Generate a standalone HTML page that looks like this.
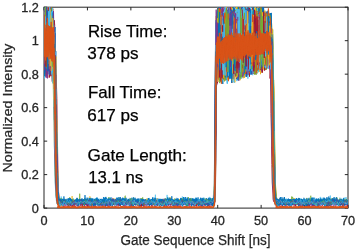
<!DOCTYPE html>
<html><head><meta charset="utf-8"><style>
html,body{margin:0;padding:0;background:#fff;}
svg{display:block;font-family:"Liberation Sans",sans-serif;will-change:transform;}
</style></head><body>
<svg width="357" height="250" viewBox="0 0 357 250">
<defs><clipPath id="c"><rect x="44.0" y="7.2" width="304.0" height="201.4"/></clipPath></defs>
<rect x="44.0" y="7.2" width="304.0" height="200.9" fill="none" stroke="#262626" stroke-width="1"/>
<path d="M44.00,208.1v-3.2M44.00,7.2v3.2M87.43,208.1v-3.2M87.43,7.2v3.2M130.86,208.1v-3.2M130.86,7.2v3.2M174.29,208.1v-3.2M174.29,7.2v3.2M217.71,208.1v-3.2M217.71,7.2v3.2M261.14,208.1v-3.2M261.14,7.2v3.2M304.57,208.1v-3.2M304.57,7.2v3.2M348.00,208.1v-3.2M348.00,7.2v3.2M44.0,208.10h3.2M348.0,208.10h-3.2M44.0,174.62h3.2M348.0,174.62h-3.2M44.0,141.13h3.2M348.0,141.13h-3.2M44.0,107.65h3.2M348.0,107.65h-3.2M44.0,74.17h3.2M348.0,74.17h-3.2M44.0,40.68h3.2M348.0,40.68h-3.2M44.0,7.20h3.2M348.0,7.20h-3.2" stroke="#262626" stroke-width="1" fill="none"/>
<g clip-path="url(#c)"><g fill="none" stroke-linejoin="round">
<path d="M57.2 194.3L57.7 196.4L58.1 201.6L58.6 197.9L59.4 198.3L59.9 201.3L60.3 201.2L60.7 202.6L61.2 196.5L61.6 201.0L62.0 198.1L62.5 201.8L63.3 203.5L63.8 201.4L64.2 199.1L64.6 202.8L65.1 198.9L65.9 202.5L66.4 201.6L66.8 201.5L67.2 200.8L67.7 201.6L68.5 201.2L69.0 202.5L69.4 202.9L69.8 200.8L70.3 199.3L70.7 203.3L71.1 200.7L71.6 201.8L72.0 202.4L72.4 199.3L73.3 198.2L73.8 202.0L74.2 200.1L74.6 201.1L75.1 202.0L75.5 199.7L76.4 199.7L76.8 200.8L77.2 202.6L77.7 200.9L78.5 199.1L79.0 202.3L79.4 200.8L79.8 203.6L80.3 199.6L80.7 202.5L81.1 203.8L81.6 200.8L82.0 198.9L82.4 203.3L83.3 202.0L83.7 202.6L84.2 200.1L84.6 202.1L85.5 199.8L85.9 202.0L86.3 200.0L86.8 202.4L87.2 202.8L87.6 203.8L88.1 197.6L88.5 201.3L89.4 200.8L89.8 200.5L90.3 200.7L90.7 197.5L91.1 202.5L91.6 198.6L92.4 203.0L92.9 199.5L93.3 199.4L93.7 202.3L94.2 203.1L94.6 201.3L95.0 198.4L95.5 205.5L96.3 202.5L96.8 197.3L97.2 202.5L97.6 201.2L98.1 203.3L98.9 198.4L99.4 199.4L99.8 199.9L100.2 202.2L100.7 199.3L101.1 201.4L101.5 200.8L102.4 200.9L102.8 202.6L103.3 200.8L103.7 200.8L104.2 198.6L104.6 197.6L105.5 202.0L105.9 200.8L106.3 201.8L106.8 202.0L107.2 200.8L107.6 202.5L108.1 199.7L108.5 200.9L109.4 197.4L109.8 202.0L110.2 202.3L110.7 201.1L111.1 201.7L111.5 200.3L112.4 203.0L112.8 200.6L113.3 203.0L113.7 201.8L114.1 201.2L114.6 204.2L115.4 200.5L115.9 201.0L116.3 201.4L116.7 197.7L117.2 202.4L117.6 201.2L118.5 200.6L118.9 202.7L119.4 200.3L119.8 200.5L120.2 201.0L120.7 201.5L121.1 199.8L121.5 203.5L122.4 200.3L122.8 200.3L123.3 200.1L123.7 201.8L124.1 201.2L124.6 199.7L125.4 200.4L125.9 203.3L126.3 199.8L126.7 198.8L127.2 199.0L127.6 200.3L128.0 203.3L128.5 199.2L129.3 205.0L129.8 197.9L130.2 203.2L130.6 202.9L131.1 201.8L131.5 198.6L132.4 200.3L132.8 197.8L133.2 198.1L133.7 200.9L134.6 198.7L135.0 201.9L135.4 200.0L135.9 200.1L136.3 200.5L136.7 199.1L137.2 202.0L137.6 200.8L138.5 199.8L138.9 198.9L139.3 200.1L139.8 201.3L140.2 200.1L140.6 202.4L141.1 203.5L141.5 199.8L142.4 200.2L142.8 203.6L143.2 201.3L143.7 201.7L144.5 204.5L145.0 201.3L145.4 199.2L145.8 200.1L146.3 201.7L146.7 200.8L147.1 199.5L147.6 205.4L148.0 200.9L148.9 199.6L149.3 197.9L149.8 198.8L150.2 200.2L150.6 200.2L151.1 199.4L151.5 201.6L152.4 199.2L152.8 197.5L153.2 201.0L153.7 200.8L154.5 198.5L155.0 200.8L155.4 194.7L155.8 202.4L156.3 201.0L156.7 201.1L157.1 199.4L157.6 199.0L158.0 203.3L158.9 200.2L159.3 201.8L159.7 203.3L160.2 199.0L160.6 199.9L161.5 201.5L161.9 199.0L162.3 201.1L162.8 198.9L163.2 202.3L163.6 202.2L164.5 201.9L165.0 199.6L165.4 200.3L165.8 199.2L166.3 200.6L166.7 201.3L167.1 194.9L167.6 201.8L168.4 198.7L168.9 197.0L169.3 197.4L169.7 200.6L170.2 200.4L170.6 198.2L171.5 202.4L171.9 200.5L172.3 200.0L172.8 202.1L173.2 203.5L173.6 203.1L174.1 199.6L174.5 202.0L175.4 200.4L175.8 199.7L176.2 201.3L176.7 199.9L177.5 201.3L178.0 202.4L178.4 198.8L178.8 200.8L179.3 202.0L179.7 201.3L180.2 201.1L180.6 199.6L181.0 203.4L181.9 201.4L182.3 196.5L182.8 199.1L183.2 200.9L183.6 199.5L184.1 197.3L184.9 201.3L185.4 198.7L185.8 199.9L186.2 199.6L186.7 201.6L187.1 197.5L188.0 199.8L188.4 199.6L188.8 204.1L189.3 199.7L189.7 201.1L190.1 200.0L190.6 199.6L191.4 203.6L191.9 198.2L192.3 202.0L192.7 201.3L193.2 201.7L193.6 201.3L194.0 204.6L194.5 198.7L195.4 198.9L195.8 197.4L196.2 200.7L196.7 203.8L197.5 202.8L198.0 201.6L198.4 200.6L198.8 204.1L199.3 200.2L199.7 203.3L200.1 200.2L201.0 201.3L201.4 200.9L201.9 201.6L202.3 201.8L202.7 203.6L203.2 200.8L203.6 197.6L204.0 197.4L204.9 199.6L205.3 201.9L205.8 198.3L206.2 200.8L206.6 200.8L207.5 200.6L207.9 201.5L208.4 200.9L208.8 198.7L209.2 201.4L209.7 196.9L210.6 201.1L211.0 199.8L211.4 199.5L211.9 202.6L212.3 201.1L212.7 199.2L213.2 200.3L213.6 200.4L214.0 197.4L214.5 198.1L214.9 186.8M275.2 195.3L275.6 201.0L276.1 199.7L276.9 200.8L277.4 204.2L277.8 199.2L278.2 201.4L278.7 201.5L279.1 201.2L280.0 200.1L280.4 202.9L280.8 202.3L281.3 200.2L281.7 200.5L282.1 201.4L282.6 201.7L283.0 202.1L283.9 198.8L284.3 200.0L284.7 198.2L285.2 199.3L285.6 201.5L286.0 199.4L286.9 203.6L287.4 202.9L287.8 201.4L288.2 201.3L288.7 201.6L289.5 204.3L290.0 199.9L290.4 203.1L290.8 201.8L291.3 201.4L291.7 202.7L292.1 203.0L293.0 200.8L293.4 199.7L293.9 199.8L294.3 202.4L294.7 202.1L295.2 202.3L295.6 200.0L296.0 204.1L296.5 198.7L297.3 202.0L297.8 200.2L298.2 199.0L298.6 200.2L299.5 200.5L299.9 198.7L300.4 198.6L300.8 200.9L301.2 198.3L301.7 200.5L302.1 200.6L302.6 202.3L303.4 199.4L303.9 202.9L304.3 199.6L304.7 200.2L305.2 200.3L305.6 204.4L306.5 199.6L306.9 202.0L307.3 200.6L307.8 204.7L308.2 199.6L308.6 201.8L309.1 199.3L309.5 203.8L310.4 201.1L310.8 199.4L311.2 202.3L311.7 201.8L312.1 197.0L312.5 202.1L313.4 201.2L313.8 202.4L314.3 198.7L314.7 197.8L315.1 201.9L315.6 203.6L316.0 198.8L316.9 199.4L317.3 198.8L317.8 202.2L318.2 201.0L318.6 203.1L319.1 203.1L319.5 199.1L320.4 196.9L320.8 200.6L321.2 201.8L321.7 199.4L322.1 197.7L323.0 202.8L323.4 200.1L323.8 198.4L324.3 201.6L324.7 202.0L325.1 199.0L325.6 200.5L326.0 202.6L326.4 201.4L327.3 200.2L327.7 200.6L328.2 198.8L328.6 199.5L329.0 203.4L329.9 199.2L330.3 195.5L330.8 199.0L331.2 201.7L331.6 202.3L332.5 198.1L333.0 204.3L333.4 199.0L333.8 201.9L334.3 201.2L334.7 203.1L335.1 203.0L336.0 201.3L336.4 200.1L336.9 204.6L337.3 199.5L337.7 202.7L338.2 202.5L338.6 199.6L339.5 203.3L339.9 197.6L340.3 202.2L340.8 200.3L341.2 200.4L341.6 198.4L342.5 199.0L342.9 202.0L343.4 198.9L343.8 202.0L344.2 201.3L344.7 197.6L345.5 200.5L346.0 197.0L346.4 200.1L346.8 202.1L347.3 199.5L347.7 202.7" stroke="#4DBEEE" stroke-width="0.7"/>
<path d="M57.1 178.6L57.6 193.4L58.0 197.6L58.9 199.2L59.3 201.7L59.8 199.8L60.2 201.7L60.6 203.7L61.1 198.0L61.9 202.0L62.4 200.6L62.8 203.4L63.2 203.1L63.7 201.8L64.1 201.9L65.0 199.4L65.4 201.8L65.8 200.3L66.3 200.2L66.7 202.7L67.1 200.7L67.6 202.5L68.0 199.5L68.9 201.0L69.3 203.1L69.7 197.2L70.2 202.2L70.6 200.0L71.5 202.3L71.9 199.7L72.3 200.0L72.8 202.0L73.2 199.3L73.7 201.5L74.5 200.9L75.0 202.2L75.4 201.7L75.8 201.3L76.3 198.8L76.7 198.8L77.1 201.5L77.6 198.6L78.4 200.5L78.9 199.7L79.3 200.6L79.7 193.7L80.2 200.7L80.6 202.9L81.0 199.1L81.5 201.7L82.3 205.6L82.8 199.6L83.2 199.8L83.6 199.9L84.5 198.5L84.9 201.1L85.4 199.7L85.8 202.2L86.2 201.6L86.7 199.5L87.1 200.5L87.5 203.1L88.4 201.3L88.9 202.3L89.3 200.4L89.7 201.7L90.2 203.4L90.6 202.7L91.0 198.4L91.5 203.4L92.3 200.1L92.8 200.1L93.2 202.9L93.6 201.6L94.5 199.9L94.9 202.0L95.4 202.8L95.8 199.6L96.2 199.4L96.7 200.5L97.1 202.0L97.5 200.5L98.4 199.8L98.8 203.0L99.3 200.9L99.7 201.3L100.1 202.7L100.6 200.7L101.4 201.7L101.9 200.5L102.3 203.2L102.7 201.1L103.2 200.4L103.6 200.6L104.1 199.4L104.9 203.3L105.4 200.7L105.8 198.7L106.2 197.9L106.7 200.1L107.1 202.4L107.5 199.9L108.4 203.3L108.8 197.1L109.3 200.6L109.7 200.0L110.6 198.3L111.0 200.6L111.4 199.2L111.9 202.6L112.3 203.2L112.7 198.9L113.2 198.8L113.6 200.3L114.0 200.7L114.9 202.1L115.3 198.8L115.8 200.1L116.2 200.3L116.6 200.5L117.1 199.5L117.5 200.3L118.4 202.8L118.8 200.3L119.3 197.8L119.7 201.8L120.1 201.3L121.0 199.6L121.4 200.1L121.9 203.5L122.3 200.3L122.7 202.9L123.2 202.3L123.6 200.2L124.0 201.5L124.9 196.3L125.3 195.7L125.8 200.0L126.2 202.4L126.6 202.0L127.5 201.9L127.9 202.7L128.4 202.1L128.8 201.4L129.2 202.6L129.7 203.2L130.1 203.1L130.5 198.3L131.4 199.5L131.8 199.5L132.3 201.6L132.7 200.1L133.1 203.2L133.6 197.6L134.0 199.3L134.9 202.8L135.3 200.5L135.8 203.9L136.2 202.2L136.6 199.9L137.5 201.8L137.9 199.6L138.4 202.6L138.8 200.6L139.2 201.8L139.7 202.3L140.5 202.6L141.0 198.2L141.4 201.9L141.8 198.1L142.3 202.7L142.7 197.3L143.1 202.9L143.6 203.1L144.4 200.0L144.9 203.0L145.3 199.3L145.7 202.3L146.2 200.9L146.6 200.5L147.5 203.8L147.9 198.6L148.3 200.2L148.8 201.7L149.2 202.6L149.7 203.6L150.1 203.1L150.5 200.2L151.4 202.8L151.8 201.9L152.3 198.7L152.7 201.6L153.1 201.9L153.6 199.0L154.4 201.0L154.9 202.0L155.3 203.4L155.7 202.8L156.2 201.8L156.6 201.4L157.5 200.2L157.9 200.7L158.3 200.7L158.8 202.6L159.2 204.3L159.6 201.9L160.1 202.5L160.9 201.5L161.4 202.9L161.8 202.7L162.2 201.2L162.7 200.9L163.1 202.1L163.5 200.3L164.4 202.6L164.9 201.0L165.3 198.2L165.7 202.1L166.2 199.3L166.6 199.0L167.5 202.3L167.9 198.0L168.3 200.9L168.8 201.5L169.2 201.4L169.6 200.2L170.5 201.3L170.9 199.1L171.4 202.2L171.8 202.6L172.2 199.9L172.7 200.0L173.1 199.4L173.5 202.7L174.4 200.3L174.8 198.4L175.3 202.9L175.7 200.7L176.1 201.5L176.6 203.5L177.0 202.1L177.4 199.4L178.3 202.2L178.7 199.8L179.2 199.6L179.6 199.6L180.1 202.3L180.9 199.5L181.4 202.1L181.8 199.7L182.2 199.8L182.7 198.7L183.1 202.8L183.5 205.0L184.4 202.6L184.8 201.3L185.3 200.1L185.7 201.3L186.1 202.1L187.0 200.5L187.4 201.1L187.9 202.0L188.3 197.0L188.7 199.8L189.2 202.3L189.6 202.6L190.0 201.7L190.5 203.5L191.3 202.2L191.8 199.7L192.2 201.7L192.6 199.9L193.1 203.1L193.9 201.2L194.4 201.4L194.8 199.4L195.3 202.0L195.7 199.5L196.1 200.7L197.0 204.1L197.4 203.0L197.9 200.0L198.3 199.0L198.7 200.8L199.2 199.9L199.6 201.7L200.5 202.1L200.9 199.6L201.3 200.6L201.8 199.7L202.2 201.6L202.6 200.2L203.5 202.3L203.9 198.5L204.4 200.7L204.8 201.1L205.2 198.8L205.7 199.5L206.5 200.3L207.0 202.7L207.4 202.0L207.8 202.6L208.3 199.2L208.7 203.9L209.1 200.0L209.6 202.3L210.0 202.5L210.9 200.7L211.3 200.1L211.8 198.4L212.2 200.5L212.6 199.7L213.1 202.0L213.5 200.0L214.4 201.1L214.8 193.2M275.2 194.7L275.6 198.0L276.0 201.9L276.5 197.5L277.3 199.6L277.8 202.8L278.2 201.6L278.6 201.9L279.5 202.8L279.9 200.4L280.4 200.7L280.8 200.5L281.2 201.8L281.7 199.1L282.1 200.8L282.5 205.2L283.4 201.2L283.8 199.6L284.3 201.5L284.7 201.4L285.2 202.1L285.6 200.1L286.0 201.7L286.9 202.2L287.3 200.2L287.8 201.9L288.2 203.6L288.6 200.1L289.1 202.1L289.9 200.5L290.4 199.3L290.8 199.5L291.2 201.9L291.7 196.5L292.1 203.0L292.5 196.9L293.4 199.0L293.8 201.5L294.3 204.2L294.7 198.8L295.1 200.9L295.6 200.9L296.0 201.0L296.4 200.1L297.3 203.5L297.7 199.4L298.2 201.9L298.6 198.6L299.0 198.5L299.9 201.6L300.4 203.9L300.8 200.8L301.2 200.3L301.7 201.2L302.5 202.3L303.0 203.0L303.4 200.7L303.8 199.8L304.3 199.5L304.7 202.2L305.6 200.2L306.0 201.8L306.4 201.3L306.9 197.9L307.3 200.8L307.7 199.7L308.2 201.7L308.6 201.0L309.0 203.7L309.9 199.3L310.3 197.9L310.8 195.7L311.2 200.0L311.6 201.0L312.1 202.0L312.5 198.0L313.4 202.3L313.8 199.7L314.2 202.6L314.7 203.7L315.1 202.6L315.6 203.6L316.4 199.4L316.9 201.4L317.3 200.7L317.7 199.3L318.2 199.2L318.6 201.8L319.0 199.1L319.9 201.1L320.3 200.4L320.8 203.2L321.2 202.3L321.6 201.2L322.1 200.1L322.5 201.6L323.4 199.6L323.8 198.9L324.2 199.9L324.7 199.2L325.1 201.7L326.0 200.6L326.4 201.5L326.8 201.8L327.3 198.6L327.7 201.4L328.1 202.5L328.6 200.3L329.0 198.3L329.4 200.9L330.3 201.7L330.8 201.8L331.2 202.1L331.6 201.3L332.1 198.3L332.5 202.8L333.4 202.6L333.8 201.4L334.2 199.8L334.7 200.1L335.5 201.4L336.0 200.5L336.4 202.6L336.8 197.2L337.3 201.4L337.7 200.8L338.1 202.8L338.6 201.8L339.0 203.0L339.4 199.6L340.3 200.2L340.7 202.1L341.2 201.8L341.6 199.1L342.5 203.8L342.9 200.5L343.3 202.8L343.8 201.7L344.2 199.7L344.6 202.3L345.5 202.1L346.0 198.8L346.4 199.1L346.8 201.8L347.3 201.4L347.7 202.3" stroke="#77AC30" stroke-width="0.7"/>
<path d="M57.4 191.5L57.8 199.3L58.2 196.8L58.7 198.9L59.5 200.1L60.0 202.6L60.4 203.2L60.8 201.6L61.3 202.1L61.7 202.9L62.1 202.0L62.6 202.8L63.4 201.5L63.9 200.5L64.3 202.1L64.8 203.3L65.2 203.2L65.6 201.8L66.1 199.4L66.9 202.3L67.4 200.2L67.8 203.0L68.2 200.1L68.7 202.0L69.1 200.4L70.0 201.8L70.4 201.0L70.8 202.9L71.3 201.6L71.7 200.0L72.1 196.0L72.6 200.5L73.4 202.8L73.9 200.0L74.3 203.7L74.7 202.5L75.2 201.0L75.6 203.1L76.0 199.4L76.9 202.2L77.3 202.2L77.8 203.2L78.2 203.3L78.6 200.9L79.1 200.6L80.0 201.1L80.4 202.2L80.8 201.0L81.3 203.4L81.7 201.5L82.1 199.5L83.0 202.1L83.4 201.9L83.9 199.6L84.3 199.1L84.7 203.5L85.2 202.0L85.6 201.2L86.0 199.8L86.5 202.6L87.3 201.9L87.8 198.3L88.2 200.9L88.6 201.6L89.1 201.9L89.9 196.3L90.4 202.9L90.8 201.2L91.2 203.3L91.7 202.5L92.5 203.2L93.0 202.4L93.4 202.8L93.8 200.8L94.3 200.4L94.7 201.8L95.2 203.0L95.6 200.4L96.0 204.2L96.9 200.5L97.3 200.6L97.8 200.2L98.2 201.8L98.6 203.2L99.5 200.7L99.9 202.5L100.4 202.4L100.8 203.3L101.2 203.0L101.7 200.3L102.1 200.9L102.5 203.0L103.4 202.2L103.8 200.7L104.3 203.0L104.7 201.7L105.1 204.3L105.6 203.2L106.4 200.3L106.9 203.0L107.3 202.5L107.7 200.4L108.2 202.0L108.6 202.2L109.5 201.2L109.9 200.0L110.4 200.4L110.8 202.2L111.2 201.6L111.7 201.5L112.1 203.3L113.0 200.2L113.4 203.6L113.8 198.2L114.3 201.1L114.7 201.6L115.6 200.8L116.0 199.8L116.4 202.0L116.9 201.8L117.3 201.8L117.7 198.9L118.2 200.2L118.6 202.7L119.5 202.4L119.9 201.4L120.3 201.2L120.8 198.4L121.2 203.9L121.6 200.1L122.1 200.9L122.5 202.4L123.4 202.1L123.8 201.4L124.2 200.1L124.7 203.5L125.6 202.0L126.0 199.4L126.4 200.9L126.9 199.8L127.3 200.7L127.7 200.0L128.2 201.4L128.6 202.6L129.0 200.5L129.9 198.6L130.3 204.1L130.8 201.7L131.2 200.0L131.6 203.1L132.1 201.8L132.5 198.6L133.4 202.6L133.8 199.5L134.2 199.9L134.7 200.4L135.1 200.9L136.0 202.6L136.4 202.1L136.8 200.5L137.3 201.3L137.7 199.0L138.1 201.9L138.6 204.7L139.0 201.9L139.9 200.9L140.3 201.4L140.8 202.5L141.2 199.4L141.6 202.3L142.1 200.5L142.9 203.0L143.4 199.5L143.8 204.8L144.2 202.6L144.7 200.9L145.1 201.9L145.5 200.4L146.4 202.0L146.8 198.5L147.3 201.7L147.7 201.6L148.1 202.9L148.6 202.4L149.0 200.6L149.9 201.4L150.3 202.4L150.7 200.5L151.2 203.7L151.6 201.9L152.5 202.6L152.9 201.2L153.3 202.3L153.8 202.5L154.2 199.0L154.6 200.4L155.1 199.8L155.5 201.4L156.4 200.4L156.8 199.8L157.3 198.2L157.7 201.7L158.1 201.1L159.0 206.1L159.4 203.3L159.9 201.4L160.3 200.6L160.7 202.2L161.2 199.9L161.6 199.7L162.0 202.0L162.9 199.1L163.3 200.8L163.8 202.7L164.2 199.4L164.6 201.6L165.5 199.3L165.9 202.1L166.4 200.0L166.8 200.4L167.2 199.8L167.7 200.6L168.1 202.5L169.0 200.2L169.4 201.9L169.8 197.5L170.3 201.7L170.7 197.5L171.2 199.9L171.6 200.4L172.5 201.7L172.9 200.8L173.3 200.3L173.8 200.4L174.2 201.8L174.6 200.8L175.1 200.3L175.9 205.5L176.4 202.6L176.8 202.4L177.2 201.7L177.7 201.2L178.1 200.2L179.0 201.6L179.4 201.4L179.8 199.0L180.3 200.2L180.7 201.0L181.1 199.3L181.6 200.9L182.0 204.1L182.4 200.9L183.3 201.6L183.7 200.0L184.2 200.8L184.6 201.8L185.0 200.2L185.9 201.3L186.4 201.0L186.8 201.1L187.2 201.9L187.7 202.0L188.1 201.4L189.0 203.1L189.4 199.7L189.8 201.7L190.3 201.4L190.7 201.6L191.6 201.4L192.0 201.3L192.4 202.5L192.9 200.2L193.3 202.3L193.7 200.0L194.2 204.0L194.6 202.8L195.0 200.1L195.9 202.3L196.3 200.9L196.8 202.8L197.2 201.3L197.6 204.4L198.5 202.3L198.9 200.7L199.4 200.2L199.8 202.5L200.2 199.2L200.7 202.2L201.6 204.6L202.0 199.3L202.4 201.5L202.9 202.3L203.3 202.4L203.7 202.9L204.2 199.6L204.6 201.5L205.0 199.0L205.9 204.6L206.3 200.3L206.8 201.9L207.2 201.7L207.6 199.3L208.1 201.8L208.5 199.8L209.4 202.4L209.8 200.7L210.2 202.2L210.7 199.8L211.1 200.1L211.5 201.3L212.4 200.6L212.8 201.8L213.3 200.1L213.7 201.4L214.1 197.9L214.6 195.8L215.0 158.1M275.2 199.0L275.6 200.4L276.5 201.3L276.9 199.3L277.3 200.7L277.8 199.8L278.2 205.5L278.7 200.9L279.5 198.7L280.0 201.3L280.4 203.7L280.8 200.6L281.3 202.2L281.7 203.8L282.1 202.2L283.0 199.7L283.4 200.4L283.9 202.8L284.3 198.0L284.7 202.9L285.2 201.5L285.6 203.3L286.0 199.6L286.5 200.8L287.3 201.2L287.8 201.4L288.2 201.1L288.6 203.9L289.1 200.0L289.9 201.9L290.4 201.4L290.8 200.9L291.2 199.2L291.7 200.8L292.1 201.3L293.0 203.4L293.4 202.1L293.9 201.3L294.3 198.1L294.7 201.2L295.2 200.3L295.6 200.8L296.5 200.5L296.9 201.1L297.3 201.4L297.8 200.7L298.2 203.7L298.6 199.7L299.1 203.1L299.5 200.2L300.4 199.9L300.8 201.3L301.2 202.6L301.7 199.9L302.1 201.1L303.0 201.2L303.4 200.0L303.8 200.2L304.3 201.0L304.7 203.4L305.1 201.9L305.6 201.2L306.0 198.9L306.9 201.5L307.3 199.7L307.7 201.5L308.2 201.4L308.6 201.1L309.1 203.3L309.5 200.0L310.4 201.7L310.8 202.9L311.2 201.0L311.7 199.5L312.5 202.8L313.0 200.8L313.4 203.5L313.8 204.3L314.3 201.9L314.7 202.3L315.6 202.1L316.0 200.9L316.4 201.6L316.9 202.1L317.3 201.9L317.7 200.5L318.2 200.0L318.6 200.1L319.0 200.4L319.5 205.7L320.3 201.7L320.8 201.0L321.2 203.5L321.6 199.4L322.1 200.9L322.5 202.2L323.4 201.8L323.8 202.3L324.3 200.6L324.7 201.9L325.1 203.2L326.0 201.5L326.4 202.8L326.9 199.6L327.3 202.8L327.7 199.0L328.2 200.1L328.6 202.6L329.5 199.7L329.9 201.6L330.3 202.9L330.8 201.2L331.2 198.7L331.6 203.3L332.1 200.6L332.9 201.5L333.4 198.7L333.8 201.7L334.2 199.9L334.7 200.5L335.1 198.8L336.0 203.0L336.4 200.4L336.8 201.1L337.3 199.7L337.7 200.8L338.1 199.9L338.6 201.3L339.5 200.8L339.9 198.4L340.3 202.2L340.8 199.7L341.2 200.7L341.6 201.1L342.5 200.7L342.9 203.3L343.4 203.1L343.8 200.4L344.2 203.4L344.7 199.4L345.1 201.7L345.5 201.0L346.4 200.7L346.8 201.7L347.3 201.8L347.7 201.5" stroke="#EDB120" stroke-width="0.7"/>
<path d="M57.4 199.7L57.8 203.1L58.3 203.0L58.7 203.9L59.1 203.5L59.6 205.2L60.0 204.7L60.4 204.3L61.3 205.5L61.7 202.6L62.2 205.1L62.6 203.7L63.5 203.2L63.9 207.2L64.3 202.2L64.8 204.9L65.2 206.1L65.7 204.5L66.1 202.0L67.0 206.1L67.4 205.2L67.8 203.1L68.3 206.3L68.7 204.8L69.1 205.0L69.6 202.1L70.4 203.1L70.9 205.4L71.3 205.6L71.7 203.5L72.2 203.9L72.6 206.6L73.5 203.9L73.9 205.3L74.3 204.4L74.8 204.3L75.2 205.2L75.6 205.3L76.5 204.9L76.9 206.2L77.4 204.7L77.8 206.4L78.2 204.5L78.7 204.7L79.1 205.8L80.0 202.4L80.4 203.1L80.9 206.2L81.3 203.1L81.7 204.4L82.2 204.7L82.6 205.3L83.0 204.6L83.5 203.0L84.3 205.1L84.8 205.4L85.2 205.1L85.6 203.9L86.1 202.5L86.5 205.9L87.4 205.1L87.8 205.5L88.2 204.2L88.7 204.0L89.1 206.3L90.0 203.2L90.4 204.3L90.8 204.0L91.3 205.2L91.7 205.1L92.1 204.1L92.6 205.2L93.0 205.9L93.9 203.6L94.3 205.8L94.7 203.4L95.2 203.8L95.6 205.6L96.5 204.7L96.9 203.9L97.4 203.9L97.8 206.1L98.2 206.2L98.7 203.4L99.1 204.5L99.5 204.1L100.4 202.8L100.8 206.0L101.3 203.4L101.7 205.6L102.6 203.1L103.0 206.2L103.4 204.2L103.9 204.9L104.3 205.0L104.7 204.6L105.2 205.8L105.6 205.7L106.5 203.6L106.9 205.3L107.3 206.3L107.8 201.9L108.2 203.4L108.6 204.2L109.1 205.8L109.9 204.3L110.4 205.7L110.8 202.8L111.3 204.5L111.7 204.2L112.1 205.8L113.0 205.5L113.4 204.3L113.9 204.9L114.3 205.0L114.7 204.3L115.2 204.4L115.6 202.9L116.5 205.8L116.9 204.6L117.3 202.9L117.8 205.3L118.2 204.6L118.6 205.0L119.1 204.2L119.9 205.6L120.4 204.9L120.8 203.5L121.2 203.4L121.7 203.6L122.1 203.6L123.0 205.0L123.4 203.6L123.8 206.0L124.3 204.7L124.7 206.8L125.1 205.1L125.6 205.4L126.0 206.0L126.5 204.0L127.3 205.0L127.8 204.9L128.2 205.5L128.6 203.0L129.5 204.4L129.9 206.1L130.4 205.2L130.8 205.0L131.2 205.0L131.7 205.3L132.5 202.8L133.0 204.8L133.4 204.8L133.8 205.1L134.3 201.7L134.7 202.8L135.1 204.0L135.6 203.8L136.0 205.4L136.9 204.4L137.3 204.5L137.7 205.6L138.2 205.5L138.6 204.0L139.0 204.3L139.5 207.0L140.3 203.2L140.8 205.4L141.2 204.3L141.7 206.3L142.1 203.7L143.0 206.1L143.4 205.0L143.8 201.9L144.3 205.3L144.7 206.1L145.6 204.4L146.0 202.7L146.4 206.1L146.9 206.5L147.3 205.0L147.7 204.2L148.2 204.2L148.6 203.4L149.0 206.3L149.9 204.8L150.3 203.7L150.8 204.1L151.2 205.1L151.6 205.8L152.1 203.6L152.9 201.5L153.4 204.8L153.8 202.8L154.2 206.0L154.7 205.2L155.5 205.2L156.0 205.6L156.4 205.2L156.9 204.7L157.3 205.1L157.7 203.9L158.2 204.7L158.6 204.6L159.0 202.9L159.9 204.4L160.3 204.6L160.8 204.5L161.2 204.0L161.6 205.5L162.1 203.3L162.5 202.8L163.4 205.2L163.8 206.4L164.2 205.1L164.7 204.4L165.1 203.7L166.0 205.0L166.4 202.9L166.8 205.4L167.3 203.4L167.7 203.6L168.1 206.1L168.6 204.3L169.0 205.3L169.9 206.7L170.3 206.4L170.7 204.1L171.2 205.1L171.6 204.3L172.1 205.8L172.9 204.9L173.4 206.4L173.8 206.5L174.2 204.1L174.7 204.4L175.1 205.7L176.0 203.9L176.4 202.5L176.8 205.6L177.3 203.9L177.7 202.2L178.6 202.9L179.0 207.6L179.4 203.0L179.9 204.6L180.3 206.8L180.7 203.7L181.2 203.4L181.6 203.2L182.0 203.2L182.9 205.5L183.3 205.1L183.8 204.7L184.2 204.2L184.6 205.2L185.1 204.6L185.5 203.6L186.4 202.0L186.8 202.1L187.3 205.9L187.7 205.3L188.1 206.1L189.0 204.0L189.4 205.8L189.9 205.8L190.3 204.9L190.7 203.7L191.2 205.0L191.6 205.0L192.0 203.6L192.9 204.1L193.3 203.5L193.8 205.8L194.2 204.4L194.6 205.3L195.1 203.4L195.9 205.8L196.4 203.1L196.8 206.0L197.2 203.3L197.7 204.4L198.5 205.9L199.0 205.0L199.4 204.6L199.8 205.4L200.3 204.0L200.7 206.2L201.1 204.6L201.6 204.6L202.0 206.8L202.5 204.3L203.3 207.5L203.8 205.3L204.2 204.9L204.6 203.6L205.1 205.2L205.5 202.9L206.4 203.4L206.8 203.1L207.2 204.2L207.7 205.3L208.5 203.5L209.0 204.3L209.4 204.9L209.8 206.4L210.3 203.8L210.7 204.2L211.1 206.1L211.6 204.5L212.4 204.7L212.9 203.7L213.3 203.6L213.7 205.2L214.2 197.8L214.6 159.9L215.0 84.4M275.3 201.8L275.8 201.3L276.2 204.7L276.6 203.6L277.1 207.4L277.9 203.8L278.4 205.2L278.8 204.5L279.2 206.6L279.7 202.9L280.1 204.0L280.6 204.7L281.4 204.3L281.9 203.1L282.3 204.5L282.7 206.4L283.2 205.0L283.6 203.2L284.5 205.2L284.9 204.0L285.3 204.6L285.8 204.0L286.2 206.5L286.6 205.7L287.1 203.9L287.5 205.0L288.4 202.5L288.8 205.1L289.2 204.4L289.7 205.3L290.5 204.8L291.0 206.4L291.4 207.1L291.8 203.1L292.3 204.8L292.7 203.4L293.1 204.6L293.6 204.5L294.4 203.9L294.9 206.1L295.3 203.3L295.8 205.8L296.2 204.5L296.6 201.8L297.5 202.8L297.9 205.1L298.4 204.0L298.8 204.6L299.2 204.2L299.7 205.7L300.5 204.3L301.0 206.5L301.4 205.7L301.8 204.0L302.3 205.4L302.7 205.7L303.1 206.0L303.6 204.5L304.0 205.1L304.4 204.5L305.3 202.6L305.7 205.2L306.2 206.9L306.6 204.6L307.5 204.5L307.9 206.5L308.3 203.4L308.8 204.7L309.2 204.7L309.6 206.5L310.5 204.8L311.0 203.2L311.4 205.2L311.8 206.1L312.3 204.6L312.7 205.7L313.1 204.2L313.6 205.9L314.4 205.0L314.9 204.7L315.3 205.3L315.7 205.6L316.2 204.8L316.6 205.4L317.0 204.5L317.9 207.3L318.3 204.8L318.8 203.1L319.2 204.4L319.6 204.0L320.1 204.2L320.9 206.2L321.4 203.8L321.8 203.5L322.2 204.1L322.7 204.2L323.1 204.3L323.5 204.7L324.4 204.7L324.8 204.3L325.3 205.8L325.7 205.4L326.2 204.1L326.6 205.1L327.0 207.4L327.5 204.6L328.3 202.5L328.8 203.9L329.2 203.9L329.6 205.4L330.1 206.0L330.9 204.7L331.4 205.6L331.8 204.5L332.2 203.9L332.7 204.0L333.5 207.1L334.0 204.7L334.4 205.4L334.8 204.2L335.3 202.8L335.7 202.8L336.1 204.4L336.6 203.4L337.0 202.8L337.4 204.6L338.3 203.7L338.7 204.7L339.2 205.2L339.6 205.5L340.5 205.4L340.9 203.8L341.4 205.1L341.8 203.0L342.2 203.3L342.7 206.1L343.5 205.1L344.0 203.1L344.4 204.1L344.8 204.7L345.3 203.9L345.7 205.3L346.6 204.2L347.0 204.8L347.4 204.2L347.9 205.8" stroke="#7E2F8E" stroke-width="0.7"/>
<path d="M57.4 194.0L57.9 202.3L58.3 201.3L58.7 204.9L59.2 205.9L59.6 204.0L60.0 201.5L60.9 204.3L61.3 204.8L61.8 204.2L62.2 203.2L62.7 206.1L63.1 206.6L63.5 202.3L64.4 202.6L64.8 204.1L65.3 202.7L65.7 205.1L66.1 203.8L66.6 202.6L67.4 204.9L67.9 203.4L68.3 205.2L68.7 206.1L69.2 203.8L69.6 202.8L70.5 205.9L70.9 203.4L71.3 203.6L71.8 204.9L72.2 207.3L72.6 203.2L73.1 203.4L73.9 206.4L74.4 206.1L74.8 203.2L75.2 203.5L75.7 203.8L76.5 204.0L77.0 205.0L77.4 204.8L77.9 205.4L78.3 204.1L78.7 204.9L79.2 203.3L79.6 203.6L80.5 202.3L80.9 205.7L81.3 203.9L81.8 203.2L82.2 202.9L82.6 207.0L83.1 203.2L83.9 202.7L84.4 207.0L84.8 205.2L85.2 204.5L85.7 204.9L86.1 202.8L86.5 205.2L87.4 203.8L87.8 206.1L88.3 205.6L88.7 205.0L89.1 204.3L89.6 203.3L90.4 203.4L90.9 206.3L91.3 208.0L91.7 204.8L92.2 203.9L92.6 204.8L93.1 205.6L93.9 202.2L94.4 204.5L94.8 205.3L95.2 205.4L95.7 202.1L96.1 204.5L97.0 203.0L97.4 203.2L97.8 205.5L98.3 203.3L98.7 203.4L99.6 203.2L100.0 205.1L100.4 204.5L100.9 205.0L101.3 203.5L101.7 205.2L102.2 204.0L102.6 205.7L103.5 204.8L103.9 204.6L104.3 204.3L104.8 204.6L105.2 204.7L105.6 206.8L106.1 203.1L106.5 205.1L107.4 205.4L107.8 203.2L108.3 205.5L108.7 203.8L109.1 203.0L109.6 202.5L110.4 203.7L110.9 205.8L111.3 202.9L111.7 203.0L112.2 203.4L112.6 203.5L113.5 205.0L113.9 203.1L114.3 202.9L114.8 205.6L115.2 203.3L115.6 204.1L116.5 204.1L116.9 203.1L117.4 203.2L117.8 203.4L118.2 206.0L118.7 203.4L119.5 205.7L120.0 203.6L120.4 206.0L120.8 203.4L121.3 202.4L121.7 205.0L122.1 203.3L122.6 203.9L123.0 203.6L123.5 206.0L124.3 204.2L124.8 203.5L125.2 204.4L125.6 203.1L126.1 204.1L126.9 202.8L127.4 204.2L127.8 203.2L128.2 204.1L128.7 203.8L129.1 205.0L130.0 203.0L130.4 204.5L130.8 203.5L131.3 203.9L131.7 205.7L132.1 204.0L132.6 202.9L133.4 206.4L133.9 204.1L134.3 205.1L134.7 202.2L135.2 204.4L135.6 204.4L136.0 205.1L136.5 204.1L137.3 205.4L137.8 204.4L138.2 205.3L138.7 202.9L139.1 205.7L139.5 204.5L140.4 206.0L140.8 202.5L141.3 206.8L141.7 202.7L142.1 206.0L143.0 201.8L143.4 206.8L143.9 206.0L144.3 202.9L144.7 204.2L145.2 205.0L145.6 204.4L146.0 205.5L146.9 202.7L147.3 204.8L147.8 204.2L148.2 203.0L148.6 202.1L149.1 205.1L149.5 204.0L150.4 205.1L150.8 204.8L151.2 205.1L151.7 206.4L152.1 206.7L153.0 204.2L153.4 203.0L153.9 205.0L154.3 204.6L154.7 203.6L155.2 203.5L155.6 204.5L156.5 202.2L156.9 204.8L157.3 204.9L157.8 206.2L158.2 203.9L158.6 204.7L159.1 202.2L159.5 204.8L160.4 203.3L160.8 202.5L161.2 205.9L161.7 202.6L162.1 204.4L163.0 204.7L163.4 204.8L163.8 204.8L164.3 207.1L164.7 203.8L165.1 204.3L165.6 205.5L166.0 204.4L166.4 201.7L167.3 204.8L167.7 202.4L168.2 205.3L168.6 204.6L169.1 205.0L169.9 203.5L170.4 203.7L170.8 205.2L171.2 204.5L171.7 204.3L172.5 204.4L173.0 205.2L173.4 205.2L173.8 204.3L174.3 205.6L174.7 203.9L175.1 204.6L175.6 205.4L176.4 204.9L176.9 204.6L177.3 204.2L177.7 204.6L178.2 205.4L178.6 202.7L179.5 204.3L179.9 203.3L180.3 204.0L180.8 204.7L181.2 204.3L181.6 201.3L182.5 203.2L182.9 204.8L183.4 203.7L183.8 201.8L184.3 203.9L184.7 203.2L185.6 203.6L186.0 202.6L186.4 204.1L186.9 203.8L187.3 205.1L187.7 201.4L188.2 204.0L188.6 204.3L189.0 202.8L189.5 204.9L190.3 205.3L190.8 204.4L191.2 204.8L191.6 203.8L192.1 204.5L192.5 205.1L193.4 204.5L193.8 205.0L194.2 203.3L194.7 203.6L195.5 205.7L196.0 203.8L196.4 205.8L196.8 204.2L197.3 204.3L197.7 205.1L198.1 205.3L198.6 205.2L199.0 202.1L199.5 204.7L200.3 203.3L200.8 203.9L201.2 203.2L201.6 205.8L202.1 205.6L202.5 200.6L203.4 204.7L203.8 204.2L204.2 203.3L204.7 205.7L205.5 204.4L206.0 203.6L206.4 204.2L206.8 205.0L207.3 205.4L207.7 207.1L208.1 203.3L208.6 206.0L209.4 202.5L209.9 204.9L210.3 203.7L210.7 204.6L211.2 203.6L211.6 204.4L212.0 205.0L212.5 202.9L213.3 205.8L213.8 203.8L214.2 199.2L214.7 186.3L215.1 130.4M275.1 197.0L275.6 201.1L276.0 201.8L276.4 201.8L276.9 202.7L277.3 204.1L277.7 204.2L278.2 204.2L278.6 204.1L279.5 203.5L279.9 205.2L280.3 205.3L280.8 204.0L281.2 205.1L281.6 204.7L282.1 206.7L282.5 203.5L283.4 204.6L283.8 203.9L284.2 204.2L284.7 205.2L285.1 202.2L285.6 204.9L286.4 202.4L286.9 205.1L287.3 204.3L287.7 205.3L288.2 203.2L288.6 204.8L289.0 205.6L289.5 202.9L290.3 205.4L290.8 203.1L291.2 204.2L291.6 201.4L292.1 202.5L292.5 205.0L293.4 205.4L293.8 204.3L294.2 204.4L294.7 203.6L295.1 204.3L295.5 206.1L296.4 202.8L296.8 203.1L297.3 204.6L297.7 204.6L298.1 204.6L298.6 204.4L299.0 206.3L299.4 203.4L300.3 204.3L300.8 207.2L301.2 204.2L301.6 202.9L302.1 206.9L302.5 202.7L303.4 205.2L303.8 206.2L304.2 203.1L304.7 204.1L305.1 203.8L306.0 205.3L306.4 203.4L306.8 205.5L307.3 203.4L307.7 206.3L308.1 205.5L308.6 206.0L309.0 203.0L309.4 206.4L310.3 203.7L310.7 204.2L311.2 202.0L311.6 202.4L312.5 203.6L312.9 206.5L313.3 205.4L313.8 204.8L314.2 204.6L314.6 206.0L315.1 205.5L316.0 203.2L316.4 203.9L316.8 204.8L317.3 204.7L317.7 204.1L318.6 204.7L319.0 206.3L319.4 203.7L319.9 203.3L320.3 204.0L320.7 203.9L321.2 204.0L321.6 202.1L322.0 204.2L322.5 205.9L323.3 203.6L323.8 203.2L324.2 203.6L324.6 203.5L325.1 204.2L325.5 206.1L326.4 206.4L326.8 204.9L327.2 205.9L327.7 204.3L328.5 206.6L329.0 203.6L329.4 203.6L329.8 206.0L330.3 204.3L330.7 203.6L331.2 204.7L331.6 203.5L332.5 203.2L332.9 204.2L333.3 204.6L333.8 203.8L334.2 203.5L334.6 204.1L335.5 205.3L335.9 204.8L336.4 205.1L336.8 204.2L337.2 204.2L337.7 204.5L338.1 204.4L339.0 202.7L339.4 203.1L339.8 205.1L340.3 204.0L340.7 204.8L341.1 204.5L341.6 204.7L342.0 205.1L342.9 207.2L343.3 204.2L343.7 203.1L344.2 205.5L344.6 203.9L345.5 204.1L345.9 205.3L346.4 204.7L346.8 204.6L347.2 207.1L347.7 204.2" stroke="#A2142F" stroke-width="0.7"/>
<style>.b{stroke:#0072BD}.o{stroke:#D95319}.y{stroke:#EDB120}.p{stroke:#7E2F8E}.g{stroke:#77AC30}.c{stroke:#4DBEEE}.r{stroke:#A2142F}</style>
<g stroke-width="0.85">
<path class="c" d="M233.9 14.7L234.3 29.3L234.7 52.6L235.2 66.9L235.6 72.3L236.0 26.1M262.4 51.9L262.9 56.5L263.3 64.0L263.7 44.2L264.2 62.5L264.6 33.0"/>
<path class="b" d="M211.7 203.8L212.5 204.6"/>
<path class="r" d="M272.7 190.0L273.1 199.3L273.5 201.0L274.0 202.2L275.3 202.7"/>
<path class="c" d="M60.3 203.8L61.2 202.1"/>
<path class="p" d="M227.3 42.3L227.7 47.9L228.2 27.7L228.6 52.7L229.0 16.2L229.5 56.2"/>
<path class="b" d="M266.1 62.6L266.5 57.9L267.0 65.0L267.4 38.6L267.8 26.3L268.3 14.2"/>
<path class="p" d="M245.1 35.6L245.5 41.3L245.9 42.6L246.4 32.0L246.8 71.2"/>
<path class="b" d="M52.8 12.4L53.2 66.4L53.7 27.3L54.1 43.2L54.5 83.1L55.0 33.4"/>
<path class="g" d="M240.9 40.5L241.4 70.5L241.8 48.3L242.2 34.8L242.7 39.1L243.1 56.0"/>
<path class="c" d="M229.9 37.4L230.3 68.6L230.7 53.1L231.2 11.3L231.6 76.9L232.0 47.1"/>
<path class="b" d="M274.2 197.8L274.6 200.5L275.9 203.9L276.4 205.4M248.9 15.7L249.3 21.5L249.7 42.3L250.2 58.1L250.6 69.5L251.0 59.3"/>
<path class="r" d="M271.1 36.7L271.5 39.7L272.0 85.6L272.4 92.1L272.8 107.3"/>
<path class="b" d="M58.6 204.1L59.9 201.8L60.3 206.0L61.6 202.5"/>
<path class="g" d="M250.3 13.5L250.7 68.6L251.1 36.6L251.6 20.0L252.0 10.1"/>
<path class="b" d="M258.4 43.0L258.8 39.1L259.2 64.4L259.7 64.9L260.1 51.8L260.6 14.8"/>
<path class="o" d="M50.1 43.9L50.5 69.1L51.0 30.1L51.4 47.2L51.8 36.7"/>
<path class="g" d="M270.0 14.8L270.4 43.6L270.9 64.3L271.3 61.0L271.7 40.3"/>
<path class="c" d="M58.0 200.8L58.4 202.2L59.7 203.7"/>
<path class="y" d="M245.9 41.9L246.3 19.7L246.8 69.5L247.2 52.4L247.6 34.8L248.1 68.9"/>
<path class="c" d="M223.0 42.8L223.5 49.8L223.9 20.7L224.3 22.9L224.8 73.9L225.2 66.9"/>
<path class="o" d="M271.9 94.1L272.3 111.8L272.7 139.9L273.2 169.5L273.6 186.3"/>
<path class="g" d="M270.0 51.1L270.4 58.5L270.9 47.5L271.3 81.4L271.7 95.2L272.2 113.3"/>
<path class="o" d="M54.8 109.1L55.3 117.3L55.7 146.5L56.1 172.9L56.6 185.0L57.0 195.0M221.0 11.8L221.5 30.2L221.9 63.7L222.3 70.8L222.8 13.8L223.2 76.4"/>
<path class="c" d="M272.8 131.8L273.3 158.6L273.7 175.7L274.1 188.9L274.6 195.7M250.7 21.0L251.1 41.2L251.6 44.8L252.0 55.3L252.4 23.2L252.9 16.9"/>
<path class="b" d="M245.6 69.8L246.1 68.1L246.5 7.6L246.9 53.5L247.4 49.3L247.8 13.3"/>
<path class="g" d="M214.5 199.0L214.9 179.9L215.4 128.6L215.8 45.0L216.2 56.4L216.7 38.9"/>
<path class="y" d="M253.7 54.4L254.2 56.7L254.6 21.3L255.0 17.2L255.5 23.6"/>
<path class="r" d="M265.1 70.0L265.5 30.8L266.0 40.5L266.4 34.1L266.8 25.4M277.4 201.5L277.9 203.9L278.3 205.3L279.2 203.5"/>
<path class="o" d="M60.3 201.7L61.2 204.3"/>
<path class="c" d="M248.9 58.5L249.3 62.4L249.8 19.9L250.2 19.0L250.6 73.1"/>
<path class="y" d="M223.8 15.4L224.2 5.5L224.6 13.5L225.1 18.4L225.5 60.4"/>
<path class="o" d="M226.7 25.4L227.2 46.4L227.6 47.0L228.0 25.2L228.5 81.2L228.9 55.1"/>
<path class="b" d="M255.6 41.8L256.0 28.5L256.5 23.8L256.9 34.6L257.3 25.4L257.8 34.1"/>
<path class="c" d="M45.4 26.0L45.8 44.6L46.2 33.7L46.7 62.5L47.1 39.2"/>
<path class="r" d="M221.8 52.9L222.3 51.8L222.7 16.7L223.1 14.3L223.6 43.1L224.0 55.0"/>
<path class="g" d="M278.7 204.8L279.5 202.3"/>
<path class="p" d="M48.6 6.6L49.0 58.9L49.5 57.4L49.9 52.6L50.3 27.7L50.8 29.9M227.2 62.3L227.6 70.7L228.0 56.9L228.5 64.3L228.9 38.8"/>
<path class="r" d="M228.5 20.2L228.9 7.4L229.4 16.7L229.8 61.0L230.2 31.2L230.7 19.7"/>
<path class="g" d="M261.7 32.5L262.2 27.2L262.6 11.6L263.0 46.6L263.5 44.4L263.9 26.5"/>
<path class="b" d="M44.0 21.3L44.5 56.5L44.9 35.1L45.3 34.6"/>
<path class="o" d="M211.9 202.7L213.2 204.2L213.7 202.6"/>
<path class="y" d="M267.0 67.3L267.5 42.6L267.9 34.7L268.3 31.4L268.8 55.8L269.2 35.7"/>
<path class="c" d="M241.6 46.9L242.0 36.8L242.5 46.6L242.9 52.1L243.3 60.6L243.8 51.2"/>
<path class="b" d="M260.8 44.6L261.2 9.3L261.6 36.4L262.1 9.2L262.5 54.1L262.9 14.8"/>
<path class="p" d="M278.8 201.2L279.3 203.3"/>
<path class="b" d="M231.0 59.3L231.4 70.9L231.9 17.6L232.3 38.8L232.7 49.4L233.2 32.4"/>
<path class="o" d="M236.7 25.6L237.2 55.6L237.6 67.9L238.0 12.1L238.5 46.4L238.9 32.4"/>
<path class="y" d="M265.4 32.2L265.9 63.3L266.3 26.4L266.7 60.4L267.2 60.5L267.6 37.0M227.1 49.3L227.5 40.7L227.9 68.0L228.4 76.6L228.8 21.8L229.2 65.2"/>
<path class="c" d="M220.7 18.9L221.1 49.7L221.5 67.6L222.0 14.9L222.4 36.8L222.8 23.8M247.7 62.4L248.1 26.2L248.5 13.2L249.0 44.8L249.4 38.3L249.9 29.3M252.6 26.5L253.0 13.6L253.4 21.5L253.9 24.1L254.3 67.4L254.7 40.6"/>
<path class="y" d="M215.8 66.7L216.2 16.0L216.7 80.7L217.1 37.2L217.5 6.2L218.0 43.6M277.4 202.2L277.9 203.9L278.8 202.8L279.2 205.0M265.9 50.7L266.4 41.0L266.8 26.8L267.2 64.7L267.7 64.7"/>
<path class="o" d="M246.2 27.5L246.6 76.4L247.0 52.2L247.5 38.0L247.9 32.8"/>
<path class="g" d="M238.3 24.1L238.7 73.2L239.2 32.6L239.6 33.4L240.0 36.7"/>
<path class="c" d="M258.5 72.2L259.0 63.2L259.4 13.2L259.8 29.1L260.3 60.9"/>
<path class="g" d="M236.5 31.1L237.0 73.3L237.4 63.7L237.8 63.4L238.3 24.9L238.7 23.3"/>
<path class="c" d="M238.8 37.3L239.2 55.7L239.7 43.4L240.1 16.0L240.5 37.3L241.0 32.9"/>
<path class="b" d="M219.1 36.8L219.5 11.3L220.0 71.3L220.4 47.0L220.8 68.9"/>
<path class="c" d="M230.1 50.1L230.6 11.5L231.0 68.9L231.4 57.2L231.9 35.4L232.3 69.6"/>
<path class="b" d="M246.7 29.0L247.1 73.0L247.5 74.3L248.0 14.1L248.4 57.3M223.9 18.4L224.3 74.5L224.8 71.3L225.2 49.8L225.6 15.7"/>
<path class="y" d="M220.1 12.4L220.6 46.1L221.0 73.7L221.4 20.4L221.9 52.1"/>
<path class="p" d="M258.4 20.6L258.8 48.9L259.3 10.0L259.7 61.1L260.2 70.3"/>
<path class="r" d="M262.9 23.7L263.4 37.2L263.8 25.5L264.2 34.2L264.7 50.5L265.1 70.0"/>
<path class="y" d="M277.6 202.1L278.5 204.0L279.8 201.5"/>
<path class="o" d="M221.1 80.5L221.5 21.0L221.9 8.2L222.4 83.2L222.8 45.0L223.2 40.4M216.8 21.9L217.2 35.0L217.6 38.0L218.1 43.7L218.5 27.3"/>
<path class="c" d="M218.7 40.2L219.1 38.0L219.5 21.2L220.0 53.1L220.4 51.7"/>
<path class="b" d="M237.8 79.5L238.2 54.7L238.7 64.4L239.1 36.5L239.5 52.0L240.0 42.0"/>
<path class="y" d="M56.6 146.9L57.0 166.2L57.4 181.0L57.9 191.9L58.3 197.3"/>
<path class="c" d="M277.7 204.0L278.2 200.8L279.5 202.6M275.0 199.4L275.4 204.1L277.6 204.0"/>
<path class="b" d="M55.1 115.3L55.5 140.1L56.0 170.2L56.4 183.3L56.8 195.3L57.3 198.5"/>
<path class="y" d="M234.0 44.6L234.4 19.0L234.9 40.3L235.3 33.5L235.7 29.5M250.1 46.3L250.6 36.4L251.0 45.2L251.5 13.7L251.9 46.8"/>
<path class="r" d="M270.0 49.9L270.5 30.0L270.9 53.1L271.3 65.9L271.8 91.1"/>
<path class="b" d="M274.9 186.0L275.3 196.0L275.7 197.9L276.2 199.6L277.1 205.1"/>
<path class="r" d="M49.7 32.4L50.1 57.9L50.6 58.9L51.0 31.2L51.4 31.0"/>
<path class="g" d="M55.0 95.4L55.4 110.3L55.8 146.8L56.3 164.7L56.7 188.6L57.1 195.7"/>
<path class="c" d="M240.7 50.0L241.1 12.8L241.6 24.6L242.0 45.0L242.4 67.6L242.9 61.5"/>
<path class="p" d="M235.8 63.3L236.3 45.5L236.7 50.9L237.1 13.4L237.6 72.8L238.0 24.0"/>
<path class="b" d="M60.3 202.5L61.6 204.4"/>
<path class="c" d="M228.7 49.8L229.1 63.2L229.5 59.2L230.0 55.6L230.4 32.5"/>
<path class="b" d="M232.1 10.4L232.5 48.8L233.0 36.8L233.4 30.7L233.8 57.2L234.3 41.7"/>
<path class="g" d="M244.8 39.5L245.2 43.6L245.6 23.2L246.1 62.3L246.5 64.2"/>
<path class="y" d="M241.0 30.1L241.4 68.9L241.8 47.9L242.3 37.8L242.7 37.1L243.1 78.3"/>
<path class="o" d="M277.5 204.9L278.4 205.9L278.8 201.6"/>
<path class="b" d="M47.3 33.8L47.7 18.3L48.1 21.2L48.6 66.5L49.0 39.3L49.4 46.5"/>
<path class="p" d="M246.3 21.1L246.7 53.7L247.1 72.7L247.6 60.6L248.0 54.9L248.4 35.0"/>
<path class="c" d="M260.0 46.7L260.4 61.9L260.8 31.5L261.3 59.0L261.7 36.7"/>
<path class="b" d="M44.1 65.8L44.5 29.4"/>
<path class="o" d="M277.3 204.0L278.2 202.3L278.6 204.6"/>
<path class="g" d="M274.7 185.3L275.2 192.2L275.6 197.7L276.0 200.6L277.8 204.4M56.7 193.0L57.1 196.9L57.6 200.6L58.0 201.4L58.9 202.3"/>
<path class="r" d="M258.9 46.3L259.3 22.9L259.8 60.3L260.2 29.1L260.6 54.0"/>
<path class="b" d="M221.0 30.0L221.5 69.3L221.9 33.5L222.3 34.0L222.8 38.0L223.2 18.7"/>
<path class="y" d="M257.6 28.6L258.1 16.9L258.5 53.6L258.9 37.9L259.4 15.7L259.8 31.7"/>
<path class="p" d="M222.8 6.9L223.3 70.7L223.7 48.1L224.1 23.5L224.6 18.5L225.0 76.5"/>
<path class="y" d="M44.1 23.2L44.5 53.4L45.0 15.1L45.4 19.2L45.8 10.0L46.3 26.5"/>
<path class="o" d="M266.9 16.6L267.3 43.4L267.8 15.2L268.2 52.8L268.6 30.6M231.8 60.2L232.3 29.5L232.7 44.7L233.1 17.4L233.6 22.1L234.0 27.3"/>
<path class="c" d="M272.0 86.5L272.4 106.3L272.9 147.0L273.3 170.6L273.7 184.3L274.2 195.0"/>
<path class="b" d="M270.8 64.4L271.2 64.7L271.6 107.3L272.1 123.9L272.5 159.5L272.9 171.6"/>
<path class="p" d="M53.1 72.1L53.5 68.7L54.0 63.0L54.4 120.0L54.8 109.1L55.3 149.7"/>
<path class="r" d="M58.6 192.3L59.1 196.1L59.5 198.9L59.9 203.2L60.8 204.0"/>
<path class="c" d="M49.2 11.2L49.6 56.8L50.0 63.5L50.5 54.0L50.9 58.6M249.9 19.5L250.4 48.4L250.8 74.5L251.2 43.4L251.7 58.0L252.1 68.0"/>
<path class="g" d="M228.7 45.4L229.1 42.6L229.6 42.1L230.0 64.1L230.4 35.3L230.9 59.4"/>
<path class="b" d="M243.8 9.5L244.2 62.5L244.7 34.8L245.1 61.7L245.5 24.8L246.0 50.8M271.7 32.2L272.1 39.6L272.6 44.6L273.0 76.6L273.4 104.8L273.9 133.2"/>
<path class="g" d="M277.4 204.5L277.8 202.0L278.2 202.9M230.3 51.9L230.7 51.6L231.2 29.2L231.6 53.0L232.0 21.9"/>
<path class="b" d="M51.2 22.1L51.6 58.5L52.1 47.0L52.5 40.2L52.9 51.4L53.4 34.0"/>
<path class="y" d="M264.0 11.4L264.4 34.7L264.8 44.5L265.3 45.1L265.7 59.6"/>
<path class="c" d="M262.7 33.8L263.1 38.4L263.6 46.8L264.0 55.0L264.4 25.4L264.9 54.1"/>
<path class="b" d="M260.0 52.5L260.4 32.5L260.8 57.8L261.3 35.3L261.7 24.4M234.1 24.3L234.5 27.5L234.9 39.9L235.4 55.7L235.8 27.2L236.2 34.7"/>
<path class="c" d="M232.8 13.1L233.3 34.5L233.7 13.0L234.1 33.6L234.6 67.4L235.0 51.2"/>
<path class="o" d="M52.9 36.5L53.3 33.6L53.7 55.6L54.2 81.2L54.6 72.3M56.2 168.8L56.7 183.2L57.1 195.1L57.5 199.6L58.0 199.7L58.8 202.5"/>
<path class="g" d="M270.2 22.6L270.7 41.7L271.1 19.3L271.5 24.6L272.0 69.7M236.1 61.0L236.6 53.8L237.0 65.3L237.4 31.4L237.9 61.0L238.3 24.1"/>
<path class="b" d="M274.9 183.2L275.4 191.3L275.8 198.3L276.2 199.9L277.5 205.3M244.1 20.7L244.5 50.3L244.9 59.8L245.4 68.1L245.8 45.3L246.2 14.5M267.8 10.8L268.2 50.5L268.6 10.6L269.1 64.7L269.5 35.1L269.9 36.6"/>
<path class="r" d="M260.6 54.0L261.1 50.9L261.5 47.9L261.9 66.5L262.4 47.8L262.8 57.4"/>
<path class="b" d="M270.3 62.1L270.7 60.9L271.2 48.2L271.6 79.0L272.0 106.8L272.5 135.5M232.3 54.4L232.8 18.4L233.2 18.5L233.6 45.2L234.1 24.3M222.5 27.2L223.0 37.7L223.4 52.6L223.8 23.7L224.3 37.0M250.8 64.5L251.2 35.7L251.7 19.0L252.1 61.2L252.5 33.8L253.0 36.4"/>
<path class="p" d="M54.8 33.4L55.3 57.1L55.7 99.8L56.1 96.0L56.6 141.1L57.0 154.2"/>
<path class="b" d="M48.8 58.2L49.2 71.0L49.7 36.6L50.1 5.2L50.5 43.3L51.0 17.0"/>
<path class="p" d="M247.9 75.0L248.3 27.4L248.8 16.4L249.2 23.9L249.6 21.6M231.8 15.6L232.2 15.4L232.7 11.9L233.1 17.2L233.6 56.0L234.0 38.6"/>
<path class="r" d="M211.9 203.8L212.3 203.4L212.7 202.7"/>
<path class="g" d="M252.6 52.6L253.0 21.0L253.5 52.9L253.9 64.2L254.3 42.6L254.8 13.1"/>
<path class="o" d="M217.1 23.4L217.5 75.0L218.0 44.9L218.4 23.5L218.8 41.2L219.3 36.7M48.8 12.8L49.2 53.3L49.6 76.7L50.1 52.7L50.5 46.0L50.9 45.2"/>
<path class="c" d="M240.3 23.7L240.7 25.0L241.2 18.5L241.6 26.1L242.0 42.3L242.5 44.8"/>
<path class="y" d="M58.5 201.6L59.3 204.9L61.1 204.6"/>
<path class="p" d="M230.2 46.1L230.6 30.0L231.1 21.4L231.5 35.9L231.9 46.0L232.4 23.0M260.2 53.4L260.6 55.6L261.0 45.4L261.5 25.9L261.9 19.5"/>
<path class="g" d="M44.4 43.6L44.9 12.9L45.3 76.5"/>
<path class="r" d="M236.6 69.0L237.0 48.3L237.5 29.9L237.9 50.3L238.3 25.8L238.8 32.0"/>
<path class="y" d="M260.1 17.2L260.6 52.1L261.0 16.4L261.4 34.3L261.9 43.4"/>
<path class="b" d="M259.0 30.7L259.5 38.8L259.9 43.5L260.3 26.2L260.8 44.6"/>
<path class="c" d="M219.9 26.6L220.3 67.0L220.7 51.4L221.2 55.2L221.6 64.1L222.0 46.2"/>
<path class="p" d="M255.5 49.1L255.9 43.1L256.4 65.8L256.8 25.5L257.3 49.0"/>
<path class="y" d="M240.2 7.5L240.6 8.1L241.0 56.6L241.5 37.4L241.9 19.8"/>
<path class="o" d="M277.9 203.3L279.2 201.7"/>
<path class="c" d="M217.0 63.9L217.4 13.8L217.8 30.2L218.3 55.6L218.7 60.4L219.1 27.2"/>
<path class="g" d="M272.0 69.7L272.4 67.4L272.9 93.4L273.3 93.0L273.7 127.0L274.2 164.7"/>
<path class="b" d="M269.0 26.1L269.5 37.5L269.9 63.6L270.3 41.4L270.8 64.4"/>
<path class="c" d="M248.4 18.2L248.8 31.9L249.2 59.6L249.7 26.8L250.1 65.4"/>
<path class="b" d="M49.4 39.2L49.9 24.4L50.3 67.4L50.7 67.6L51.2 49.3L51.6 59.8"/>
<path class="r" d="M212.0 204.1L213.8 201.9"/>
<path class="b" d="M263.9 62.0L264.3 56.9L264.7 34.8L265.2 14.9L265.6 65.7L266.0 38.9"/>
<path class="o" d="M231.0 65.3L231.5 14.3L231.9 24.2L232.3 44.5L232.8 76.0L233.2 52.9"/>
<path class="b" d="M226.3 29.7L226.7 32.0L227.1 61.1L227.6 45.9L228.0 11.3L228.4 68.9"/>
<path class="c" d="M50.4 34.9L50.9 53.4L51.3 66.6L51.7 25.3L52.2 63.7L52.6 13.5"/>
<path class="o" d="M58.8 202.5L59.7 201.2L60.1 203.6L61.4 202.5"/>
<path class="b" d="M227.1 55.0L227.5 20.7L228.0 74.9L228.4 60.5L228.8 9.2L229.3 19.2"/>
<path class="p" d="M211.8 203.4L212.3 204.9L212.7 202.2L214.0 201.7"/>
<path class="b" d="M235.6 33.4L236.1 67.7L236.5 65.7L236.9 23.9L237.4 27.4L237.8 79.5"/>
<path class="r" d="M233.0 51.1L233.4 69.7L233.8 64.3L234.3 30.6L234.7 58.7L235.1 40.3"/>
<path class="y" d="M214.0 202.4L214.5 196.1L214.9 166.0L215.3 127.5L215.8 69.1"/>
<path class="g" d="M230.0 14.7L230.5 48.0L230.9 9.6L231.3 78.8L231.8 20.0L232.2 37.1"/>
<path class="o" d="M250.1 16.6L250.5 64.4L250.9 55.7L251.4 20.5L251.8 70.2"/>
<path class="c" d="M220.1 56.3L220.6 62.3L221.0 33.5L221.4 28.8L221.9 10.9L222.3 28.5"/>
<path class="b" d="M211.9 203.7L212.8 203.6L213.6 202.3"/>
<path class="r" d="M49.4 34.7L49.8 43.9L50.2 50.4L50.7 12.9L51.1 42.8L51.5 14.2"/>
<path class="c" d="M211.8 203.8L212.6 201.9L213.5 204.6"/>
<path class="b" d="M276.0 202.4L276.4 202.3L277.7 204.1"/>
<path class="c" d="M232.7 22.2L233.2 69.0L233.6 54.4L234.0 36.0L234.5 21.7L234.9 48.6"/>
<path class="p" d="M60.9 203.1L61.3 201.9"/>
<path class="g" d="M230.0 58.1L230.5 55.3L230.9 42.7L231.3 15.8L231.8 41.8"/>
<path class="b" d="M57.1 178.5L57.5 188.5L57.9 196.0L58.4 200.3L58.8 201.5M51.0 17.0L51.4 55.7L51.8 19.1L52.3 72.5L52.7 61.8"/>
<path class="p" d="M244.5 64.2L245.0 9.6L245.4 11.3L245.8 44.9L246.3 21.1"/>
<path class="b" d="M253.8 24.4L254.2 21.5L254.7 41.5L255.1 14.2L255.5 22.5L256.0 61.8"/>
<path class="o" d="M214.8 191.4L215.2 173.6L215.7 118.6L216.1 64.0L216.5 57.5L217.0 70.6"/>
<path class="r" d="M214.1 204.9L214.9 201.9L215.4 192.3"/>
<path class="p" d="M256.8 27.7L257.2 61.3L257.7 40.7L258.1 12.8L258.5 15.3L259.0 45.0M54.8 114.8L55.2 127.0L55.6 166.6L56.1 178.0L56.5 188.9M265.5 16.6L265.9 42.4L266.4 55.8L266.8 39.8L267.2 58.8"/>
<path class="c" d="M44.8 14.7L45.3 43.1L45.7 56.0L46.1 58.9L46.6 63.0L47.0 27.2"/>
<path class="p" d="M50.4 67.7L50.9 30.9L51.3 19.4L51.7 40.1L52.2 56.1L52.6 27.4"/>
<path class="r" d="M250.1 54.9L250.5 39.3L250.9 27.3L251.4 64.8L251.8 28.6"/>
<path class="b" d="M212.8 201.9L213.7 203.9L214.1 201.6L214.6 196.8L215.0 184.5"/>
<path class="c" d="M215.2 168.3L215.6 90.1L216.1 51.7L216.5 42.8L216.9 75.9L217.4 71.3M212.8 202.3L213.6 203.7L214.1 203.8"/>
<path class="b" d="M271.7 51.7L272.1 56.1L272.5 33.9L273.0 47.2L273.4 69.3L273.8 101.0"/>
<path class="y" d="M45.2 40.7L45.6 12.8L46.1 22.6L46.5 70.9L46.9 37.5"/>
<path class="c" d="M266.8 11.6L267.2 44.3L267.6 12.1L268.1 21.2L268.5 12.5L268.9 49.8"/>
<path class="b" d="M262.3 18.1L262.7 17.6L263.2 59.6L263.6 11.8L264.0 46.4L264.5 33.0"/>
<path class="r" d="M238.9 46.6L239.4 60.6L239.8 65.3L240.2 9.1L240.7 48.6"/>
<path class="b" d="M46.7 58.6L47.2 8.9L47.6 38.1L48.0 73.7L48.5 19.5L48.9 12.0"/>
<path class="c" d="M57.1 190.7L57.5 196.0L57.9 197.8L58.8 201.1L59.7 205.2"/>
<path class="y" d="M56.3 177.9L56.7 189.0L57.1 196.6L57.6 200.5L59.3 204.3"/>
<path class="c" d="M223.8 78.1L224.2 40.6L224.7 19.5L225.1 69.6L225.5 5.2"/>
<path class="b" d="M275.6 191.9L276.0 194.4L276.9 199.2L277.3 202.9L278.6 205.2"/>
<path class="g" d="M227.9 12.5L228.3 30.3L228.7 12.7L229.2 77.7L229.6 56.8L230.0 58.1"/>
<path class="c" d="M264.2 21.5L264.6 31.4L265.0 57.4L265.5 58.3L265.9 33.9"/>
<path class="g" d="M240.6 19.9L241.0 73.7L241.4 56.2L241.9 65.4L242.3 49.3L242.7 65.4"/>
<path class="y" d="M274.1 90.4L274.6 131.9L275.0 159.9L275.4 184.0L275.9 188.9L276.3 197.8"/>
<path class="b" d="M54.9 65.7L55.3 59.7L55.7 88.8L56.2 135.9L56.6 151.8L57.0 173.3"/>
<path class="o" d="M233.2 35.4L233.6 41.8L234.0 20.8L234.5 25.1L234.9 22.6L235.3 41.2"/>
<path class="y" d="M239.6 39.7L240.1 80.2L240.5 44.7L240.9 61.0L241.4 41.2L241.8 75.5"/>
<path class="b" d="M240.0 59.7L240.4 56.5L240.8 69.3L241.3 54.1L241.7 44.8M273.9 186.9L274.3 193.0L274.7 199.7L275.2 199.4L275.6 201.8L276.0 201.0"/>
<path class="c" d="M226.4 72.3L226.8 19.6L227.3 76.6L227.7 64.7L228.1 24.1L228.6 39.3"/>
<path class="b" d="M264.9 55.4L265.4 39.7L265.8 63.6L266.2 39.2L266.7 50.6"/>
<path class="g" d="M218.9 25.3L219.3 72.4L219.7 22.7L220.2 71.9L220.6 56.2M252.2 61.1L252.6 62.3L253.1 44.8L253.5 24.3L253.9 12.6L254.4 53.7M46.7 55.1L47.1 40.8L47.6 49.5L48.0 64.9L48.4 35.7"/>
<path class="r" d="M54.7 25.1L55.1 61.9L55.6 59.4L56.0 72.5L56.4 83.3"/>
<path class="o" d="M240.9 15.3L241.3 32.8L241.7 62.6L242.2 10.4L242.6 27.8L243.0 67.9"/>
<path class="r" d="M260.0 59.5L260.5 38.8L260.9 24.2L261.3 17.8L261.8 47.0"/>
<path class="p" d="M252.3 57.2L252.8 21.6L253.2 8.9L253.6 66.5L254.1 34.6L254.5 31.5"/>
<path class="b" d="M221.7 53.8L222.2 10.1L222.6 62.7L223.0 69.5L223.5 47.5L223.9 66.9"/>
<path class="g" d="M274.9 165.3L275.3 184.0L275.7 190.7L276.2 197.3L276.6 201.9"/>
<path class="y" d="M246.2 52.4L246.7 68.8L247.1 9.7L247.5 16.9L248.0 64.4"/>
<path class="g" d="M215.7 166.3L216.1 96.0L216.6 46.6L217.0 70.1L217.4 17.4L217.9 27.2"/>
<path class="y" d="M54.1 69.7L54.5 68.5L55.0 74.4L55.4 97.5L55.8 116.0L56.3 139.8"/>
<path class="g" d="M240.9 19.0L241.3 52.6L241.7 71.9L242.2 10.0L242.6 9.4"/>
<path class="o" d="M263.1 15.9L263.6 46.0L264.0 64.8L264.4 21.4L264.9 63.2L265.3 37.7"/>
<path class="p" d="M265.7 32.8L266.1 61.7L266.6 50.5L267.0 64.0L267.5 38.8L267.9 17.8"/>
<path class="g" d="M55.2 114.2L55.7 131.1L56.1 158.7L56.5 183.5L57.0 193.9"/>
<path class="y" d="M279.2 203.4L279.6 202.3"/>
<path class="c" d="M254.4 57.5L254.9 27.6L255.3 52.3L255.7 54.9L256.2 22.4"/>
<path class="g" d="M243.9 32.6L244.4 22.0L244.8 8.2L245.2 52.4L245.7 55.7L246.1 16.3"/>
<path class="r" d="M266.6 51.2L267.0 28.6L267.4 36.7L267.9 16.6L268.3 53.4L268.7 51.8M224.4 77.6L224.9 77.3L225.3 56.9L225.8 28.2L226.2 60.6L226.6 38.3"/>
<path class="y" d="M239.8 41.2L240.3 5.5L240.7 7.7L241.1 20.1L241.6 31.9"/>
<path class="g" d="M53.4 52.3L53.8 70.8L54.2 36.6L54.7 78.7L55.1 96.1L55.5 99.2"/>
<path class="o" d="M219.3 36.7L219.7 71.0L220.1 42.1L220.6 50.8L221.0 11.8"/>
<path class="b" d="M231.7 70.6L232.2 75.4L232.6 69.7L233.0 72.4L233.5 43.9L233.9 46.9"/>
<path class="g" d="M278.5 204.1L279.4 201.4"/>
<path class="o" d="M231.5 30.3L231.9 46.4L232.3 57.4L232.8 53.5L233.2 33.7L233.7 36.0"/>
<path class="b" d="M246.4 21.7L246.8 27.3L247.3 60.4L247.7 34.4L248.1 34.4"/>
<path class="y" d="M274.0 182.2L274.4 190.0L274.9 198.0L275.3 202.5L275.7 200.9"/>
<path class="o" d="M52.7 29.6L53.1 69.3L53.5 39.9L54.0 67.5L54.4 82.8L54.8 109.1M243.0 67.9L243.5 59.9L243.9 44.0L244.3 7.9L244.8 19.0M52.5 30.2L52.9 8.7L53.3 62.4L53.8 69.8L54.2 37.6L54.6 53.3"/>
<path class="b" d="M230.5 60.2L230.9 29.8L231.4 19.8L231.8 23.3L232.2 41.9M233.9 62.2L234.3 26.4L234.8 14.5L235.2 15.9L235.6 30.8"/>
<path class="p" d="M268.0 27.2L268.4 55.3L268.8 50.2L269.3 46.2L269.7 60.4L270.1 54.1"/>
<path class="b" d="M247.8 13.3L248.2 21.9L248.7 60.5L249.1 62.4L249.5 17.1L250.0 54.7"/>
<path class="g" d="M234.5 59.6L234.9 32.7L235.3 71.4L235.8 10.1L236.2 20.3L236.6 58.0"/>
<path class="y" d="M218.1 63.8L218.5 72.6L219.0 24.3L219.4 37.8L219.8 11.1L220.3 45.3"/>
<path class="g" d="M45.3 76.5L45.7 42.9L46.2 47.6L46.6 56.6L47.0 63.3L47.5 17.5"/>
<path class="o" d="M54.6 72.3L55.0 81.5L55.5 80.6L55.9 103.5L56.3 149.8L56.8 168.4"/>
<path class="b" d="M55.0 144.1L55.4 174.8L55.9 184.3L56.3 190.9L56.7 199.0"/>
<path class="o" d="M267.1 39.8L267.5 35.5L267.9 46.3L268.4 18.5L268.8 12.9L269.2 31.8"/>
<path class="c" d="M238.9 67.4L239.3 19.3L239.8 13.7L240.2 34.5L240.6 53.9"/>
<path class="g" d="M225.3 48.6L225.7 18.4L226.2 21.4L226.6 58.3L227.0 44.1"/>
<path class="y" d="M248.0 64.4L248.4 13.2L248.8 25.0L249.3 18.9L249.7 33.7L250.1 46.3M272.3 146.6L272.7 166.5L273.2 184.4L273.6 193.8L274.0 198.8M239.2 20.9L239.7 75.3L240.1 43.7L240.5 5.2L241.0 30.1"/>
<path class="p" d="M264.1 17.5L264.5 46.0L264.9 63.9L265.4 18.4L265.8 26.8L266.2 45.9"/>
<path class="b" d="M59.4 204.8L60.7 202.7L61.6 204.8"/>
<path class="c" d="M229.9 66.4L230.3 25.3L230.7 66.0L231.2 63.5L231.6 39.0"/>
<path class="b" d="M278.7 202.0L279.1 204.0"/>
<path class="p" d="M237.9 43.2L238.4 44.7L238.8 80.8L239.2 35.6L239.7 25.2M237.3 56.3L237.7 38.2L238.1 23.3L238.6 17.0L239.0 9.2L239.4 57.6"/>
<path class="y" d="M264.0 19.3L264.4 62.4L264.9 59.9L265.3 54.0L265.7 28.6"/>
<path class="c" d="M264.6 33.0L265.0 50.1L265.5 24.0L265.9 14.0L266.3 16.7"/>
<path class="o" d="M239.3 46.7L239.7 44.4L240.1 41.9L240.6 46.2L241.0 58.0L241.4 13.7"/>
<path class="g" d="M268.7 25.2L269.1 58.5L269.5 55.4L270.0 30.4L270.4 26.8L270.8 25.2M226.5 72.5L227.0 46.8L227.4 47.8L227.8 51.4L228.3 53.7L228.7 45.4"/>
<path class="b" d="M267.1 24.8L267.5 28.7L267.9 54.8L268.4 50.7L268.8 22.3L269.2 40.5"/>
<path class="o" d="M263.2 48.7L263.6 37.3L264.0 56.3L264.5 50.8L264.9 48.9L265.3 65.8M245.3 39.7L245.8 69.6L246.2 25.5L246.6 20.3L247.1 32.5"/>
<path class="c" d="M220.7 53.6L221.2 18.5L221.6 40.7L222.0 41.1L222.5 34.5L222.9 65.1"/>
<path class="b" d="M260.3 61.2L260.7 25.5L261.2 25.5L261.6 20.6L262.0 9.5L262.5 57.3M58.4 201.0L59.7 204.4L60.6 203.2"/>
<path class="y" d="M220.2 51.1L220.6 26.3L221.1 37.4L221.5 68.2L221.9 66.6"/>
<path class="g" d="M52.1 30.3L52.6 51.5L53.0 42.8L53.4 25.7L53.9 43.8L54.3 27.4M238.8 65.7L239.3 33.3L239.7 22.7L240.1 26.7L240.6 19.9"/>
<path class="o" d="M227.1 32.7L227.5 34.0L228.0 65.7L228.4 77.7L228.8 53.1L229.3 15.0"/>
<path class="b" d="M242.3 55.3L242.7 33.3L243.2 6.4L243.6 71.8L244.0 31.0L244.5 41.1M234.9 28.5L235.4 15.4L235.8 40.8L236.2 71.6L236.7 7.7L237.1 72.3M270.5 44.6L271.0 63.3L271.4 65.9L271.8 77.5L272.3 103.1L272.7 132.3"/>
<path class="p" d="M225.8 31.6L226.3 32.5L226.7 36.2L227.1 32.1L227.6 35.4L228.0 36.3"/>
<path class="y" d="M215.8 69.1L216.2 48.1L216.6 64.9L217.1 61.3L217.5 35.6L217.9 67.8"/>
<path class="b" d="M247.1 52.2L247.5 24.0L248.0 17.3L248.4 27.0L248.8 62.2"/>
<path class="c" d="M227.7 28.3L228.1 60.8L228.6 29.5L229.0 62.4L229.4 74.5L229.9 66.4M54.8 73.2L55.3 92.5L55.7 110.6L56.1 132.5L56.6 156.3L57.0 172.8M216.2 83.6L216.7 60.9L217.1 23.0L217.5 30.2L218.0 68.7L218.4 78.0"/>
<path class="y" d="M60.2 202.1L61.5 205.1"/>
<path class="c" d="M265.1 51.5L265.6 56.9L266.0 54.3L266.5 69.2L266.9 33.7L267.3 33.3M249.9 29.3L250.3 53.3L250.7 5.2L251.2 26.8L251.6 74.4"/>
<path class="y" d="M46.1 56.7L46.5 26.3L47.0 61.6L47.4 34.8L47.8 29.0L48.3 19.5"/>
<path class="r" d="M245.3 19.8L245.7 41.2L246.2 52.7L246.6 12.0L247.0 33.1"/>
<path class="g" d="M258.1 39.2L258.5 27.0L259.0 43.7L259.4 44.3L259.8 17.5L260.3 51.3"/>
<path class="o" d="M226.2 75.8L226.6 62.7L227.1 21.0L227.5 23.9L227.9 16.1M267.5 21.4L268.0 47.9L268.4 31.6L268.8 18.3L269.3 38.7L269.7 43.0"/>
<path class="b" d="M275.3 191.8L275.7 195.9L276.2 199.3L277.5 203.8M225.7 27.5L226.1 20.9L226.5 77.1L227.0 39.7L227.4 37.4L227.8 56.9"/>
<path class="o" d="M234.0 27.3L234.4 57.0L234.9 44.4L235.3 50.5L235.7 53.2L236.2 76.9"/>
<path class="b" d="M252.7 68.3L253.2 35.1L253.6 67.4L254.0 34.1L254.5 29.9"/>
<path class="p" d="M60.9 202.5L61.3 203.8"/>
<path class="y" d="M265.7 59.6L266.1 59.0L266.6 68.6L267.0 35.3L267.4 49.7L267.9 38.1"/>
<path class="p" d="M254.5 31.5L254.9 22.4L255.4 26.4L255.8 49.3L256.2 72.4"/>
<path class="r" d="M263.1 36.5L263.5 56.4L264.0 65.0L264.4 51.0L264.8 28.3L265.3 34.4"/>
<path class="g" d="M271.3 41.4L271.8 53.6L272.2 43.4L272.6 34.1L273.1 54.5"/>
<path class="c" d="M54.8 57.3L55.2 81.2L55.6 87.5L56.1 128.6L56.5 154.2L56.9 178.6M244.6 18.7L245.1 53.5L245.5 65.5L245.9 11.2L246.4 25.8"/>
<path class="o" d="M215.4 139.2L215.8 69.1L216.3 83.5L216.7 58.0L217.1 55.7"/>
<path class="r" d="M221.0 58.6L221.4 44.6L221.9 36.6L222.3 28.9L222.7 42.2L223.2 46.6"/>
<path class="c" d="M216.5 21.3L216.9 51.5L217.4 31.6L217.8 62.7L218.2 44.3L218.7 40.2"/>
<path class="b" d="M215.7 101.0L216.1 78.1L216.5 31.6L217.0 60.9L217.4 55.1L217.8 58.6"/>
<path class="g" d="M57.0 193.9L57.4 197.4L57.8 199.5L58.3 203.9L58.7 200.4L60.9 203.4"/>
<path class="c" d="M234.5 39.1L234.9 49.2L235.3 36.7L235.8 41.0L236.2 43.9"/>
<path class="y" d="M237.7 12.8L238.1 59.3L238.6 50.1L239.0 41.7L239.4 60.8L239.9 17.7"/>
<path class="p" d="M248.9 13.2L249.3 22.4L249.8 54.8L250.2 64.7L250.6 21.9L251.1 23.3"/>
<path class="c" d="M262.9 18.3L263.3 18.6L263.7 55.5L264.2 36.7L264.6 49.5"/>
<path class="y" d="M219.9 49.4L220.3 47.3L220.8 25.3L221.2 17.5L221.6 36.3"/>
<path class="c" d="M245.2 52.3L245.6 76.7L246.1 26.1L246.5 18.1L246.9 71.5"/>
<path class="b" d="M247.7 32.4L248.1 74.6L248.6 35.0L249.0 73.3L249.4 12.0L249.9 27.1"/>
<path class="o" d="M217.1 55.7L217.6 35.7L218.0 55.6L218.4 19.3L218.9 45.4L219.3 77.3"/>
<path class="b" d="M227.8 77.8L228.3 35.9L228.7 23.7L229.1 62.6L229.6 56.1L230.0 16.8M60.6 205.0L61.1 203.3"/>
<path class="p" d="M220.2 60.6L220.6 68.7L221.1 27.4L221.5 51.1L221.9 27.6L222.4 42.3"/>
<path class="g" d="M250.5 29.0L251.0 49.1L251.4 47.5L251.8 15.3L252.3 17.0L252.7 63.0"/>
<path class="p" d="M257.9 20.1L258.3 29.8L258.8 15.0L259.2 65.5L259.6 15.3"/>
<path class="o" d="M273.6 186.3L274.0 195.2L274.5 199.5L274.9 200.7L275.3 202.6L276.6 203.3"/>
<path class="r" d="M229.3 41.8L229.7 35.2L230.1 73.4L230.6 62.2L231.0 26.6L231.4 18.0"/>
<path class="b" d="M48.9 12.0L49.3 36.1L49.8 61.9L50.2 52.9L50.7 68.2"/>
<path class="o" d="M229.7 30.5L230.2 66.7L230.6 37.0L231.0 40.8L231.5 30.3"/>
<path class="p" d="M60.9 201.8L61.8 205.1"/>
<path class="g" d="M232.2 37.1L232.6 33.3L233.1 7.3L233.5 57.4L233.9 72.3"/>
<path class="o" d="M236.2 76.9L236.6 59.4L237.0 35.9L237.5 40.6L237.9 53.2"/>
<path class="b" d="M47.3 26.5L47.7 22.4L48.2 58.5L48.6 61.4L49.0 72.0L49.5 24.4"/>
<path class="c" d="M240.4 49.3L240.8 53.0L241.2 15.1L241.7 55.7L242.1 18.5L242.6 76.4"/>
<path class="y" d="M247.0 49.3L247.5 21.4L247.9 54.9L248.4 56.0L248.8 63.2L249.2 20.9"/>
<path class="r" d="M213.0 202.7L214.3 203.7L214.7 199.8L215.1 190.2"/>
<path class="b" d="M53.1 16.2L53.6 43.5L54.0 33.5L54.4 50.6L54.9 65.7M227.1 67.6L227.5 27.8L228.0 73.8L228.4 75.0L228.8 60.5"/>
<path class="c" d="M239.0 63.4L239.4 14.6L239.8 29.7L240.3 8.9L240.7 50.0"/>
<path class="o" d="M230.6 17.0L231.1 11.5L231.5 33.4L232.0 82.9L232.4 53.7L232.8 51.0"/>
<path class="b" d="M47.0 22.6L47.5 25.5L47.9 23.5L48.3 52.3L48.8 32.6M241.7 40.2L242.2 45.6L242.6 21.7L243.0 77.5L243.5 25.9L243.9 74.5"/>
<path class="r" d="M250.6 17.7L251.1 26.3L251.5 49.2L252.0 29.4L252.4 38.5L252.8 24.4"/>
<path class="b" d="M59.2 202.3L59.6 202.8L60.5 204.0L60.9 202.6"/>
<path class="y" d="M267.7 64.7L268.1 16.9L268.5 41.7L269.0 36.1L269.4 19.0L269.8 58.1"/>
<path class="c" d="M262.3 38.9L262.7 58.5L263.1 23.5L263.6 49.2L264.0 38.7L264.4 18.8"/>
<path class="b" d="M238.2 8.7L238.6 62.1L239.0 5.2L239.5 48.0L239.9 25.6L240.3 22.6"/>
<path class="c" d="M216.8 22.5L217.2 59.5L217.6 61.0L218.1 51.7L218.5 41.7L218.9 57.8"/>
<path class="o" d="M257.5 12.0L258.0 49.7L258.4 56.6L258.8 11.7L259.3 47.1L259.7 47.7"/>
<path class="p" d="M44.7 53.1L45.1 42.1L45.6 23.0L46.0 76.4L46.4 56.1L46.9 28.2"/>
<path class="c" d="M44.6 76.2L45.1 20.7L45.5 32.8L45.9 15.4L46.4 26.1L46.8 48.6M248.7 59.4L249.1 63.9L249.5 5.2L250.0 59.0L250.4 19.7M44.3 61.2L44.7 40.7L45.1 47.8L45.6 50.6L46.0 5.2L46.4 53.7"/>
<path class="r" d="M241.1 42.4L241.6 28.9L242.0 68.1L242.4 10.9L242.9 67.3"/>
<path class="c" d="M225.5 5.2L226.0 30.0L226.4 68.6L226.8 49.0L227.3 83.3L227.7 28.3"/>
<path class="r" d="M220.7 59.7L221.1 79.9L221.6 57.2L222.0 51.4L222.4 74.0L222.9 50.5"/>
<path class="b" d="M241.7 44.8L242.2 67.0L242.6 59.8L243.0 32.8L243.5 24.1L243.9 16.9M55.0 33.4L55.4 88.4L55.8 51.1L56.3 94.8L56.7 132.3M224.4 33.9L224.8 51.5L225.3 51.8L225.7 51.7L226.1 13.9"/>
<path class="c" d="M243.9 23.7L244.3 42.8L244.7 69.0L245.2 48.6L245.6 55.0L246.0 55.0"/>
<path class="b" d="M258.8 7.8L259.2 33.4L259.7 39.8L260.1 56.8L260.5 27.3L261.0 17.8"/>
<path class="o" d="M211.9 205.2L212.8 203.2L213.2 202.5"/>
<path class="b" d="M212.5 204.8L213.4 203.2L214.3 202.8"/>
<path class="c" d="M247.8 18.5L248.2 49.3L248.7 45.6L249.1 54.6L249.5 27.5L250.0 55.3"/>
<path class="g" d="M258.8 38.7L259.2 42.8L259.7 41.9L260.1 30.9L260.5 69.5M246.5 64.2L246.9 15.4L247.4 8.0L247.8 65.1L248.3 67.0L248.7 71.2"/>
<path class="o" d="M46.2 31.1L46.7 65.1L47.1 39.3L47.6 26.1L48.0 50.0L48.4 40.0"/>
<path class="c" d="M274.8 195.3L275.3 198.4L275.7 199.1L276.1 202.9L277.9 204.8"/>
<path class="y" d="M225.7 19.6L226.2 70.3L226.6 30.6L227.0 73.5L227.5 35.3L227.9 36.8"/>
<path class="g" d="M246.6 70.9L247.1 36.0L247.5 8.9L247.9 39.9L248.4 69.4L248.8 59.2"/>
<path class="r" d="M46.5 29.2L46.9 52.5L47.3 63.3L47.8 70.4L48.2 8.2L48.6 39.1M270.6 46.2L271.1 31.7L271.5 55.8L271.9 77.4L272.4 123.9L272.8 146.4"/>
<path class="p" d="M55.8 74.9L56.2 122.4L56.6 148.5L57.1 169.5L57.5 188.0"/>
<path class="c" d="M251.3 73.3L251.7 66.2L252.1 41.3L252.6 35.6L253.0 45.3L253.4 24.4"/>
<path class="b" d="M237.1 72.3L237.5 62.5L238.0 35.1L238.4 24.5L238.8 10.3L239.3 38.9"/>
<path class="c" d="M276.4 203.1L278.2 203.1L279.1 205.5"/>
<path class="b" d="M220.6 72.1L221.0 48.6L221.5 66.6L221.9 57.9L222.3 22.4"/>
<path class="y" d="M237.9 67.4L238.4 68.3L238.8 71.3L239.3 38.5L239.7 10.5L240.1 66.1M247.9 37.2L248.3 53.6L248.8 29.9L249.2 53.5L249.6 42.8"/>
<path class="c" d="M268.5 31.4L269.0 32.6L269.4 29.6L269.8 51.6L270.3 41.2L270.7 59.6"/>
<path class="y" d="M228.1 36.5L228.5 51.6L229.0 74.9L229.4 18.0L229.8 38.9L230.3 25.4"/>
<path class="o" d="M275.3 200.9L275.7 202.9L276.2 200.7L277.9 203.3"/>
<path class="c" d="M222.9 65.1L223.3 62.0L223.8 74.9L224.2 36.4L224.6 44.9"/>
<path class="b" d="M214.3 202.6L214.8 198.6L215.2 166.0L215.7 101.0"/>
<path class="r" d="M231.0 58.6L231.4 57.8L231.8 68.0L232.3 16.0L232.7 52.1L233.1 14.1"/>
<path class="o" d="M214.0 202.6L214.5 199.4L214.9 181.1L215.3 118.0L215.8 74.9L216.2 71.7"/>
<path class="r" d="M230.7 19.7L231.1 34.7L231.5 25.0L232.0 25.9L232.4 62.3L232.8 20.6"/>
<path class="c" d="M242.7 17.3L243.1 62.9L243.6 20.7L244.0 54.3L244.4 7.8L244.9 31.5"/>
<path class="o" d="M44.2 58.3L44.7 37.8"/>
<path class="c" d="M47.1 39.2L47.5 44.1L48.0 26.3L48.4 53.7L48.8 37.6L49.3 60.6M260.4 62.4L260.8 49.6L261.2 20.4L261.7 30.6L262.1 50.3L262.5 45.4"/>
<path class="r" d="M237.5 16.4L238.0 38.6L238.4 50.9L238.8 65.5L239.3 56.7"/>
<path class="y" d="M58.0 196.3L58.4 200.8L59.7 205.5L60.2 203.7"/>
<path class="b" d="M228.3 10.2L228.8 13.9L229.2 72.5L229.6 56.6L230.1 46.7L230.5 60.2M266.6 35.7L267.1 26.2L267.5 43.6L267.9 45.7L268.4 16.1"/>
<path class="y" d="M247.9 50.4L248.4 37.9L248.8 41.8L249.2 16.6L249.7 63.9L250.1 37.1M259.9 30.7L260.3 26.2L260.7 52.8L261.2 62.1L261.6 39.3"/>
<path class="c" d="M236.8 29.2L237.2 12.3L237.7 13.1L238.1 56.6L238.5 36.9L239.0 63.4"/>
<path class="o" d="M216.2 71.7L216.6 32.8L217.1 44.9L217.5 29.7L217.9 78.5"/>
<path class="y" d="M219.7 30.9L220.1 45.7L220.5 50.5L221.0 70.1L221.4 36.2L221.8 30.0"/>
<path class="g" d="M258.7 57.3L259.1 14.6L259.5 9.6L260.0 64.7L260.4 34.6L260.8 42.3"/>
<path class="b" d="M270.1 16.9L270.5 48.9L271.0 47.5L271.4 57.3L271.9 62.0L272.3 61.6"/>
<path class="c" d="M253.8 50.3L254.2 61.1L254.6 13.9L255.1 33.2L255.5 49.4"/>
<path class="y" d="M250.1 37.1L250.5 17.5L251.0 47.3L251.4 28.1L251.8 62.4"/>
<path class="p" d="M51.3 44.0L51.8 36.0L52.2 64.2L52.6 41.9L53.1 72.1"/>
<path class="b" d="M249.5 33.4L250.0 62.7L250.4 34.2L250.8 12.8L251.3 44.8L251.7 17.5"/>
<path class="g" d="M214.8 180.9L215.2 133.6L215.7 40.9L216.1 71.3L216.5 21.9"/>
<path class="b" d="M217.8 29.4L218.3 71.1L218.7 18.9L219.1 24.5L219.6 34.7L220.0 81.4M234.3 41.7L234.7 73.9L235.1 57.2L235.6 13.4L236.0 22.3"/>
<path class="c" d="M224.3 65.0L224.8 6.3L225.2 31.8L225.6 49.5L226.1 34.8L226.5 22.1"/>
<path class="y" d="M224.1 74.7L224.5 20.2L224.9 26.6L225.4 36.5L225.8 20.6"/>
<path class="r" d="M270.5 72.0L270.9 113.3L271.4 131.2L271.8 164.6L272.2 182.3L272.7 190.0"/>
<path class="p" d="M218.9 36.6L219.4 8.0L219.8 25.4L220.2 17.8L220.7 71.3L221.1 15.9M255.0 14.6L255.5 28.4L255.9 17.4L256.3 26.3L256.8 27.7"/>
<path class="o" d="M266.1 41.4L266.6 12.9L267.0 61.3L267.4 58.8L267.9 21.5"/>
<path class="r" d="M251.2 23.1L251.6 20.3L252.1 16.5L252.5 8.0L252.9 67.6"/>
<path class="b" d="M214.9 192.2L215.4 157.4L215.8 95.8L216.2 60.3L216.7 23.4L217.1 17.7M259.2 54.2L259.7 49.2L260.1 16.3L260.5 10.2L261.0 68.3"/>
<path class="c" d="M263.4 51.9L263.8 69.3L264.3 58.9L264.7 31.8L265.1 51.5"/>
<path class="r" d="M49.7 66.7L50.1 50.1L50.5 17.5L51.0 63.4L51.4 6.2L51.8 74.3M46.8 11.9L47.3 30.4L47.7 57.0L48.1 71.7L48.6 38.8"/>
<path class="c" d="M267.7 41.2L268.1 28.6L268.5 50.7L269.0 63.6L269.4 63.6L269.8 16.3"/>
<path class="b" d="M254.2 33.9L254.7 31.4L255.1 46.9L255.5 24.5L256.0 52.6L256.4 29.0"/>
<path class="p" d="M273.3 173.0L273.8 186.9L274.2 193.4L274.6 198.7L275.1 199.6L275.5 201.9"/>
<path class="g" d="M260.0 30.0L260.4 62.3L260.9 47.9L261.3 56.6L261.7 50.9L262.2 25.5"/>
<path class="r" d="M55.8 178.5L56.2 186.3L56.6 196.1L57.1 197.9L57.5 202.0M255.0 43.5L255.5 28.4L255.9 66.4L256.3 10.7L256.8 29.5"/>
<path class="c" d="M44.2 52.6L44.6 76.2"/>
<path class="p" d="M278.0 205.2L278.4 204.3L279.7 201.4"/>
<path class="o" d="M262.2 17.8L262.7 46.8L263.1 37.9L263.5 43.6L264.0 14.9"/>
<path class="c" d="M55.6 120.9L56.0 145.1L56.5 173.8L56.9 187.2L57.4 193.3L57.8 197.5"/>
<path class="y" d="M257.9 70.4L258.4 58.5L258.8 44.0L259.2 48.3L259.7 35.1L260.1 41.3"/>
<path class="r" d="M261.4 48.6L261.8 55.1L262.2 63.8L262.7 60.2L263.1 36.5"/>
<path class="b" d="M252.1 32.9L252.5 57.6L252.9 22.1L253.4 67.0L253.8 24.4M46.7 32.7L47.1 31.6L47.6 33.1L48.0 26.5L48.4 49.0M214.3 202.8L214.7 200.8L215.1 184.7L215.6 130.4L216.0 47.7M222.3 21.4L222.8 84.0L223.2 15.5L223.6 24.6L224.1 66.6"/>
<path class="o" d="M256.7 46.9L257.1 60.6L257.6 48.9L258.0 58.2L258.4 23.7L258.9 23.2"/>
<path class="b" d="M54.9 54.7L55.3 90.0L55.8 86.0L56.2 140.7L56.6 143.6L57.1 178.5"/>
<path class="g" d="M57.3 193.0L57.7 198.8L58.6 201.5L59.9 204.1"/>
<path class="o" d="M60.9 204.4L61.8 200.2"/>
<path class="b" d="M224.3 9.9L224.7 32.8L225.1 25.8L225.6 40.7L226.0 14.9"/>
<path class="c" d="M271.7 48.5L272.1 80.0L272.5 107.1L273.0 130.5L273.4 159.4L273.9 182.3"/>
<path class="r" d="M222.9 20.2L223.3 49.8L223.8 21.8L224.2 50.7L224.6 66.3L225.1 21.5"/>
<path class="y" d="M274.0 198.8L275.3 200.8L275.8 202.6L276.6 202.3"/>
<path class="b" d="M256.2 43.5L256.7 68.1L257.1 44.3L257.5 48.7L258.0 34.6L258.4 46.7M256.7 59.5L257.1 21.2L257.6 13.7L258.0 62.7L258.4 52.4L258.9 37.3"/>
<path class="g" d="M214.2 202.9L214.7 199.6L215.1 183.0L215.5 149.3L216.0 58.9M265.3 39.4L265.7 26.6L266.1 24.7L266.6 66.6L267.0 35.2"/>
<path class="b" d="M257.8 70.7L258.2 24.0L258.7 35.2L259.1 38.5L259.5 27.6L260.0 52.5"/>
<path class="g" d="M233.9 21.0L234.4 52.8L234.8 44.8L235.2 52.7L235.7 74.5"/>
<path class="y" d="M51.3 61.0L51.7 46.4L52.1 20.7L52.6 38.4L53.0 63.8"/>
<path class="o" d="M44.0 64.5L44.5 33.6L44.9 12.1L45.3 51.4L45.8 25.7"/>
<path class="b" d="M44.2 34.3L44.7 23.7L45.1 51.5L45.5 29.9"/>
<path class="c" d="M54.0 61.9L54.5 79.0L54.9 86.0L55.4 114.3L55.8 138.5"/>
<path class="p" d="M225.0 76.5L225.4 78.5L225.9 14.3L226.3 26.8L226.7 20.0L227.2 62.3M228.0 36.3L228.5 25.2L228.9 70.3L229.3 42.0L229.8 10.4L230.2 41.9"/>
<path class="o" d="M261.4 50.9L261.8 48.6L262.3 63.5L262.7 62.5L263.1 15.9"/>
<path class="r" d="M237.9 65.7L238.3 33.5L238.8 32.8L239.2 30.2L239.6 64.2L240.1 25.3"/>
<path class="p" d="M50.9 31.6L51.4 23.7L51.8 10.7L52.2 61.0L52.7 43.3L53.1 55.5"/>
<path class="b" d="M59.9 203.5L60.3 203.9L60.8 202.1M246.2 14.5L246.7 17.0L247.1 36.4L247.5 43.3L248.0 16.5L248.4 56.8"/>
<path class="r" d="M254.4 20.1L254.8 20.5L255.3 21.4L255.7 60.6L256.2 21.0L256.6 61.8"/>
<path class="p" d="M216.8 34.8L217.3 66.6L217.7 71.4L218.1 71.3L218.6 27.8L219.0 66.4M56.9 189.9L57.3 193.9L57.7 199.2L58.6 202.3"/>
<path class="o" d="M274.7 194.0L275.2 196.1L275.6 201.2L276.5 200.2L277.3 204.0M264.0 14.9L264.4 68.7L264.8 52.8L265.3 22.7L265.7 42.5L266.1 41.4"/>
<path class="p" d="M255.7 53.0L256.2 35.0L256.6 49.8L257.0 50.8L257.5 24.0L257.9 20.1"/>
<path class="c" d="M55.4 181.5L55.8 190.9L56.3 196.9L56.7 199.5L57.6 202.9"/>
<path class="o" d="M57.9 199.7L58.8 201.3L59.7 205.7L60.1 202.1"/>
<path class="b" d="M44.0 35.1L44.4 50.0L44.9 56.4M249.9 27.1L250.3 26.5L250.7 37.1L251.2 17.3L251.6 15.4L252.1 32.9"/>
<path class="c" d="M278.5 203.7L278.9 204.6"/>
<path class="p" d="M53.6 70.6L54.0 74.4L54.5 49.3L54.9 48.9L55.3 64.1"/>
<path class="g" d="M224.0 37.0L224.4 59.8L224.8 59.1L225.3 75.9L225.7 32.7L226.1 19.3"/>
<path class="b" d="M226.7 32.3L227.2 77.6L227.6 14.5L228.0 53.4L228.5 28.0L228.9 48.0"/>
<path class="g" d="M238.1 72.0L238.5 39.2L239.0 66.5L239.4 45.9L239.8 39.5L240.3 43.0"/>
<path class="c" d="M230.7 53.5L231.1 76.7L231.5 17.1L232.0 20.9L232.4 62.3L232.8 13.1"/>
<path class="b" d="M216.0 47.7L216.4 43.9L216.9 27.6L217.3 53.2L217.7 53.8"/>
<path class="p" d="M215.9 75.2L216.3 40.2L216.7 12.7L217.2 19.0L217.6 58.3L218.0 39.7"/>
<path class="g" d="M49.5 51.8L49.9 39.7L50.3 36.4L50.8 53.1L51.2 16.8M228.3 50.8L228.7 30.6L229.2 59.2L229.6 23.9L230.0 14.7"/>
<path class="c" d="M263.7 31.2L264.2 35.9L264.6 41.7L265.1 48.7L265.5 11.5L265.9 39.6"/>
<path class="b" d="M51.6 59.8L52.0 62.7L52.5 19.6L52.9 51.0L53.3 51.4L53.8 60.7"/>
<path class="p" d="M221.1 15.9L221.5 26.4L222.0 39.1L222.4 15.0L222.8 6.9"/>
<path class="c" d="M49.5 58.2L50.0 20.9L50.4 55.0L50.8 57.0L51.3 26.4L51.7 31.5"/>
<path class="y" d="M251.0 17.9L251.4 67.0L251.8 71.0L252.3 25.9L252.7 59.3L253.1 57.6"/>
<path class="c" d="M226.5 75.3L226.9 41.0L227.4 24.7L227.8 7.8L228.2 35.3L228.7 49.8"/>
<path class="p" d="M59.1 202.1L60.0 204.5L60.9 203.1"/>
<path class="c" d="M236.5 15.6L236.9 63.9L237.3 46.8L237.8 30.6L238.2 14.1L238.6 14.4"/>
<path class="y" d="M270.1 38.7L270.6 36.2L271.0 72.1L271.4 89.6L271.9 123.0L272.3 146.6"/>
<path class="g" d="M237.0 46.9L237.5 74.8L237.9 72.1L238.3 42.2L238.8 61.4L239.2 72.3"/>
<path class="o" d="M238.9 32.4L239.3 72.8L239.8 24.5L240.2 22.6L240.6 50.1"/>
<path class="y" d="M249.9 13.0L250.3 64.4L250.7 65.3L251.2 51.9L251.6 46.0"/>
<path class="o" d="M279.3 203.5L279.7 201.8"/>
<path class="r" d="M230.1 53.3L230.5 38.4L230.9 69.3L231.4 39.1L231.8 27.2"/>
<path class="b" d="M222.1 37.1L222.5 71.3L223.0 65.8L223.4 50.6L223.8 74.8"/>
<path class="y" d="M230.1 25.8L230.6 58.9L231.0 66.2L231.4 53.4L231.9 14.0"/>
<path class="b" d="M234.9 27.3L235.4 41.2L235.8 28.6L236.2 28.5L236.7 39.1L237.1 50.8"/>
<path class="r" d="M48.6 39.1L49.1 59.0L49.5 60.4L49.9 19.4L50.4 45.1"/>
<path class="c" d="M214.7 144.6L215.1 90.9L215.5 74.6L216.0 77.6L216.4 73.6"/>
<path class="g" d="M56.1 137.0L56.6 166.0L57.0 183.8L57.5 193.3L57.9 194.8"/>
<path class="p" d="M44.4 30.9L44.8 16.6"/>
<path class="g" d="M211.8 201.5L213.1 202.0"/>
<path class="c" d="M273.7 111.1L274.2 144.6L274.6 167.5L275.0 185.4L275.5 193.0L275.9 200.1"/>
<path class="o" d="M240.1 34.6L240.5 13.3L241.0 25.2L241.4 52.7L241.8 40.2"/>
<path class="b" d="M262.9 14.8L263.4 5.2L263.8 11.5L264.2 16.6L264.7 50.0"/>
<path class="g" d="M252.0 10.1L252.4 38.3L252.9 42.2L253.3 30.1L253.7 51.3L254.2 41.0"/>
<path class="o" d="M223.7 50.8L224.1 33.1L224.5 41.2L225.0 58.9L225.4 40.7L225.8 73.2"/>
<path class="c" d="M255.0 33.3L255.4 19.3L255.8 24.5L256.3 52.9L256.7 32.4"/>
<path class="r" d="M234.0 54.1L234.4 20.2L234.9 34.9L235.3 60.4L235.7 68.2"/>
<path class="c" d="M228.9 54.8L229.4 32.5L229.8 25.1L230.2 63.7L230.7 53.5"/>
<path class="b" d="M46.6 54.9L47.1 29.3L47.5 27.9L47.9 67.2L48.4 53.0L48.8 58.2"/>
<path class="o" d="M234.8 29.0L235.2 70.4L235.6 14.0L236.1 52.4L236.5 60.0L236.9 41.6"/>
<path class="g" d="M248.8 24.3L249.3 14.7L249.7 33.5L250.1 58.2L250.6 28.6M214.4 201.1L214.8 193.6L215.3 167.7L215.7 111.3L216.1 79.4"/>
<path class="b" d="M224.9 47.7L225.4 15.2L225.8 18.5L226.2 64.4L226.7 74.3L227.1 55.0"/>
<path class="r" d="M251.8 28.6L252.2 60.1L252.7 30.5L253.1 57.8L253.5 31.6L254.0 33.8"/>
<path class="c" d="M225.2 23.1L225.6 16.8L226.1 9.9L226.5 74.5L226.9 12.7L227.4 14.5M254.6 21.8L255.1 7.3L255.5 30.8L255.9 16.0L256.4 20.5"/>
<path class="r" d="M242.7 58.2L243.1 16.7L243.6 46.5L244.0 69.6L244.4 52.2"/>
<path class="g" d="M277.0 201.2L277.5 203.8L278.3 203.5L279.2 203.0"/>
<path class="y" d="M255.9 18.7L256.3 20.4L256.8 19.9L257.2 61.4L257.6 19.7L258.1 14.8"/>
<path class="p" d="M261.2 38.3L261.6 64.5L262.0 23.0L262.5 28.6L262.9 23.9L263.3 41.6"/>
<path class="o" d="M217.0 70.6L217.4 41.5L217.8 13.6L218.3 74.6L218.7 40.9"/>
<path class="r" d="M223.2 46.6L223.6 25.5L224.0 65.1L224.5 63.6L224.9 29.9L225.3 60.0"/>
<path class="y" d="M224.9 52.5L225.3 31.5L225.8 26.3L226.2 24.2L226.6 39.0L227.1 49.3"/>
<path class="c" d="M255.2 56.4L255.6 46.7L256.0 15.1L256.5 69.8L256.9 54.1L257.3 45.5"/>
<path class="g" d="M238.7 23.3L239.1 37.3L239.6 45.6L240.0 55.0L240.4 34.3L240.9 19.0"/>
<path class="y" d="M240.1 66.1L240.6 67.3L241.0 35.4L241.4 49.7L241.9 73.0"/>
<path class="c" d="M270.8 49.7L271.2 28.5L271.6 56.7L272.1 39.4L272.5 43.5"/>
<path class="g" d="M212.7 202.7L213.2 204.1L214.1 202.3L214.5 197.7"/>
<path class="p" d="M232.4 23.0L232.8 28.3L233.2 43.1L233.7 14.0L234.1 41.0L234.5 56.0"/>
<path class="g" d="M240.0 46.0L240.5 30.6L240.9 44.9L241.3 53.2L241.8 33.8"/>
<path class="y" d="M225.5 60.4L225.9 12.3L226.4 5.2L226.8 43.8L227.2 15.5L227.7 15.4"/>
<path class="g" d="M47.9 14.4L48.3 23.8L48.8 18.4L49.2 32.0L49.6 30.7L50.1 58.1"/>
<path class="r" d="M251.4 24.5L251.8 38.4L252.3 53.4L252.7 17.4L253.1 27.1"/>
<path class="b" d="M243.0 5.2L243.4 29.6L243.8 5.2L244.3 55.9L244.7 36.4"/>
<path class="g" d="M222.6 34.4L223.1 74.4L223.5 49.6L223.9 19.2L224.4 71.9L224.8 63.8"/>
<path class="c" d="M273.8 171.6L274.3 184.8L274.7 191.8L275.1 200.4L275.6 199.0L276.0 203.2"/>
<path class="g" d="M248.7 71.2L249.1 11.1L249.6 41.4L250.0 66.9L250.4 69.2L250.9 48.7"/>
<path class="b" d="M230.8 31.2L231.2 28.6L231.7 29.6L232.1 69.0L232.5 22.3L233.0 47.8"/>
<path class="c" d="M60.4 205.1L61.3 202.7"/>
<path class="b" d="M247.8 22.7L248.2 65.0L248.7 15.5L249.1 55.6L249.5 33.4"/>
<path class="g" d="M47.0 34.5L47.4 58.7L47.8 59.5L48.3 38.3L48.7 27.6L49.1 29.4"/>
<path class="y" d="M56.3 139.8L56.7 174.4L57.1 183.5L57.6 194.0L58.0 196.3"/>
<path class="b" d="M268.8 51.4L269.2 44.1L269.7 49.6L270.1 38.0L270.5 42.4L271.0 28.8M55.2 156.9L55.6 180.0L56.0 191.5L56.5 196.4L56.9 200.0"/>
<path class="c" d="M230.7 20.1L231.1 40.4L231.6 21.6L232.0 52.8L232.5 44.5L232.9 19.6"/>
<path class="o" d="M271.0 34.1L271.4 69.6L271.9 58.6L272.3 115.9L272.7 132.7L273.2 163.9M230.1 30.2L230.5 61.5L231.0 19.5L231.4 63.9L231.8 60.2"/>
<path class="c" d="M272.4 44.8L272.9 80.9L273.3 107.5L273.7 137.4L274.2 163.5L274.6 182.7"/>
<path class="g" d="M47.5 17.5L47.9 38.5L48.3 46.1L48.8 62.7L49.2 62.2L49.6 12.8"/>
<path class="y" d="M250.2 56.8L250.7 48.1L251.1 57.9L251.6 70.3L252.0 65.7"/>
<path class="c" d="M214.1 203.8L214.5 203.8L214.9 193.6L215.4 166.2L215.8 121.5L216.2 83.6"/>
<path class="b" d="M278.5 202.2L279.4 204.9"/>
<path class="c" d="M232.5 18.1L232.9 38.9L233.3 73.5L233.8 27.7L234.2 63.6L234.6 29.3M275.9 203.1L277.2 203.4L277.6 204.8L278.5 203.7"/>
<path class="y" d="M263.8 31.7L264.2 22.2L264.6 20.9L265.1 26.0L265.5 59.1L265.9 50.7"/>
<path class="b" d="M240.8 30.6L241.2 55.9L241.7 24.2L242.1 46.4L242.5 39.3L243.0 5.2"/>
<path class="p" d="M250.2 23.7L250.6 46.5L251.0 66.2L251.5 10.3L251.9 47.5"/>
<path class="g" d="M251.7 65.8L252.2 17.6L252.6 31.8L253.0 24.2L253.5 51.7L253.9 19.7"/>
<path class="r" d="M216.8 40.5L217.3 20.4L217.7 56.7L218.1 64.9L218.6 43.2L219.0 8.8"/>
<path class="g" d="M256.1 45.7L256.5 68.0L257.0 39.0L257.4 62.8L257.8 7.5L258.3 59.0M242.7 65.4L243.2 42.1L243.6 60.1L244.0 68.8L244.5 75.1"/>
<path class="c" d="M278.1 201.7L278.5 204.6"/>
<path class="b" d="M222.3 22.4L222.8 45.9L223.2 74.6L223.6 37.3L224.1 66.8L224.5 64.0"/>
<path class="g" d="M211.8 203.2L213.5 202.5L214.0 205.2"/>
<path class="b" d="M269.9 56.8L270.4 53.0L270.8 33.7L271.3 43.2L271.7 63.8M230.0 16.8L230.4 67.2L230.9 66.8L231.3 25.2L231.7 24.4M242.1 58.4L242.5 71.9L242.9 37.0L243.4 16.7L243.8 9.5"/>
<path class="o" d="M230.9 53.5L231.3 66.2L231.7 60.8L232.2 16.0L232.6 64.0L233.0 65.5"/>
<path class="b" d="M216.7 27.9L217.2 15.9L217.6 22.9L218.0 15.8L218.5 13.4L218.9 61.1M254.9 54.4L255.3 16.2L255.8 7.9L256.2 5.2L256.6 38.8L257.1 21.2"/>
<path class="r" d="M56.4 83.3L56.9 98.4L57.3 133.3L57.7 156.1L58.2 181.0L58.6 192.3M47.5 68.2L47.9 35.8L48.4 15.8L48.8 33.5L49.2 77.7L49.7 66.7"/>
<path class="b" d="M226.0 80.2L226.4 67.8L226.9 57.1L227.3 62.2L227.7 47.8"/>
<path class="r" d="M45.8 36.0L46.3 47.8L46.7 50.5L47.1 68.9L47.6 48.3"/>
<path class="c" d="M269.1 20.4L269.5 26.8L269.9 26.5L270.4 30.0L270.8 57.0L271.2 59.3M44.3 32.6L44.8 47.3L45.2 48.7L45.6 29.7L46.1 13.1M257.3 45.5L257.8 23.2L258.2 10.5L258.6 13.8L259.1 10.7L259.5 20.3"/>
<path class="g" d="M268.1 61.0L268.5 51.7L268.9 19.0L269.4 25.9L269.8 47.3L270.2 22.6"/>
<path class="y" d="M218.0 67.2L218.4 65.8L218.9 29.6L219.3 53.9L219.7 40.1L220.2 51.1"/>
<path class="g" d="M256.6 40.0L257.0 26.2L257.5 58.2L257.9 45.4L258.3 48.7L258.8 41.4"/>
<path class="b" d="M54.7 81.9L55.1 102.2L55.5 146.7L56.0 166.3L56.4 187.7"/>
<path class="p" d="M268.4 40.8L268.8 53.2L269.3 50.5L269.7 25.3L270.1 37.9M275.0 191.9L275.4 197.3L275.8 198.9L276.3 202.6L278.0 205.2"/>
<path class="o" d="M213.2 204.2L213.6 202.9L214.1 203.8L214.5 198.8L214.9 178.6L215.4 134.9"/>
<path class="c" d="M241.3 70.4L241.7 14.1L242.2 62.4L242.6 64.8L243.0 25.5M265.9 39.6L266.4 15.7L266.8 24.1L267.2 22.8L267.7 41.2"/>
<path class="p" d="M235.1 49.4L235.5 38.3L236.0 23.5L236.4 38.6L236.8 32.7L237.3 56.3"/>
<path class="c" d="M56.5 190.1L56.9 196.9L57.4 201.0L57.8 202.8L59.1 200.7M258.9 17.6L259.4 15.0L259.8 65.0L260.2 56.8L260.7 44.7"/>
<path class="y" d="M55.2 69.4L55.6 59.1L56.0 56.5L56.5 116.5L56.9 119.6M243.7 71.5L244.2 8.2L244.6 59.0L245.0 56.8L245.5 18.6"/>
<path class="c" d="M251.6 74.4L252.0 25.7L252.5 31.9L252.9 46.2L253.3 20.1L253.8 50.3"/>
<path class="r" d="M261.1 39.4L261.5 70.5L262.0 72.8L262.4 51.7L262.9 49.7"/>
<path class="c" d="M247.3 53.1L247.8 32.9L248.2 61.1L248.6 39.3L249.1 50.5L249.5 20.2M262.0 30.4L262.4 31.8L262.9 44.7L263.3 30.3L263.7 36.6L264.2 21.5"/>
<path class="g" d="M50.6 42.7L51.0 11.5L51.5 51.7L51.9 70.4L52.4 33.1"/>
<path class="c" d="M272.8 130.6L273.2 163.1L273.7 179.1L274.1 188.9L274.5 198.4L275.0 199.4"/>
<path class="p" d="M250.2 25.7L250.6 54.6L251.0 55.2L251.5 69.8L251.9 39.8L252.3 57.2"/>
<path class="r" d="M234.6 20.4L235.0 46.2L235.4 59.2L235.9 76.3L236.3 59.7L236.8 67.0"/>
<path class="c" d="M59.5 204.2L60.4 205.1L60.8 202.8"/>
<path class="y" d="M239.9 17.7L240.3 17.3L240.7 16.9L241.2 39.4L241.6 26.0"/>
<path class="r" d="M242.9 67.3L243.3 57.5L243.7 55.8L244.2 46.1L244.6 77.2L245.0 28.3"/>
<path class="c" d="M259.9 30.8L260.4 35.5L260.8 11.3L261.2 21.3L261.7 62.9L262.1 51.4"/>
<path class="r" d="M260.5 53.1L260.9 33.3L261.4 19.7L261.8 52.5L262.2 15.5L262.7 37.6"/>
<path class="g" d="M262.2 25.5L262.6 13.0L263.0 49.9L263.5 56.1L263.9 57.5L264.3 48.5"/>
<path class="b" d="M228.4 26.7L228.8 41.6L229.3 23.9L229.7 28.9L230.2 45.7L230.6 61.4M241.7 24.4L242.1 28.2L242.6 7.8L243.0 58.7L243.4 34.8L243.9 32.4"/>
<path class="g" d="M269.2 35.1L269.6 54.0L270.0 28.7L270.5 62.6L270.9 24.7L271.3 41.4"/>
<path class="b" d="M232.8 59.3L233.2 59.7L233.7 10.1L234.1 43.9L234.5 70.0L235.0 29.7"/>
<path class="g" d="M254.4 53.7L254.8 74.7L255.2 59.9L255.7 57.3L256.1 45.7"/>
<path class="c" d="M242.6 76.4L243.0 65.4L243.4 51.7L243.9 33.8L244.3 62.6L244.7 12.3"/>
<path class="g" d="M264.9 63.1L265.3 33.9L265.7 12.0L266.2 58.7L266.6 44.7"/>
<path class="c" d="M269.8 19.1L270.2 53.3L270.7 53.7L271.1 56.5L271.5 76.3L272.0 86.5"/>
<path class="o" d="M249.3 36.6L249.7 15.9L250.1 35.4L250.6 25.8L251.0 47.4"/>
<path class="b" d="M235.6 30.8L236.1 49.9L236.5 53.8L236.9 66.9L237.4 33.5L237.8 71.6M273.1 69.8L273.6 121.2L274.0 132.9L274.4 160.5L274.9 175.9L275.3 191.8"/>
<path class="r" d="M241.4 71.2L241.9 40.1L242.3 42.0L242.7 38.5L243.2 55.0L243.6 62.5M221.5 21.0L221.9 65.2L222.3 64.4L222.8 21.4L223.2 11.5L223.6 58.0"/>
<path class="g" d="M218.3 27.8L218.7 62.0L219.2 71.8L219.6 59.7L220.0 59.8"/>
<path class="r" d="M60.8 204.0L61.2 201.2"/>
<path class="c" d="M236.4 54.0L236.8 81.1L237.3 79.4L237.7 76.1L238.1 68.0L238.6 55.0"/>
<path class="r" d="M271.4 84.9L271.8 110.2L272.3 132.8L272.7 166.0L273.1 181.8L273.6 192.8"/>
<path class="b" d="M213.6 202.3L214.1 202.3L214.5 201.5L214.9 192.2"/>
<path class="r" d="M248.8 72.9L249.2 10.7L249.6 50.4L250.1 16.7L250.5 56.2"/>
<path class="b" d="M278.8 202.2L279.2 204.5"/>
<path class="y" d="M253.1 57.6L253.6 53.3L254.0 62.8L254.4 58.4L254.9 15.9"/>
<path class="p" d="M271.9 50.7L272.3 74.7L272.7 83.4L273.2 89.3L273.6 118.1L274.1 148.6M52.6 60.1L53.0 48.6L53.5 32.9L53.9 50.9L54.3 107.0"/>
<path class="b" d="M276.4 205.4L276.8 203.8L278.1 203.0M248.4 56.8L248.8 55.0L249.3 9.6L249.7 23.5L250.1 9.5M245.6 62.9L246.1 44.1L246.5 52.4L246.9 58.3L247.4 60.0L247.8 15.9"/>
<path class="r" d="M269.2 64.4L269.6 52.8L270.1 27.5L270.5 60.8L270.9 60.6L271.4 58.4"/>
<path class="b" d="M218.4 27.9L218.9 15.4L219.3 18.7L219.7 68.0L220.2 60.3"/>
<path class="y" d="M223.8 78.1L224.2 23.1L224.7 47.1L225.1 56.9L225.5 80.6"/>
<path class="p" d="M272.3 71.7L272.7 102.9L273.2 133.5L273.6 156.2L274.0 176.2L274.5 189.3M46.9 28.2L47.3 10.2L47.7 22.1L48.2 15.9L48.6 6.6"/>
<path class="c" d="M46.5 36.0L47.0 67.1L47.4 67.3L47.8 68.4L48.3 41.7"/>
<path class="b" d="M273.9 133.2L274.3 158.2L274.7 173.4L275.2 190.6L275.6 195.1L276.0 199.1"/>
<path class="y" d="M244.0 65.9L244.4 59.1L244.9 15.4L245.3 5.2L245.7 23.5"/>
<path class="b" d="M263.9 60.0L264.3 64.7L264.7 27.1L265.2 16.9L265.6 41.7"/>
<path class="c" d="M236.2 43.9L236.6 79.7L237.1 19.3L237.5 69.0L237.9 23.7L238.4 52.7"/>
<path class="r" d="M277.5 202.0L277.9 203.9L278.3 203.8L279.6 202.6"/>
<path class="c" d="M234.6 19.4L235.1 70.0L235.5 72.3L235.9 44.7L236.4 44.7L236.8 29.2"/>
<path class="g" d="M262.6 63.6L263.0 58.6L263.5 26.5L263.9 66.0L264.3 35.8L264.8 52.7"/>
<path class="r" d="M264.8 24.6L265.3 42.6L265.7 41.6L266.1 41.6L266.6 51.2"/>
<path class="g" d="M60.1 202.7L61.8 204.8"/>
<path class="y" d="M60.2 203.7L60.6 201.9"/>
<path class="c" d="M57.8 194.1L58.2 198.8L58.7 201.3L59.5 203.5L60.8 203.8M218.9 57.8L219.4 35.3L219.8 46.2L220.2 40.9L220.7 18.9"/>
<path class="o" d="M54.0 22.4L54.5 80.2L54.9 81.3L55.3 103.8L55.8 116.5M215.4 134.9L215.8 78.9L216.2 80.9L216.7 50.8L217.1 23.4"/>
<path class="r" d="M267.9 21.7L268.3 40.5L268.7 38.7L269.2 56.7L269.6 55.1L270.0 49.9"/>
<path class="b" d="M242.5 44.2L242.9 76.5L243.4 34.7L243.8 51.7L244.2 73.9"/>
<path class="c" d="M215.5 133.0L216.0 67.0L216.4 26.3L216.8 35.1L217.3 57.2L217.7 34.3"/>
<path class="r" d="M269.0 49.1L269.4 27.9L269.9 40.8L270.3 69.2L270.7 52.4L271.2 58.3"/>
<path class="o" d="M279.2 201.7L279.6 205.1"/>
<path class="g" d="M232.7 56.8L233.2 35.8L233.6 20.9L234.0 55.6L234.5 59.6"/>
<path class="b" d="M56.7 199.0L57.2 204.1L57.6 200.9L58.0 204.4L58.9 201.4"/>
<path class="g" d="M266.1 40.1L266.5 33.6L267.0 35.3L267.4 31.8L267.8 15.7L268.3 27.8M48.4 35.7L48.9 59.3L49.3 25.9L49.7 72.2L50.2 69.3L50.6 42.7"/>
<path class="b" d="M232.1 23.8L232.5 63.2L232.9 59.3L233.4 40.5L233.8 70.9"/>
<path class="g" d="M268.8 55.8L269.2 29.8L269.6 59.3L270.1 48.1L270.5 27.7"/>
<path class="c" d="M253.9 48.5L254.3 33.6L254.7 55.8L255.2 29.7L255.6 22.4"/>
<path class="r" d="M236.8 67.0L237.2 77.8L237.6 24.8L238.1 41.5L238.5 34.7L238.9 46.6"/>
<path class="y" d="M46.3 32.4L46.7 19.0L47.1 46.9L47.6 22.9L48.0 33.1"/>
<path class="b" d="M216.3 28.8L216.7 70.0L217.1 45.2L217.6 53.9L218.0 19.6L218.4 27.9"/>
<path class="c" d="M277.8 205.5L278.6 204.7L279.1 203.1M270.7 59.6L271.1 26.3L271.6 48.5L272.0 71.5L272.4 44.8"/>
<path class="y" d="M50.2 49.4L50.7 18.8L51.1 60.4L51.5 17.9L52.0 21.2M48.0 33.1L48.4 53.9L48.9 60.2L49.3 6.1L49.7 26.5L50.2 32.1M255.7 32.4L256.1 52.4L256.6 55.3L257.0 15.5L257.4 27.4L257.9 43.1"/>
<path class="r" d="M47.6 23.4L48.1 34.5L48.5 24.6L48.9 45.6L49.4 34.7"/>
<path class="c" d="M228.7 17.1L229.1 46.0L229.5 74.3L230.0 55.4L230.4 40.5"/>
<path class="b" d="M222.1 28.4L222.5 14.1L223.0 75.5L223.4 23.0L223.8 58.8L224.3 9.9"/>
<path class="o" d="M271.4 37.2L271.8 42.4L272.3 59.3L272.7 103.1L273.1 140.1"/>
<path class="b" d="M48.4 49.0L48.9 19.2L49.3 59.4L49.7 34.1L50.2 75.2L50.6 42.5"/>
<path class="y" d="M278.4 205.4L279.7 201.0"/>
<path class="c" d="M54.6 52.0L55.1 33.3L55.5 84.7L55.9 98.2L56.4 89.7L56.8 134.9"/>
<path class="y" d="M231.6 43.4L232.1 14.9L232.5 57.3L232.9 36.4L233.4 28.8L233.8 13.1"/>
<path class="b" d="M246.9 66.5L247.3 23.2L247.7 53.0L248.2 65.9L248.6 49.5L249.0 51.7"/>
<path class="p" d="M267.2 58.8L267.7 31.6L268.1 34.0L268.5 54.1L269.0 58.9L269.4 26.3"/>
<path class="y" d="M267.6 37.0L268.1 51.8L268.5 13.7L268.9 21.3L269.4 34.2L269.8 14.2"/>
<path class="c" d="M236.6 28.7L237.1 64.8L237.5 74.5L237.9 8.7L238.4 62.9L238.8 37.3"/>
<path class="b" d="M44.9 56.4L45.3 43.6L45.7 57.5L46.2 25.9L46.6 14.8L47.0 22.6"/>
<path class="y" d="M50.5 10.1L50.9 61.3L51.3 14.3L51.8 27.9L52.2 40.8"/>
<path class="p" d="M264.5 37.2L264.9 46.5L265.4 59.1L265.8 64.7L266.2 44.5"/>
<path class="r" d="M244.0 29.5L244.4 36.1L244.8 5.2L245.3 23.9L245.7 45.8"/>
<path class="p" d="M249.6 21.6L250.1 23.2L250.5 20.5L250.9 23.6L251.4 12.5L251.8 18.0"/>
<path class="y" d="M267.9 38.1L268.3 11.5L268.7 51.1L269.2 44.8L269.6 49.3"/>
<path class="r" d="M235.1 32.0L235.5 18.1L235.9 32.2L236.4 42.5L236.8 28.7"/>
<path class="p" d="M247.3 37.6L247.7 39.0L248.1 21.0L248.6 8.0L249.0 53.5L249.4 43.8"/>
<path class="y" d="M44.1 74.9L44.5 35.7L45.0 48.2L45.4 48.0L45.8 35.4L46.3 32.4"/>
<path class="b" d="M51.4 41.8L51.8 63.6L52.3 34.2L52.7 20.7L53.1 83.4L53.6 67.3"/>
<path class="g" d="M245.7 20.3L246.1 61.6L246.5 57.6L247.0 59.7L247.4 71.3L247.8 46.2"/>
<path class="b" d="M243.2 51.3L243.6 18.9L244.0 36.5L244.5 53.0L244.9 40.9"/>
<path class="r" d="M225.1 21.5L225.5 75.7L225.9 19.3L226.4 21.2L226.8 66.1"/>
<path class="c" d="M56.8 134.9L57.2 164.7L57.7 179.4L58.1 188.7L58.5 195.6L59.0 198.2"/>
<path class="y" d="M52.4 67.0L52.8 31.2L53.2 40.3L53.7 22.7L54.1 69.7"/>
<path class="c" d="M220.0 22.9L220.4 25.7L220.8 39.6L221.3 58.2L221.7 37.3"/>
<path class="o" d="M217.6 72.3L218.0 57.1L218.5 53.4L218.9 22.7L219.3 26.1L219.8 67.6"/>
<path class="g" d="M250.0 42.7L250.4 44.6L250.9 60.6L251.3 29.8L251.7 65.8M228.8 33.4L229.3 24.3L229.7 15.2L230.1 71.2L230.6 9.0"/>
<path class="b" d="M273.8 131.0L274.2 161.0L274.6 174.2L275.1 188.8L275.5 197.1L275.9 199.5"/>
<path class="o" d="M48.4 40.0L48.9 71.3L49.3 25.6L49.7 57.9L50.2 19.3L50.6 70.3"/>
<path class="b" d="M231.7 82.9L232.2 53.7L232.6 63.8L233.0 40.8L233.5 26.8L233.9 21.1"/>
<path class="c" d="M54.3 146.0L54.7 153.5L55.1 181.9L55.6 190.7L56.0 196.2L56.4 201.0M233.8 53.0L234.2 56.2L234.7 7.4L235.1 51.3L235.5 39.3M59.0 201.2L59.9 204.0L60.3 203.8"/>
<path class="r" d="M277.7 202.5L278.1 204.7L279.0 202.7"/>
<path class="b" d="M256.9 53.0L257.3 32.5L257.7 33.8L258.2 65.5L258.6 48.6L259.0 30.7"/>
<path class="r" d="M231.2 14.0L231.6 66.5L232.1 39.6L232.5 24.3L233.0 51.1"/>
<path class="o" d="M46.8 29.7L47.2 20.0L47.7 59.8L48.1 25.3L48.5 21.2"/>
<path class="y" d="M214.9 147.3L215.3 87.1L215.8 50.5L216.2 32.0L216.6 46.9L217.1 65.4"/>
<path class="r" d="M228.8 24.5L229.2 34.0L229.7 67.6L230.1 64.7L230.5 11.7"/>
<path class="b" d="M264.7 50.0L265.1 49.3L265.6 44.9L266.0 44.2L266.4 57.1L266.9 30.7"/>
<path class="y" d="M48.3 19.5L48.7 10.7L49.1 22.0L49.6 59.7L50.0 28.0"/>
<path class="p" d="M261.1 62.7L261.6 37.2L262.0 46.5L262.4 57.4L262.9 20.5"/>
<path class="o" d="M227.9 16.1L228.4 70.0L228.8 17.9L229.2 36.4L229.7 51.7L230.1 30.2"/>
<path class="c" d="M231.7 74.7L232.1 25.9L232.6 37.7L233.0 30.2L233.4 56.2L233.9 14.7M269.9 30.0L270.3 62.1L270.8 16.0L271.2 47.1L271.6 61.3L272.1 86.8"/>
<path class="p" d="M54.7 71.8L55.1 89.0L55.6 145.0L56.0 153.6L56.4 174.4L56.9 189.9M262.3 51.8L262.8 50.9L263.2 30.5L263.6 54.1L264.1 25.9L264.5 37.2"/>
<path class="r" d="M46.9 31.3L47.4 45.1L47.8 31.5L48.2 36.5L48.7 53.6"/>
<path class="c" d="M224.9 18.6L225.3 26.8L225.8 27.4L226.2 35.0L226.6 61.8"/>
<path class="o" d="M211.8 202.1L212.6 205.2L213.1 201.8"/>
<path class="b" d="M229.9 22.2L230.3 36.0L230.8 25.4L231.2 26.0L231.6 29.8L232.1 23.8M228.8 60.5L229.3 67.9L229.7 41.2L230.1 38.8L230.6 18.3L231.0 24.5"/>
<path class="r" d="M231.1 21.8L231.6 7.6L232.0 70.7L232.5 37.4L232.9 37.1"/>
<path class="o" d="M263.6 45.8L264.1 31.8L264.5 65.1L264.9 28.2L265.4 70.1L265.8 47.4"/>
<path class="g" d="M228.1 24.2L228.6 25.1L229.0 53.2L229.4 24.4L229.9 28.3L230.3 51.9"/>
<path class="c" d="M219.1 26.9L219.5 48.8L220.0 39.7L220.4 22.1L220.9 67.8L221.3 33.5"/>
<path class="b" d="M58.9 201.4L60.6 205.0"/>
<path class="o" d="M235.3 41.2L235.8 18.0L236.2 49.3L236.7 39.6L237.1 38.2"/>
<path class="c" d="M221.0 78.0L221.4 22.4L221.9 71.9L222.3 62.0L222.7 70.0"/>
<path class="b" d="M250.5 15.9L250.9 26.3L251.3 49.0L251.8 71.0L252.2 67.5"/>
<path class="g" d="M236.6 58.0L237.1 42.2L237.5 26.1L237.9 19.6L238.4 5.2L238.8 44.5"/>
<path class="c" d="M232.6 32.9L233.0 63.6L233.4 36.0L233.9 10.7L234.3 16.5L234.7 61.8"/>
<path class="p" d="M212.0 201.9L212.4 204.5L213.7 203.6"/>
<path class="o" d="M213.2 202.5L214.1 204.9L214.5 200.4L215.0 186.2L215.4 139.2"/>
<path class="g" d="M222.8 35.0L223.2 14.1L223.6 13.0L224.1 27.5L224.5 25.5"/>
<path class="o" d="M54.4 43.0L54.8 76.4L55.3 105.7L55.7 129.3L56.1 149.8"/>
<path class="r" d="M222.9 50.5L223.3 36.2L223.7 15.8L224.2 57.8L224.6 67.6"/>
<path class="g" d="M46.0 16.5L46.5 72.2L46.9 68.1L47.3 61.3L47.8 56.4L48.2 21.0"/>
<path class="o" d="M243.2 23.8L243.6 43.5L244.1 17.2L244.5 41.6L244.9 62.7L245.4 15.0"/>
<path class="r" d="M44.7 12.9L45.2 50.9L45.6 43.2L46.1 48.7L46.5 26.5L46.9 31.3"/>
<path class="g" d="M255.7 25.4L256.1 51.7L256.5 39.5L257.0 63.6L257.4 68.0L257.8 62.0"/>
<path class="c" d="M278.8 204.6L279.6 202.4"/>
<path class="r" d="M212.0 203.2L213.3 203.7"/>
<path class="b" d="M241.1 19.4L241.5 55.2L241.9 26.9L242.4 31.0L242.8 65.7"/>
<path class="p" d="M254.0 53.0L254.4 58.9L254.8 12.7L255.3 41.9L255.7 30.8"/>
<path class="r" d="M257.0 34.8L257.5 25.9L257.9 48.9L258.3 57.7L258.8 19.1L259.2 59.1"/>
<path class="c" d="M254.7 40.6L255.2 50.3L255.6 62.1L256.0 35.7L256.5 68.4M49.7 17.0L50.1 17.8L50.6 14.6L51.0 20.9L51.4 28.2L51.9 18.6"/>
<path class="b" d="M258.4 46.7L258.8 56.2L259.3 52.2L259.7 21.9L260.1 58.7"/>
<path class="y" d="M221.9 66.6L222.4 37.3L222.8 36.9L223.2 60.0L223.7 63.0L224.1 31.5"/>
<path class="o" d="M222.8 64.6L223.3 75.9L223.7 38.7L224.1 72.0L224.6 45.4M241.0 24.5L241.5 17.1L241.9 29.9L242.3 46.3L242.8 53.5L243.2 23.8M262.8 18.1L263.2 44.1L263.7 30.1L264.1 39.7L264.5 18.9M237.6 16.9L238.0 33.5L238.4 22.5L238.9 75.2L239.3 44.8L239.7 10.7"/>
<path class="g" d="M264.2 29.9L264.6 46.0L265.0 44.2L265.5 65.7L265.9 21.0L266.3 23.3"/>
<path class="r" d="M242.9 35.7L243.4 33.3L243.8 66.5L244.2 6.0L244.7 49.6L245.1 68.3"/>
<path class="g" d="M252.7 63.0L253.1 20.8L253.6 34.4L254.0 58.9L254.4 57.5L254.9 62.4"/>
<path class="b" d="M249.2 39.9L249.7 70.4L250.1 22.9L250.6 25.3L251.0 33.6"/>
<path class="c" d="M216.4 73.6L216.8 31.5L217.3 56.9L217.7 17.1L218.1 64.9L218.6 9.9"/>
<path class="y" d="M251.5 70.3L252.0 54.9L252.4 62.1L252.9 47.2L253.3 41.9L253.7 54.4"/>
<path class="g" d="M257.8 62.0L258.3 49.8L258.7 26.5L259.1 41.4L259.6 61.8L260.0 42.8"/>
<path class="y" d="M261.5 62.6L262.0 39.0L262.4 18.8L262.8 13.6L263.3 61.5L263.7 18.4"/>
<path class="c" d="M56.7 198.1L57.1 199.4L57.5 200.8L58.0 202.7L58.4 204.3L59.3 202.7M47.0 24.2L47.4 39.2L47.8 28.0L48.3 46.1L48.7 19.0"/>
<path class="y" d="M228.0 32.4L228.4 58.9L228.8 24.7L229.3 22.5L229.7 63.7L230.1 25.8"/>
<path class="p" d="M214.3 201.6L214.7 198.5L215.1 174.0"/>
<path class="c" d="M229.1 66.8L229.6 18.5L230.0 12.9L230.4 22.8L230.9 62.0L231.3 75.2"/>
<path class="r" d="M268.9 19.2L269.3 42.0L269.8 44.7L270.2 65.8L270.6 46.2"/>
<path class="b" d="M47.7 29.9L48.1 48.8L48.6 14.0L49.0 17.0L49.5 51.4"/>
<path class="c" d="M243.9 16.2L244.3 59.3L244.8 10.1L245.2 54.5L245.6 59.6"/>
<path class="p" d="M245.8 25.6L246.3 70.3L246.7 74.6L247.1 62.0L247.6 15.7L248.0 27.5"/>
<path class="r" d="M53.7 75.9L54.2 87.1L54.6 92.9L55.0 104.5L55.5 148.7"/>
<path class="g" d="M256.3 68.2L256.8 25.0L257.2 48.7L257.7 39.8L258.1 39.2"/>
<path class="p" d="M219.7 55.6L220.1 39.4L220.5 38.1L221.0 80.3L221.4 58.6L221.8 36.0"/>
<path class="o" d="M225.4 49.0L225.8 11.8L226.3 39.9L226.7 55.8L227.1 16.7"/>
<path class="p" d="M229.0 13.3L229.4 33.9L229.9 57.0L230.3 67.2L230.7 16.5L231.2 48.7"/>
<path class="y" d="M46.9 37.5L47.4 75.3L47.8 61.6L48.2 5.2L48.7 22.1L49.1 68.4"/>
<path class="c" d="M256.5 68.4L256.9 29.9L257.3 8.2L257.8 31.3L258.2 43.4L258.6 34.7"/>
<path class="p" d="M241.8 56.1L242.2 43.0L242.7 69.3L243.1 59.8L243.5 48.8L244.0 49.0"/>
<path class="o" d="M233.0 65.5L233.5 60.9L233.9 18.5L234.3 28.5L234.8 29.0"/>
<path class="b" d="M256.1 49.7L256.5 52.3L257.0 37.6L257.4 57.1L257.9 19.6L258.3 11.8"/>
<path class="o" d="M60.7 202.4L61.1 204.2"/>
<path class="b" d="M240.6 37.5L241.0 57.9L241.4 58.1L241.9 56.6L242.3 55.3"/>
<path class="y" d="M227.7 15.4L228.1 70.1L228.5 74.1L229.0 64.9L229.4 37.6L229.8 38.5M220.3 45.3L220.7 58.0L221.2 35.9L221.6 9.1L222.0 64.2"/>
<path class="r" d="M246.8 8.6L247.2 25.4L247.7 59.5L248.1 59.6L248.5 20.6L249.0 67.6M275.3 201.8L275.7 201.6L276.6 201.5L277.9 205.0"/>
<path class="g" d="M57.5 200.6L57.9 201.8L59.2 202.6L59.6 205.1"/>
<path class="b" d="M45.1 23.3L45.6 20.9L46.0 33.4L46.4 27.7L46.9 26.4L47.3 26.5"/>
<path class="p" d="M247.9 72.0L248.3 26.9L248.8 43.5L249.2 7.9L249.6 54.0M235.0 42.7L235.4 20.6L235.9 14.8L236.3 32.3L236.7 51.0L237.2 14.0"/>
<path class="c" d="M212.9 204.1L214.2 201.8L214.6 196.8L215.0 175.3"/>
<path class="b" d="M214.3 204.5L214.7 201.7L215.1 195.4L215.6 162.1L216.0 109.0L216.4 71.4"/>
<path class="p" d="M265.7 22.9L266.1 15.5L266.6 50.3L267.0 59.1L267.4 66.2L267.9 41.6"/>
<path class="b" d="M224.9 38.7L225.4 30.0L225.8 53.7L226.2 61.5L226.7 14.8L227.1 67.6"/>
<path class="p" d="M239.4 57.6L239.9 69.7L240.3 70.2L240.7 64.6L241.2 24.2"/>
<path class="r" d="M227.1 24.6L227.5 36.2L227.9 57.0L228.4 35.7L228.8 12.5L229.2 9.7"/>
<path class="p" d="M249.4 43.8L249.9 19.5L250.3 26.6L250.7 28.6L251.2 26.3"/>
<path class="g" d="M47.3 48.7L47.7 70.6L48.2 50.6L48.6 65.8L49.0 34.8L49.5 51.8"/>
<path class="b" d="M262.0 47.2L262.5 29.5L262.9 19.3L263.3 16.5L263.8 35.6M244.4 18.1L244.8 49.7L245.3 9.5L245.7 55.3L246.1 25.5M270.3 35.0L270.7 54.6L271.2 86.8L271.6 93.4L272.0 115.2"/>
<path class="y" d="M48.1 64.0L48.5 38.8L48.9 72.7L49.4 37.6L49.8 52.4L50.2 49.4"/>
<path class="c" d="M45.9 68.2L46.3 18.8L46.8 24.6L47.2 45.9L47.6 50.5"/>
<path class="b" d="M211.7 203.6L212.1 201.9"/>
<path class="c" d="M261.3 40.9L261.7 26.1L262.1 16.0L262.6 49.9L263.0 64.7"/>
<path class="b" d="M244.3 49.2L244.7 57.5L245.1 59.7L245.6 36.0L246.0 20.4M44.3 18.7L44.7 12.9"/>
<path class="r" d="M265.3 34.4L265.7 28.7L266.1 55.8L266.6 35.1L267.0 14.7"/>
<path class="g" d="M247.0 59.5L247.5 43.8L247.9 67.9L248.3 62.5L248.8 46.3L249.2 20.6"/>
<path class="y" d="M255.8 28.1L256.2 47.7L256.6 32.7L257.1 67.6L257.5 73.2L257.9 70.4M215.9 68.3L216.4 29.0L216.8 80.8L217.2 32.7L217.7 37.1L218.1 63.8"/>
<path class="b" d="M55.3 174.5L55.8 183.1L56.2 196.1L56.6 199.2L57.1 200.5L57.5 202.8"/>
<path class="c" d="M47.8 17.5L48.2 33.2L48.7 61.5L49.1 34.3L49.5 64.1L50.0 71.9"/>
<path class="p" d="M227.9 66.8L228.4 25.6L228.8 75.9L229.2 54.4L229.7 46.7"/>
<path class="g" d="M216.7 38.9L217.1 77.1L217.5 11.4L218.0 61.4L218.4 20.6L218.9 25.3"/>
<path class="o" d="M258.9 23.2L259.3 67.6L259.7 14.5L260.2 21.5L260.6 64.4"/>
<path class="g" d="M248.8 59.2L249.2 21.9L249.7 59.0L250.1 26.6L250.5 29.0"/>
<path class="o" d="M229.3 51.0L229.7 66.7L230.2 73.5L230.6 42.9L231.0 65.3"/>
<path class="r" d="M225.7 17.1L226.2 65.0L226.6 69.0L227.0 55.6L227.5 40.6L227.9 16.5"/>
<path class="c" d="M276.4 201.3L277.7 203.2L278.2 202.7L278.6 203.9M60.2 202.0L60.6 205.7"/>
<path class="p" d="M58.6 202.3L59.9 204.7L60.8 205.3"/>
<path class="b" d="M44.1 40.0L44.5 65.5L44.9 49.9M270.4 27.6L270.9 70.2L271.3 35.1L271.7 47.9L272.2 89.7"/>
<path class="g" d="M258.8 41.4L259.2 62.9L259.7 25.7L260.1 58.6L260.5 44.4"/>
<path class="b" d="M239.9 72.8L240.3 53.8L240.8 39.4L241.2 27.5L241.6 58.2L242.1 58.4"/>
<path class="y" d="M219.8 80.9L220.3 44.7L220.7 26.9L221.1 52.1L221.6 76.1"/>
<path class="c" d="M44.3 39.7L44.8 59.3L45.2 53.3L45.6 65.3"/>
<path class="p" d="M215.0 187.1L215.5 140.3L215.9 47.2L216.3 82.5L216.8 85.1L217.2 39.8"/>
<path class="y" d="M234.1 33.9L234.5 18.9L234.9 24.0L235.4 22.6L235.8 37.8L236.3 48.2"/>
<path class="o" d="M245.4 15.0L245.8 46.1L246.2 12.5L246.7 52.0L247.1 52.9M52.3 13.5L52.8 61.1L53.2 53.6L53.6 52.8L54.1 26.5L54.5 60.0"/>
<path class="c" d="M57.8 197.5L58.2 200.7L58.7 203.5L60.4 205.4"/>
<path class="o" d="M250.8 73.1L251.3 19.5L251.7 67.4L252.1 29.9L252.6 55.2L253.0 43.5M213.7 202.6L214.1 198.8L214.5 185.9L215.0 134.3L215.4 56.2L215.8 23.4"/>
<path class="g" d="M44.3 61.7L44.7 32.0L45.2 25.3L45.6 36.2L46.0 16.5"/>
<path class="o" d="M273.0 123.8L273.4 139.5L273.9 164.4L274.3 182.8L274.7 194.0"/>
<path class="c" d="M49.3 33.4L49.7 53.7L50.2 27.9L50.6 59.2L51.0 58.8"/>
<path class="p" d="M211.7 203.8L212.5 203.3L213.0 201.8L214.3 201.6"/>
<path class="b" d="M267.8 31.8L268.2 35.2L268.6 12.6L269.1 38.9L269.5 31.1"/>
<path class="y" d="M249.8 19.1L250.2 60.0L250.7 13.7L251.1 54.7L251.5 70.3"/>
<path class="r" d="M261.4 45.1L261.8 53.9L262.3 37.9L262.7 55.0L263.1 55.5L263.6 47.6"/>
<path class="y" d="M56.7 194.1L57.1 198.8L57.6 202.6L58.9 201.3"/>
<path class="p" d="M255.7 30.8L256.1 18.9L256.6 31.8L257.0 58.6L257.4 13.5L257.9 54.7"/>
<path class="y" d="M230.3 25.4L230.7 74.2L231.1 47.6L231.6 30.4L232.0 53.3"/>
<path class="c" d="M240.6 53.9L241.1 45.2L241.5 39.7L241.9 72.4L242.4 33.8L242.8 69.8"/>
<path class="r" d="M243.6 62.5L244.0 9.3L244.5 8.7L244.9 41.0L245.3 17.0M53.0 76.8L53.4 46.6L53.9 36.6L54.3 42.1L54.7 107.3M266.7 51.0L267.2 65.0L267.6 47.2L268.0 29.1L268.5 16.3L268.9 19.2"/>
<path class="o" d="M279.2 204.4L279.6 202.1"/>
<path class="b" d="M252.1 14.3L252.5 45.2L252.9 45.5L253.4 7.1L253.8 46.1L254.2 19.9"/>
<path class="y" d="M245.5 18.6L245.9 72.2L246.3 43.7L246.8 23.9L247.2 60.0L247.6 34.7"/>
<path class="b" d="M274.2 196.6L274.7 200.7L276.0 204.1"/>
<path class="p" d="M245.0 64.4L245.4 27.3L245.9 34.7L246.3 21.8L246.7 50.3L247.2 15.2"/>
<path class="r" d="M44.0 59.8L44.5 32.5L44.9 45.9L45.3 63.9L45.8 5.2"/>
<path class="c" d="M221.7 37.3L222.1 74.4L222.6 26.4L223.0 39.8L223.4 42.3L223.9 30.1M268.6 25.1L269.1 58.2L269.5 54.6L269.9 20.2L270.4 37.6M266.2 18.4L266.6 32.8L267.0 47.7L267.5 47.9L267.9 12.3L268.3 12.9"/>
<path class="b" d="M260.0 30.4L260.4 64.8L260.8 67.5L261.3 53.5L261.7 20.6"/>
<path class="g" d="M55.5 99.2L56.0 137.7L56.4 173.9L56.8 179.2L57.3 193.0"/>
<path class="c" d="M270.4 37.6L270.8 55.3L271.2 78.4L271.7 95.2L272.1 113.8L272.5 136.9"/>
<path class="b" d="M52.8 61.9L53.3 44.0L53.7 65.3L54.1 103.6L54.6 128.5L55.0 144.1M47.7 62.5L48.1 71.7L48.6 57.9L49.0 17.7L49.4 39.2M265.9 56.9L266.4 14.4L266.8 24.6L267.3 56.7L267.7 45.3"/>
<path class="y" d="M58.3 197.3L59.2 199.8L59.6 203.8L60.9 202.8"/>
<path class="p" d="M48.3 43.2L48.7 65.6L49.1 21.5L49.6 56.3L50.0 40.1L50.4 21.9"/>
<path class="c" d="M233.0 82.1L233.5 67.3L233.9 14.6L234.3 5.2L234.8 50.2L235.2 13.6"/>
<path class="p" d="M49.2 74.3L49.6 40.5L50.0 65.9L50.5 47.1L50.9 22.9L51.3 44.0"/>
<path class="b" d="M211.7 204.2L212.6 202.1L213.0 204.6"/>
<path class="y" d="M234.9 82.4L235.3 47.5L235.8 48.9L236.2 5.7L236.6 52.9L237.1 67.4"/>
<path class="b" d="M224.5 64.0L224.9 48.8L225.4 59.6L225.8 52.7L226.2 29.9L226.7 23.0"/>
<path class="p" d="M252.9 74.0L253.3 19.5L253.7 41.3L254.2 55.7L254.6 64.1L255.0 14.6"/>
<path class="r" d="M227.5 53.2L228.0 75.9L228.4 65.7L228.8 56.0L229.3 41.8"/>
<path class="b" d="M214.9 169.4L215.4 105.4L215.8 95.5L216.3 54.6L216.7 50.8L217.1 33.7"/>
<path class="c" d="M235.2 13.6L235.6 21.5L236.1 63.3L236.5 23.7L236.9 49.3M222.6 35.7L223.0 50.8L223.4 22.5L223.9 56.6L224.3 45.1L224.7 60.4"/>
<path class="y" d="M263.1 25.6L263.6 42.0L264.0 15.4L264.4 64.0L264.9 10.5"/>
<path class="o" d="M235.8 50.3L236.3 46.7L236.7 61.4L237.1 53.8L237.6 16.9"/>
<path class="y" d="M222.0 64.2L222.5 12.3L222.9 57.4L223.3 48.5L223.8 43.3L224.2 67.8"/>
<path class="o" d="M269.7 43.0L270.1 32.3L270.6 53.5L271.0 60.7L271.4 48.4L271.9 94.1"/>
<path class="y" d="M215.6 49.5L216.0 62.2L216.4 60.0L216.9 30.5L217.3 54.9L217.7 20.4"/>
<path class="c" d="M47.1 58.4L47.6 62.6L48.0 12.7L48.4 22.8L48.9 67.8L49.3 33.4"/>
<path class="y" d="M212.0 201.8L213.3 204.8L214.2 201.8"/>
<path class="c" d="M212.5 205.4L212.9 202.3L214.2 185.1L214.7 144.6"/>
<path class="b" d="M237.8 24.9L238.2 73.0L238.7 12.5L239.1 72.4L239.5 34.1M248.2 29.6L248.6 26.0L249.0 71.1L249.5 75.4L249.9 36.9L250.3 38.6M256.0 61.8L256.4 32.7L256.8 58.7L257.3 34.4L257.7 42.3"/>
<path class="g" d="M54.3 27.4L54.7 86.6L55.2 76.9L55.6 105.9L56.0 112.9"/>
<path class="r" d="M60.6 204.3L61.0 202.8"/>
<path class="b" d="M213.2 202.3L214.1 203.7L214.5 200.5L214.9 169.4"/>
<path class="r" d="M59.4 201.3L60.2 203.1L60.7 203.5"/>
<path class="c" d="M51.4 35.0L51.9 47.5L52.3 31.7L52.7 69.3L53.2 50.6"/>
<path class="y" d="M216.3 65.6L216.7 45.6L217.1 26.8L217.6 24.2L218.0 67.2"/>
<path class="g" d="M51.4 6.1L51.8 27.6L52.2 21.1L52.7 76.8L53.1 58.1L53.5 71.9"/>
<path class="p" d="M235.1 51.8L235.5 60.1L235.9 40.5L236.4 29.2L236.8 14.8M232.8 50.6L233.3 19.6L233.7 63.8L234.1 44.4L234.6 41.3L235.0 42.7"/>
<path class="b" d="M51.0 32.8L51.4 29.4L51.9 42.4L52.3 22.8L52.7 28.4L53.2 67.3"/>
<path class="c" d="M252.0 19.8L252.4 48.5L252.9 52.4L253.3 21.4L253.7 56.9"/>
<path class="b" d="M44.2 42.9L44.7 19.9L45.1 23.2"/>
<path class="c" d="M226.7 42.3L227.2 11.7L227.6 34.2L228.1 10.7L228.5 35.7L228.9 54.8M216.5 61.7L216.9 78.2L217.4 32.4L217.8 78.9L218.3 61.5L218.7 39.8M227.8 54.8L228.2 9.7L228.7 14.4L229.1 47.4L229.5 37.4L230.0 19.6"/>
<path class="p" d="M218.0 39.7L218.5 57.4L218.9 39.2L219.3 71.3L219.8 66.7L220.2 29.7"/>
<path class="c" d="M260.7 44.7L261.1 48.4L261.5 20.9L262.0 21.7L262.4 65.2L262.9 18.3"/>
<path class="p" d="M51.9 35.1L52.3 12.7L52.7 41.9L53.2 11.2L53.6 41.7"/>
<path class="y" d="M269.8 58.1L270.3 44.2L270.7 22.6L271.1 56.0L271.6 23.4M244.1 11.5L244.5 20.5L244.9 14.3L245.4 43.8L245.8 43.3L246.2 52.4"/>
<path class="c" d="M251.7 71.1L252.1 61.7L252.6 37.3L253.0 18.1L253.4 72.6L253.9 48.5M213.2 201.0L213.6 205.3L214.0 202.4L214.5 201.5L214.9 192.3M253.4 24.4L253.9 16.2L254.3 66.0L254.7 31.6L255.2 56.4M269.9 42.6L270.4 62.1L270.8 33.9L271.2 53.0L271.7 48.5M254.9 23.0L255.3 29.9L255.7 8.0L256.2 26.0L256.6 37.8L257.0 36.4"/>
<path class="p" d="M264.0 30.0L264.4 13.2L264.8 40.2L265.3 29.8L265.7 22.9"/>
<path class="r" d="M277.9 203.9L279.2 202.1L279.6 203.5"/>
<path class="c" d="M59.6 202.2L60.0 201.7L60.9 204.6"/>
<path class="y" d="M236.3 48.2L236.7 17.3L237.1 40.6L237.6 25.4L238.0 30.3"/>
<path class="c" d="M276.6 202.0L277.9 204.3L278.8 204.6M47.8 32.5L48.2 26.3L48.7 60.3L49.1 39.6L49.5 58.2"/>
<path class="o" d="M223.0 20.9L223.5 40.7L223.9 25.4L224.4 46.9L224.8 14.1"/>
<path class="c" d="M45.8 44.1L46.2 39.0L46.7 42.0L47.1 61.6L47.5 18.6L48.0 68.6"/>
<path class="r" d="M264.0 13.1L264.4 20.8L264.8 17.5L265.3 16.9L265.7 60.7"/>
<path class="c" d="M53.1 38.2L53.5 17.6L54.0 58.6L54.4 69.6L54.8 73.2"/>
<path class="b" d="M226.7 23.0L227.1 24.9L227.5 57.1L228.0 58.7L228.4 26.7"/>
<path class="r" d="M272.8 107.3L273.3 147.6L273.7 174.0L274.1 183.7L274.6 195.3L275.0 198.0"/>
<path class="p" d="M215.1 174.0L215.6 110.1L216.0 35.3L216.4 52.6L216.9 50.7L217.3 30.9M57.5 188.0L57.9 195.9L58.4 197.4L58.8 202.7L59.2 202.0L60.5 205.0"/>
<path class="c" d="M215.7 140.1L216.1 54.6L216.5 54.6L217.0 68.6L217.4 61.3L217.8 45.2M227.4 14.5L227.8 16.2L228.2 20.7L228.7 11.3L229.1 7.4M225.9 44.2L226.4 48.2L226.8 75.7L227.3 83.8L227.7 16.0L228.1 58.6"/>
<path class="g" d="M244.2 33.7L244.6 72.8L245.1 24.6L245.5 54.3L245.9 46.1L246.4 60.8"/>
<path class="o" d="M252.8 15.6L253.2 54.1L253.7 49.1L254.1 40.7L254.5 39.2"/>
<path class="b" d="M53.2 67.3L53.6 21.7L54.0 58.0L54.5 45.1L54.9 54.7"/>
<path class="y" d="M211.6 202.0L212.1 204.5L213.8 200.1"/>
<path class="o" d="M46.2 58.1L46.6 31.0L47.0 24.7L47.5 47.6L47.9 59.2L48.3 49.5"/>
<path class="r" d="M51.5 14.2L52.0 31.9L52.4 18.5L52.9 48.6L53.3 49.9L53.7 75.9M240.7 48.6L241.1 77.2L241.5 25.9L242.0 43.8L242.4 25.4L242.8 25.4"/>
<path class="p" d="M244.0 46.8L244.4 35.3L244.9 47.2L245.3 33.2L245.7 72.9"/>
<path class="c" d="M53.2 50.6L53.6 40.7L54.0 28.5L54.5 38.7L54.9 76.8L55.3 111.2"/>
<path class="b" d="M216.9 66.3L217.3 56.2L217.8 63.2L218.2 26.2L218.6 38.9L219.1 36.8"/>
<path class="p" d="M268.9 37.8L269.3 49.8L269.7 41.4L270.2 65.8L270.6 24.2L271.0 27.1"/>
<path class="c" d="M232.3 69.6L232.7 40.4L233.2 72.3L233.6 50.3L234.0 22.8L234.5 39.1"/>
<path class="p" d="M253.3 10.4L253.8 69.6L254.2 45.3L254.6 39.9L255.1 60.8L255.5 49.1"/>
<path class="g" d="M53.5 71.9L54.0 50.5L54.4 119.5L54.9 110.2L55.3 153.7M214.0 205.2L214.4 201.8L214.8 201.7L215.3 190.1L215.7 166.3"/>
<path class="p" d="M234.0 38.6L234.4 45.1L234.9 74.3L235.3 17.2L235.7 46.1M225.7 9.9L226.2 53.3L226.6 31.5L227.0 65.4L227.5 74.3L227.9 9.9"/>
<path class="c" d="M261.7 36.7L262.1 62.9L262.6 62.5L263.0 62.2L263.4 19.9L263.9 65.2"/>
<path class="r" d="M44.3 48.2L44.7 12.9"/>
<path class="y" d="M249.2 20.9L249.7 40.9L250.1 57.9L250.5 60.0L251.0 17.9"/>
<path class="g" d="M241.8 33.8L242.2 10.1L242.6 51.9L243.1 21.6L243.5 74.5L243.9 23.9"/>
<path class="b" d="M44.3 36.0L44.7 29.9L45.2 39.2"/>
<path class="c" d="M235.6 49.3L236.1 39.4L236.5 51.0L236.9 25.2L237.4 33.3L237.8 46.6"/>
<path class="b" d="M228.4 68.9L228.9 78.0L229.3 19.4L229.7 16.5L230.2 43.3"/>
<path class="o" d="M247.5 24.9L248.0 29.3L248.4 60.9L248.9 62.2L249.3 41.7L249.7 59.3"/>
<path class="r" d="M51.8 74.3L52.3 81.7L52.7 64.1L53.1 69.0L53.6 58.1"/>
<path class="c" d="M44.3 48.1L44.8 60.0L45.2 25.4L45.6 20.4L46.1 48.0L46.5 36.0"/>
<path class="g" d="M234.2 62.3L234.6 27.8L235.1 42.5L235.5 12.2L235.9 21.6"/>
<path class="b" d="M58.8 201.5L59.7 205.0L60.1 203.5L61.0 202.1M261.0 46.1L261.5 17.1L261.9 23.1L262.3 54.7L262.8 25.4"/>
<path class="r" d="M229.0 33.0L229.4 33.9L229.8 31.1L230.3 18.9L230.7 64.2L231.1 21.8"/>
<path class="c" d="M228.8 67.1L229.2 30.6L229.7 69.2L230.1 52.0L230.5 67.1L231.0 18.5M234.9 48.6L235.3 73.5L235.8 16.4L236.2 58.7L236.6 28.7M238.1 66.3L238.5 61.2L239.0 52.2L239.4 49.9L239.8 34.4"/>
<path class="r" d="M227.9 16.5L228.3 23.7L228.8 47.1L229.2 72.3L229.6 20.6L230.1 53.3"/>
<path class="b" d="M251.0 59.3L251.5 45.1L251.9 34.6L252.3 69.7L252.8 23.1"/>
<path class="g" d="M277.8 204.4L278.2 200.4L279.5 203.6"/>
<path class="b" d="M51.6 53.1L52.1 62.8L52.5 29.5L52.9 52.5L53.4 48.4"/>
<path class="c" d="M211.7 203.3L212.6 204.2"/>
<path class="r" d="M268.7 51.8L269.2 50.7L269.6 64.4L270.0 78.5L270.5 72.0"/>
<path class="y" d="M221.6 76.1L222.0 65.4L222.5 21.7L222.9 37.5L223.3 63.0L223.8 15.4"/>
<path class="o" d="M261.9 69.3L262.3 49.6L262.7 18.9L263.2 22.5L263.6 45.8"/>
<path class="b" d="M55.5 57.5L56.0 100.9L56.4 105.4L56.8 143.6L57.3 160.5L57.7 176.1"/>
<path class="o" d="M243.2 27.1L243.6 41.0L244.0 18.5L244.5 20.2L244.9 42.6L245.3 39.7"/>
<path class="b" d="M53.4 34.0L53.8 54.3L54.2 46.0L54.7 88.9L55.1 78.6"/>
<path class="r" d="M254.6 64.5L255.0 60.2L255.4 29.5L255.9 10.0L256.3 45.3L256.7 29.0"/>
<path class="c" d="M55.9 98.9L56.3 108.7L56.7 133.7L57.2 164.2L57.6 179.9"/>
<path class="o" d="M50.5 54.4L50.9 16.4L51.4 43.0L51.8 75.3L52.2 64.9"/>
<path class="c" d="M59.0 198.2L59.4 201.2L59.8 203.7L60.3 204.2L61.6 201.3"/>
<path class="r" d="M225.1 68.6L225.6 34.5L226.0 30.0L226.4 8.6L226.9 71.9"/>
<path class="p" d="M276.1 201.6L277.0 203.6L278.3 205.0"/>
<path class="y" d="M225.8 20.6L226.2 47.7L226.7 60.2L227.1 40.0L227.5 33.5L228.0 32.4"/>
<path class="p" d="M57.5 193.0L58.0 196.8L58.4 199.7L59.7 203.3"/>
<path class="g" d="M268.3 27.8L268.7 47.8L269.1 61.2L269.6 50.8L270.0 51.1"/>
<path class="p" d="M220.2 29.7L220.6 42.4L221.1 60.6L221.5 77.0L221.9 70.8"/>
<path class="o" d="M44.2 45.7L44.6 52.0"/>
<path class="r" d="M273.9 189.2L274.4 196.9L274.8 200.1L275.2 201.4L275.7 203.7"/>
<path class="g" d="M221.0 59.5L221.4 67.4L221.8 18.4L222.3 70.0L222.7 69.3L223.1 74.5"/>
<path class="y" d="M271.8 32.7L272.2 56.6L272.6 68.6L273.1 97.5L273.5 122.2L273.9 150.9"/>
<path class="g" d="M223.1 74.5L223.6 11.9L224.0 17.9L224.4 74.3L224.9 63.1L225.3 48.6M58.9 202.3L59.7 203.9L60.2 203.1L61.5 204.1"/>
<path class="r" d="M245.3 17.0L245.8 45.5L246.2 55.5L246.6 51.9L247.1 70.2L247.5 54.8"/>
<path class="p" d="M265.0 28.5L265.5 57.2L265.9 37.5L266.3 25.2L266.8 11.8"/>
<path class="b" d="M57.7 176.1L58.1 190.6L58.6 198.8L59.0 198.0L59.4 200.5"/>
<path class="c" d="M238.6 55.0L239.0 50.4L239.4 38.4L239.9 32.0L240.3 23.7"/>
<path class="y" d="M269.6 49.3L270.0 27.2L270.5 23.8L270.9 35.6L271.3 57.1L271.8 32.7"/>
<path class="b" d="M260.6 14.8L261.0 30.5L261.4 21.2L261.9 57.2L262.3 38.7L262.7 59.2"/>
<path class="r" d="M220.1 61.0L220.5 17.0L221.0 73.7L221.4 66.3L221.8 52.9"/>
<path class="c" d="M236.7 58.8L237.2 54.1L237.6 55.0L238.0 15.7L238.5 43.4L238.9 67.4"/>
<path class="o" d="M258.7 61.4L259.1 17.8L259.5 49.2L260.0 60.3L260.4 12.7L260.8 61.6"/>
<path class="p" d="M59.2 204.1L59.6 202.2L60.9 202.5"/>
<path class="r" d="M217.9 23.4L218.4 22.4L218.8 40.6L219.2 21.8L219.7 37.1L220.1 61.0"/>
<path class="y" d="M56.9 119.6L57.3 160.0L57.8 172.0L58.2 185.5L58.6 194.9L59.1 199.2"/>
<path class="p" d="M231.9 71.9L232.4 10.8L232.8 37.0L233.2 49.8L233.7 63.2L234.1 50.2"/>
<path class="g" d="M51.0 27.2L51.5 34.1L51.9 31.5L52.4 39.1L52.8 15.9L53.2 28.6M47.1 68.7L47.6 47.1L48.0 43.7L48.4 39.2L48.9 37.1"/>
<path class="y" d="M221.9 52.1L222.3 73.7L222.7 43.6L223.2 32.0L223.6 24.6L224.1 74.7M213.8 200.1L214.3 188.1L214.7 139.2L215.1 101.8L215.6 49.5"/>
<path class="c" d="M215.0 175.3L215.5 101.3L215.9 62.1L216.3 23.7L216.8 22.5M228.4 30.5L228.8 50.8L229.3 32.2L229.7 39.4L230.1 50.1"/>
<path class="b" d="M240.3 24.4L240.8 27.3L241.2 12.6L241.6 28.1L242.1 51.0L242.5 44.2M50.8 53.4L51.3 37.1L51.7 15.4L52.1 47.4L52.6 56.7L53.0 51.6"/>
<path class="y" d="M253.8 18.0L254.2 32.5L254.6 65.7L255.1 35.3L255.5 22.7L255.9 46.4"/>
<path class="r" d="M233.6 13.5L234.0 65.8L234.5 65.5L234.9 25.9L235.4 29.1"/>
<path class="o" d="M218.7 40.9L219.1 71.4L219.6 61.1L220.0 29.6L220.4 81.7L220.9 66.5"/>
<path class="c" d="M266.3 16.7L266.8 30.9L267.2 27.4L267.7 65.4L268.1 11.5L268.5 31.4M254.7 19.6L255.1 12.0L255.6 62.2L256.0 27.2L256.4 13.9"/>
<path class="o" d="M237.1 38.2L237.5 69.9L238.0 71.4L238.4 20.4L238.8 47.9L239.3 46.7"/>
<path class="y" d="M233.8 13.1L234.2 29.1L234.7 62.1L235.1 52.6L235.5 14.0"/>
<path class="o" d="M50.3 38.0L50.7 26.3L51.2 48.1L51.6 65.2L52.0 59.0L52.5 30.2"/>
<path class="b" d="M251.7 11.1L252.1 10.0L252.6 61.3L253.0 29.9L253.4 66.4L253.9 41.9"/>
<path class="y" d="M261.8 72.4L262.3 59.0L262.7 44.2L263.1 64.2L263.6 68.2L264.0 19.3"/>
<path class="o" d="M51.8 36.7L52.3 43.4L52.7 67.9L53.2 43.5L53.6 65.9L54.0 22.4"/>
<path class="y" d="M243.1 78.3L243.6 48.1L244.0 41.3L244.4 66.6L244.9 20.2"/>
<path class="r" d="M251.4 61.3L251.9 43.0L252.3 43.3L252.7 22.6L253.2 52.5L253.6 69.8"/>
<path class="c" d="M246.7 6.8L247.2 47.4L247.6 28.6L248.0 51.4L248.5 11.7L248.9 58.5M270.9 39.2L271.4 52.6L271.8 71.9L272.2 65.3L272.7 106.1"/>
<path class="g" d="M226.1 19.3L226.6 73.5L227.0 66.5L227.4 12.6L227.9 47.3L228.3 50.8"/>
<path class="c" d="M268.1 13.2L268.5 59.3L268.9 56.2L269.4 62.8L269.8 19.1"/>
<path class="b" d="M252.3 52.5L252.7 25.0L253.2 22.8L253.6 26.4L254.0 22.9L254.5 57.1"/>
<path class="p" d="M244.1 43.3L244.5 12.7L245.0 32.3L245.4 25.9L245.8 25.6"/>
<path class="o" d="M272.2 58.0L272.7 77.9L273.1 85.5L273.5 129.5L274.0 153.8"/>
<path class="p" d="M228.4 25.9L228.9 64.9L229.3 49.8L229.8 10.0L230.2 46.1"/>
<path class="b" d="M274.4 190.3L274.8 197.1L275.2 200.3L275.7 200.7L276.1 203.6"/>
<path class="r" d="M212.7 202.7L214.0 202.0L214.5 199.4"/>
<path class="o" d="M44.4 39.6L44.9 71.6L45.3 46.1L45.7 26.5L46.2 58.1"/>
<path class="r" d="M214.5 199.4L214.9 187.1L215.3 130.4L215.8 99.5L216.2 22.1L216.6 70.5"/>
<path class="p" d="M261.8 35.8L262.2 67.9L262.7 15.1L263.1 45.2L263.5 5.2L264.0 23.5M255.0 21.4L255.4 21.2L255.8 68.2L256.3 29.1L256.7 45.0L257.1 42.1M226.8 42.2L227.3 71.5L227.7 38.4L228.1 30.8L228.6 9.5L229.0 13.3"/>
<path class="y" d="M61.1 204.6L61.5 202.9"/>
<path class="c" d="M211.7 204.6L212.2 202.7L213.9 203.5"/>
<path class="b" d="M236.4 35.5L236.8 24.6L237.3 57.0L237.7 29.6L238.2 18.6"/>
<path class="o" d="M266.7 39.5L267.1 65.5L267.6 44.5L268.0 26.3L268.4 47.6L268.9 28.9M259.2 19.7L259.7 25.9L260.1 23.5L260.5 7.7L261.0 28.7L261.4 50.9"/>
<path class="b" d="M255.0 18.6L255.4 48.4L255.8 24.5L256.3 39.5L256.7 59.5"/>
<path class="g" d="M230.6 9.0L231.0 52.4L231.4 71.4L231.9 61.9L232.3 25.7L232.7 56.8"/>
<path class="c" d="M235.5 39.3L236.0 61.0L236.4 79.6L236.8 25.2L237.3 79.0L237.7 49.2"/>
<path class="b" d="M211.7 203.8L212.6 204.2L213.5 203.3L214.3 202.6"/>
<path class="p" d="M251.2 26.3L251.6 19.4L252.0 62.3L252.5 37.7L252.9 52.4L253.3 10.4"/>
<path class="c" d="M277.9 204.8L278.8 202.0M211.7 203.7L212.6 201.9L213.1 204.4L214.4 201.6"/>
<path class="y" d="M235.8 56.0L236.2 17.7L236.6 63.6L237.1 46.2L237.5 39.2L237.9 67.4"/>
<path class="c" d="M221.7 82.7L222.2 13.4L222.6 43.7L223.0 79.5L223.5 50.0L223.9 75.7"/>
<path class="b" d="M273.1 99.1L273.6 121.2L274.0 142.6L274.4 166.6L274.9 186.0"/>
<path class="g" d="M242.6 9.4L243.0 60.8L243.5 6.8L243.9 29.1L244.3 55.3L244.8 39.5"/>
<path class="b" d="M234.4 19.3L234.8 30.5L235.3 47.1L235.7 68.9L236.1 68.6"/>
<path class="p" d="M52.9 77.1L53.4 23.8L53.8 71.2L54.2 76.9L54.7 71.8"/>
<path class="c" d="M224.7 62.8L225.1 73.3L225.5 55.5L226.0 11.6L226.4 72.3M276.8 200.9L277.6 203.8L278.1 204.1L279.4 203.3"/>
<path class="g" d="M224.5 46.9L224.9 36.2L225.3 16.6L225.8 10.7L226.2 65.8L226.6 52.2"/>
<path class="b" d="M242.3 55.2L242.8 23.1L243.2 39.2L243.6 29.7L244.1 20.7"/>
<path class="p" d="M264.0 23.5L264.4 52.1L264.8 60.2L265.3 25.8L265.7 32.8"/>
<path class="b" d="M242.1 11.4L242.5 50.6L243.0 45.2L243.4 64.5L243.8 23.5L244.3 49.2"/>
<path class="o" d="M241.4 13.7L241.9 69.9L242.3 14.3L242.7 58.4L243.2 27.1M44.4 34.8L44.9 53.5"/>
<path class="p" d="M236.8 14.8L237.2 19.9L237.7 50.9L238.1 31.8L238.5 68.9L239.0 24.6"/>
<path class="b" d="M218.9 75.9L219.3 59.2L219.7 66.7L220.2 71.9L220.6 75.0L221.0 14.2"/>
<path class="g" d="M243.9 23.9L244.4 33.6L244.8 46.2L245.2 57.2L245.7 20.3"/>
<path class="c" d="M274.7 200.9L275.1 202.0L275.6 202.3L276.0 201.8L276.4 203.1M44.2 18.6L44.6 62.7L45.1 54.5"/>
<path class="o" d="M54.5 60.0L54.9 85.3L55.4 133.4L55.8 147.9L56.2 168.8"/>
<path class="r" d="M230.5 11.7L231.0 57.7L231.4 18.5L231.8 69.5L232.3 59.8L232.7 31.6"/>
<path class="p" d="M224.5 13.8L225.0 38.7L225.4 41.6L225.8 64.9L226.3 35.5"/>
<path class="g" d="M248.1 44.9L248.5 56.7L249.0 37.9L249.4 48.0L249.8 45.0L250.3 13.5"/>
<path class="y" d="M276.3 197.8L276.7 199.7L277.2 202.0L277.6 203.6L278.0 202.3"/>
<path class="g" d="M220.9 75.1L221.3 24.3L221.8 33.3L222.2 60.3L222.6 34.4"/>
<path class="c" d="M265.2 50.1L265.6 14.3L266.0 13.2L266.5 16.4L266.9 39.9M217.4 71.3L217.8 34.6L218.2 31.0L218.7 75.5L219.1 26.9"/>
<path class="g" d="M233.1 42.4L233.6 23.9L234.0 33.3L234.4 78.7L234.9 41.4L235.3 47.5"/>
<path class="c" d="M44.1 19.1L44.5 47.6"/>
<path class="r" d="M255.3 50.2L255.7 19.8L256.2 49.9L256.6 21.5L257.0 34.8"/>
<path class="y" d="M214.2 197.7L214.6 178.9L215.1 96.8L215.5 66.1"/>
<path class="o" d="M234.6 30.6L235.0 59.4L235.4 20.2L235.9 57.9L236.3 73.9L236.7 25.6"/>
<path class="b" d="M53.0 51.6L53.4 36.6L53.9 100.9L54.3 106.3L54.7 135.5L55.2 156.9M50.6 42.5L51.0 69.3L51.5 43.2L51.9 53.9L52.3 58.4M212.4 204.0L212.8 201.9L214.1 202.9"/>
<path class="g" d="M217.1 13.2L217.5 37.8L217.9 64.3L218.4 28.3L218.8 47.1L219.2 38.1M234.8 21.8L235.2 70.1L235.7 56.7L236.1 51.3L236.5 31.1"/>
<path class="p" d="M241.9 59.8L242.3 40.4L242.8 23.8L243.2 38.4L243.7 31.7L244.1 43.3"/>
<path class="r" d="M246.6 24.0L247.0 70.7L247.5 44.5L247.9 59.0L248.3 54.3L248.8 72.9"/>
<path class="c" d="M258.1 25.3L258.5 50.5L259.0 42.4L259.4 17.8L259.8 64.9"/>
<path class="y" d="M244.2 70.6L244.6 48.3L245.0 46.1L245.5 30.8L245.9 41.9"/>
<path class="b" d="M46.4 49.0L46.9 50.4L47.3 44.7L47.7 57.6L48.2 71.5L48.6 36.3M254.9 20.9L255.3 57.8L255.8 22.5L256.2 20.6L256.6 69.6L257.1 21.8"/>
<path class="g" d="M46.2 50.1L46.6 74.6L47.0 61.6L47.5 55.9L47.9 14.4"/>
<path class="c" d="M255.6 22.4L256.0 61.5L256.5 24.7L256.9 52.8L257.3 42.0L257.8 39.9"/>
<path class="y" d="M229.2 65.2L229.7 29.6L230.1 51.8L230.5 18.4L231.0 12.6"/>
<path class="g" d="M212.2 202.5L213.5 204.1L214.4 201.1"/>
<path class="r" d="M275.7 203.3L277.5 202.0"/>
<path class="b" d="M271.0 28.8L271.4 44.2L271.8 55.4L272.3 71.4L272.7 57.4L273.1 99.1"/>
<path class="y" d="M273.7 123.5L274.1 143.3L274.6 175.0L275.0 185.2L275.4 192.7"/>
<path class="r" d="M238.8 32.0L239.2 68.8L239.6 50.7L240.1 19.4L240.5 36.2"/>
<path class="g" d="M230.9 15.6L231.4 67.4L231.8 71.7L232.3 36.5L232.7 16.3L233.1 42.4"/>
<path class="p" d="M225.1 58.0L225.5 34.3L226.0 23.3L226.4 31.4L226.9 59.3L227.3 42.3"/>
<path class="r" d="M215.1 190.2L215.6 159.8L216.0 98.8L216.4 63.9L216.9 37.2"/>
<path class="g" d="M234.5 31.0L234.9 46.6L235.4 11.1L235.8 29.1L236.2 67.2L236.7 71.5M50.4 18.5L50.8 16.0L51.2 70.7L51.7 30.4L52.1 30.3"/>
<path class="c" d="M257.8 39.9L258.2 51.3L258.7 53.5L259.1 60.5L259.5 61.1L260.0 46.7"/>
<path class="b" d="M236.9 49.3L237.3 55.8L237.8 56.5L238.2 44.3L238.6 44.1L239.1 63.3"/>
<path class="o" d="M218.5 27.3L218.9 57.0L219.4 44.1L219.8 67.3L220.2 9.9L220.7 29.8M220.7 29.8L221.1 18.0L221.5 31.7L222.0 19.9L222.4 47.1L222.8 64.6"/>
<path class="b" d="M48.8 32.6L49.2 70.0L49.6 44.6L50.1 24.0L50.5 40.1L51.0 28.5"/>
<path class="g" d="M220.0 55.2L220.5 64.7L220.9 67.8L221.3 73.1L221.8 65.0"/>
<path class="o" d="M257.1 23.1L257.5 53.8L258.0 58.5L258.4 46.2L258.8 49.6L259.3 54.2"/>
<path class="p" d="M213.7 203.6L214.2 202.4L214.6 196.1L215.0 187.1"/>
<path class="c" d="M45.6 65.3L46.1 63.5L46.5 37.5L46.9 61.5L47.4 46.4L47.8 32.5"/>
<path class="g" d="M272.7 29.5L273.1 78.9L273.5 85.4L274.0 111.9L274.4 130.2L274.9 165.3"/>
<path class="c" d="M269.5 17.5L269.9 54.1L270.4 39.8L270.8 24.5L271.2 43.6M249.5 20.2L249.9 37.5L250.4 8.2L250.8 26.8L251.3 73.3"/>
<path class="b" d="M227.7 47.8L228.2 63.5L228.6 34.6L229.0 77.9L229.5 38.2L229.9 22.2"/>
<path class="c" d="M51.7 31.5L52.1 47.5L52.6 58.4L53.0 45.3L53.4 26.8L53.9 37.2"/>
<path class="y" d="M269.8 14.2L270.2 57.2L270.7 38.8L271.1 26.4L271.5 59.2"/>
<path class="b" d="M44.0 63.8L44.5 12.3L44.9 53.4M256.6 69.1L257.1 60.4L257.5 12.3L257.9 48.3L258.4 43.0M221.7 33.6L222.2 23.3L222.6 23.4L223.0 46.5L223.5 77.9L223.9 18.4M53.6 67.3L54.0 87.5L54.5 119.2L54.9 153.7L55.3 174.5"/>
<path class="c" d="M216.8 61.2L217.3 16.3L217.7 28.4L218.1 63.0L218.6 54.2L219.0 24.1M258.6 44.9L259.1 49.3L259.5 20.0L259.9 64.7L260.4 29.4L260.8 62.5"/>
<path class="y" d="M238.1 59.8L238.5 26.7L239.0 53.9L239.4 50.3L239.8 19.1L240.3 34.7"/>
<path class="g" d="M216.5 21.9L217.0 38.0L217.4 43.5L217.9 40.3L218.3 61.2L218.7 62.4"/>
<path class="y" d="M51.9 42.2L52.4 51.5L52.8 47.2L53.2 21.3L53.7 47.2L54.1 84.2"/>
<path class="c" d="M219.1 27.2L219.6 43.6L220.0 22.1L220.4 51.3L220.9 69.3L221.3 30.6"/>
<path class="b" d="M220.0 62.5L220.4 70.8L220.9 37.9L221.3 36.0L221.7 53.8M59.2 202.3L60.1 205.6L61.0 201.9"/>
<path class="c" d="M271.2 59.3L271.7 97.4L272.1 110.6L272.6 154.8L273.0 167.3M242.5 44.8L242.9 63.1L243.3 74.5L243.8 15.2L244.2 71.3L244.6 18.7"/>
<path class="p" d="M59.7 203.3L60.1 203.1L61.4 204.6"/>
<path class="o" d="M264.5 18.9L265.0 54.7L265.4 30.6L265.8 51.6L266.3 15.7L266.7 39.5"/>
<path class="y" d="M276.6 202.3L277.5 204.9L278.4 205.4"/>
<path class="r" d="M57.5 191.7L58.0 197.9L58.4 197.8L58.8 203.0L59.3 201.4L60.6 204.3"/>
<path class="b" d="M276.0 201.0L276.9 205.3L279.1 202.5"/>
<path class="c" d="M249.8 25.1L250.3 11.8L250.7 18.0L251.1 58.4L251.6 29.3L252.0 19.8"/>
<path class="b" d="M44.1 33.9L44.6 50.5L45.0 49.7M241.0 34.3L241.4 71.1L241.9 28.7L242.3 10.6L242.7 68.0L243.2 30.9"/>
<path class="c" d="M222.3 28.5L222.7 60.6L223.2 43.5L223.6 23.2L224.0 14.5L224.5 53.7"/>
<path class="y" d="M266.2 52.5L266.7 46.1L267.1 64.6L267.5 35.4L268.0 48.8"/>
<path class="p" d="M60.5 205.0L61.0 202.8"/>
<path class="r" d="M265.7 60.7L266.1 17.9L266.6 43.4L267.0 35.0L267.4 61.2L267.9 21.7"/>
<path class="o" d="M260.6 64.4L261.0 38.2L261.5 41.1L261.9 44.5L262.4 67.1L262.8 18.1"/>
<path class="p" d="M247.2 15.2L247.6 18.0L248.0 17.7L248.5 38.5L248.9 13.2"/>
<path class="c" d="M268.8 41.1L269.2 37.7L269.6 46.1L270.1 61.9L270.5 28.5L270.9 39.2"/>
<path class="o" d="M50.6 70.3L51.0 24.9L51.5 21.2L51.9 42.7L52.3 13.5"/>
<path class="r" d="M213.2 201.2L213.6 203.0L214.0 203.6L214.5 201.4L214.9 191.7L215.3 154.9"/>
<path class="y" d="M211.9 204.1L212.8 204.3L213.6 202.2L214.1 199.3"/>
<path class="g" d="M278.2 202.9L278.7 204.6"/>
<path class="b" d="M49.4 46.5L49.9 65.8L50.3 61.8L50.7 31.1L51.2 26.3"/>
<path class="y" d="M61.0 204.4L61.5 202.5"/>
<path class="r" d="M58.5 203.9L59.0 201.6L60.7 201.7M47.6 48.3L48.0 54.0L48.4 62.8L48.9 56.7L49.3 40.7L49.7 73.6"/>
<path class="c" d="M238.7 9.0L239.1 16.3L239.5 24.2L240.0 14.3L240.4 57.4"/>
<path class="p" d="M231.2 48.7L231.6 19.0L232.0 43.1L232.5 78.0L232.9 72.9M213.8 201.3L214.2 201.0L214.7 185.6L215.1 128.4"/>
<path class="b" d="M49.5 24.4L49.9 15.7L50.3 45.4L50.8 17.1L51.2 22.1"/>
<path class="g" d="M211.9 202.7L212.7 202.7"/>
<path class="b" d="M253.2 10.4L253.6 30.0L254.0 67.5L254.5 34.3L254.9 20.9"/>
<path class="p" d="M276.8 203.5L277.6 205.1L278.9 202.6"/>
<path class="b" d="M248.3 33.3L248.7 23.4L249.2 38.0L249.6 25.2L250.0 16.5L250.5 15.9"/>
<path class="p" d="M275.5 201.9L276.4 201.4L277.2 204.2"/>
<path class="g" d="M266.3 23.3L266.8 32.9L267.2 28.8L267.6 37.7L268.1 61.0"/>
<path class="b" d="M264.2 21.8L264.6 35.2L265.1 24.5L265.5 17.4L265.9 57.2L266.4 37.8"/>
<path class="r" d="M249.0 23.1L249.5 76.7L249.9 17.5L250.3 32.4L250.8 55.6L251.2 23.1"/>
<path class="y" d="M54.3 142.0L54.8 163.8L55.2 176.8L55.6 189.3L56.1 195.0"/>
<path class="g" d="M249.2 20.6L249.6 25.8L250.1 11.0L250.5 71.8L250.9 55.5"/>
<path class="c" d="M241.7 57.0L242.1 8.4L242.6 33.4L243.0 28.2L243.5 29.1L243.9 16.2"/>
<path class="p" d="M232.9 72.9L233.3 56.5L233.8 41.5L234.2 71.9L234.6 26.3L235.1 51.8"/>
<path class="y" d="M259.8 31.7L260.2 43.5L260.7 27.4L261.1 70.0L261.5 62.6M46.6 14.7L47.0 26.7L47.4 12.1L47.9 41.5L48.3 46.6M273.8 90.1L274.2 121.7L274.6 157.0L275.1 176.4L275.5 190.5L275.9 197.6"/>
<path class="b" d="M50.8 46.4L51.2 65.4L51.6 72.7L52.1 37.7L52.5 15.9"/>
<path class="g" d="M211.8 204.1L212.2 202.5"/>
<path class="c" d="M56.0 104.4L56.5 151.9L56.9 158.4L57.3 182.6L57.8 194.1"/>
<path class="b" d="M253.9 68.4L254.3 30.4L254.7 21.0L255.2 35.7L255.6 41.8"/>
<path class="p" d="M225.8 37.0L226.2 54.0L226.6 68.0L227.1 54.9L227.5 53.1L227.9 66.8"/>
<path class="b" d="M250.6 35.7L251.0 42.7L251.4 53.4L251.9 70.0L252.3 52.2L252.7 68.3"/>
<path class="c" d="M221.3 33.5L221.7 29.5L222.2 43.5L222.6 62.5L223.0 43.9L223.5 40.7"/>
<path class="y" d="M214.1 199.3L214.5 188.4L214.9 148.5L215.4 94.5L215.8 66.7"/>
<path class="o" d="M251.8 70.2L252.2 8.8L252.7 26.0L253.1 47.5L253.6 61.1L254.0 38.1"/>
<path class="c" d="M258.9 32.6L259.3 61.0L259.8 60.6L260.2 56.0L260.6 66.8"/>
<path class="p" d="M224.0 17.9L224.4 58.7L224.9 19.6L225.3 33.3L225.7 9.9"/>
<path class="r" d="M44.2 45.2L44.6 43.2"/>
<path class="p" d="M258.0 49.5L258.4 22.6L258.9 42.9L259.3 60.1L259.7 30.3L260.2 53.4"/>
<path class="b" d="M219.9 31.8L220.3 18.9L220.8 64.4L221.2 40.6L221.7 29.5L222.1 37.1M268.3 14.2L268.7 56.6L269.1 31.4L269.6 54.3L270.0 60.6L270.4 27.6"/>
<path class="c" d="M50.9 25.3L51.3 72.9L51.7 8.2L52.2 10.8L52.6 15.7L53.0 56.6"/>
<path class="b" d="M256.1 53.8L256.5 29.9L256.9 55.8L257.4 62.9L257.8 54.2"/>
<path class="c" d="M246.8 70.2L247.2 65.8L247.7 56.8L248.1 15.2L248.5 16.4L249.0 11.6"/>
<path class="r" d="M234.4 59.0L234.9 62.4L235.3 65.1L235.7 22.9L236.2 73.8L236.6 69.0"/>
<path class="b" d="M218.2 39.3L218.6 42.1L219.1 47.7L219.5 24.9L219.9 49.7"/>
<path class="c" d="M223.9 30.1L224.3 72.3L224.7 77.6L225.2 70.4L225.6 73.0L226.0 28.0"/>
<path class="r" d="M44.2 74.3L44.6 70.9L45.0 22.6L45.5 33.1"/>
<path class="c" d="M258.6 34.7L259.1 37.1L259.5 38.4L259.9 16.5L260.4 62.4M269.8 16.3L270.3 26.4L270.7 45.2L271.1 29.7L271.6 63.8"/>
<path class="o" d="M248.7 58.6L249.1 11.3L249.5 58.3L250.0 62.4L250.4 74.5L250.8 73.1"/>
<path class="b" d="M222.8 62.4L223.2 49.5L223.7 58.6L224.1 64.1L224.6 24.1L225.0 77.3"/>
<path class="g" d="M259.2 65.7L259.6 44.9L260.0 18.9L260.5 23.2L260.9 55.6L261.3 27.7"/>
<path class="o" d="M241.9 69.0L242.3 9.2L242.8 65.8L243.2 52.8L243.6 27.0"/>
<path class="p" d="M49.2 53.7L49.6 44.8L50.1 49.6L50.5 46.0L50.9 31.6"/>
<path class="g" d="M49.1 29.4L49.6 38.4L50.0 22.2L50.4 25.3L50.9 50.9"/>
<path class="y" d="M229.8 38.5L230.3 34.5L230.7 52.9L231.1 5.2L231.6 58.3"/>
<path class="r" d="M219.1 19.9L219.5 65.7L219.9 65.5L220.4 39.4L220.8 57.5L221.2 33.9"/>
<path class="c" d="M253.7 56.9L254.2 20.6L254.6 27.0L255.0 61.6L255.5 58.0L255.9 57.1"/>
<path class="g" d="M222.7 78.9L223.2 44.1L223.6 55.0L224.0 16.1L224.5 46.9"/>
<path class="b" d="M272.3 61.6L272.7 105.7L273.2 112.7L273.6 146.3L274.0 168.7L274.5 185.1M269.9 59.9L270.3 16.0L270.7 37.4L271.2 47.6L271.6 40.4L272.0 34.4"/>
<path class="g" d="M228.8 16.9L229.3 58.9L229.7 53.3L230.1 12.0L230.6 62.1"/>
<path class="r" d="M51.4 31.0L51.9 32.0L52.3 29.0L52.7 49.6L53.2 14.8L53.6 78.6"/>
<path class="y" d="M225.5 80.6L226.0 11.5L226.4 29.8L226.8 23.5L227.3 51.5L227.7 64.1"/>
<path class="o" d="M245.8 10.5L246.2 56.0L246.7 43.7L247.1 11.3L247.5 24.9"/>
<path class="y" d="M234.0 30.4L234.5 31.5L234.9 34.7L235.3 58.0L235.8 56.0"/>
<path class="c" d="M214.2 195.9L214.6 180.9M48.7 19.0L49.1 18.3L49.6 30.0L50.0 47.7L50.4 19.0L50.9 25.3"/>
<path class="b" d="M238.8 54.6L239.3 54.2L239.7 39.3L240.1 30.6L240.6 56.8L241.0 16.8M211.9 202.3L212.3 202.2"/>
<path class="c" d="M229.0 74.1L229.4 24.5L229.8 56.1L230.3 59.1L230.7 20.1"/>
<path class="g" d="M246.1 16.3L246.5 26.7L247.0 57.4L247.4 10.0L247.8 14.4L248.3 58.1"/>
<path class="r" d="M225.4 21.7L225.8 19.0L226.2 33.8L226.7 33.8L227.1 54.2L227.5 53.2"/>
<path class="b" d="M45.0 57.6L45.4 42.2L45.9 13.3L46.3 44.4L46.7 58.8M246.7 40.0L247.1 46.7L247.6 65.8L248.0 29.9L248.4 59.8L248.9 15.7M237.8 71.6L238.2 49.5L238.7 73.3L239.1 54.8L239.5 42.4L240.0 59.7"/>
<path class="c" d="M268.6 34.8L269.0 47.3L269.5 48.7L269.9 59.7L270.3 22.2L270.8 49.7M242.1 42.2L242.6 32.8L243.0 33.4L243.4 10.4L243.9 23.7"/>
<path class="g" d="M216.7 56.0L217.1 27.5L217.5 46.4L218.0 44.5L218.4 47.3L218.8 71.1"/>
<path class="b" d="M223.8 74.8L224.3 50.8L224.7 40.6L225.1 29.0L225.6 74.6L226.0 80.2"/>
<path class="o" d="M47.9 49.4L48.4 56.9L48.8 19.0L49.2 19.3L49.7 10.6L50.1 43.9"/>
<path class="c" d="M250.6 73.1L251.1 14.1L251.5 23.0L251.9 47.1L252.4 13.5L252.8 70.3M46.4 53.7L46.9 21.4L47.3 37.4L47.7 30.9L48.2 53.8M228.1 58.6L228.6 47.6L229.0 50.6L229.4 65.2L229.9 37.4"/>
<path class="b" d="M272.8 65.1L273.2 87.6L273.6 121.1L274.1 132.2L274.5 169.8L274.9 183.2"/>
<path class="o" d="M219.8 67.6L220.2 40.3L220.6 40.9L221.1 27.8L221.5 35.0"/>
<path class="c" d="M243.8 38.9L244.2 65.8L244.6 35.5L245.1 66.2L245.5 48.3L245.9 19.0"/>
<path class="g" d="M220.6 56.2L221.0 59.8L221.5 51.2L221.9 53.5L222.3 18.5L222.8 35.0"/>
<path class="p" d="M243.4 43.9L243.8 63.1L244.2 37.7L244.7 29.2L245.1 69.7L245.5 48.2"/>
<path class="c" d="M47.6 50.5L48.1 45.8L48.5 10.4L48.9 45.1L49.4 53.0L49.8 44.7M230.0 21.7L230.4 23.3L230.9 58.5L231.3 32.3L231.7 76.0"/>
<path class="g" d="M226.7 58.6L227.1 49.1L227.5 54.5L228.0 49.5L228.4 13.9L228.8 16.9"/>
<path class="b" d="M56.6 194.2L57.1 197.7L57.5 200.7L57.9 199.8L59.2 202.6"/>
<path class="r" d="M57.6 200.8L58.9 203.4L59.4 201.3"/>
<path class="b" d="M60.6 203.2L61.5 201.2"/>
<path class="y" d="M268.0 48.8L268.4 57.7L268.8 47.2L269.3 23.6L269.7 59.0L270.1 38.7"/>
<path class="r" d="M256.8 43.9L257.3 65.2L257.7 13.7L258.1 61.1L258.6 45.0L259.0 40.9"/>
<path class="y" d="M60.9 202.8L61.3 204.6M251.8 29.3L252.2 26.8L252.7 10.3L253.1 60.2L253.5 18.7L254.0 28.4"/>
<path class="c" d="M48.9 34.4L49.3 25.9L49.7 55.3L50.2 23.9L50.6 67.5M221.6 24.5L222.1 37.0L222.5 67.1L222.9 52.1L223.4 64.1L223.8 78.1"/>
<path class="r" d="M262.7 37.6L263.1 49.9L263.5 46.4L264.0 54.4L264.4 70.7L264.8 24.6"/>
<path class="c" d="M236.9 49.3L237.4 50.7L237.8 33.5L238.2 53.7L238.7 21.8L239.1 52.1M246.5 16.5L246.9 67.1L247.3 65.0L247.8 59.4L248.2 69.1L248.6 54.1"/>
<path class="y" d="M247.6 34.7L248.1 59.2L248.5 24.1L248.9 48.3L249.4 34.2L249.8 19.1"/>
<path class="p" d="M265.0 13.8L265.4 62.5L265.8 30.6L266.3 65.4L266.7 38.8L267.1 42.8"/>
<path class="b" d="M213.1 203.7L214.0 200.5L214.4 199.1"/>
<path class="o" d="M44.9 53.5L45.3 26.9L45.7 24.6L46.2 47.4L46.6 13.4L47.0 21.9"/>
<path class="b" d="M57.5 202.8L58.8 204.0L59.2 202.3"/>
<path class="c" d="M242.9 61.5L243.3 71.3L243.7 61.7L244.2 22.3L244.6 51.4"/>
<path class="p" d="M271.1 75.0L271.6 67.9L272.0 108.0L272.5 111.6L272.9 144.2L273.3 173.0"/>
<path class="c" d="M246.2 27.5L246.6 12.1L247.1 33.9L247.5 51.8L247.9 48.8L248.4 18.2"/>
<path class="b" d="M250.0 50.1L250.4 52.5L250.8 10.9L251.3 39.9L251.7 29.5"/>
<path class="c" d="M257.7 41.9L258.1 45.4L258.5 56.3L259.0 40.1L259.4 32.2L259.8 61.6M55.1 153.3L55.5 171.3L55.9 191.6L56.4 195.0L56.8 199.8L57.2 202.3"/>
<path class="r" d="M215.4 192.3L215.8 164.1L216.2 90.1L216.7 40.1L217.1 49.2L217.5 37.5"/>
<path class="o" d="M58.8 202.3L59.2 204.2L60.9 204.4"/>
<path class="g" d="M258.3 59.0L258.7 16.8L259.1 8.8L259.6 62.4L260.0 30.0"/>
<path class="p" d="M273.2 102.1L273.6 130.2L274.1 163.2L274.5 179.3L275.0 191.9"/>
<path class="b" d="M56.4 187.7L56.8 194.6L57.3 194.9L57.7 201.9L58.6 204.1M211.8 204.8L212.2 205.2L213.1 201.7L214.4 201.9"/>
<path class="o" d="M44.5 14.7L44.9 29.8L45.4 46.5L45.8 74.4L46.2 31.1"/>
<path class="b" d="M239.1 63.3L239.5 21.8L239.9 51.1L240.4 29.0L240.8 30.6"/>
<path class="c" d="M212.0 205.3L212.5 201.9L214.2 195.9"/>
<path class="p" d="M50.4 21.9L50.9 36.1L51.3 57.8L51.7 59.2L52.2 46.9L52.6 60.1"/>
<path class="c" d="M248.6 54.1L249.1 42.6L249.5 16.2L249.9 42.7L250.4 37.3"/>
<path class="r" d="M60.7 201.7L61.2 204.9"/>
<path class="b" d="M272.2 89.7L272.6 102.4L273.1 144.3L273.5 152.9L273.9 181.1L274.4 190.3"/>
<path class="c" d="M274.2 195.0L274.6 199.0L275.0 199.2L275.9 203.1"/>
<path class="p" d="M213.6 202.5L214.0 204.2L214.5 200.0L214.9 173.3L215.3 133.7L215.8 45.0"/>
<path class="b" d="M236.2 34.7L236.7 52.6L237.1 57.2L237.5 55.4L238.0 80.2L238.4 48.9M264.5 33.0L264.9 61.9L265.3 33.1L265.8 34.8L266.2 39.6"/>
<path class="o" d="M223.2 40.4L223.7 64.1L224.1 60.2L224.5 40.9L225.0 29.6L225.4 49.0"/>
<path class="c" d="M252.5 18.7L252.9 49.2L253.3 65.1L253.8 42.0L254.2 32.1L254.6 21.8"/>
<path class="p" d="M241.8 12.5L242.3 69.1L242.7 61.9L243.1 67.8L243.6 28.9L244.0 46.8"/>
<path class="y" d="M231.9 21.7L232.3 22.6L232.8 13.4L233.2 70.4L233.6 58.8L234.1 33.9"/>
<path class="b" d="M273.8 101.0L274.3 138.1L274.7 161.1L275.1 179.9L275.6 191.9M236.0 22.3L236.4 8.8L236.9 46.7L237.3 36.4L237.7 39.5L238.2 8.7M265.3 35.5L265.8 42.9L266.2 25.3L266.6 62.8L267.1 24.8"/>
<path class="c" d="M270.7 69.4L271.1 68.9L271.5 75.0L272.0 82.5L272.4 109.4L272.8 131.8"/>
<path class="p" d="M271.0 27.1L271.5 28.5L271.9 50.8L272.3 72.4L272.8 94.4L273.2 102.1"/>
<path class="b" d="M214.4 201.8L214.8 194.9L215.2 175.1L215.7 114.1"/>
<path class="c" d="M244.6 51.4L245.0 15.4L245.5 52.5L245.9 47.3L246.3 39.3L246.8 70.2"/>
<path class="b" d="M248.8 62.2L249.3 47.9L249.7 19.1L250.1 29.3L250.6 70.3L251.0 31.4"/>
<path class="c" d="M265.6 52.4L266.0 22.1L266.5 16.1L266.9 16.7L267.3 61.0L267.8 34.7"/>
<path class="b" d="M221.1 69.6L221.5 62.8L221.9 59.7L222.4 72.1L222.8 62.4"/>
<path class="g" d="M50.9 50.9L51.3 31.4L51.7 9.7L52.2 11.6L52.6 65.3L53.0 41.0"/>
<path class="p" d="M58.3 200.9L60.0 203.3L60.4 203.8"/>
<path class="c" d="M218.1 14.3L218.6 31.6L219.0 59.3L219.4 44.5L219.9 26.6"/>
<path class="p" d="M257.3 49.0L257.7 41.1L258.1 20.0L258.6 8.4L259.0 51.5L259.4 24.8M278.9 202.6L279.4 204.6"/>
<path class="c" d="M255.2 55.5L255.6 10.5L256.0 8.9L256.5 50.3L256.9 48.8"/>
<path class="p" d="M259.0 45.0L259.4 16.5L259.8 57.1L260.3 21.7L260.7 30.7L261.1 62.7M278.8 203.4L279.7 202.1"/>
<path class="b" d="M230.0 15.1L230.4 46.0L230.9 66.6L231.3 27.3L231.7 70.6"/>
<path class="y" d="M275.3 198.8L275.7 200.9L277.4 202.2"/>
<path class="g" d="M45.5 20.0L46.0 23.6L46.4 29.8L46.9 22.3L47.3 48.7M224.8 63.8L225.2 79.1L225.7 78.2L226.1 8.3L226.5 72.5"/>
<path class="p" d="M230.2 41.9L230.6 52.7L231.1 36.4L231.5 34.5L231.9 71.9"/>
<path class="o" d="M247.1 32.5L247.5 65.7L247.9 27.6L248.4 36.6L248.8 19.9L249.2 59.2"/>
<path class="y" d="M243.8 64.4L244.2 14.2L244.7 37.9L245.1 55.5L245.5 53.9M270.1 64.2L270.5 48.3L271.0 50.9L271.4 46.2L271.8 71.3M258.0 6.8L258.4 63.6L258.8 48.5L259.3 71.9L259.7 20.4L260.1 17.2"/>
<path class="b" d="M261.7 20.6L262.1 56.1L262.6 44.6L263.0 9.3L263.4 49.5L263.9 62.0"/>
<path class="r" d="M231.8 27.2L232.3 56.4L232.7 66.8L233.1 57.4L233.6 31.9L234.0 54.1"/>
<path class="c" d="M238.6 14.4L239.1 46.1L239.5 45.7L239.9 27.9L240.4 49.3M230.0 19.6L230.4 10.3L230.8 28.9L231.3 48.3L231.7 74.7"/>
<path class="o" d="M54.6 53.3L55.1 97.1L55.5 121.4L55.9 150.0L56.4 163.9M246.9 51.8L247.4 32.4L247.8 31.6L248.2 20.1L248.7 58.6"/>
<path class="b" d="M59.2 202.6L59.7 203.8L60.5 205.7L61.0 203.1"/>
<path class="p" d="M217.2 39.8L217.6 15.5L218.1 44.7L218.5 61.1L218.9 36.6M224.1 44.2L224.5 50.8L225.0 30.2L225.4 16.0L225.8 31.6M216.3 73.9L216.7 31.9L217.2 11.3L217.6 38.7L218.0 7.9L218.5 52.6"/>
<path class="g" d="M263.1 30.1L263.5 36.1L264.0 44.4L264.4 46.8L264.8 60.5L265.3 39.4"/>
<path class="c" d="M46.1 13.1L46.5 38.1L46.9 45.1L47.4 60.8L47.8 17.5"/>
<path class="y" d="M225.9 74.6L226.4 23.9L226.8 24.7L227.2 58.4L227.7 79.7L228.1 36.5"/>
<path class="o" d="M254.8 19.0L255.2 33.6L255.6 9.5L256.1 26.2L256.5 66.0L256.9 33.3"/>
<path class="r" d="M275.7 203.7L277.0 202.8L277.9 203.9"/>
<path class="g" d="M245.3 72.2L245.7 57.9L246.1 56.1L246.6 13.8L247.0 59.5"/>
<path class="p" d="M267.9 17.8L268.3 46.5L268.8 67.8L269.2 19.0L269.6 20.2"/>
<path class="y" d="M221.0 29.3L221.4 17.7L221.9 77.5L222.3 30.1L222.7 40.1L223.2 54.4"/>
<path class="c" d="M250.4 37.3L250.8 59.6L251.2 54.4L251.7 33.5L252.1 47.9L252.5 13.4"/>
<path class="g" d="M242.0 36.4L242.5 72.7L242.9 39.5L243.3 36.3L243.8 57.9L244.2 33.7"/>
<path class="b" d="M251.7 17.5L252.1 21.3L252.6 63.7L253.0 38.7L253.4 42.7L253.9 68.4"/>
<path class="y" d="M257.0 58.3L257.5 17.6L257.9 15.4L258.3 19.7L258.8 15.1L259.2 52.0M271.6 23.4L272.0 29.3L272.4 52.6L272.9 49.0L273.3 78.2L273.8 90.1"/>
<path class="b" d="M224.3 37.0L224.7 77.9L225.1 64.9L225.6 45.0L226.0 16.1L226.4 32.9"/>
<path class="r" d="M275.1 201.3L275.9 202.7L276.4 204.6L277.7 202.5"/>
<path class="o" d="M254.0 38.1L254.4 24.8L254.9 58.3L255.3 54.8L255.7 41.9L256.2 20.5M273.1 140.1L273.6 157.2L274.0 175.0L274.4 189.2L274.9 196.2L275.3 200.9"/>
<path class="r" d="M245.1 68.3L245.5 73.0L246.0 36.7L246.4 76.2L246.8 30.6"/>
<path class="b" d="M251.7 29.5L252.1 72.1L252.6 20.4L253.0 67.1L253.4 22.7L253.9 24.2"/>
<path class="r" d="M242.8 25.4L243.3 19.3L243.7 46.3L244.1 53.9L244.6 65.6"/>
<path class="p" d="M234.1 50.2L234.5 33.5L235.0 44.8L235.4 56.6L235.8 63.3"/>
<path class="b" d="M56.9 200.0L57.8 204.3L58.6 203.3L59.5 203.9"/>
<path class="c" d="M252.8 70.3L253.2 35.9L253.7 62.0L254.1 49.6L254.5 28.0L255.0 33.3M212.0 203.1L212.4 202.7L212.9 204.1"/>
<path class="p" d="M47.5 64.8L48.0 41.4L48.4 27.4L48.8 46.6L49.3 60.6"/>
<path class="g" d="M222.0 41.2L222.5 53.9L222.9 17.3L223.3 61.1L223.8 26.3L224.2 29.6"/>
<path class="c" d="M250.1 65.4L250.5 75.0L251.0 52.9L251.4 18.0L251.8 24.8L252.3 31.6M235.0 51.2L235.4 47.8L235.9 36.5L236.3 41.6L236.7 58.8"/>
<path class="y" d="M54.5 90.0L55.0 116.5L55.4 156.1L55.8 177.9L56.3 185.4L56.7 194.1"/>
<path class="b" d="M232.5 71.8L232.9 67.7L233.4 71.1L233.8 44.0L234.2 68.5"/>
<path class="o" d="M253.6 61.2L254.1 54.4L254.5 45.1L254.9 74.1L255.4 19.0L255.8 30.3"/>
<path class="b" d="M247.8 15.9L248.2 34.8L248.7 27.3L249.1 65.6L249.5 30.5L250.0 50.1"/>
<path class="c" d="M270.1 39.2L270.5 64.1L270.9 60.6L271.4 65.6L271.8 77.6L272.2 61.3"/>
<path class="r" d="M256.8 29.5L257.2 70.6L257.6 42.5L258.1 34.1L258.5 15.5L258.9 25.9"/>
<path class="o" d="M239.7 10.7L240.2 40.8L240.6 46.1L241.0 22.4L241.5 39.7L241.9 69.0"/>
<path class="b" d="M245.6 49.7L246.1 16.0L246.5 65.8L246.9 37.5L247.4 75.2L247.8 22.7"/>
<path class="r" d="M53.6 78.6L54.0 55.4L54.5 71.0L54.9 92.4L55.3 126.1L55.8 148.5"/>
<path class="g" d="M231.8 41.8L232.2 13.4L232.6 37.6L233.1 27.5L233.5 25.1L233.9 21.0"/>
<path class="p" d="M212.5 205.1L213.8 201.3"/>
<path class="y" d="M254.0 24.2L254.5 10.9L254.9 17.3L255.3 8.5L255.8 28.1"/>
<path class="g" d="M242.2 72.3L242.6 18.5L243.1 12.3L243.5 18.7L243.9 32.6"/>
<path class="y" d="M54.4 56.0L54.8 73.0L55.3 47.2L55.7 95.6L56.1 95.4L56.6 146.9"/>
<path class="b" d="M259.5 45.5L259.9 59.1L260.4 65.9L260.8 35.7L261.3 35.5L261.7 45.9"/>
<path class="c" d="M246.5 35.2L246.9 16.9L247.3 26.9L247.8 49.6L248.2 65.9L248.7 59.4M274.6 182.7L275.0 193.4L275.5 197.8L275.9 200.5L276.8 200.9"/>
<path class="b" d="M268.8 20.5L269.3 44.8L269.7 38.6L270.2 57.0L270.6 16.4L271.0 33.7"/>
<path class="c" d="M220.0 29.6L220.4 64.6L220.9 53.7L221.3 16.4L221.7 82.7"/>
<path class="b" d="M238.3 38.7L238.7 28.3L239.2 44.8L239.6 33.5L240.0 54.8L240.5 19.3"/>
<path class="o" d="M257.9 36.0L258.3 24.0L258.8 32.4L259.2 36.5L259.6 41.8L260.1 27.8"/>
<path class="c" d="M226.5 22.1L226.9 20.1L227.4 55.1L227.8 27.6L228.2 71.5L228.7 17.1"/>
<path class="p" d="M278.3 202.9L279.6 205.5M219.5 36.6L219.9 34.7L220.3 79.4L220.8 50.2L221.2 62.3"/>
<path class="g" d="M44.2 30.5L44.7 52.9L45.1 41.4L45.5 20.0M50.1 58.1L50.5 13.5L50.9 58.0L51.4 57.4L51.8 26.1L52.2 43.4"/>
<path class="c" d="M273.4 151.3L273.8 161.8L274.3 184.5L274.7 193.8L275.1 198.0"/>
<path class="o" d="M259.7 47.7L260.1 58.9L260.6 43.4L261.0 52.7L261.4 54.5L261.9 69.3"/>
<path class="b" d="M257.8 34.1L258.2 58.7L258.6 62.2L259.1 15.9L259.5 45.5"/>
<path class="y" d="M231.6 58.3L232.0 61.7L232.4 40.5L232.9 19.6L233.3 62.7L233.7 34.9"/>
<path class="c" d="M276.0 203.2L276.4 201.6L277.7 204.0"/>
<path class="p" d="M44.4 56.5L44.8 30.5L45.2 72.3L45.7 12.0L46.1 39.8L46.5 18.7"/>
<path class="r" d="M266.8 56.6L267.2 22.0L267.6 57.6L268.1 36.7L268.5 42.1L268.9 41.7"/>
<path class="b" d="M266.2 39.6L266.6 43.5L267.1 31.6L267.5 50.9L267.9 48.2L268.4 34.3"/>
<path class="r" d="M226.6 38.3L227.1 69.8L227.5 66.6L227.9 30.2L228.4 8.3L228.8 24.5"/>
<path class="g" d="M237.8 60.5L238.3 46.1L238.7 53.9L239.2 58.7L239.6 28.2L240.0 46.0"/>
<path class="p" d="M274.0 178.9L274.4 192.5L274.8 197.9L275.3 200.8L275.7 201.4"/>
<path class="c" d="M214.3 193.6L214.8 169.4L215.2 116.9L215.6 82.4L216.1 35.6L216.5 61.7M60.4 205.4L60.8 204.1"/>
<path class="g" d="M44.1 13.3L44.5 21.2"/>
<path class="c" d="M260.9 34.2L261.4 31.3L261.8 70.5L262.3 49.3L262.7 33.8"/>
<path class="g" d="M44.5 21.2L45.0 53.9L45.4 13.3L45.8 59.1L46.3 12.1L46.7 55.1"/>
<path class="b" d="M267.7 45.3L268.1 42.7L268.6 37.6L269.0 16.9L269.4 38.4L269.9 59.9"/>
<path class="o" d="M225.4 43.5L225.8 18.0L226.2 34.9L226.7 37.4L227.1 32.7"/>
<path class="r" d="M269.7 35.2L270.1 27.8L270.5 50.9L271.0 68.1L271.4 84.9"/>
<path class="b" d="M258.9 37.3L259.3 60.5L259.7 43.1L260.2 59.8L260.6 40.6L261.0 46.1"/>
<path class="c" d="M51.0 58.8L51.5 64.0L51.9 70.4L52.3 70.4L52.8 26.1L53.2 67.1M250.3 23.0L250.7 15.9L251.1 33.5L251.6 44.7L252.0 44.7L252.5 18.7"/>
<path class="r" d="M50.8 76.2L51.3 59.8L51.7 32.3L52.1 14.3L52.6 78.2L53.0 76.8"/>
<path class="y" d="M217.7 20.4L218.2 71.7L218.6 67.6L219.0 24.3L219.5 64.7L219.9 49.4M251.9 46.8L252.3 35.0L252.8 53.8L253.2 58.4L253.6 40.4L254.1 18.3"/>
<path class="g" d="M254.9 62.4L255.3 13.0L255.7 23.8L256.2 74.7L256.6 40.0"/>
<path class="o" d="M228.7 30.5L229.1 35.1L229.6 50.3L230.0 5.2L230.4 28.2L230.9 53.5"/>
<path class="b" d="M264.4 14.9L264.8 39.6L265.2 28.3L265.7 62.7L266.1 62.6M264.9 12.5L265.3 49.3L265.8 53.9L266.2 36.5L266.6 25.6L267.1 57.7"/>
<path class="p" d="M249.0 35.9L249.4 68.1L249.8 38.4L250.3 57.6L250.7 9.7L251.1 43.3"/>
<path class="c" d="M226.8 64.2L227.2 47.1L227.7 30.3L228.1 66.7L228.5 72.2L229.0 74.1"/>
<path class="r" d="M54.7 107.3L55.2 124.0L55.6 142.1L56.0 166.2L56.5 182.3L56.9 194.5"/>
<path class="c" d="M268.3 12.9L268.8 36.8L269.2 20.5L269.6 60.4L270.1 39.2"/>
<path class="g" d="M220.3 21.4L220.7 27.0L221.2 11.5L221.6 66.9L222.0 41.2"/>
<path class="c" d="M264.7 37.8L265.1 33.0L265.6 55.1L266.0 35.6L266.4 16.7"/>
<path class="o" d="M251.0 47.4L251.5 34.5L251.9 34.5L252.3 63.7L252.8 46.2L253.2 65.0"/>
<path class="p" d="M214.1 201.8L214.6 195.3L215.0 177.1L215.4 124.1L215.9 75.2"/>
<path class="b" d="M258.3 11.8L258.7 68.2L259.2 29.9L259.6 23.1L260.0 19.1L260.5 62.5"/>
<path class="o" d="M44.7 37.8L45.1 11.8L45.5 26.7L46.0 50.7L46.4 64.0"/>
<path class="r" d="M276.7 204.8L277.2 201.3L278.1 205.4L279.8 201.9"/>
<path class="y" d="M241.6 31.9L242.0 74.6L242.4 72.4L242.9 57.3L243.3 53.9L243.7 71.5"/>
<path class="b" d="M48.8 56.1L49.3 28.4L49.7 66.6L50.1 22.0L50.6 39.9L51.0 32.8"/>
<path class="r" d="M49.7 73.6L50.2 42.4L50.6 16.7L51.0 24.6L51.5 25.8L51.9 26.9"/>
<path class="c" d="M47.0 27.2L47.4 7.7L47.9 67.0L48.3 70.8L48.7 45.2L49.2 11.2M57.2 202.3L57.7 202.4L58.5 203.8L59.4 202.2"/>
<path class="o" d="M248.9 20.8L249.3 58.5L249.8 57.0L250.2 69.0L250.6 42.2"/>
<path class="c" d="M273.9 182.3L274.3 191.9L274.7 197.0L275.2 200.6L275.6 202.9L276.0 200.6"/>
<path class="b" d="M278.1 203.9L279.0 202.7"/>
<path class="c" d="M257.8 34.5L258.2 47.0L258.6 31.7L259.1 41.5L259.5 68.4L259.9 30.8"/>
<path class="r" d="M257.5 65.1L257.9 31.8L258.4 13.1L258.8 40.4L259.2 42.5L259.7 53.8"/>
<path class="p" d="M60.4 203.8L60.9 205.5"/>
<path class="c" d="M278.9 205.0L279.8 203.0M264.9 54.1L265.3 58.2L265.7 21.8L266.2 28.1L266.6 18.6L267.0 28.9"/>
<path class="b" d="M253.0 36.4L253.4 8.3L253.8 48.2L254.3 67.8L254.7 71.3"/>
<path class="c" d="M256.4 20.5L256.8 20.8L257.2 35.2L257.7 12.4L258.1 18.4L258.5 72.2M256.0 38.7L256.4 47.7L256.9 47.2L257.3 27.0L257.8 34.5M59.8 200.5L60.2 204.9L60.7 202.9"/>
<path class="o" d="M273.2 163.9L273.6 176.8L274.0 189.7L274.5 194.3L274.9 200.3L275.3 202.1"/>
<path class="y" d="M260.2 13.4L260.7 23.2L261.1 57.3L261.5 42.7L262.0 55.0"/>
<path class="o" d="M247.9 32.8L248.3 24.0L248.8 36.5L249.2 73.2L249.6 70.5L250.1 16.6"/>
<path class="b" d="M253.9 24.2L254.3 36.2L254.7 40.3L255.2 14.1L255.6 46.3M229.3 19.2L229.7 37.9L230.1 66.4L230.6 71.1L231.0 59.3"/>
<path class="g" d="M270.8 25.2L271.3 56.7L271.7 54.7L272.1 63.2L272.6 54.1M216.1 79.4L216.6 20.7L217.0 30.7L217.4 16.4L217.9 22.3L218.3 27.8"/>
<path class="c" d="M245.5 51.0L245.9 33.0L246.4 13.3L246.8 49.1L247.2 37.3L247.7 62.4"/>
<path class="b" d="M238.9 19.5L239.3 45.6L239.8 61.5L240.2 56.9L240.6 16.2L241.1 19.4M278.6 206.0L279.1 203.4M238.4 62.4L238.8 64.0L239.3 67.4L239.7 35.7L240.1 13.3L240.6 37.5"/>
<path class="p" d="M223.6 59.1L224.0 65.2L224.5 42.3L224.9 60.1L225.3 77.1L225.8 37.0"/>
<path class="b" d="M245.0 64.2L245.4 43.1L245.8 16.1L246.3 62.9L246.7 40.0"/>
<path class="p" d="M217.9 67.3L218.4 24.8L218.8 46.4L219.2 16.3L219.7 46.9"/>
<path class="r" d="M268.9 41.7L269.4 36.1L269.8 24.9L270.2 13.6L270.7 28.3L271.1 36.7"/>
<path class="b" d="M277.1 205.2L278.4 202.8"/>
<path class="c" d="M218.4 78.0L218.8 28.9L219.3 37.3L219.7 76.1L220.1 56.3"/>
<path class="b" d="M267.1 57.7L267.5 46.2L267.9 42.8L268.4 22.3L268.8 51.4"/>
<path class="c" d="M267.8 34.7L268.2 42.3L268.6 17.9L269.1 32.9L269.5 55.2L269.9 42.6"/>
<path class="b" d="M211.8 201.6L212.6 202.7L213.5 204.3L214.4 201.8M261.7 45.9L262.1 51.6L262.6 32.2L263.0 13.6L263.4 63.0L263.9 60.0"/>
<path class="y" d="M242.0 62.6L242.4 19.8L242.9 47.6L243.3 24.2L243.7 69.3L244.2 70.6"/>
<path class="c" d="M231.3 36.6L231.7 46.4L232.1 23.4L232.6 36.3L233.0 23.9L233.4 35.1M272.5 136.9L273.0 163.1L273.4 177.5L273.8 192.2L274.3 197.6L274.7 200.9"/>
<path class="r" d="M257.9 19.9L258.3 41.8L258.7 43.9L259.2 13.2L259.6 34.8L260.0 59.5"/>
<path class="c" d="M239.9 16.1L240.4 70.4L240.8 70.7L241.2 78.9L241.7 11.1L242.1 42.2M266.4 16.7L266.9 36.0L267.3 28.3L267.7 23.1L268.2 50.6L268.6 34.8M259.8 64.9L260.3 69.6L260.7 42.1L261.1 40.2L261.6 13.1L262.0 30.4M234.6 29.3L235.1 8.3L235.5 35.7L235.9 22.8L236.4 54.0"/>
<path class="o" d="M253.2 53.7L253.6 68.9L254.0 37.2L254.5 15.7L254.9 52.3L255.3 53.2"/>
<path class="b" d="M266.4 37.8L266.8 41.4L267.2 46.4L267.7 46.3L268.1 65.6"/>
<path class="g" d="M53.2 28.6L53.7 49.7L54.1 77.5L54.5 84.9L55.0 95.4"/>
<path class="r" d="M271.2 58.3L271.6 63.2L272.0 94.0L272.5 141.2L272.9 159.6"/>
<path class="b" d="M242.8 65.7L243.2 18.6L243.7 50.3L244.1 68.4L244.5 41.7L245.0 64.2"/>
<path class="r" d="M229.0 28.7L229.5 11.9L229.9 76.0L230.3 5.2L230.8 70.0L231.2 14.0"/>
<path class="g" d="M48.9 37.1L49.3 43.4L49.7 42.4L50.2 57.0L50.6 74.0L51.0 27.2"/>
<path class="c" d="M214.8 187.4L215.2 141.6L215.6 61.9L216.1 80.4L216.5 21.3M227.8 34.8L228.3 30.8L228.7 65.0L229.1 73.0L229.6 21.8L230.0 21.7"/>
<path class="r" d="M219.2 71.8L219.7 39.4L220.1 58.8L220.5 49.2L221.0 58.6"/>
<path class="g" d="M44.4 48.7L44.8 58.0L45.2 56.2"/>
<path class="y" d="M60.0 201.9L61.3 201.1L61.7 205.7"/>
<path class="r" d="M239.3 56.7L239.7 47.1L240.1 18.9L240.6 65.3L241.0 49.8L241.4 71.2"/>
<path class="b" d="M236.7 38.5L237.1 42.0L237.5 12.0L238.0 24.4L238.4 62.4"/>
<path class="c" d="M218.8 65.9L219.3 19.6L219.7 13.7L220.1 78.7L220.6 67.2L221.0 78.0"/>
<path class="o" d="M231.4 40.0L231.9 71.8L232.3 24.1L232.7 20.6L233.2 35.4"/>
<path class="b" d="M46.7 58.8L47.2 18.4L47.6 34.7L48.0 64.5L48.5 44.5L48.9 13.6"/>
<path class="g" d="M225.9 10.1L226.4 15.5L226.8 37.3L227.3 46.9L227.7 46.4L228.1 24.2"/>
<path class="c" d="M245.6 59.6L246.1 43.0L246.5 12.5L246.9 15.3L247.4 8.5L247.8 18.5"/>
<path class="o" d="M215.8 23.4L216.3 39.7L216.7 72.7L217.1 29.3L217.6 72.3"/>
<path class="b" d="M227.8 77.0L228.2 38.0L228.7 50.6L229.1 51.5L229.5 70.2M54.5 122.7L54.9 137.6L55.4 166.3L55.8 178.1L56.2 190.3L56.7 195.0M272.7 132.3L273.1 155.6L273.6 179.8L274.0 189.8L274.4 196.8"/>
<path class="r" d="M44.3 23.2L44.7 40.0"/>
<path class="o" d="M44.6 52.0L45.1 20.6L45.5 21.1L45.9 14.5L46.4 16.7L46.8 29.7"/>
<path class="r" d="M224.0 55.0L224.4 64.8L224.9 66.4L225.3 60.0L225.7 17.1"/>
<path class="y" d="M247.7 62.3L248.1 63.0L248.6 30.8L249.0 54.1L249.4 53.8L249.9 13.0"/>
<path class="p" d="M267.1 42.8L267.6 30.2L268.0 41.9L268.4 44.9L268.9 37.8"/>
<path class="o" d="M276.1 201.4L277.0 204.3L279.2 204.4"/>
<path class="p" d="M46.5 8.6L47.0 62.5L47.4 54.1L47.8 7.6L48.3 59.3L48.7 29.6"/>
<path class="b" d="M226.0 14.9L226.4 12.7L226.9 49.1L227.3 68.3L227.8 15.2L228.2 63.2"/>
<path class="p" d="M212.4 202.0L213.2 205.7L214.1 203.3"/>
<path class="y" d="M228.0 72.3L228.4 40.5L228.9 61.8L229.3 72.0L229.7 43.2L230.2 25.8"/>
<path class="p" d="M239.7 25.2L240.1 42.8L240.5 31.4L241.0 39.9L241.4 65.5L241.8 12.5"/>
<path class="g" d="M58.2 199.8L58.6 201.2L59.9 203.8L61.2 203.7"/>
<path class="b" d="M278.4 202.8L278.8 204.6"/>
<path class="p" d="M231.8 11.3L232.3 51.4L232.7 16.3L233.1 73.2L233.6 27.1L234.0 32.6"/>
<path class="r" d="M259.7 53.8L260.1 22.8L260.5 16.9L261.0 34.4L261.4 45.1"/>
<path class="b" d="M260.1 58.7L260.6 39.5L261.0 38.1L261.4 66.9L261.9 43.1L262.3 18.1M243.9 74.5L244.3 52.9L244.8 14.5L245.2 54.3L245.6 69.8"/>
<path class="r" d="M223.6 58.0L224.1 36.8L224.5 55.3L224.9 32.6L225.4 21.7"/>
<path class="c" d="M243.4 20.0L243.9 58.9L244.3 15.4L244.7 25.2L245.2 48.8"/>
<path class="p" d="M214.1 203.3L214.6 202.0L215.0 185.9L215.4 125.0L215.9 49.5L216.3 73.9"/>
<path class="g" d="M257.0 69.3L257.4 21.6L257.9 19.2L258.3 10.1L258.7 32.2L259.2 65.7"/>
<path class="c" d="M216.7 43.7L217.1 45.2L217.5 44.4L218.0 67.5L218.4 39.6L218.8 65.9"/>
<path class="b" d="M278.6 205.2L279.1 201.6"/>
<path class="g" d="M45.2 56.2L45.7 16.6L46.1 57.6L46.5 57.9L47.0 34.5"/>
<path class="b" d="M246.0 20.4L246.4 10.0L246.9 26.1L247.3 27.0L247.7 70.0L248.2 29.6"/>
<path class="p" d="M231.1 49.3L231.5 25.4L232.0 41.3L232.4 69.5L232.8 50.6"/>
<path class="c" d="M275.1 198.0L275.6 200.7L276.9 201.3L277.3 204.5"/>
<path class="b" d="M220.2 60.3L220.6 49.8L221.0 75.1L221.5 19.3L221.9 15.5L222.3 21.4"/>
<path class="r" d="M233.1 14.1L233.6 37.0L234.0 68.2L234.4 50.8L234.9 66.3L235.3 35.5"/>
<path class="y" d="M56.1 195.0L56.5 198.4L56.9 202.9L57.8 202.5L58.3 205.6"/>
<path class="p" d="M262.8 59.1L263.2 42.2L263.7 60.0L264.1 43.8L264.5 37.9L265.0 13.8"/>
<path class="g" d="M211.8 203.8L213.1 202.9"/>
<path class="r" d="M275.0 198.0L275.4 200.3L275.9 201.2L276.7 204.8M237.1 31.0L237.5 39.1L237.9 21.0L238.4 52.9L238.8 39.2L239.2 60.3"/>
<path class="c" d="M239.8 34.4L240.3 67.4L240.7 47.3L241.1 37.6L241.6 61.3L242.0 11.5"/>
<path class="b" d="M250.0 54.7L250.4 48.9L250.8 59.2L251.3 50.1L251.7 11.1"/>
<path class="g" d="M235.7 74.5L236.1 19.6L236.5 57.0L237.0 22.3L237.4 57.5L237.8 60.5M270.5 27.7L270.9 58.7L271.4 37.2L271.8 58.5L272.2 58.0L272.7 29.5"/>
<path class="c" d="M222.7 70.0L223.2 51.8L223.6 76.6L224.0 15.3L224.5 37.5L224.9 18.6"/>
<path class="r" d="M219.3 23.7L219.7 64.8L220.2 27.9L220.6 40.8L221.0 60.5L221.5 21.0"/>
<path class="p" d="M269.4 26.3L269.8 31.6L270.3 36.2L270.7 20.7L271.1 75.0"/>
<path class="b" d="M257.1 21.8L257.5 65.1L257.9 32.0L258.4 37.6L258.8 7.8"/>
<path class="c" d="M223.9 75.7L224.3 27.2L224.8 38.4L225.2 31.6L225.6 45.2"/>
<path class="b" d="M253.2 38.0L253.6 35.6L254.0 63.1L254.5 59.2L254.9 54.4"/>
<path class="c" d="M53.2 67.1L53.6 107.3L54.1 89.6L54.5 142.5L54.9 155.4L55.4 181.5"/>
<path class="y" d="M264.1 43.4L264.6 15.9L265.0 48.1L265.4 44.8L265.9 48.7"/>
<path class="p" d="M223.4 58.9L223.8 75.0L224.2 5.2L224.7 45.7L225.1 58.0"/>
<path class="c" d="M52.9 41.5L53.3 50.1L53.7 65.2L54.2 54.2L54.6 52.0"/>
<path class="b" d="M276.0 204.1L276.8 204.2L277.3 202.5L278.1 203.9M243.9 32.4L244.3 8.1L244.7 20.0L245.2 16.4L245.6 49.7"/>
<path class="r" d="M247.9 57.6L248.3 46.2L248.8 33.6L249.2 41.1L249.6 43.5L250.1 54.9"/>
<path class="o" d="M274.5 194.8L274.9 200.2L275.4 201.9L275.8 202.1L276.7 204.0"/>
<path class="c" d="M248.8 16.6L249.2 46.5L249.7 44.1L250.1 56.9L250.5 57.3L251.0 48.2"/>
<path class="y" d="M272.0 33.0L272.4 28.8L272.8 47.7L273.3 82.5L273.7 80.2L274.1 90.4"/>
<path class="b" d="M47.1 69.7L47.5 61.7L48.0 15.1L48.4 26.4L48.8 56.1M246.1 25.5L246.6 76.9L247.0 74.6L247.4 23.4L247.9 34.9L248.3 33.3"/>
<path class="c" d="M212.6 204.2L213.0 202.0L214.3 193.6"/>
<path class="r" d="M235.4 29.1L235.8 17.8L236.2 49.8L236.7 78.7L237.1 20.8L237.5 16.4"/>
<path class="p" d="M47.0 22.6L47.4 38.0L47.9 49.4L48.3 52.8L48.7 48.6L49.2 53.7M51.4 26.7L51.9 38.2L52.3 21.6L52.7 31.1L53.2 31.4L53.6 70.6"/>
<path class="c" d="M59.3 202.7L60.2 203.5L60.6 201.9"/>
<path class="b" d="M254.4 56.0L254.8 12.5L255.2 43.5L255.7 42.4L256.1 49.7"/>
<path class="r" d="M273.6 192.8L274.0 197.6L274.4 200.3L275.7 203.3"/>
<path class="g" d="M51.2 16.8L51.6 71.6L52.1 46.4L52.5 68.8L52.9 54.9L53.4 52.3"/>
<path class="b" d="M239.3 38.9L239.7 60.7L240.1 77.3L240.6 32.5L241.0 34.3"/>
<path class="c" d="M52.1 15.3L52.6 8.0L53.0 25.3L53.4 46.0L53.9 40.6"/>
<path class="y" d="M46.3 26.5L46.7 63.6L47.1 8.7L47.6 39.5L48.0 52.8"/>
<path class="b" d="M252.8 23.1L253.2 38.2L253.6 16.7L254.1 45.0L254.5 44.9L255.0 18.6"/>
<path class="c" d="M262.5 45.4L263.0 22.4L263.4 54.2L263.9 50.2L264.3 51.9L264.7 36.0"/>
<path class="r" d="M265.0 20.9L265.5 26.2L265.9 29.8L266.3 69.3L266.8 56.6"/>
<path class="y" d="M237.1 67.4L237.5 65.3L237.9 67.4L238.4 68.5L238.8 56.4L239.2 20.9"/>
<path class="c" d="M49.0 21.8L49.4 17.1L49.9 59.7L50.3 55.9L50.7 70.1L51.2 16.0"/>
<path class="p" d="M225.1 20.7L225.5 23.8L225.9 39.4L226.4 36.5L226.8 42.2"/>
<path class="r" d="M258.8 32.4L259.2 48.3L259.6 64.4L260.1 23.3L260.5 53.1M59.7 203.3L60.1 204.7L61.4 202.7"/>
<path class="c" d="M48.2 53.8L48.6 48.1L49.0 47.3L49.5 23.8L49.9 64.3L50.3 48.2"/>
<path class="b" d="M53.4 48.4L53.8 54.7L54.2 42.6L54.7 32.6L55.1 27.1L55.5 57.5"/>
<path class="r" d="M229.2 9.7L229.7 64.9L230.1 41.0L230.5 42.0L231.0 58.6"/>
<path class="b" d="M258.1 41.8L258.6 53.5L259.0 19.2L259.4 60.5L259.9 24.3L260.3 61.2"/>
<path class="g" d="M61.2 202.3L61.6 204.4"/>
<path class="y" d="M271.5 59.2L272.0 32.1L272.4 49.3L272.8 66.8L273.3 89.4L273.7 123.5"/>
<path class="p" d="M270.1 54.1L270.6 47.4L271.0 53.5L271.4 35.1L271.9 50.7M251.8 18.0L252.2 66.8L252.7 22.6L253.1 48.1L253.5 15.4L254.0 53.0M49.7 12.6L50.1 43.7L50.6 40.8L51.0 56.2L51.4 74.5L51.9 35.1M251.8 27.3L252.3 38.2L252.7 22.2L253.1 40.9L253.6 40.5L254.0 68.2"/>
<path class="g" d="M216.0 58.9L216.4 53.7L216.8 37.1L217.3 33.1L217.7 70.3L218.1 62.6"/>
<path class="y" d="M254.9 15.9L255.3 5.2L255.7 25.2L256.2 30.6L256.6 43.5L257.0 58.3M251.6 46.0L252.0 36.4L252.5 28.9L252.9 61.6L253.3 61.0L253.8 18.0"/>
<path class="r" d="M243.1 18.6L243.6 36.2L244.0 33.8L244.4 24.6L244.9 68.7L245.3 19.8"/>
<path class="c" d="M260.8 62.5L261.2 67.9L261.7 23.0L262.1 55.3L262.5 38.9"/>
<path class="p" d="M259.6 29.4L260.0 31.5L260.5 47.3L260.9 42.7L261.3 38.2L261.8 55.4"/>
<path class="c" d="M44.5 47.6L45.0 28.1L45.4 24.3L45.8 15.4L46.3 15.8L46.7 60.1"/>
<path class="p" d="M55.3 64.1L55.8 90.0L56.2 129.7L56.6 163.4L57.1 179.7L57.5 193.0"/>
<path class="c" d="M261.6 16.9L262.0 31.5L262.4 22.0L262.9 16.4L263.3 17.6L263.7 31.2"/>
<path class="p" d="M221.8 36.0L222.3 36.6L222.7 55.5L223.1 8.8L223.6 52.7L224.0 17.9"/>
<path class="y" d="M249.6 42.8L250.1 62.8L250.5 14.5L250.9 19.1L251.4 45.9L251.8 29.3"/>
<path class="o" d="M260.1 27.8L260.5 15.2L260.9 59.0L261.4 56.9L261.8 49.4L262.2 17.8"/>
<path class="r" d="M220.5 44.9L221.0 14.0L221.4 26.9L221.8 53.4L222.3 23.4L222.7 48.8"/>
<path class="b" d="M232.2 41.9L232.7 16.4L233.1 79.3L233.5 62.5L234.0 8.3L234.4 19.3"/>
<path class="y" d="M262.0 55.0L262.4 18.4L262.8 62.4L263.3 40.9L263.7 28.5L264.1 43.4"/>
<path class="b" d="M264.5 53.2L264.9 28.3L265.3 22.4L265.8 36.4L266.2 26.6L266.6 35.7"/>
<path class="p" d="M217.9 14.3L218.4 63.2L218.8 42.7L219.2 20.7L219.7 55.6"/>
<path class="r" d="M252.7 20.7L253.1 33.5L253.5 14.5L254.0 65.8L254.4 20.1"/>
<path class="g" d="M254.8 13.1L255.2 21.7L255.6 13.0L256.1 48.9L256.5 43.7"/>
<path class="y" d="M271.8 71.3L272.3 101.8L272.7 127.1L273.1 148.5L273.6 166.7L274.0 182.2"/>
<path class="p" d="M219.7 46.9L220.1 5.2L220.5 53.5L221.0 47.1L221.4 28.0L221.9 8.4"/>
<path class="r" d="M251.1 64.5L251.6 59.7L252.0 29.4L252.4 60.1L252.9 45.6"/>
<path class="y" d="M48.0 52.8L48.5 37.9L48.9 39.7L49.3 25.7L49.8 32.0L50.2 59.8"/>
<path class="c" d="M242.0 11.5L242.5 21.6L242.9 53.7L243.3 50.1L243.8 38.9"/>
<path class="g" d="M248.3 58.1L248.7 51.2L249.1 12.2L249.6 17.5L250.0 39.5"/>
<path class="o" d="M236.9 41.6L237.4 46.1L237.8 17.9L238.2 24.2L238.7 19.0"/>
<path class="y" d="M44.4 66.5L44.8 27.6L45.2 20.2L45.7 56.1L46.1 56.7"/>
<path class="o" d="M59.2 201.4L59.6 203.3L60.1 201.9L61.8 204.0"/>
<path class="p" d="M271.8 112.7L272.2 139.1L272.6 166.2L273.1 174.7L273.5 190.5L273.9 196.6M211.9 203.9L212.4 203.6L213.3 201.4L214.1 201.8"/>
<path class="r" d="M52.5 52.2L52.9 26.6L53.3 45.3L53.8 74.9L54.2 82.0L54.6 63.0"/>
<path class="c" d="M50.3 48.2L50.8 44.2L51.2 29.4L51.6 24.4L52.1 75.1L52.5 82.5"/>
<path class="g" d="M211.9 203.2L212.3 203.8L213.2 202.3"/>
<path class="o" d="M48.6 18.9L49.0 42.8L49.4 12.1L49.9 70.1L50.3 38.0"/>
<path class="r" d="M232.9 37.1L233.3 60.6L233.8 8.6L234.2 12.7L234.6 31.4L235.1 32.0"/>
<path class="b" d="M268.1 65.6L268.6 58.8L269.0 59.8L269.4 51.6L269.9 51.2L270.3 62.1"/>
<path class="g" d="M218.7 62.4L219.2 76.5L219.6 25.8L220.0 22.3L220.5 31.4L220.9 75.1"/>
<path class="c" d="M262.5 38.9L263.0 19.7L263.4 55.4L263.8 43.0L264.3 23.2L264.7 37.8"/>
<path class="b" d="M254.7 71.3L255.1 61.6L255.6 24.3L256.0 28.6L256.4 66.8L256.9 53.0M218.2 75.9L218.6 59.1L219.0 9.0L219.5 55.2L219.9 28.7L220.3 34.3"/>
<path class="g" d="M54.0 83.8L54.4 39.3L54.8 42.7L55.3 103.2L55.7 90.3L56.1 137.0"/>
<path class="p" d="M272.9 180.6L273.3 191.3L273.7 195.9L274.2 199.7L274.6 201.6L275.9 205.0"/>
<path class="b" d="M51.0 28.5L51.4 34.6L51.8 55.8L52.3 48.2L52.7 30.7L53.1 16.2"/>
<path class="c" d="M233.8 21.2L234.2 83.0L234.6 71.8L235.1 68.7L235.5 39.9L235.9 73.4"/>
<path class="r" d="M236.9 21.5L237.3 14.2L237.7 66.3L238.2 63.2L238.6 7.7L239.0 56.7"/>
<path class="g" d="M253.1 12.1L253.5 73.6L254.0 29.0L254.4 30.6L254.8 14.4L255.3 59.0"/>
<path class="r" d="M256.7 29.0L257.2 35.0L257.6 40.2L258.0 12.5L258.5 28.4L258.9 46.3"/>
<path class="p" d="M222.9 49.3L223.3 65.5L223.8 60.4L224.2 44.7L224.6 33.5L225.1 20.7"/>
<path class="g" d="M233.9 72.3L234.4 28.4L234.8 23.9L235.2 16.0L235.7 10.4L236.1 61.0"/>
<path class="b" d="M278.1 203.0L278.5 205.1"/>
<path class="c" d="M44.4 17.6L44.8 14.7"/>
<path class="y" d="M241.9 19.8L242.3 42.8L242.8 55.3L243.2 12.7L243.6 53.1L244.1 11.5"/>
<path class="c" d="M225.0 6.0L225.4 9.4L225.9 75.1L226.3 53.3L226.7 42.3"/>
<path class="r" d="M277.9 205.0L278.3 202.3L279.2 203.6"/>
<path class="p" d="M44.3 30.3L44.7 53.1"/>
<path class="c" d="M252.5 13.4L253.0 42.2L253.4 15.0L253.8 55.7L254.3 32.1L254.7 19.6"/>
<path class="y" d="M260.1 41.3L260.5 19.5L261.0 49.5L261.4 65.7L261.8 72.4"/>
<path class="p" d="M245.5 48.2L246.0 67.2L246.4 15.4L246.8 50.7L247.3 37.6M60.8 205.3L61.6 201.9"/>
<path class="c" d="M54.5 88.5L54.9 124.1L55.4 147.6L55.8 173.7L56.2 188.3L56.7 198.1"/>
<path class="b" d="M227.8 56.9L228.3 54.0L228.7 34.9L229.1 28.1L229.6 22.6L230.0 15.1"/>
<path class="c" d="M237.8 46.6L238.2 37.0L238.7 66.6L239.1 52.1L239.5 29.1L240.0 49.7"/>
<path class="r" d="M48.6 38.8L49.0 5.2L49.4 42.8L49.9 10.1L50.3 63.1L50.7 51.2"/>
<path class="o" d="M238.7 19.0L239.1 5.9L239.6 54.1L240.0 47.3L240.4 57.1L240.9 15.3"/>
<path class="r" d="M249.2 32.1L249.6 27.3L250.1 58.8L250.5 55.9L250.9 47.0L251.4 24.5"/>
<path class="p" d="M44.4 34.7L44.8 65.6L45.3 8.3"/>
<path class="c" d="M51.2 16.0L51.6 74.5L52.0 64.5L52.5 73.4L52.9 57.7L53.3 39.2"/>
<path class="y" d="M233.7 34.9L234.2 54.3L234.6 59.9L235.0 13.2L235.5 24.5"/>
<path class="c" d="M236.0 26.1L236.5 61.7L236.9 20.0L237.3 55.1L237.8 62.1"/>
<path class="y" d="M241.6 26.0L242.0 57.3L242.5 50.2L242.9 38.7L243.4 45.1L243.8 64.4"/>
<path class="g" d="M230.9 59.4L231.3 13.5L231.7 11.5L232.2 74.2L232.6 47.2"/>
<path class="y" d="M244.9 20.2L245.3 48.7L245.7 43.6L246.2 36.4L246.6 27.9L247.0 49.3"/>
<path class="b" d="M49.5 51.4L49.9 59.9L50.3 66.4L50.8 58.7L51.2 11.8L51.6 53.1"/>
<path class="c" d="M228.6 39.3L229.0 55.7L229.4 31.2L229.9 70.4L230.3 22.2M213.9 203.5L214.3 201.4L214.8 195.0L215.2 168.3"/>
<path class="y" d="M226.3 69.2L226.7 29.5L227.1 40.4L227.6 15.3L228.0 72.3"/>
<path class="o" d="M56.4 163.9L56.8 181.4L57.3 192.6L57.7 195.8L58.1 200.7L59.0 203.1"/>
<path class="p" d="M242.8 27.0L243.2 20.0L243.7 53.9L244.1 43.1L244.6 63.5L245.0 64.4"/>
<path class="g" d="M52.4 33.1L52.8 30.6L53.2 18.6L53.7 40.7L54.1 42.4L54.5 78.8"/>
<path class="b" d="M233.9 21.1L234.3 39.1L234.8 49.3L235.2 66.5L235.6 58.5"/>
<path class="p" d="M238.0 24.0L238.4 36.7L238.9 38.7L239.3 50.1L239.7 25.6L240.2 56.4"/>
<path class="b" d="M44.5 29.4L44.9 73.5L45.4 51.9L45.8 11.3L46.3 38.4L46.7 32.7"/>
<path class="c" d="M48.3 41.7L48.7 50.2L49.1 74.4L49.6 51.5L50.0 48.1L50.4 34.9M266.9 39.9L267.3 45.7L267.8 63.3L268.2 12.3L268.6 60.1L269.1 20.4"/>
<path class="b" d="M44.1 12.6L44.5 23.4L45.0 57.6"/>
<path class="c" d="M214.2 203.0L214.7 193.6L215.1 153.3L215.5 86.1L216.0 26.1"/>
<path class="g" d="M220.6 45.4L221.0 68.8L221.4 20.0L221.9 22.3L222.3 63.1L222.7 78.9"/>
<path class="b" d="M238.4 48.9L238.8 30.0L239.3 41.1L239.7 36.0L240.1 54.2M236.1 68.6L236.6 74.3L237.0 25.3L237.4 28.0L237.9 62.6L238.3 38.7"/>
<path class="r" d="M261.2 56.9L261.6 62.0L262.0 9.1L262.5 72.4L262.9 23.7"/>
<path class="b" d="M215.7 114.1L216.1 45.1L216.5 67.4L217.0 35.5L217.4 18.3L217.8 36.1"/>
<path class="r" d="M247.5 54.8L247.9 41.6L248.4 27.1L248.8 54.9L249.2 45.4L249.7 26.4"/>
<path class="b" d="M212.5 204.6L213.8 202.7L214.3 204.5"/>
<path class="y" d="M245.5 53.9L246.0 63.7L246.4 43.9L246.8 57.5L247.3 17.8L247.7 62.3"/>
<path class="c" d="M220.4 17.8L220.9 42.6L221.3 61.4L221.7 27.9L222.2 13.4L222.6 33.1"/>
<path class="r" d="M223.0 50.1L223.4 38.6L223.8 62.0L224.3 66.3L224.7 59.4L225.1 68.6"/>
<path class="c" d="M238.4 52.7L238.8 62.9L239.2 65.5L239.7 54.5L240.1 66.6"/>
<path class="p" d="M249.6 54.0L250.1 27.2L250.5 65.5L250.9 22.7L251.4 74.4L251.8 27.3"/>
<path class="g" d="M212.5 203.8L213.8 201.6L214.2 202.9"/>
<path class="o" d="M57.0 195.0L57.5 197.7L57.9 200.5L58.8 202.3M249.7 59.3L250.2 60.7L250.6 59.4L251.0 61.2L251.5 59.9L251.9 56.2M265.3 37.7L265.7 41.9L266.2 53.0L266.6 62.6L267.1 39.8"/>
<path class="b" d="M263.9 61.9L264.3 56.5L264.7 31.2L265.2 63.7L265.6 52.9"/>
<path class="c" d="M231.7 76.0L232.2 26.8L232.6 14.3L233.0 52.7L233.5 27.0L233.9 75.3M261.2 27.8L261.7 25.5L262.1 21.4L262.5 18.1L263.0 42.0L263.4 51.9"/>
<path class="b" d="M213.0 204.6L214.3 196.4L214.7 175.5"/>
<path class="y" d="M254.1 18.3L254.5 48.6L254.9 59.9L255.4 54.6L255.8 42.8L256.2 30.4"/>
<path class="r" d="M267.5 15.2L267.9 38.6L268.4 50.5L268.8 29.5L269.2 47.9L269.7 35.2"/>
<path class="c" d="M213.5 204.6L214.4 195.6L214.8 173.3L215.2 85.6"/>
<path class="r" d="M265.3 21.9L265.8 28.1L266.2 24.6L266.6 52.8L267.1 32.1L267.5 15.2"/>
<path class="y" d="M256.2 30.4L256.7 26.8L257.1 47.7L257.5 22.6L258.0 6.8"/>
<path class="c" d="M232.0 47.1L232.5 29.6L232.9 58.8L233.3 22.9L233.8 21.2"/>
<path class="p" d="M226.3 35.5L226.7 35.6L227.1 64.3L227.6 35.8L228.0 52.6L228.4 25.9M52.6 27.4L53.0 59.6L53.5 51.8L53.9 41.6L54.3 82.2L54.8 114.8"/>
<path class="o" d="M46.4 64.0L46.8 57.0L47.3 61.9L47.7 40.2L48.1 37.4L48.6 18.9M47.0 21.9L47.5 23.2L47.9 57.8L48.3 38.1L48.8 12.8"/>
<path class="c" d="M217.8 33.7L218.2 26.8L218.7 31.4L219.1 13.4L219.5 76.3L220.0 22.9"/>
<path class="y" d="M58.9 201.3L59.7 202.7L61.0 204.4"/>
<path class="b" d="M224.7 39.0L225.2 47.1L225.6 39.7L226.0 53.6L226.5 26.3L226.9 32.9"/>
<path class="g" d="M44.4 66.7L44.9 49.8L45.3 64.8L45.7 10.4L46.2 50.1M262.7 35.6L263.1 63.5L263.6 57.0L264.0 30.5L264.5 54.3L264.9 20.3"/>
<path class="p" d="M244.0 49.0L244.4 67.1L244.8 10.8L245.3 58.4L245.7 62.3"/>
<path class="c" d="M219.0 24.1L219.4 41.7L219.9 52.5L220.3 40.6L220.7 53.6"/>
<path class="b" d="M56.7 132.3L57.1 146.4L57.6 174.2L58.0 185.4L58.4 193.9L58.9 199.2M257.7 42.3L258.1 36.7L258.6 52.5L259.0 7.8L259.4 41.7L259.9 44.1"/>
<path class="c" d="M276.0 200.6L277.3 204.6L278.2 206.6"/>
<path class="y" d="M217.7 18.4L218.1 12.2L218.5 41.1L219.0 41.0L219.4 51.1L219.8 80.9"/>
<path class="c" d="M220.3 61.3L220.7 53.7L221.2 12.9L221.6 75.7L222.1 60.6L222.5 70.3"/>
<path class="g" d="M59.6 205.1L60.1 203.2L60.9 205.3"/>
<path class="b" d="M47.5 17.2L47.9 18.9L48.4 54.2L48.8 12.9L49.2 69.5"/>
<path class="c" d="M256.8 32.5L257.2 66.4L257.6 14.4L258.1 33.3L258.5 60.5L258.9 17.6"/>
<path class="y" d="M261.8 50.8L262.2 16.5L262.7 39.5L263.1 11.8L263.5 46.8L264.0 11.4"/>
<path class="b" d="M269.9 36.6L270.4 62.9L270.8 19.1L271.2 31.7L271.7 32.2"/>
<path class="c" d="M249.0 11.6L249.4 53.6L249.8 30.9L250.3 51.3L250.7 21.0"/>
<path class="p" d="M221.9 8.4L222.3 60.1L222.7 61.8L223.2 23.4L223.6 59.1"/>
<path class="o" d="M244.8 19.0L245.2 33.5L245.6 32.3L246.1 72.3L246.5 41.3L246.9 51.8"/>
<path class="y" d="M240.3 34.7L240.7 49.6L241.1 20.9L241.6 69.4L242.0 62.6"/>
<path class="b" d="M271.0 41.3L271.4 12.9L271.8 49.9L272.3 55.2L272.7 72.0L273.1 69.8"/>
<path class="o" d="M225.8 73.2L226.3 14.2L226.7 18.5L227.1 60.3L227.6 51.4"/>
<path class="g" d="M236.7 71.5L237.1 35.1L237.5 5.2L238.0 66.9L238.4 48.4L238.8 65.7"/>
<path class="c" d="M60.8 203.8L61.3 201.7"/>
<path class="r" d="M211.9 204.8L213.2 201.2"/>
<path class="b" d="M278.8 202.3L279.7 204.4"/>
<path class="r" d="M55.8 148.5L56.2 175.9L56.6 187.8L57.1 195.7L57.5 198.7"/>
<path class="c" d="M246.0 55.0L246.5 22.0L246.9 14.4L247.3 21.4L247.8 65.0"/>
<path class="o" d="M256.9 33.3L257.4 30.0L257.8 28.3L258.2 34.6L258.7 61.4"/>
<path class="c" d="M266.5 16.6L266.9 51.8L267.3 28.3L267.8 14.5L268.2 47.7L268.6 25.1"/>
<path class="b" d="M277.5 205.3L278.4 201.3L279.3 204.1M223.0 29.0L223.4 32.8L223.9 73.5L224.3 74.8L224.7 39.0"/>
<path class="c" d="M44.1 40.1L44.5 78.5L44.9 26.6L45.4 60.6L45.8 44.1"/>
<path class="y" d="M227.7 64.1L228.2 51.8L228.6 32.0L229.0 34.9L229.5 69.5L229.9 18.2"/>
<path class="b" d="M264.2 24.8L264.7 22.3L265.1 67.3L265.5 32.5L266.0 45.8"/>
<path class="r" d="M246.7 43.4L247.2 39.2L247.6 75.9L248.0 16.5L248.5 67.6L248.9 65.3"/>
<path class="c" d="M256.4 13.9L256.9 38.2L257.3 10.4L257.8 13.1L258.2 51.8L258.6 44.9"/>
<path class="p" d="M277.2 204.2L278.1 204.0L279.0 202.0"/>
<path class="g" d="M220.0 59.8L220.5 51.4L220.9 42.7L221.4 48.3L221.8 60.2L222.2 50.3M235.9 21.6L236.4 68.6L236.8 51.6L237.2 33.3L237.7 54.1L238.1 72.0"/>
<path class="r" d="M55.8 88.7L56.2 133.7L56.7 155.3L57.1 176.5L57.5 191.7M259.2 59.1L259.6 34.0L260.1 34.1L260.5 22.2L260.9 55.5L261.4 48.6M57.5 198.7L57.9 203.1L58.4 203.0L58.8 202.2L60.1 202.4"/>
<path class="c" d="M256.7 32.4L257.1 54.9L257.6 41.8L258.0 29.2L258.5 26.6L258.9 32.6"/>
<path class="b" d="M52.3 58.4L52.8 31.0L53.2 47.1L53.6 52.9L54.1 104.8L54.5 122.7"/>
<path class="p" d="M269.6 33.7L270.0 30.4L270.5 68.2L270.9 65.0L271.3 81.9L271.8 112.7M252.8 34.7L253.2 46.9L253.7 63.0L254.1 24.1L254.5 65.6L255.0 21.4"/>
<path class="r" d="M44.0 57.4L44.5 11.0L44.9 57.6L45.3 32.8L45.8 14.4"/>
<path class="o" d="M48.3 49.5L48.8 40.5L49.2 28.6L49.6 23.2L50.1 55.7L50.5 54.4"/>
<path class="r" d="M262.8 57.4L263.2 24.9L263.7 45.2L264.1 51.0L264.5 52.0"/>
<path class="g" d="M273.1 54.5L273.5 74.8L273.9 119.1L274.4 135.8L274.8 168.1L275.2 184.1M254.2 41.0L254.6 21.6L255.0 31.1L255.5 70.8L255.9 21.8L256.3 68.2"/>
<path class="o" d="M270.6 18.5L271.0 47.3L271.5 36.9L271.9 73.1L272.3 103.5L272.8 113.3M253.2 65.0L253.6 14.2L254.1 41.0L254.5 22.1L254.9 71.3L255.4 14.7"/>
<path class="c" d="M242.6 64.5L243.0 15.5L243.4 58.3L243.9 23.4L244.3 22.7M253.8 16.1L254.3 33.7L254.7 14.6L255.1 21.3L255.6 44.4L256.0 38.7"/>
<path class="g" d="M264.9 20.3L265.3 28.1L265.8 54.6L266.2 57.6L266.6 34.6"/>
<path class="y" d="M259.6 62.5L260.1 64.0L260.5 58.8L260.9 63.9L261.4 50.1L261.8 50.8"/>
<path class="p" d="M239.6 70.6L240.1 59.4L240.5 55.3L240.9 45.7L241.4 30.9L241.8 56.1"/>
<path class="g" d="M56.0 112.9L56.5 139.1L56.9 175.3L57.3 182.6L57.8 194.4L58.2 199.8"/>
<path class="y" d="M244.0 40.6L244.5 77.8L244.9 49.4L245.3 45.6L245.8 37.5"/>
<path class="c" d="M44.0 47.6L44.5 13.5L44.9 66.2L45.4 26.0"/>
<path class="b" d="M216.0 63.3L216.5 40.9L216.9 74.2L217.3 68.8L217.8 70.8L218.2 39.3M220.0 81.4L220.4 52.3L220.9 21.2L221.3 16.0L221.7 33.6"/>
<path class="y" d="M265.9 48.7L266.3 24.4L266.8 37.0L267.2 30.4L267.6 32.7L268.1 42.6"/>
<path class="c" d="M224.5 53.7L224.9 12.3L225.3 44.1L225.8 54.2L226.2 33.0"/>
<path class="r" d="M226.8 66.1L227.2 59.3L227.7 65.8L228.1 24.7L228.5 52.5L229.0 33.0M232.7 31.6L233.1 60.0L233.6 71.6L234.0 31.6L234.4 59.0"/>
<path class="c" d="M45.4 16.4L45.8 50.4L46.3 62.0L46.7 52.4L47.1 58.4"/>
<path class="r" d="M241.0 22.8L241.4 65.1L241.8 66.2L242.3 74.8L242.7 53.2L243.1 18.6"/>
<path class="p" d="M261.1 20.7L261.5 71.5L261.9 27.5L262.4 12.1L262.8 59.1M239.0 24.6L239.4 45.7L239.8 22.2L240.3 56.7L240.7 61.2L241.1 14.6"/>
<path class="b" d="M261.0 17.8L261.4 47.5L261.9 9.3L262.3 18.6L262.7 41.8L263.2 59.1M216.7 25.7L217.1 55.3L217.6 11.3L218.0 78.6L218.4 41.2M233.9 46.9L234.3 13.0L234.8 23.8L235.2 27.3L235.6 33.4"/>
<path class="g" d="M244.9 16.9L245.3 19.3L245.8 60.2L246.2 52.5L246.6 70.9"/>
<path class="b" d="M48.6 36.3L49.0 50.0L49.5 54.5L49.9 33.0L50.3 53.7L50.8 46.4"/>
<path class="g" d="M221.8 65.0L222.2 67.1L222.6 42.2L223.1 47.4L223.5 79.5L224.0 21.3"/>
<path class="r" d="M231.4 18.0L231.9 29.1L232.3 42.9L232.7 76.6L233.2 46.0L233.6 13.5"/>
<path class="c" d="M52.6 13.5L53.0 60.1L53.5 41.8L53.9 58.6L54.3 106.5"/>
<path class="b" d="M232.3 73.6L232.8 46.4L233.2 36.4L233.6 38.3L234.1 26.2L234.5 15.2"/>
<path class="r" d="M213.8 201.9L214.2 200.6L214.6 201.1L215.1 185.5"/>
<path class="o" d="M261.0 60.0L261.4 19.2L261.9 38.9L262.3 66.9L262.7 65.9L263.2 48.7"/>
<path class="c" d="M267.3 33.3L267.8 16.0L268.2 26.8L268.6 54.9L269.1 54.2L269.5 17.5"/>
<path class="p" d="M273.9 196.6L274.4 200.5L274.8 200.8L275.2 203.4L276.1 201.6"/>
<path class="b" d="M255.6 46.3L256.0 41.9L256.5 29.1L256.9 24.0L257.4 41.4L257.8 70.7"/>
<path class="o" d="M254.5 39.2L255.0 49.8L255.4 27.1L255.8 57.8L256.3 25.6L256.7 46.9"/>
<path class="c" d="M233.4 35.1L233.9 43.3L234.3 42.5L234.7 20.2L235.2 69.0"/>
<path class="y" d="M44.5 54.6L45.0 12.2L45.4 16.2L45.8 34.5L46.3 64.2L46.7 34.8"/>
<path class="g" d="M61.2 203.7L61.7 204.0"/>
<path class="c" d="M266.0 21.9L266.4 11.7L266.9 46.2L267.3 56.4L267.7 19.7"/>
<path class="p" d="M248.0 27.5L248.4 55.7L248.9 11.1L249.3 43.7L249.7 70.5L250.2 23.7M229.6 18.0L230.1 73.0L230.5 75.8L230.9 64.8L231.4 59.9L231.8 15.6M240.2 56.4L240.6 62.9L241.0 32.7L241.5 6.5L241.9 59.8"/>
<path class="b" d="M235.0 29.7L235.4 59.3L235.8 45.2L236.3 22.2L236.7 48.1"/>
<path class="g" d="M250.9 55.5L251.4 17.0L251.8 70.4L252.2 46.2L252.7 11.6L253.1 12.1"/>
<path class="r" d="M50.4 45.1L50.8 19.2L51.2 5.2L51.7 63.5L52.1 44.2L52.5 52.3"/>
<path class="y" d="M237.9 68.1L238.3 29.0L238.8 44.8L239.2 28.7L239.6 39.7"/>
<path class="c" d="M245.9 19.0L246.4 19.5L246.8 51.7L247.2 56.2L247.7 37.2L248.1 27.3"/>
<path class="b" d="M254.5 57.1L254.9 43.7L255.3 34.2L255.8 70.0L256.2 43.5"/>
<path class="y" d="M269.2 35.7L269.6 16.7L270.1 16.8L270.5 58.3L270.9 38.0"/>
<path class="c" d="M259.1 54.8L259.5 63.0L260.0 65.6L260.4 57.7L260.8 64.9L261.3 40.9M252.9 16.9L253.3 58.1L253.7 29.5L254.2 34.4L254.6 31.8"/>
<path class="o" d="M237.9 53.2L238.4 51.1L238.8 63.8L239.2 72.7L239.7 69.2L240.1 34.6"/>
<path class="p" d="M275.7 201.4L276.1 201.8L277.0 203.3L278.3 202.9"/>
<path class="c" d="M53.9 40.6L54.3 71.8L54.7 69.9L55.2 68.5L55.6 94.8L56.0 104.4"/>
<path class="p" d="M228.9 38.8L229.4 38.2L229.8 5.2L230.2 66.6L230.7 51.7L231.1 49.3"/>
<path class="b" d="M45.5 41.9L46.0 20.9L46.4 54.0L46.8 17.0L47.3 62.0L47.7 62.5"/>
<path class="o" d="M250.6 42.2L251.1 68.8L251.5 23.6L251.9 58.9L252.4 59.5L252.8 15.6"/>
<path class="y" d="M224.1 31.5L224.5 15.4L225.0 69.4L225.4 71.1L225.8 52.7L226.3 69.2"/>
<path class="r" d="M220.7 80.7L221.2 66.1L221.6 26.0L222.0 48.2L222.5 55.8L222.9 20.2"/>
<path class="c" d="M48.0 68.6L48.4 31.3L48.8 54.3L49.3 14.5L49.7 17.0M233.9 75.3L234.3 29.2L234.8 35.7L235.2 23.6L235.6 49.3"/>
<path class="g" d="M250.0 39.5L250.4 19.5L250.9 54.2L251.3 42.2L251.8 27.7L252.2 61.1"/>
<path class="y" d="M233.2 66.5L233.6 20.6L234.0 24.3L234.5 58.8L234.9 82.4"/>
<path class="r" d="M244.6 65.6L245.0 71.7L245.4 21.8L245.9 17.1L246.3 30.3L246.7 43.4"/>
<path class="b" d="M254.5 29.9L254.9 20.7L255.3 63.5L255.8 46.5L256.2 59.8L256.6 69.1"/>
<path class="p" d="M218.5 52.6L218.9 54.4L219.3 27.5L219.8 40.4L220.2 60.6"/>
<path class="c" d="M45.1 54.5L45.5 62.2L46.0 17.0L46.4 54.2L46.8 44.9L47.3 21.9"/>
<path class="g" d="M218.1 62.6L218.6 34.9L219.0 65.3L219.4 73.9L219.9 78.1L220.3 21.4"/>
<path class="p" d="M241.1 41.9L241.5 63.4L241.9 75.1L242.4 40.1L242.8 27.0"/>
<path class="b" d="M233.0 47.8L233.4 12.3L233.8 5.3L234.3 25.2L234.7 64.0M57.3 195.0L57.7 199.1L58.2 200.3L59.9 203.5"/>
<path class="y" d="M254.2 62.0L254.6 30.0L255.0 42.9L255.5 31.3L255.9 18.7"/>
<path class="g" d="M253.9 19.7L254.4 73.6L254.8 14.6L255.2 35.2L255.7 25.4"/>
<path class="b" d="M222.2 69.4L222.7 74.5L223.1 50.3L223.5 40.1L224.0 45.4L224.4 33.9"/>
<path class="p" d="M229.5 56.2L229.9 56.2L230.3 13.9L230.8 67.3L231.2 10.8"/>
<path class="g" d="M270.5 52.9L271.0 46.7L271.4 68.2L271.8 87.3L272.3 114.5L272.7 156.4"/>
<path class="c" d="M226.0 28.0L226.5 74.9L226.9 56.2L227.4 32.9L227.8 54.8"/>
<path class="b" d="M212.1 201.9L212.6 204.4L214.3 199.5M218.4 41.2L218.9 15.7L219.3 60.0L219.7 67.1L220.2 33.2L220.6 72.1"/>
<path class="y" d="M44.3 26.2L44.7 62.0L45.2 40.7"/>
<path class="c" d="M274.6 195.7L275.0 202.0L275.4 201.8L275.9 201.8L276.7 204.4"/>
<path class="p" d="M47.5 37.2L48.0 12.7L48.4 70.6L48.8 50.2L49.3 23.2L49.7 12.6"/>
<path class="c" d="M214.9 192.3L215.3 146.2L215.8 108.3L216.2 23.7L216.7 43.7"/>
<path class="o" d="M244.5 58.2L245.0 65.5L245.4 34.5L245.8 56.2L246.3 13.1L246.7 24.0"/>
<path class="p" d="M219.0 66.4L219.4 28.9L219.9 48.0L220.3 73.5L220.7 66.3L221.2 25.7"/>
<path class="o" d="M237.1 37.8L237.6 35.5L238.0 40.3L238.4 28.5L238.9 64.2L239.3 35.0"/>
<path class="r" d="M222.7 48.8L223.1 17.0L223.6 46.2L224.0 73.3L224.4 77.6"/>
<path class="c" d="M214.2 203.7L214.7 199.4L215.1 175.2L215.5 133.0"/>
<path class="y" d="M241.9 73.0L242.3 58.5L242.7 18.3L243.2 16.5L243.6 72.3L244.0 40.6"/>
<path class="c" d="M231.6 39.0L232.0 57.2L232.5 63.0L232.9 20.6L233.3 21.8L233.8 53.0"/>
<path class="b" d="M228.9 48.0L229.3 26.2L229.8 79.2L230.2 54.2L230.6 15.0L231.1 70.6"/>
<path class="p" d="M242.9 75.6L243.3 69.4L243.8 71.0L244.2 41.6L244.6 24.3L245.1 35.6"/>
<path class="b" d="M268.4 16.1L268.8 50.2L269.2 46.0L269.7 45.0L270.1 34.1L270.5 44.6"/>
<path class="p" d="M267.9 41.6L268.3 27.0L268.7 33.3L269.2 43.1L269.6 33.7M262.9 20.5L263.3 53.1L263.7 31.7L264.2 46.2L264.6 41.9L265.0 28.5"/>
<path class="o" d="M227.1 16.7L227.6 62.0L228.0 61.0L228.4 80.6L228.9 50.5L229.3 51.0"/>
<path class="c" d="M255.5 49.4L255.9 16.4L256.4 52.1L256.8 18.3L257.2 55.8L257.7 41.9"/>
<path class="r" d="M240.1 25.3L240.5 26.8L240.9 39.6L241.4 75.4L241.8 10.2"/>
<path class="o" d="M212.8 204.5L214.1 204.4L214.6 202.1"/>
<path class="y" d="M277.7 204.2L278.1 205.7L278.5 203.3"/>
<path class="g" d="M238.8 44.5L239.2 52.2L239.7 71.5L240.1 11.8L240.5 58.7"/>
<path class="r" d="M217.1 72.6L217.5 83.4L217.9 12.5L218.4 75.7L218.8 64.7L219.2 71.8"/>
<path class="g" d="M246.4 60.8L246.8 70.5L247.2 36.4L247.7 42.2L248.1 44.9"/>
<path class="b" d="M262.2 18.6L262.6 58.1L263.1 59.2L263.5 62.9L263.9 63.7L264.4 14.9"/>
<path class="r" d="M56.8 184.3L57.2 194.3L57.7 199.6L58.5 203.9"/>
<path class="c" d="M232.9 19.6L233.3 42.6L233.8 40.4L234.2 49.3L234.6 19.4"/>
<path class="g" d="M266.6 34.6L267.1 42.3L267.5 30.5L267.9 43.3L268.4 49.0L268.8 34.6"/>
<path class="c" d="M272.2 61.3L272.7 112.5L273.1 123.5L273.6 160.1L274.0 174.2L274.4 188.4"/>
<path class="b" d="M58.9 199.2L59.3 200.9L59.7 200.6L60.2 203.9L61.5 203.1"/>
<path class="r" d="M51.9 26.9L52.3 26.2L52.8 30.7L53.2 15.5L53.6 30.2M259.0 40.9L259.4 42.0L259.9 15.7L260.3 25.7L260.7 41.0L261.2 56.9"/>
<path class="b" d="M226.9 32.9L227.3 75.6L227.8 36.6L228.2 26.9L228.6 34.0L229.1 34.3M269.5 31.1L269.9 40.5L270.4 13.0L270.8 28.3L271.2 41.8L271.7 51.7M233.8 70.9L234.2 44.8L234.7 46.7L235.1 74.4L235.5 22.1L236.0 49.1"/>
<path class="c" d="M211.7 203.9L212.6 205.0L213.0 201.0L214.3 203.7"/>
<path class="b" d="M275.9 199.5L276.4 200.1L277.2 203.1L278.5 202.2M268.1 43.5L268.6 51.4L269.0 27.8L269.4 50.3L269.9 44.0L270.3 35.0"/>
<path class="r" d="M47.5 59.3L48.0 32.0L48.4 70.3L48.8 41.3L49.3 39.6L49.7 32.4"/>
<path class="o" d="M55.8 116.5L56.2 156.7L56.6 163.7L57.1 184.8L57.5 193.2L57.9 199.7"/>
<path class="r" d="M226.9 71.9L227.3 49.6L227.7 16.1L228.2 60.7L228.6 41.9L229.0 28.7"/>
<path class="g" d="M55.3 153.7L55.7 169.4L56.2 183.4L56.6 193.5L57.0 196.9L57.5 200.6"/>
<path class="b" d="M219.6 52.5L220.0 28.3L220.4 5.2L220.9 70.3L221.3 29.2L221.7 44.7"/>
<path class="c" d="M252.1 68.0L252.5 32.1L253.0 37.2L253.4 30.0L253.8 16.1"/>
<path class="b" d="M257.1 21.2L257.5 65.0L257.9 45.8L258.4 13.7L258.8 48.7L259.2 54.2M269.2 40.5L269.7 22.5L270.1 44.6L270.5 17.3L271.0 41.3"/>
<path class="y" d="M268.1 42.6L268.5 63.2L268.9 19.4L269.4 15.1L269.8 57.9L270.2 30.0"/>
<path class="b" d="M240.3 22.6L240.8 6.8L241.2 44.2L241.6 22.3L242.1 11.4M262.7 59.2L263.2 18.7L263.6 17.1L264.0 55.6L264.5 53.2M229.5 70.2L230.0 53.0L230.4 51.9L230.9 32.6L231.3 27.6L231.7 82.9"/>
<path class="c" d="M263.0 64.7L263.4 50.9L263.9 65.3L264.3 21.9L264.7 48.1L265.2 50.1M225.2 66.9L225.6 34.8L226.1 58.5L226.5 12.7L227.0 56.5"/>
<path class="o" d="M267.9 21.5L268.3 20.6L268.8 37.5L269.2 49.3L269.6 25.5L270.1 59.1M264.7 29.7L265.2 26.1L265.6 18.0L266.0 46.9L266.5 58.6L266.9 16.6"/>
<path class="b" d="M57.0 173.3L57.5 192.7L57.9 196.7L58.3 200.6L59.2 202.3M244.2 73.9L244.7 27.8L245.1 46.4L245.5 40.3L246.0 22.0L246.4 21.7"/>
<path class="o" d="M221.5 35.0L221.9 54.5L222.4 21.9L222.8 45.8L223.2 42.7L223.7 50.8"/>
<path class="b" d="M277.5 202.0L277.9 205.5L278.8 202.2"/>
<path class="y" d="M229.9 18.2L230.3 39.8L230.8 40.7L231.2 35.2L231.6 43.4"/>
<path class="b" d="M219.9 49.7L220.4 41.4L220.8 47.3L221.2 67.7L221.7 34.4L222.1 28.4"/>
<path class="g" d="M262.7 22.8L263.1 63.8L263.6 53.6L264.0 29.1L264.4 36.0L264.9 63.1"/>
<path class="o" d="M233.2 52.9L233.6 78.6L234.1 11.7L234.5 61.7L234.9 30.1L235.4 30.5"/>
<path class="r" d="M252.8 24.4L253.3 70.8L253.7 29.0L254.1 56.6L254.6 64.5"/>
<path class="c" d="M212.1 204.1L212.9 202.1L214.2 203.7"/>
<path class="g" d="M224.5 25.5L224.9 40.2L225.4 26.4L225.8 76.1L226.2 39.6L226.7 58.6"/>
<path class="c" d="M244.9 31.5L245.3 54.4L245.7 23.8L246.2 13.8L246.6 68.4L247.1 42.9"/>
<path class="o" d="M220.9 66.5L221.3 82.0L221.7 24.8L222.2 52.9L222.6 41.7L223.0 20.9"/>
<path class="b" d="M235.6 58.5L236.1 51.4L236.5 52.6L236.9 23.0L237.4 41.7L237.8 24.9"/>
<path class="p" d="M238.4 77.1L238.9 35.0L239.3 29.0L239.7 66.5L240.2 27.2"/>
<path class="c" d="M222.8 23.8L223.3 11.7L223.7 29.9L224.1 50.1L224.6 16.8L225.0 6.0M50.0 71.9L50.4 50.3L50.8 14.2L51.3 44.9L51.7 24.4L52.1 15.3"/>
<path class="y" d="M223.2 54.4L223.6 73.1L224.0 41.1L224.5 21.5L224.9 52.5"/>
<path class="b" d="M211.9 203.4L212.4 204.0M56.7 195.0L57.1 201.9L57.5 202.1L58.0 204.4L58.4 201.0M45.1 23.2L45.5 44.8L46.0 58.3L46.4 62.8L46.8 21.9L47.3 33.8"/>
<path class="g" d="M265.6 51.4L266.1 69.8L266.5 20.3L266.9 22.9L267.4 24.8L267.8 19.1"/>
<path class="p" d="M211.9 202.2L212.7 203.5L213.6 202.5"/>
<path class="r" d="M45.8 14.4L46.2 66.5L46.6 12.8L47.1 11.2L47.5 68.2"/>
<path class="y" d="M278.0 202.3L279.8 204.2"/>
<path class="c" d="M46.7 60.1L47.1 46.0L47.6 51.4L48.0 40.2L48.4 32.0L48.9 34.4"/>
<path class="b" d="M59.4 200.5L59.9 201.7L61.2 202.1L61.6 203.9"/>
<path class="p" d="M268.9 46.1L269.4 47.4L269.8 66.5L270.2 56.6L270.7 84.3L271.1 85.9"/>
<path class="y" d="M231.9 14.0L232.3 72.6L232.7 75.7L233.2 16.4L233.6 72.8L234.0 30.4"/>
<path class="c" d="M247.1 42.9L247.5 53.8L247.9 78.6L248.4 26.3L248.8 16.6"/>
<path class="y" d="M231.0 12.6L231.4 10.4L231.8 30.0L232.3 15.4L232.7 68.9L233.2 66.5"/>
<path class="p" d="M45.3 8.3L45.7 17.9L46.1 39.7L46.6 17.3L47.0 32.2"/>
<path class="o" d="M211.9 203.6L213.2 204.2"/>
<path class="c" d="M251.0 48.2L251.4 20.4L251.8 67.7L252.3 24.7L252.7 16.8"/>
<path class="b" d="M44.9 53.4L45.3 35.8L45.8 21.9L46.2 43.7L46.6 54.9M44.7 12.9L45.1 44.2L45.6 45.3L46.0 57.1L46.4 49.0"/>
<path class="c" d="M266.7 25.7L267.1 51.3L267.6 65.5L268.0 28.1L268.4 28.7L268.9 52.4"/>
<path class="b" d="M57.3 198.5L57.7 200.5L58.6 201.2L59.4 204.8"/>
<path class="c" d="M53.7 35.2L54.1 20.4L54.6 39.3L55.0 80.1L55.4 51.9L55.9 98.9"/>
<path class="g" d="M272.2 113.3L272.6 159.5L273.0 172.5L273.5 186.9L273.9 195.7L274.3 199.4"/>
<path class="b" d="M263.1 31.8L263.6 13.5L264.0 46.0L264.4 30.6L264.9 32.6L265.3 35.5"/>
<path class="y" d="M234.2 49.6L234.6 41.2L235.0 72.4L235.5 31.2L235.9 20.2"/>
<path class="r" d="M239.2 60.3L239.7 28.0L240.1 69.7L240.5 43.5L241.0 22.8"/>
<path class="o" d="M256.2 20.5L256.6 46.6L257.0 47.7L257.5 6.7L257.9 36.0"/>
<path class="c" d="M240.0 49.7L240.4 69.4L240.8 17.2L241.3 45.7L241.7 57.0"/>
<path class="g" d="M59.9 204.1L61.2 202.3"/>
<path class="r" d="M48.7 53.6L49.1 44.9L49.5 41.5L50.0 37.6L50.4 69.3L50.8 76.2"/>
<path class="y" d="M270.9 38.0L271.4 30.3L271.8 62.9L272.2 46.6L272.7 85.8L273.1 111.4"/>
<path class="g" d="M276.1 201.3L277.4 205.0L278.7 204.8"/>
<path class="p" d="M222.4 42.3L222.8 44.9L223.2 71.4L223.7 56.4L224.1 25.7L224.5 13.8"/>
<path class="c" d="M217.7 34.3L218.1 32.9L218.6 66.5L219.0 34.6L219.5 28.9L219.9 29.6"/>
<path class="b" d="M266.7 50.6L267.1 61.8L267.5 35.1L268.0 53.0L268.4 48.3L268.8 20.5"/>
<path class="c" d="M272.1 86.8L272.5 101.9L273.0 126.9L273.4 143.4L273.8 171.6M216.1 39.2L216.5 33.4L216.9 12.4L217.4 54.0L217.8 33.7M216.0 26.1L216.4 30.1L216.8 58.6L217.3 51.6L217.7 45.6L218.1 14.3M221.3 30.6L221.7 81.4L222.2 62.8L222.6 52.8L223.0 42.8"/>
<path class="g" d="M252.7 20.9L253.2 22.3L253.6 39.2L254.0 25.0L254.5 49.1"/>
<path class="c" d="M240.1 66.6L240.5 31.1L241.0 17.4L241.4 49.5L241.8 51.3L242.3 51.5M232.6 71.6L233.0 23.8L233.5 28.2L233.9 70.9L234.3 16.1"/>
<path class="y" d="M53.0 63.8L53.4 30.7L53.9 59.1L54.3 42.4L54.7 73.1L55.2 69.4"/>
<path class="p" d="M251.9 47.5L252.3 62.4L252.8 45.9L253.2 64.4L253.6 44.9L254.1 52.7"/>
<path class="c" d="M218.7 39.8L219.1 28.5L219.6 15.6L220.0 77.9L220.4 17.8M248.5 52.8L249.0 44.2L249.4 36.9L249.8 11.1L250.3 23.0"/>
<path class="o" d="M272.8 113.3L273.2 151.8L273.6 174.6L274.1 184.4L274.5 194.8"/>
<path class="b" d="M263.2 59.1L263.6 52.4L264.0 35.9L264.5 60.9L264.9 12.5"/>
<path class="p" d="M245.7 72.9L246.2 55.8L246.6 42.8L247.0 37.2L247.5 48.2L247.9 72.0"/>
<path class="b" d="M240.5 19.3L240.9 32.1L241.3 39.3L241.8 24.6L242.2 71.6"/>
<path class="c" d="M234.3 16.1L234.8 65.9L235.2 17.5L235.6 52.4L236.1 47.3L236.5 9.0"/>
<path class="r" d="M271.4 58.4L271.8 61.7L272.2 96.0L272.7 99.5L273.1 148.2M245.7 45.8L246.1 73.7L246.6 51.8L247.0 58.3L247.5 36.1L247.9 57.6"/>
<path class="o" d="M270.1 59.1L270.5 42.8L270.9 61.1L271.4 46.7L271.8 72.6L272.2 58.0"/>
<path class="r" d="M215.1 185.5L215.5 146.4L215.9 60.0L216.4 82.4L216.8 40.5"/>
<path class="b" d="M217.7 53.8L218.2 28.1L218.6 22.7L219.0 50.0L219.5 65.4L219.9 31.8"/>
<path class="r" d="M213.3 203.7L213.7 202.1L214.2 199.2L214.6 186.2M275.3 202.7L275.7 204.5L277.4 201.5"/>
<path class="p" d="M256.2 62.6L256.7 55.3L257.1 61.8L257.5 56.4L258.0 49.5"/>
<path class="c" d="M50.7 26.2L51.1 62.7L51.6 25.4L52.0 32.8L52.4 12.7L52.9 41.5"/>
<path class="b" d="M230.3 64.6L230.8 54.8L231.2 58.0L231.6 39.9L232.1 77.6L232.5 71.8"/>
<path class="r" d="M216.9 37.2L217.3 23.4L217.8 38.0L218.2 33.1L218.6 54.5L219.1 19.9"/>
<path class="b" d="M57.7 199.4L58.1 202.3L59.0 204.7L60.3 202.5"/>
<path class="o" d="M219.3 77.3L219.7 9.1L220.2 18.5L220.6 12.9L221.1 80.5"/>
<path class="p" d="M235.7 12.1L236.2 14.5L236.6 42.9L237.1 22.1L237.5 23.3L237.9 43.2M53.6 41.7L54.0 54.3L54.5 55.9L54.9 62.1L55.3 91.7L55.8 74.9"/>
<path class="b" d="M221.7 44.7L222.2 54.7L222.6 18.6L223.0 12.9L223.5 35.5L223.9 56.4"/>
<path class="c" d="M49.8 44.7L50.2 43.1L50.7 44.6L51.1 65.7L51.5 11.7"/>
<path class="g" d="M44.1 63.8L44.5 61.3L45.0 55.5"/>
<path class="o" d="M259.3 54.2L259.7 11.7L260.1 17.3L260.6 27.1L261.0 60.0"/>
<path class="g" d="M244.5 75.1L244.9 30.3L245.3 18.9L245.8 43.3L246.2 23.8L246.6 17.2"/>
<path class="c" d="M230.3 22.2L230.7 41.7L231.2 17.4L231.6 35.5L232.0 37.5L232.5 18.1M59.7 205.2L60.1 202.8L61.0 204.7"/>
<path class="b" d="M221.0 14.2L221.5 78.6L221.9 73.9L222.3 76.8L222.8 34.2L223.2 54.0"/>
<path class="y" d="M211.9 202.5L212.7 201.1L213.2 204.0"/>
<path class="g" d="M274.9 200.4L275.3 202.8L277.0 201.2"/>
<path class="c" d="M46.8 48.6L47.2 46.0L47.7 67.6L48.1 38.9L48.5 29.8L49.0 37.8"/>
<path class="p" d="M242.3 19.5L242.8 66.2L243.2 31.8L243.6 15.5L244.1 15.2L244.5 64.2"/>
<path class="g" d="M246.6 17.2L247.1 23.3L247.5 23.3L247.9 50.4L248.4 70.1L248.8 24.3"/>
<path class="r" d="M239.0 56.7L239.5 24.7L239.9 37.3L240.3 23.0L240.8 19.7L241.2 49.2M216.8 25.8L217.2 34.7L217.6 13.9L218.1 67.2L218.5 40.5"/>
<path class="b" d="M239.5 34.1L240.0 14.1L240.4 53.7L240.8 61.9L241.3 59.8L241.7 24.4"/>
<path class="p" d="M227.9 9.9L228.3 12.7L228.8 40.6L229.2 71.4L229.6 18.0"/>
<path class="c" d="M44.3 41.4L44.8 36.8M224.7 60.4L225.2 53.8L225.6 71.0L226.0 42.0L226.5 75.3"/>
<path class="p" d="M44.8 16.6L45.3 56.0L45.7 55.3L46.1 49.0L46.6 21.9L47.0 22.6M50.8 29.9L51.2 34.2L51.6 32.4L52.1 61.1L52.5 52.9L52.9 77.1"/>
<path class="b" d="M271.7 63.8L272.1 107.7L272.6 128.3L273.0 149.5L273.4 173.8L273.9 186.9"/>
<path class="y" d="M254.0 28.4L254.4 39.8L254.8 62.2L255.3 20.5L255.7 32.4"/>
<path class="b" d="M256.0 19.0L256.4 41.4L256.8 21.9L257.3 60.0L257.7 49.4L258.2 64.7M246.0 50.8L246.4 14.6L246.8 69.4L247.3 20.6L247.7 32.4M212.0 202.5L212.8 201.9"/>
<path class="c" d="M255.9 57.1L256.3 16.7L256.8 73.9L257.2 42.9L257.7 34.4L258.1 25.3"/>
<path class="b" d="M217.1 33.7L217.6 51.0L218.0 5.2L218.4 45.5L218.9 75.9"/>
<path class="y" d="M265.7 28.6L266.2 44.4L266.6 14.8L267.0 56.1L267.5 57.1L267.9 25.4"/>
<path class="o" d="M253.0 43.5L253.4 43.3L253.9 61.9L254.3 52.3L254.8 19.0"/>
<path class="y" d="M221.8 30.0L222.3 72.4L222.7 36.3L223.1 68.0L223.6 64.9L224.0 32.9M235.7 29.5L236.2 43.0L236.6 5.2L237.0 44.5L237.5 29.6L237.9 68.1M275.9 197.6L276.4 200.0L276.8 200.9L277.7 204.2"/>
<path class="g" d="M267.0 35.2L267.4 42.0L267.9 53.9L268.3 38.6L268.7 20.7L269.2 35.1"/>
<path class="b" d="M226.4 32.9L226.9 54.4L227.3 49.9L227.7 69.4L228.2 49.9"/>
<path class="p" d="M271.1 85.9L271.5 106.1L272.0 131.0L272.4 159.8L272.9 180.6"/>
<path class="y" d="M258.1 14.8L258.5 16.6L258.9 22.7L259.4 23.4L259.8 31.1L260.2 13.4"/>
<path class="g" d="M215.3 128.6L215.7 46.7L216.2 72.5L216.6 32.7L217.1 13.2"/>
<path class="b" d="M53.8 60.7L54.2 72.8L54.6 117.1L55.1 122.2L55.5 163.3"/>
<path class="c" d="M49.0 37.8L49.4 24.4L49.8 51.8L50.3 10.2L50.7 26.2"/>
<path class="y" d="M213.2 204.0L214.0 198.0L214.5 183.7L214.9 147.3"/>
<path class="b" d="M244.9 13.5L245.3 51.9L245.8 32.7L246.2 56.4L246.6 63.2L247.1 17.7"/>
<path class="g" d="M218.8 71.1L219.3 12.7L219.7 83.1L220.1 81.4L220.6 45.4"/>
<path class="r" d="M215.3 154.9L215.8 74.5L216.2 72.1L216.6 34.7L217.1 72.6"/>
<path class="c" d="M245.0 41.1L245.4 61.9L245.9 57.6L246.3 17.3L246.7 6.8"/>
<path class="y" d="M264.0 50.2L264.5 62.0L264.9 18.6L265.3 63.7L265.8 64.2L266.2 52.5"/>
<path class="b" d="M225.6 15.7L226.1 46.8L226.5 42.7L227.0 19.9L227.4 40.8L227.8 77.8M277.7 204.1L278.1 201.3L279.0 204.3"/>
<path class="r" d="M211.8 203.5L212.3 203.7L213.6 202.8L214.0 202.4"/>
<path class="c" d="M276.7 204.4L277.2 202.0L278.9 205.0"/>
<path class="p" d="M271.8 82.4L272.2 65.8L272.7 102.5L273.1 140.3L273.5 163.0L274.0 178.9"/>
<path class="c" d="M57.6 179.9L58.0 188.5L58.5 197.9L59.4 203.5L59.8 200.5M231.0 18.5L231.4 30.8L231.9 18.4L232.3 52.0L232.7 22.2"/>
<path class="b" d="M238.2 18.6L238.6 5.2L239.0 24.9L239.5 11.0L239.9 11.8L240.3 24.4M276.1 203.6L276.5 201.9L278.7 202.0"/>
<path class="r" d="M235.1 40.3L235.6 50.1L236.0 76.4L236.4 26.7L236.9 21.5"/>
<path class="b" d="M252.5 42.2L252.9 17.2L253.4 35.3L253.8 46.6L254.2 33.9"/>
<path class="r" d="M53.6 58.1L54.0 57.3L54.4 111.4L54.9 115.2L55.3 158.6L55.8 178.5"/>
<path class="c" d="M252.3 31.6L252.7 75.2L253.1 25.0L253.6 31.3L254.0 27.1L254.4 57.5"/>
<path class="g" d="M49.6 12.8L50.1 51.8L50.5 56.9L50.9 58.6L51.4 6.1"/>
<path class="p" d="M221.2 25.7L221.6 70.4L222.0 53.1L222.5 36.6L222.9 49.3"/>
<path class="c" d="M244.7 12.3L245.2 34.9L245.6 72.8L246.0 62.5L246.5 16.5"/>
<path class="g" d="M54.5 78.8L55.0 109.3L55.4 129.7L55.8 161.2L56.3 180.2L56.7 193.0"/>
<path class="b" d="M55.1 78.6L55.6 121.1L56.0 153.9L56.4 174.0L56.9 189.1L57.3 195.0"/>
<path class="p" d="M278.3 205.0L279.2 202.1"/>
<path class="g" d="M213.1 202.9L213.6 206.0L214.0 200.9L214.4 199.8L214.9 183.1L215.3 128.6"/>
<path class="o" d="M243.6 27.0L244.1 56.6L244.5 22.3L244.9 31.6L245.4 73.9L245.8 10.5"/>
<path class="b" d="M272.5 135.5L272.9 162.4L273.3 178.2L273.8 189.0L274.2 197.8M44.9 49.9L45.4 16.1L45.8 10.3L46.2 47.5L46.7 40.7L47.1 69.7"/>
<path class="r" d="M214.6 186.2L215.0 138.6L215.5 55.2L215.9 30.5L216.3 52.6L216.8 25.8"/>
<path class="o" d="M270.8 51.0L271.3 43.3L271.7 54.4L272.1 63.2L272.6 91.3L273.0 123.8"/>
<path class="c" d="M218.6 9.9L219.0 61.8L219.4 57.9L219.9 57.4L220.3 61.3"/>
<path class="b" d="M214.7 175.5L215.2 109.2L215.6 51.4L216.0 20.4L216.5 28.8L216.9 66.3"/>
<path class="p" d="M274.5 189.3L274.9 195.9L275.4 199.6L275.8 201.9L276.7 201.7"/>
<path class="r" d="M252.9 67.6L253.4 30.0L253.8 22.4L254.2 67.4L254.7 26.9L255.1 15.4M249.0 67.6L249.4 48.1L249.8 48.5L250.3 45.5L250.7 61.9L251.1 64.5"/>
<path class="p" d="M211.9 203.7L212.4 202.0"/>
<path class="b" d="M233.2 42.6L233.6 70.6L234.1 70.2L234.5 24.3L234.9 27.3M231.7 24.4L232.2 21.8L232.6 52.6L233.0 41.4L233.5 69.1L233.9 62.2"/>
<path class="g" d="M57.1 195.7L57.6 197.9L58.0 201.6L58.9 201.0"/>
<path class="b" d="M215.0 184.5L215.4 125.6L215.9 79.5L216.3 75.8L216.7 27.9M258.2 64.7L258.6 32.7L259.0 19.9L259.5 63.5L259.9 53.7L260.3 62.2"/>
<path class="o" d="M249.2 59.2L249.7 33.0L250.1 50.8L250.5 14.9L251.0 43.3L251.4 42.1M232.8 51.0L233.3 63.4L233.7 38.0L234.1 56.7L234.6 30.6M229.3 15.0L229.7 38.8L230.1 23.3L230.6 28.3L231.0 41.5L231.4 40.0M214.6 202.1L215.0 196.1L215.4 164.4L215.9 97.0L216.3 83.0L216.8 21.9"/>
<path class="b" d="M49.2 69.5L49.7 74.8L50.1 54.8L50.5 36.0L51.0 10.8L51.4 41.8"/>
<path class="y" d="M237.7 50.7L238.1 12.9L238.5 67.1L239.0 15.9L239.4 40.9L239.8 41.2"/>
<path class="c" d="M277.3 204.5L278.2 204.1L278.6 202.9"/>
<path class="o" d="M240.6 50.1L241.1 59.6L241.5 67.0L241.9 35.2L242.4 41.9L242.8 15.6"/>
<path class="c" d="M268.9 52.4L269.3 27.7L269.7 64.4L270.2 57.2L270.6 63.1L271.0 61.9"/>
<path class="b" d="M54.9 120.2L55.3 133.1L55.7 165.9L56.2 180.7L56.6 194.2"/>
<path class="g" d="M260.0 42.8L260.4 21.5L260.9 58.6L261.3 19.2L261.7 32.5"/>
<path class="o" d="M228.9 55.1L229.3 13.9L229.8 24.2L230.2 62.9L230.6 17.0"/>
<path class="b" d="M268.4 34.3L268.8 15.3L269.2 26.7L269.7 55.3L270.1 16.9M45.5 29.9L46.0 37.0L46.4 5.2L46.8 45.6L47.3 73.9L47.7 29.9"/>
<path class="o" d="M255.3 53.2L255.8 17.1L256.2 28.2L256.6 53.4L257.1 16.2"/>
<path class="c" d="M223.8 74.6L224.2 74.9L224.6 9.6L225.1 70.8L225.5 73.1L225.9 44.2"/>
<path class="b" d="M224.1 66.6L224.5 62.9L224.9 32.6L225.4 45.9L225.8 64.8L226.3 29.7M251.0 33.6L251.4 19.3L251.9 48.6L252.3 39.9L252.7 25.7L253.2 38.0"/>
<path class="p" d="M260.2 70.3L260.6 61.7L261.0 44.1L261.5 15.4L261.9 6.9L262.3 51.8"/>
<path class="y" d="M275.7 200.9L277.0 202.2L277.5 204.1L278.3 205.1"/>
<path class="b" d="M233.2 32.4L233.6 40.5L234.0 63.5L234.5 27.0L234.9 28.5"/>
<path class="y" d="M230.2 25.8L230.6 15.0L231.0 27.3L231.5 51.5L231.9 21.7"/>
<path class="c" d="M50.6 67.5L51.0 22.9L51.5 30.1L51.9 26.1L52.3 29.0L52.8 18.7"/>
<path class="b" d="M277.5 203.8L278.8 202.5L279.6 203.9"/>
<path class="p" d="M276.2 201.0L276.7 203.6L278.8 203.4"/>
<path class="c" d="M265.0 37.9L265.4 44.8L265.8 62.0L266.3 24.5L266.7 25.7"/>
<path class="g" d="M242.7 28.0L243.1 17.2L243.6 43.6L244.0 70.1L244.5 7.7L244.9 16.9"/>
<path class="b" d="M265.6 41.7L266.0 65.4L266.5 28.0L266.9 60.4L267.3 21.4L267.8 31.8"/>
<path class="p" d="M231.2 10.8L231.6 9.9L232.1 42.0L232.5 52.8L232.9 76.1L233.4 45.6"/>
<path class="b" d="M216.4 71.4L216.9 73.5L217.3 15.7L217.7 53.1L218.2 75.9"/>
<path class="c" d="M236.5 9.0L236.9 46.8L237.4 9.2L237.8 30.2L238.2 38.8L238.7 9.0"/>
<path class="o" d="M212.0 203.3L212.4 202.2L212.8 204.5"/>
<path class="p" d="M274.1 148.6L274.5 162.4L274.9 184.2L275.4 192.1L275.8 198.9L276.2 201.0"/>
<path class="g" d="M229.2 60.0L229.6 52.7L230.1 16.7L230.5 46.1L230.9 15.6"/>
<path class="p" d="M215.1 128.4L215.5 50.6L216.0 47.0L216.4 56.4L216.8 34.8M259.6 15.3L260.1 65.9L260.5 66.9L260.9 60.7L261.4 56.0L261.8 35.8"/>
<path class="c" d="M258.4 35.1L258.8 57.2L259.2 21.8L259.7 35.7L260.1 34.1"/>
<path class="b" d="M260.5 62.5L260.9 18.1L261.3 46.9L261.8 42.0L262.2 18.6"/>
<path class="r" d="M261.8 47.0L262.2 18.6L262.7 35.9L263.1 25.0L263.5 55.3L264.0 13.1"/>
<path class="p" d="M233.4 45.6L233.8 32.7L234.2 63.7L234.7 33.4L235.1 49.4"/>
<path class="g" d="M240.3 43.0L240.7 64.8L241.1 30.3L241.6 21.6L242.0 36.4"/>
<path class="o" d="M263.0 40.4L263.4 14.8L263.9 18.6L264.3 57.0L264.7 29.7M221.8 15.0L222.3 32.4L222.7 31.6L223.2 49.8L223.6 79.1L224.0 42.6"/>
<path class="b" d="M248.1 34.4L248.6 63.9L249.0 28.8L249.4 39.7L249.9 71.7L250.3 45.4"/>
<path class="g" d="M213.2 202.3L214.1 202.7L214.5 199.0"/>
<path class="p" d="M221.9 70.8L222.4 10.6L222.8 30.6L223.2 61.4L223.7 15.8L224.1 44.2"/>
<path class="y" d="M229.7 69.4L230.1 65.6L230.5 35.2L231.0 32.1L231.4 47.7L231.8 53.8"/>
<path class="c" d="M225.6 45.2L226.1 51.4L226.5 73.7L226.9 20.7L227.4 71.5L227.8 34.8M274.7 162.4L275.1 185.4L275.6 193.7L276.0 199.0L276.4 201.3M239.9 63.1L240.3 63.6L240.7 27.0L241.2 38.5L241.6 46.9"/>
<path class="g" d="M266.9 13.5L267.4 24.0L267.8 46.1L268.2 32.3L268.7 25.2"/>
<path class="b" d="M214.3 199.5L214.7 187.6L215.2 138.9L215.6 103.5L216.0 63.3M241.0 16.8L241.4 9.2L241.9 14.7L242.3 13.3L242.7 38.6L243.2 51.3"/>
<path class="p" d="M251.1 43.3L251.6 17.7L252.0 34.5L252.4 46.1L252.9 74.0"/>
<path class="r" d="M271.8 91.1L272.2 97.6L272.6 122.4L273.1 152.6L273.5 176.1L273.9 189.2"/>
<path class="b" d="M236.7 48.1L237.1 76.5L237.6 21.0L238.0 11.8L238.4 28.8L238.9 19.5M223.9 66.9L224.3 37.2L224.8 56.5L225.2 49.4L225.7 27.5"/>
<path class="y" d="M235.5 24.5L235.9 18.1L236.3 22.8L236.8 22.6L237.2 38.9L237.7 50.7"/>
<path class="r" d="M44.6 43.2L45.1 52.2L45.5 31.4L46.0 19.3L46.4 51.0L46.8 11.9"/>
<path class="b" d="M267.8 31.1L268.2 50.2L268.6 42.4L269.1 23.8L269.5 58.6L269.9 56.8"/>
<path class="c" d="M235.9 73.4L236.4 46.1L236.8 31.0L237.2 40.6L237.7 37.0L238.1 66.3"/>
<path class="g" d="M48.2 21.0L48.6 58.4L49.1 66.7L49.5 35.8L49.9 60.9L50.4 18.5"/>
<path class="o" d="M211.9 204.0L212.3 202.6L213.2 204.6L214.0 202.6"/>
<path class="g" d="M254.5 49.1L254.9 27.8L255.3 68.8L255.8 64.1L256.2 20.0L256.6 8.1"/>
<path class="c" d="M247.8 65.0L248.2 59.1L248.6 30.5L249.1 25.4L249.5 20.4L249.9 19.5"/>
<path class="r" d="M44.7 40.0L45.2 56.8L45.6 18.8L46.0 66.9L46.5 29.2"/>
<path class="b" d="M261.7 24.4L262.1 21.4L262.6 14.7L263.0 6.0L263.4 32.7L263.9 61.9M212.3 202.2L212.8 204.2L214.1 203.9L214.5 198.4M250.1 9.5L250.6 29.2L251.0 74.1L251.4 38.9L251.9 54.6L252.3 52.5"/>
<path class="c" d="M56.4 201.0L56.9 202.1L57.3 203.3L59.0 201.2M271.2 43.6L271.7 74.1L272.1 68.7L272.5 91.7L273.0 114.2L273.4 151.3"/>
<path class="b" d="M218.3 28.0L218.8 38.9L219.2 27.8L219.6 70.8L220.1 61.8"/>
<path class="c" d="M274.4 188.4L274.9 195.0L275.3 200.8L275.7 199.7L276.6 202.0M52.5 82.5L53.0 41.8L53.4 80.2L53.8 97.2L54.3 146.0M250.4 19.7L250.8 39.1L251.3 52.0L251.7 18.7L252.1 37.1L252.6 26.5"/>
<path class="p" d="M269.6 20.2L270.1 65.1L270.5 51.1L270.9 46.1L271.4 28.5L271.8 82.4"/>
<path class="c" d="M272.7 106.1L273.1 115.5L273.5 146.5L274.0 173.4L274.4 189.9L274.8 195.3"/>
<path class="g" d="M247.8 46.2L248.3 38.9L248.7 37.8L249.1 19.9L249.6 65.7L250.0 42.7"/>
<path class="p" d="M237.9 62.9L238.3 42.0L238.8 64.4L239.2 25.5L239.6 70.6"/>
<path class="y" d="M214.1 202.7L214.5 197.7L215.0 183.6L215.4 114.1L215.8 63.0L216.3 65.6"/>
<path class="p" d="M240.2 27.2L240.6 55.1L241.0 31.8L241.5 37.9L241.9 11.1L242.3 19.5M251.1 23.3L251.5 24.8L251.9 21.2L252.4 52.5L252.8 34.7M248.4 35.0L248.9 39.0L249.3 33.9L249.7 41.5L250.2 25.7"/>
<path class="g" d="M232.0 21.9L232.5 31.0L232.9 46.0L233.3 36.6L233.8 61.8L234.2 62.3"/>
<path class="y" d="M54.1 85.7L54.6 113.2L55.0 139.0L55.4 158.5L55.9 176.6L56.3 191.5"/>
<path class="c" d="M44.2 43.2L44.6 36.7L45.0 36.7L45.5 38.4L45.9 68.2"/>
<path class="y" d="M255.5 23.6L255.9 10.3L256.3 60.7L256.8 65.8L257.2 54.5L257.6 28.6M232.0 53.3L232.4 20.8L232.9 15.7L233.3 23.7L233.7 48.3L234.2 49.6"/>
<path class="g" d="M274.3 199.4L274.8 202.6L275.2 200.5L277.4 204.5"/>
<path class="o" d="M268.6 30.6L269.1 34.8L269.5 63.9L270.0 16.4L270.4 52.4L270.8 51.0"/>
<path class="b" d="M244.5 41.1L244.9 67.0L245.4 69.8L245.8 34.6L246.2 18.4L246.7 29.0"/>
<path class="r" d="M53.6 30.2L54.1 45.1L54.5 30.9L54.9 85.9L55.4 55.4L55.8 88.7"/>
<path class="p" d="M234.0 32.6L234.4 11.8L234.9 65.7L235.3 63.2L235.7 12.1"/>
<path class="r" d="M217.5 37.5L218.0 55.3L218.4 42.4L218.8 21.8L219.3 23.7"/>
<path class="y" d="M44.4 71.0L44.8 12.7L45.3 22.5L45.7 38.2L46.1 41.7L46.6 14.7"/>
<path class="r" d="M58.6 202.2L59.9 203.7L60.4 202.3L61.7 204.5"/>
<path class="b" d="M243.9 16.9L244.3 58.1L244.8 5.2L245.2 26.8L245.6 62.9"/>
<path class="r" d="M225.3 60.0L225.8 65.0L226.2 71.6L226.6 67.3L227.1 24.6M56.9 194.5L57.3 197.1L57.8 200.5L58.6 202.2"/>
<path class="o" d="M58.5 200.3L59.4 203.9L60.7 202.4"/>
<path class="p" d="M258.9 35.5L259.3 49.6L259.8 45.5L260.2 66.2L260.6 70.9L261.1 20.7"/>
<path class="b" d="M59.5 203.9L60.4 202.5L60.8 204.3"/>
<path class="c" d="M217.8 45.2L218.3 46.0L218.7 26.8L219.1 75.9L219.6 51.8L220.0 29.6M256.2 22.4L256.6 68.2L257.0 24.7L257.5 7.8L257.9 56.4L258.4 35.1"/>
<path class="b" d="M225.0 77.3L225.4 48.6L225.9 38.2L226.3 52.0L226.7 32.3"/>
<path class="y" d="M59.1 199.2L59.5 201.8L59.9 202.5L60.8 205.5L61.3 201.2"/>
<path class="r" d="M256.6 61.8L257.0 33.8L257.5 70.0L257.9 35.9L258.3 13.4L258.8 32.4"/>
<path class="c" d="M214.6 180.9L215.1 93.5L215.5 36.9L215.9 31.7L216.4 38.8L216.8 61.2"/>
<path class="b" d="M45.3 34.6L45.8 13.0L46.2 5.2L46.6 28.6L47.1 41.7L47.5 17.2"/>
<path class="y" d="M44.1 20.3L44.6 34.5L45.0 32.1L45.4 12.2L45.9 38.6L46.3 58.4"/>
<path class="c" d="M234.7 61.8L235.2 13.5L235.6 11.1L236.0 19.1L236.5 15.6M226.6 61.8L227.1 49.7L227.5 25.2L227.9 66.9L228.4 75.8L228.8 67.1"/>
<path class="o" d="M224.6 45.4L225.0 70.7L225.4 23.1L225.9 60.6L226.3 56.7L226.7 25.4"/>
<path class="c" d="M59.7 203.7L60.1 202.3L60.6 203.1"/>
<path class="b" d="M250.3 38.6L250.8 12.4L251.2 52.3L251.6 11.2L252.1 14.3"/>
<path class="o" d="M52.2 64.9L52.7 51.2L53.1 12.5L53.5 74.1L54.0 71.5L54.4 43.0"/>
<path class="c" d="M212.5 201.8L212.9 204.5L214.2 203.0"/>
<path class="b" d="M272.9 171.6L273.4 190.0L273.8 194.9L274.2 200.1L274.7 201.2L276.0 202.4"/>
<path class="g" d="M250.6 28.6L251.0 39.4L251.4 61.4L251.9 28.3L252.3 35.2L252.7 20.9"/>
<path class="b" d="M266.0 45.8L266.4 46.0L266.8 19.3L267.3 58.0L267.7 59.0L268.1 43.5"/>
<path class="c" d="M257.0 36.4L257.5 44.9L257.9 13.7L258.3 36.4L258.8 35.1"/>
<path class="b" d="M217.1 17.7L217.5 53.5L218.0 27.3L218.4 46.7L218.8 77.8L219.3 70.2"/>
<path class="c" d="M262.8 54.9L263.2 40.7L263.7 16.0L264.1 44.1L264.5 24.3L265.0 37.9M235.2 69.0L235.6 50.7L236.1 67.1L236.5 35.7L236.9 46.1L237.4 13.9"/>
<path class="g" d="M277.9 203.5L278.3 205.0L279.2 201.6"/>
<path class="r" d="M274.5 198.6L275.4 201.6L275.8 203.7L276.3 203.2L277.1 204.9"/>
<path class="b" d="M242.2 71.6L242.7 65.6L243.1 24.9L243.5 15.7L244.0 27.9L244.4 18.1"/>
<path class="r" d="M54.6 63.0L55.1 97.1L55.5 106.3L55.9 154.4L56.4 175.6L56.8 184.3"/>
<path class="c" d="M241.0 32.9L241.4 13.1L241.8 45.8L242.3 68.0L242.7 17.3"/>
<path class="b" d="M44.3 20.9L44.7 51.1L45.1 23.3"/>
<path class="c" d="M214.3 203.7L214.8 198.2L215.2 169.3L215.6 121.8L216.1 39.2"/>
<path class="b" d="M271.0 33.7L271.5 56.3L271.9 38.8L272.3 44.3L272.8 65.1M252.2 67.5L252.6 68.8L253.1 68.1L253.5 24.7L253.9 19.6L254.4 56.0"/>
<path class="g" d="M232.7 53.5L233.2 59.2L233.6 65.9L234.1 63.3L234.5 31.0M260.5 44.4L261.0 54.4L261.4 35.2L261.8 63.2L262.3 53.5L262.7 22.8M213.1 202.0L213.5 203.8L214.4 201.4L214.8 180.9"/>
<path class="r" d="M50.7 51.2L51.2 69.5L51.6 58.5L52.0 33.9L52.5 52.2"/>
<path class="b" d="M53.4 42.6L53.8 64.0L54.2 57.7L54.7 88.9L55.1 115.3"/>
<path class="o" d="M48.5 21.2L49.0 19.7L49.4 53.9L49.8 11.2L50.3 23.8L50.7 29.6"/>
<path class="r" d="M45.8 5.2L46.2 29.7L46.7 66.7L47.1 36.9L47.5 59.3M224.6 67.6L225.0 56.6L225.5 70.0L225.9 62.0L226.3 22.9L226.8 17.1"/>
<path class="c" d="M231.3 75.2L231.7 36.7L232.2 32.7L232.6 22.8L233.0 82.1"/>
<path class="r" d="M216.6 70.5L217.1 44.9L217.5 18.0L217.9 76.5L218.4 79.8L218.8 40.6"/>
<path class="o" d="M244.0 42.4L244.4 69.5L244.9 11.0L245.3 65.8L245.7 40.6L246.2 27.5"/>
<path class="b" d="M211.8 204.2L213.1 203.7"/>
<path class="c" d="M50.9 58.6L51.4 50.1L51.8 41.9L52.2 67.9L52.7 72.4L53.1 38.2"/>
<path class="g" d="M230.6 62.1L231.0 65.5L231.4 44.3L231.9 40.3L232.3 54.1L232.7 53.5"/>
<path class="p" d="M45.8 67.2L46.2 77.8L46.6 72.9L47.1 60.1L47.5 37.2"/>
<path class="y" d="M257.9 43.1L258.3 19.2L258.7 48.4L259.2 32.9L259.6 62.5"/>
<path class="r" d="M218.5 40.5L218.9 20.3L219.4 64.3L219.8 57.7L220.2 25.7L220.7 59.7"/>
<path class="b" d="M214.5 198.4L215.0 178.1L215.4 123.8L215.8 95.4L216.3 67.8L216.7 25.7"/>
<path class="g" d="M275.2 184.1L275.7 192.8L276.1 197.2L276.5 199.6L277.9 203.5"/>
<path class="y" d="M238.0 30.3L238.4 44.4L238.9 74.3L239.3 14.1L239.7 42.1L240.2 7.5"/>
<path class="b" d="M272.0 115.2L272.5 144.2L272.9 167.1L273.4 181.9L273.8 192.9L274.2 196.6M256.4 29.0L256.8 19.0L257.3 65.3L257.7 22.8L258.1 41.8"/>
<path class="r" d="M253.1 27.1L253.6 19.4L254.0 28.0L254.4 22.2L254.9 20.5L255.3 50.2"/>
<path class="c" d="M242.8 69.8L243.3 41.0L243.7 69.3L244.1 72.4L244.6 23.8L245.0 41.1M248.1 27.3L248.5 47.5L249.0 70.6L249.4 55.7L249.8 25.1"/>
<path class="b" d="M220.3 34.3L220.8 55.0L221.2 46.0L221.6 53.0L222.1 35.1L222.5 27.2M51.2 26.3L51.6 42.3L52.0 64.8L52.5 54.4L52.9 53.3L53.4 42.6"/>
<path class="p" d="M256.2 72.4L256.7 22.3L257.1 41.8L257.5 48.3L258.0 63.6L258.4 20.6"/>
<path class="c" d="M265.9 33.9L266.3 60.5L266.8 35.6L267.2 25.0L267.6 61.9L268.1 13.2M59.4 202.2L60.7 202.3L61.2 203.3"/>
<path class="g" d="M276.3 201.1L276.8 204.7L278.5 204.1"/>
<path class="c" d="M264.6 49.5L265.0 67.3L265.5 20.6L265.9 18.4L266.3 54.6L266.8 11.6M253.0 37.6L253.4 72.4L253.9 23.4L254.3 64.7L254.7 62.1L255.2 55.5"/>
<path class="r" d="M232.8 20.6L233.3 43.2L233.7 73.8L234.1 23.7L234.6 20.4"/>
<path class="o" d="M276.7 204.0L277.1 202.5L278.4 203.2L278.9 202.0"/>
<path class="p" d="M254.1 52.7L254.5 50.4L254.9 10.6L255.4 25.8L255.8 60.3L256.2 62.6"/>
<path class="c" d="M252.7 16.8L253.1 61.2L253.6 62.5L254.0 26.9L254.4 35.4L254.9 23.0"/>
<path class="r" d="M211.9 204.1L212.3 203.7L212.8 201.9L214.1 204.9M277.1 204.9L278.0 204.4L278.4 202.2"/>
<path class="c" d="M53.0 56.6L53.5 55.8L53.9 79.0L54.3 25.0L54.8 57.3"/>
<path class="r" d="M52.5 52.3L53.0 48.3L53.4 36.2L53.8 59.8L54.3 20.3L54.7 25.1"/>
<path class="b" d="M251.0 31.4L251.4 24.1L251.9 57.6L252.3 32.8L252.7 55.6L253.2 10.4"/>
<path class="c" d="M260.3 60.9L260.7 16.8L261.1 64.5L261.6 38.4L262.0 40.2L262.4 51.9M263.8 25.4L264.3 19.2L264.7 50.0L265.1 28.8L265.6 35.9L266.0 21.9"/>
<path class="o" d="M247.1 52.9L247.5 24.4L248.0 44.2L248.4 62.7L248.8 32.4L249.3 36.6"/>
<path class="g" d="M53.0 41.0L53.5 63.5L53.9 77.1L54.3 50.2L54.8 71.4L55.2 114.2"/>
<path class="c" d="M278.2 206.6L278.6 201.5"/>
<path class="y" d="M49.1 68.4L49.5 68.9L50.0 9.3L50.4 46.3L50.8 16.4L51.3 61.0"/>
<path class="b" d="M243.2 30.9L243.6 53.6L244.0 24.5L244.5 72.9L244.9 13.5M226.1 13.9L226.6 17.9L227.0 68.6L227.5 65.9L227.9 22.6L228.3 10.2M220.1 61.8L220.5 72.3L220.9 78.8L221.4 43.6L221.8 36.1L222.2 69.4"/>
<path class="y" d="M224.2 67.8L224.6 57.5L225.1 53.8L225.5 60.9L225.9 74.6"/>
<path class="c" d="M245.2 48.8L245.6 10.2L246.0 42.3L246.5 46.7L246.9 35.8L247.3 53.1"/>
<path class="p" d="M261.9 19.5L262.3 27.1L262.8 15.1L263.2 12.1L263.6 14.7L264.1 17.5"/>
<path class="r" d="M246.8 30.6L247.3 55.3L247.7 62.3L248.2 56.5L248.6 44.5L249.0 23.1"/>
<path class="b" d="M230.4 12.3L230.8 34.1L231.2 9.7L231.7 13.3L232.1 10.4M237.1 50.8L237.5 40.0L238.0 59.0L238.4 34.6L238.8 54.6M265.6 52.9L266.0 65.7L266.5 58.7L266.9 12.2L267.3 47.2L267.8 10.8"/>
<path class="c" d="M219.9 29.6L220.3 53.4L220.8 60.0L221.2 27.9L221.6 24.5"/>
<path class="r" d="M249.7 26.4L250.1 37.2L250.6 26.7L251.0 46.7L251.4 61.3"/>
<path class="c" d="M241.3 33.0L241.7 31.7L242.1 38.7L242.6 45.8L243.0 42.5L243.4 20.0"/>
<path class="o" d="M223.2 76.4L223.6 71.4L224.1 67.2L224.5 15.1L224.9 12.8L225.4 43.5"/>
<path class="c" d="M54.3 106.5L54.8 101.1L55.2 136.1L55.6 164.9L56.1 179.9L56.5 190.1"/>
<path class="y" d="M44.1 60.1L44.5 54.6"/>
<path class="c" d="M271.6 63.8L272.0 64.4L272.4 52.4L272.9 59.5L273.3 96.7L273.7 111.1"/>
<path class="p" d="M44.0 68.8L44.5 73.9L44.9 18.4L45.3 13.2L45.8 67.2M254.0 68.2L254.4 52.7L254.9 19.1L255.3 14.5L255.7 53.0"/>
<path class="b" d="M277.1 205.1L278.8 202.3"/>
<path class="c" d="M211.7 203.6L213.5 203.1"/>
<path class="o" d="M246.7 24.0L247.2 34.0L247.6 12.5L248.0 59.6L248.5 15.6L248.9 20.8"/>
<path class="p" d="M266.2 44.5L266.7 37.6L267.1 68.4L267.5 38.0L268.0 52.5L268.4 40.8"/>
<path class="y" d="M52.2 52.9L52.6 42.0L53.0 64.4L53.5 99.3L53.9 98.2L54.3 142.0M257.7 17.5L258.1 51.0L258.6 36.3L259.0 32.2L259.4 61.4L259.9 30.7"/>
<path class="c" d="M57.6 202.9L58.4 202.6L58.9 204.1L60.2 202.0"/>
<path class="p" d="M53.1 55.5L53.5 11.1L54.0 37.6L54.4 85.8L54.8 33.4"/>
<path class="o" d="M239.3 35.0L239.7 44.2L240.2 51.5L240.6 47.6L241.0 24.5"/>
<path class="b" d="M234.7 64.0L235.2 42.9L235.6 68.1L236.0 24.4L236.5 43.8L236.9 49.3"/>
<path class="g" d="M267.8 19.1L268.2 38.3L268.7 33.0L269.1 41.6L269.6 61.8L270.0 14.8"/>
<path class="r" d="M44.1 46.7L44.5 45.1L45.0 52.5L45.4 26.6L45.8 36.0"/>
<path class="o" d="M235.4 30.5L235.8 20.4L236.3 33.9L236.7 31.3L237.1 37.8"/>
<path class="c" d="M254.6 31.8L255.0 20.2L255.5 47.9L255.9 40.9L256.3 29.3L256.8 32.5"/>
<path class="y" d="M261.6 39.3L262.0 40.2L262.5 43.3L262.9 17.4L263.3 69.4L263.8 31.7"/>
<path class="g" d="M264.3 48.5L264.8 33.9L265.2 25.3L265.6 68.2L266.1 40.1"/>
<path class="c" d="M263.9 65.2L264.3 65.3L264.7 35.2L265.2 29.0L265.6 52.4"/>
<path class="p" d="M57.0 200.6L57.4 200.4L57.9 202.5L58.3 203.9L58.7 202.3L60.9 201.8"/>
<path class="c" d="M223.5 40.7L223.9 48.2L224.3 47.0L224.8 27.5L225.2 23.1"/>
<path class="r" d="M273.1 148.2L273.5 158.0L274.0 180.7L274.4 191.5L274.8 197.8L275.3 201.8M239.0 67.6L239.4 63.8L239.8 29.4L240.3 28.8L240.7 70.9L241.1 42.4"/>
<path class="b" d="M247.1 17.7L247.5 56.1L247.9 7.6L248.4 20.4L248.8 43.6L249.2 39.9"/>
<path class="o" d="M275.3 202.1L275.8 202.6L276.6 201.7L277.5 204.9"/>
<path class="y" d="M255.9 46.4L256.4 41.4L256.8 20.2L257.2 55.0L257.7 17.5M260.9 45.7L261.4 9.5L261.8 59.1L262.2 54.6L262.7 58.8L263.1 25.6"/>
<path class="b" d="M211.7 202.4L212.5 204.8"/>
<path class="y" d="M50.6 59.6L51.1 50.3L51.5 31.6L51.9 34.2L52.4 19.2L52.8 26.0"/>
<path class="p" d="M47.0 32.2L47.4 78.4L47.9 68.8L48.3 58.0L48.7 62.5L49.2 74.3M215.7 39.2L216.2 64.5L216.6 61.2L217.0 29.4L217.5 36.5L217.9 14.3"/>
<path class="b" d="M214.4 199.1L214.9 175.6L215.3 106.1L215.7 48.5L216.2 25.4"/>
<path class="y" d="M235.5 14.0L236.0 64.3L236.4 25.5L236.8 42.4L237.3 76.6L237.7 12.8M46.7 34.8L47.1 55.2L47.6 28.7L48.0 20.7L48.4 20.8L48.9 51.6"/>
<path class="c" d="M258.8 35.1L259.2 43.8L259.6 34.0L260.1 18.3L260.5 14.2L260.9 34.2"/>
<path class="p" d="M275.9 205.0L276.8 203.5"/>
<path class="y" d="M248.1 68.9L248.5 13.9L248.9 27.1L249.4 51.8L249.8 29.6L250.2 56.8"/>
<path class="r" d="M252.9 45.6L253.3 55.1L253.7 71.5L254.2 54.2L254.6 22.8L255.0 43.5"/>
<path class="c" d="M229.1 7.4L229.5 72.5L230.0 66.4L230.4 38.3L230.8 20.1L231.3 36.6"/>
<path class="p" d="M221.2 62.3L221.6 64.8L222.1 75.8L222.5 50.5L222.9 63.9L223.4 58.9"/>
<path class="g" d="M278.8 202.3L279.2 204.5"/>
<path class="c" d="M246.4 25.8L246.8 14.5L247.2 39.5L247.7 13.7L248.1 40.5L248.5 52.8"/>
<path class="y" d="M273.1 111.4L273.5 146.1L274.0 170.9L274.4 181.5L274.8 191.8L275.3 198.8"/>
<path class="c" d="M239.1 52.1L239.5 56.6L240.0 70.4L240.4 20.2L240.8 51.3L241.3 70.4"/>
<path class="b" d="M262.1 42.0L262.5 66.5L262.9 57.2L263.4 37.2L263.8 12.9L264.2 24.8"/>
<path class="y" d="M217.9 67.8L218.4 46.6L218.8 39.9L219.2 28.2L219.7 30.9"/>
<path class="b" d="M214.4 201.9L214.8 187.3L215.2 129.8L215.7 66.1"/>
<path class="r" d="M60.1 202.4L61.0 204.2"/>
<path class="y" d="M218.0 43.6L218.4 52.7L218.8 62.9L219.3 53.9L219.7 18.8L220.1 12.4"/>
<path class="o" d="M56.1 149.8L56.6 179.0L57.0 191.0L57.5 195.5L57.9 199.9L59.2 201.4"/>
<path class="b" d="M216.2 25.4L216.6 56.4L217.0 80.9L217.5 39.2L217.9 12.4L218.3 28.0"/>
<path class="g" d="M256.6 8.1L257.1 70.6L257.5 12.9L257.9 66.9L258.4 20.3L258.8 38.7"/>
<path class="b" d="M234.5 15.2L234.9 35.2L235.4 52.4L235.8 66.6L236.2 33.5L236.7 38.5M44.2 45.6L44.7 76.2L45.1 41.3L45.5 41.9"/>
<path class="c" d="M53.3 39.2L53.8 79.1L54.2 101.6L54.6 139.9L55.1 153.3"/>
<path class="g" d="M232.6 47.2L233.1 51.6L233.5 64.2L233.9 35.4L234.4 56.3L234.8 21.8"/>
<path class="b" d="M231.1 70.6L231.5 15.0L231.9 48.0L232.4 43.0L232.8 59.3"/>
<path class="g" d="M239.2 72.3L239.6 13.1L240.1 78.7L240.5 38.6L240.9 40.5"/>
<path class="c" d="M268.9 49.8L269.4 27.6L269.8 56.9L270.2 41.0L270.7 69.4"/>
<path class="g" d="M261.3 27.7L261.8 15.4L262.2 59.6L262.7 60.7L263.1 30.1"/>
<path class="c" d="M267.7 19.7L268.2 55.1L268.6 37.8L269.0 18.2L269.5 26.0L269.9 30.0"/>
<path class="g" d="M58.9 201.0L59.7 204.4L60.6 204.2L61.5 202.2"/>
<path class="b" d="M229.1 34.3L229.5 18.4L229.9 52.8L230.4 17.2L230.8 31.2"/>
<path class="r" d="M235.3 35.5L235.7 30.5L236.2 19.3L236.6 47.8L237.1 31.0"/>
<path class="g" d="M222.2 50.3L222.7 56.3L223.1 51.4L223.5 39.8L224.0 37.0"/>
<path class="p" d="M241.1 14.6L241.6 69.7L242.0 49.9L242.5 44.5L242.9 75.6"/>
<path class="b" d="M48.9 13.6L49.3 39.0L49.8 14.8L50.2 17.8L50.6 42.7L51.1 24.8"/>
<path class="o" d="M59.0 203.1L60.3 201.7M50.9 45.2L51.4 27.3L51.8 42.5L52.2 22.1L52.7 29.6"/>
<path class="b" d="M50.7 68.2L51.1 22.8L51.5 42.6L52.0 48.9L52.4 12.0L52.8 61.9"/>
<path class="p" d="M45.4 59.8L45.8 54.8L46.2 43.7L46.7 44.6L47.1 63.2L47.5 64.8"/>
<path class="g" d="M219.2 38.1L219.7 46.0L220.1 10.8L220.5 13.4L221.0 59.5"/>
<path class="b" d="M274.4 196.8L274.9 197.2L275.3 201.2L275.8 202.9L276.2 204.1L277.1 205.2"/>
<path class="g" d="M266.6 44.7L267.0 62.0L267.5 31.1L267.9 59.4L268.3 45.2L268.8 55.8"/>
<path class="y" d="M270.2 30.0L270.7 26.9L271.1 55.9L271.5 37.7L272.0 33.0M215.5 66.1L215.9 66.8L216.4 41.9L216.8 32.3L217.2 53.2L217.7 18.4"/>
<path class="p" d="M217.3 30.9L217.7 82.1L218.2 39.1L218.6 35.9L219.0 17.4L219.5 36.6"/>
<path class="c" d="M226.2 33.0L226.6 11.4L227.1 21.7L227.5 20.8L228.0 26.0L228.4 30.5"/>
<path class="y" d="M59.3 204.3L59.7 200.3L60.2 202.1"/>
<path class="g" d="M224.0 21.3L224.4 81.4L224.8 50.7L225.3 33.5L225.7 17.6"/>
<path class="b" d="M230.2 43.3L230.6 78.3L231.0 77.9L231.5 55.7L231.9 15.4L232.3 54.4"/>
<path class="c" d="M44.8 36.8L45.2 5.8L45.6 59.1L46.1 59.1L46.5 35.9L47.0 24.2"/>
<path class="p" d="M235.7 46.1L236.2 58.1L236.6 71.5L237.0 31.1L237.5 33.1L237.9 62.9"/>
<path class="c" d="M56.9 178.6L57.4 191.3L57.8 196.2L58.2 198.5L58.7 200.2L59.5 204.2"/>
<path class="g" d="M255.3 59.0L255.7 74.2L256.1 28.4L256.6 13.6L257.0 69.3"/>
<path class="y" d="M211.9 202.3L212.4 202.6L212.8 204.9L214.1 202.7"/>
<path class="g" d="M263.9 26.5L264.3 16.1L264.8 29.1L265.2 20.4L265.6 51.4"/>
<path class="p" d="M57.0 154.2L57.4 172.3L57.9 189.1L58.3 196.5L58.7 198.5L59.2 204.1"/>
<path class="b" d="M260.3 62.2L260.8 44.1L261.2 44.4L261.6 49.3L262.1 42.0"/>
<path class="y" d="M217.1 65.4L217.5 18.3L218.0 81.8L218.4 42.7L218.8 64.7L219.3 30.1"/>
<path class="r" d="M240.5 36.2L241.0 39.6L241.4 71.3L241.8 15.7L242.3 31.1L242.7 58.2"/>
<path class="b" d="M259.9 44.1L260.3 58.0L260.7 14.5L261.2 19.4L261.6 63.3L262.0 47.2"/>
<path class="c" d="M53.9 37.2L54.3 61.5L54.7 80.1L55.2 97.0L55.6 120.9M220.4 51.7L220.8 48.8L221.3 76.8L221.7 52.9L222.1 16.5L222.6 35.7"/>
<path class="b" d="M262.8 25.4L263.2 6.1L263.6 59.5L264.1 42.6L264.5 56.0L264.9 55.4"/>
<path class="o" d="M255.4 14.7L255.8 38.6L256.2 73.3L256.7 70.2L257.1 23.1"/>
<path class="p" d="M44.1 67.0L44.5 70.1L44.9 45.4L45.4 59.8"/>
<path class="b" d="M45.0 49.7L45.4 68.7L45.9 34.8L46.3 40.0L46.7 58.6"/>
<path class="g" d="M276.6 201.9L277.0 202.7L277.9 204.3L278.8 202.3"/>
<path class="o" d="M213.1 201.8L214.4 204.6L214.8 191.4"/>
<path class="b" d="M240.1 54.2L240.6 32.7L241.0 73.5L241.5 65.9L241.9 65.2L242.3 55.2"/>
<path class="c" d="M51.9 18.6L52.3 11.0L52.7 57.4L53.2 27.2L53.6 72.2L54.0 61.9"/>
<path class="p" d="M54.3 107.0L54.8 115.3L55.2 156.6L55.6 178.3L56.1 184.4L56.5 200.0"/>
<path class="r" d="M247.0 33.1L247.5 56.5L247.9 59.4L248.3 69.4L248.8 11.6L249.2 32.1"/>
<path class="o" d="M224.0 42.6L224.5 29.6L224.9 65.2L225.3 12.5L225.8 19.5L226.2 75.8"/>
<path class="y" d="M259.2 52.0L259.6 21.5L260.1 35.7L260.5 74.2L260.9 45.7"/>
<path class="o" d="M268.9 28.9L269.3 27.8L269.7 53.7L270.2 45.5L270.6 18.5"/>
<path class="y" d="M46.3 58.4L46.7 61.8L47.2 15.4L47.6 50.3L48.1 64.0"/>
<path class="r" d="M272.9 159.6L273.3 180.9L273.8 191.0L274.2 197.7L274.6 200.7L275.1 201.3"/>
<path class="o" d="M269.3 52.6L269.7 49.8L270.1 21.6L270.6 32.8L271.0 34.1"/>
<path class="p" d="M49.3 60.6L49.7 26.1L50.1 70.7L50.6 61.4L51.0 48.6L51.4 26.7"/>
<path class="c" d="M259.5 20.3L259.9 47.3L260.4 50.7L260.8 17.0L261.2 27.8"/>
<path class="o" d="M227.6 51.4L228.0 22.5L228.4 49.9L228.9 21.4L229.3 21.5L229.7 30.5"/>
<path class="p" d="M55.3 149.7L55.7 168.7L56.1 185.5L56.6 195.7L57.0 200.6M257.1 42.1L257.6 17.0L258.0 52.0L258.4 52.0L258.9 35.5"/>
<path class="b" d="M236.0 49.1L236.4 42.7L236.9 52.8L237.3 53.9L237.7 64.1"/>
<path class="y" d="M245.8 37.5L246.2 35.6L246.6 53.0L247.1 39.5L247.5 12.5L247.9 50.4"/>
<path class="r" d="M219.0 8.8L219.4 77.4L219.9 65.5L220.3 65.9L220.7 80.7M272.8 146.4L273.2 169.6L273.7 183.4L274.1 193.2L274.5 198.6"/>
<path class="b" d="M274.5 185.1L274.9 194.1L275.3 198.4L275.8 201.9L277.5 202.0"/>
<path class="p" d="M237.2 14.0L237.6 52.1L238.0 26.3L238.5 39.4L238.9 70.1"/>
<path class="b" d="M244.9 40.9L245.3 48.4L245.8 42.3L246.2 9.3L246.7 47.0L247.1 52.2"/>
<path class="r" d="M218.8 40.6L219.2 14.7L219.7 21.0L220.1 55.5L220.5 44.9"/>
<path class="o" d="M45.8 25.7L46.2 41.6L46.6 65.0L47.1 46.3L47.5 55.2L47.9 49.4"/>
<path class="r" d="M226.8 17.1L227.2 54.2L227.6 16.0L228.1 32.3L228.5 20.2"/>
<path class="c" d="M272.5 43.5L273.0 53.2L273.4 87.5L273.8 98.2L274.3 149.2L274.7 162.4"/>
<path class="g" d="M224.2 29.6L224.6 67.9L225.1 63.5L225.5 44.3L225.9 10.1"/>
<path class="b" d="M272.0 34.4L272.5 56.7L272.9 61.3L273.3 95.9L273.8 131.0"/>
<path class="c" d="M230.4 40.5L230.8 37.9L231.3 65.6L231.7 50.8L232.1 50.8L232.6 71.6"/>
<path class="g" d="M60.9 203.4L61.3 203.0"/>
<path class="r" d="M266.8 25.4L267.3 56.8L267.7 63.5L268.1 48.9L268.6 17.3L269.0 49.1"/>
<path class="p" d="M266.2 45.9L266.7 53.4L267.1 23.8L267.5 36.4L268.0 27.2M44.4 15.3L44.8 64.9M261.8 55.4L262.2 40.4L262.6 46.3L263.1 38.6L263.5 46.9L264.0 30.0"/>
<path class="b" d="M250.3 45.4L250.7 58.4L251.2 32.3L251.6 11.4L252.0 33.5L252.5 42.2"/>
<path class="p" d="M241.2 24.2L241.6 62.7L242.1 29.8L242.5 76.4L242.9 29.4L243.4 43.9"/>
<path class="b" d="M219.3 70.2L219.7 54.9L220.2 52.1L220.6 67.5L221.0 30.0"/>
<path class="c" d="M267.0 28.9L267.5 30.9L267.9 31.9L268.3 69.0L268.8 41.1M222.0 46.2L222.5 20.4L222.9 65.8L223.3 25.6L223.8 74.6M224.6 44.9L225.1 75.5L225.5 21.0L225.9 29.1L226.4 63.4L226.8 64.2"/>
<path class="y" d="M50.0 28.0L50.4 35.3L50.9 59.9L51.3 70.9L51.7 37.4L52.2 52.9"/>
<path class="b" d="M262.5 57.3L262.9 28.1L263.3 58.1L263.8 64.2L264.2 21.8"/>
<path class="y" d="M214.2 201.8L214.6 201.2L215.1 175.1L215.5 126.7L215.9 68.3M221.6 36.3L222.1 62.5L222.5 24.9L222.9 56.0L223.4 74.9L223.8 78.1"/>
<path class="c" d="M243.8 51.2L244.2 7.4L244.6 16.4L245.1 37.1L245.5 51.0M214.4 201.6L214.8 199.8L215.2 189.3L215.7 140.1"/>
<path class="r" d="M55.5 148.7L55.9 175.9L56.3 184.2L56.8 190.2L57.2 198.5L57.6 200.8"/>
<path class="y" d="M231.8 53.8L232.3 80.2L232.7 26.8L233.1 24.6L233.6 40.0L234.0 44.6"/>
<path class="p" d="M46.5 18.7L47.0 47.5L47.4 62.5L47.8 29.2L48.3 43.2M257.9 54.7L258.3 55.1L258.7 54.7L259.2 18.3L259.6 29.4"/>
<path class="o" d="M255.8 30.3L256.2 18.7L256.7 15.7L257.1 11.2L257.5 12.0"/>
<path class="b" d="M228.2 63.2L228.6 22.0L229.1 72.5L229.5 41.6L229.9 22.7L230.4 12.3"/>
<path class="c" d="M213.5 203.1L213.9 202.2L214.3 200.2L214.8 187.4"/>
<path class="b" d="M223.9 56.4L224.3 64.7L224.8 31.1L225.2 22.4L225.6 45.9"/>
<path class="c" d="M211.9 203.8L212.8 202.3"/>
<path class="r" d="M250.5 56.2L250.9 14.5L251.4 21.8L251.8 52.2L252.2 31.0L252.7 20.7"/>
<path class="p" d="M263.3 41.6L263.8 13.0L264.2 48.1L264.6 26.2L265.1 66.4L265.5 16.6"/>
<path class="o" d="M50.7 29.6L51.1 49.6L51.6 52.2L52.0 22.9L52.4 47.7L52.9 36.5"/>
<path class="c" d="M277.6 204.0L278.0 202.4L278.4 203.3L279.3 202.2M275.2 205.2L276.0 202.3L277.8 205.5M250.0 55.3L250.4 47.4L250.8 48.8L251.3 22.8L251.7 71.1"/>
<path class="g" d="M268.8 34.6L269.2 40.2L269.7 57.3L270.1 32.8L270.5 52.9"/>
<path class="r" d="M263.6 47.6L264.0 55.5L264.4 28.5L264.9 32.9L265.3 21.9"/>
<path class="o" d="M267.1 57.2L267.5 39.3L268.0 19.4L268.4 8.4L268.8 58.4L269.3 52.6"/>
<path class="c" d="M55.3 111.2L55.8 142.3L56.2 156.4L56.6 178.5L57.1 190.7"/>
<path class="b" d="M263.8 35.6L264.2 13.9L264.6 45.2L265.1 60.2L265.5 53.5L265.9 56.9"/>
<path class="r" d="M258.9 25.9L259.4 17.6L259.8 52.5L260.2 41.7L260.7 70.0L261.1 39.4"/>
<path class="g" d="M250.9 48.7L251.3 69.1L251.7 61.5L252.2 51.7L252.6 52.6M226.6 52.2L227.1 46.8L227.5 27.5L227.9 16.7L228.4 22.6L228.8 33.4"/>
<path class="b" d="M52.7 61.8L53.1 32.8L53.6 28.3L54.0 49.1L54.4 76.0L54.9 120.2M253.9 41.9L254.3 25.6L254.7 53.4L255.2 39.8L255.6 59.8L256.1 53.8M215.7 66.1L216.1 52.9L216.5 76.6L217.0 70.5L217.4 58.9L217.8 29.4"/>
<path class="c" d="M251.3 25.9L251.7 9.8L252.1 52.6L252.6 38.6L253.0 37.6"/>
<path class="y" d="M252.0 65.7L252.4 29.7L252.9 52.6L253.3 31.5L253.7 15.1L254.2 62.0"/>
<path class="o" d="M251.9 56.2L252.3 20.7L252.8 16.4L253.2 17.7L253.6 61.2"/>
<path class="c" d="M242.3 51.5L242.7 26.4L243.2 9.4L243.6 7.0L244.0 21.2L244.5 19.6"/>
<path class="y" d="M273.9 150.9L274.4 173.5L274.8 187.7L275.3 194.6L275.7 198.0"/>
<path class="c" d="M264.4 18.8L264.9 21.5L265.3 23.7L265.7 68.2L266.2 18.4"/>
<path class="p" d="M44.8 64.9L45.2 9.3L45.7 17.5L46.1 67.2L46.5 8.6"/>
<path class="y" d="M235.9 20.2L236.4 77.6L236.8 23.4L237.2 35.1L237.7 33.3L238.1 59.8"/>
<path class="c" d="M237.4 13.9L237.8 53.1L238.2 10.4L238.7 49.0L239.1 10.0"/>
<path class="b" d="M231.0 24.5L231.5 77.6L231.9 52.9L232.3 24.7L232.8 13.5L233.2 42.6"/>
<path class="p" d="M245.7 62.3L246.1 20.5L246.6 20.7L247.0 40.0L247.4 56.4L247.9 75.0"/>
<path class="r" d="M267.0 14.7L267.5 24.3L267.9 57.2L268.3 41.9L268.8 21.5L269.2 64.4M255.1 15.4L255.5 55.6L256.0 49.8L256.4 32.6L256.8 43.9M245.0 28.3L245.5 25.4L245.9 20.3L246.3 47.5L246.8 8.6"/>
<path class="o" d="M276.6 203.3L277.1 202.2L279.3 203.5"/>
<path class="c" d="M256.9 48.8L257.4 56.0L257.8 58.9L258.2 67.8L258.7 18.1L259.1 54.8"/>
<path class="p" d="M48.7 29.6L49.1 49.7L49.6 29.3L50.0 59.3L50.4 67.7"/>
<path class="y" d="M58.3 205.6L60.0 201.9"/>
<path class="c" d="M222.6 33.1L223.0 57.7L223.5 32.8L223.9 52.9L224.3 65.0M262.1 51.4L262.5 22.5L263.0 58.6L263.4 20.4L263.8 25.4"/>
<path class="y" d="M267.9 25.4L268.3 59.5L268.8 23.1L269.2 65.4L269.7 25.2L270.1 64.2"/>
<path class="p" d="M276.7 201.7L278.0 203.9L278.8 201.2"/>
<path class="y" d="M50.2 32.1L50.6 15.0L51.1 55.4L51.5 39.4L51.9 31.8L52.4 67.0"/>
<path class="c" d="M243.0 25.5L243.5 12.4L243.9 15.0L244.3 10.9L244.8 56.1L245.2 52.3"/>
<path class="b" d="M45.2 39.2L45.6 63.4L46.0 43.9L46.5 25.8L46.9 24.7"/>
<path class="y" d="M211.8 202.5L212.7 204.2L213.6 202.5L214.0 202.4"/>
<path class="o" d="M241.8 40.2L242.3 67.1L242.7 71.9L243.1 72.1L243.6 43.7L244.0 42.4"/>
<path class="b" d="M254.2 19.9L254.7 23.4L255.1 51.3L255.5 19.4L256.0 19.0M279.1 202.5L279.5 204.5"/>
<path class="c" d="M227.0 56.5L227.4 65.1L227.8 54.9L228.3 30.3L228.7 37.0L229.1 66.8"/>
<path class="p" d="M266.8 11.8L267.2 65.7L267.6 38.9L268.1 44.1L268.5 27.2L268.9 46.1"/>
<path class="b" d="M266.0 38.9L266.5 56.3L266.9 14.1L267.3 45.2L267.8 31.1"/>
<path class="y" d="M263.7 18.4L264.1 64.6L264.6 62.6L265.0 16.0L265.4 32.2"/>
<path class="g" d="M274.2 164.7L274.6 182.4L275.0 189.2L275.5 197.4L275.9 198.9L276.3 201.1"/>
<path class="p" d="M236.3 58.3L236.7 59.7L237.1 35.6L237.6 29.6L238.0 16.9L238.4 77.1"/>
<path class="o" d="M220.1 9.3L220.5 32.2L221.0 62.7L221.4 83.8L221.8 15.0"/>
<path class="b" d="M237.7 64.1L238.2 36.9L238.6 29.7L239.0 20.5L239.5 38.1L239.9 72.8"/>
<path class="r" d="M248.9 65.3L249.3 7.7L249.8 37.4L250.2 41.8L250.6 17.7"/>
<path class="b" d="M257.8 54.2L258.2 25.2L258.7 44.6L259.1 33.4L259.5 47.1L260.0 30.4"/>
<path class="c" d="M259.8 61.6L260.3 19.4L260.7 19.2L261.1 50.5L261.6 16.9"/>
<path class="b" d="M261.0 68.3L261.4 37.0L261.8 21.2L262.3 26.6L262.7 15.3L263.1 31.8M240.0 42.0L240.4 37.9L240.9 21.9L241.3 15.3L241.7 40.2"/>
<path class="g" d="M272.7 156.4L273.1 175.5L273.6 188.2L274.0 193.8L274.4 198.5L274.9 200.4"/>
<path class="y" d="M219.3 30.1L219.7 25.9L220.1 17.1L220.6 68.1L221.0 29.3"/>
<path class="r" d="M255.3 20.5L255.8 18.2L256.2 33.0L256.6 54.0L257.1 41.8L257.5 65.1"/>
<path class="g" d="M45.0 55.5L45.4 5.2L45.8 67.1L46.3 43.9L46.7 33.7L47.1 68.7"/>
<path class="o" d="M251.4 42.1L251.9 64.0L252.3 14.3L252.7 65.8L253.2 53.7"/>
<path class="p" d="M238.9 70.1L239.3 41.3L239.8 37.8L240.2 64.6L240.6 27.0L241.1 41.9"/>
<path class="r" d="M57.5 202.0L57.9 202.9L58.4 202.4L59.7 203.3"/>
<path class="b" d="M266.9 30.7L267.3 52.3L267.7 24.3L268.2 54.6L268.6 16.1L269.0 26.1"/>
<path class="o" d="M269.2 31.8L269.7 57.4L270.1 62.8L270.5 51.4L271.0 56.5L271.4 37.2"/>
<path class="g" d="M260.8 42.3L261.3 41.3L261.7 33.1L262.1 12.1L262.6 63.6"/>
<path class="y" d="M224.0 32.9L224.4 31.5L224.9 53.9L225.3 30.0L225.7 19.6"/>
<path class="o" d="M265.8 47.4L266.2 48.0L266.7 47.1L267.1 58.1L267.5 21.4"/>
<path class="y" d="M261.9 43.4L262.3 12.4L262.7 24.2L263.2 42.9L263.6 26.4L264.0 50.2"/>
<path class="p" d="M246.8 71.2L247.2 69.6L247.7 18.9L248.1 31.5L248.5 24.7L249.0 35.9"/>
<path class="b" d="M223.2 54.0L223.6 50.1L224.1 26.0L224.5 45.4L224.9 38.7"/>
<path class="y" d="M227.9 36.8L228.3 42.2L228.8 43.0L229.2 25.8L229.7 69.4M241.8 75.5L242.2 46.5L242.7 46.9L243.1 57.6L243.5 25.6L244.0 65.9M278.3 205.1L279.2 201.6"/>
<path class="g" d="M243.1 56.0L243.5 67.2L244.0 21.7L244.4 12.8L244.8 52.6L245.3 72.2"/>
<path class="o" d="M224.8 14.1L225.2 50.6L225.7 27.7L226.1 59.7L226.5 58.4L227.0 45.7"/>
<path class="r" d="M241.2 49.2L241.6 62.8L242.1 62.9L242.5 68.2L242.9 35.7"/>
<path class="c" d="M249.1 48.7L249.5 11.7L250.0 68.8L250.4 21.3L250.8 13.2L251.3 25.9"/>
<path class="b" d="M223.2 18.7L223.6 27.6L224.1 32.1L224.5 35.2L224.9 47.7"/>
<path class="y" d="M48.3 46.6L48.7 58.4L49.2 46.7L49.6 36.8L50.0 15.7L50.5 10.1"/>
<path class="b" d="M225.6 45.9L226.1 67.2L226.5 60.6L226.9 12.2L227.4 54.8L227.8 77.0M218.9 61.1L219.3 46.9L219.8 53.6L220.2 24.8L220.6 35.4L221.1 69.6"/>
<path class="y" d="M275.4 192.7L275.9 198.6L277.2 201.9L277.6 202.1"/>
<path class="b" d="M220.8 68.9L221.3 52.9L221.7 43.9L222.1 53.3L222.6 74.6L223.0 29.0M234.2 68.5L234.7 26.6L235.1 71.2L235.5 42.2L236.0 56.4L236.4 35.5"/>
<path class="g" d="M273.9 177.6L274.3 190.7L274.8 195.5L275.2 199.6L275.6 200.3L276.1 201.3"/>
<path class="c" d="M240.4 57.4L240.8 72.1L241.3 75.2L241.7 9.7L242.1 15.8L242.6 64.5"/>
<path class="b" d="M46.9 24.7L47.3 9.6L47.8 70.9L48.2 17.4L48.7 34.4L49.1 32.0"/>
<path class="c" d="M246.9 71.5L247.4 54.4L247.8 11.7L248.2 53.1L248.7 23.5L249.1 48.7"/>
<path class="b" d="M249.0 51.7L249.5 58.3L249.9 41.2L250.4 26.0L250.8 64.5"/>
<path class="c" d="M271.0 61.9L271.5 82.1L271.9 82.5L272.3 120.4L272.8 130.6M51.5 11.7L52.0 24.7L52.4 72.5L52.8 26.9L53.3 28.0L53.7 35.2"/>
<path class="o" d="M217.9 78.5L218.4 51.3L218.8 34.9L219.2 8.0L219.7 59.0L220.1 9.3"/>
<path class="y" d="M275.7 198.0L276.1 199.9L277.0 203.5L279.2 203.4"/>
<path class="r" d="M221.2 33.9L221.7 76.1L222.1 78.3L222.5 25.4L223.0 50.1"/>
<path class="g" d="M217.9 27.2L218.3 9.1L218.7 23.9L219.2 25.8L219.6 44.6L220.0 55.2M214.5 197.7L214.9 180.5L215.4 138.9L215.8 47.1L216.2 29.3L216.7 56.0"/>
<path class="y" d="M54.1 84.2L54.5 64.9L55.0 100.7L55.4 138.3L55.8 161.7L56.3 177.9"/>
<path class="c" d="M278.8 202.0L279.6 203.8M222.5 70.3L222.9 31.9L223.4 74.6L223.8 46.0L224.2 23.8L224.7 62.8"/>
<path class="g" d="M57.9 194.8L58.3 201.3L58.8 201.3L59.2 202.9L60.1 202.7"/>
<path class="o" d="M260.8 61.6L261.3 23.3L261.7 48.6L262.1 37.4L262.6 46.6L263.0 40.4"/>
<path class="r" d="M236.8 28.7L237.2 37.3L237.7 68.4L238.1 57.8L238.5 21.9L239.0 67.6M264.5 52.0L265.0 29.9L265.4 50.4L265.8 63.6L266.3 14.8L266.7 51.0"/>
<path class="b" d="M211.9 205.1L212.3 204.8L213.2 202.3"/>
<path class="c" d="M49.3 60.6L49.7 5.2L50.1 51.8L50.6 65.7L51.0 53.7L51.4 35.0M230.4 32.5L230.8 25.7L231.3 67.4L231.7 53.1L232.1 28.8L232.6 32.9M244.3 22.7L244.7 22.6L245.2 48.7L245.6 36.3L246.0 9.8L246.5 35.2M260.6 66.8L261.1 60.0L261.5 31.0L261.9 35.1L262.4 16.1L262.8 54.9"/>
<path class="r" d="M253.6 69.8L254.0 70.3L254.5 9.8L254.9 33.1L255.3 20.5"/>
<path class="y" d="M50.2 59.8L50.6 35.1L51.1 43.4L51.5 31.8L51.9 42.2"/>
<path class="b" d="M52.5 15.9L52.9 19.5L53.4 80.6L53.8 76.6L54.2 70.1L54.7 81.9"/>
<path class="g" d="M240.5 58.7L241.0 60.1L241.4 17.9L241.8 23.1L242.3 41.8L242.7 28.0"/>
<path class="c" d="M260.1 34.1L260.5 33.1L261.0 22.6L261.4 40.1L261.8 56.9L262.3 38.9"/>
<path class="b" d="M217.8 58.6L218.3 58.0L218.7 24.2L219.1 43.9L219.6 52.5"/>
<path class="o" d="M56.8 168.4L57.2 180.6L57.7 195.4L58.1 198.1L58.5 200.3"/>
<path class="b" d="M214.1 202.9L214.5 197.1L215.0 172.5L215.4 103.8L215.8 73.4L216.3 28.8"/>
<path class="p" d="M56.5 200.0L57.0 200.4L57.4 203.0L57.8 202.9L58.3 200.9"/>
<path class="c" d="M275.9 200.1L276.3 202.5L277.2 200.6L278.1 201.7"/>
<path class="p" d="M234.5 56.0L235.0 35.3L235.4 13.2L235.8 49.7L236.3 58.3"/>
<path class="y" d="M264.9 10.5L265.3 25.5L265.7 23.6L266.2 58.0L266.6 13.8L267.0 67.3"/>
<path class="c" d="M244.5 19.6L244.9 58.3L245.3 52.5L245.8 48.8L246.2 27.5"/>
<path class="g" d="M271.7 40.3L272.2 73.6L272.6 105.3L273.0 140.6L273.5 163.6L273.9 177.6"/>
<path class="c" d="M44.1 24.1L44.5 35.2L45.0 44.7L45.4 16.4"/>
<path class="g" d="M272.6 54.1L273.0 82.6L273.4 125.6L273.9 143.5L274.3 176.2L274.7 185.3"/>
<path class="y" d="M251.8 62.4L252.3 22.1L252.7 54.8L253.1 55.9L253.6 47.9L254.0 24.2"/>
<path class="b" d="M55.5 163.3L55.9 179.1L56.4 188.6L56.8 194.7L57.2 197.5L57.7 199.4M228.2 49.9L228.6 38.2L229.0 30.3L229.5 74.8L229.9 55.4L230.3 64.6"/>
<path class="r" d="M45.5 33.1L45.9 66.7L46.3 41.1L46.8 49.5L47.2 46.3L47.6 23.4M215.7 107.3L216.2 34.3L216.6 46.5L217.1 49.6L217.5 62.6L217.9 23.4"/>
<path class="g" d="M264.8 52.7L265.2 27.7L265.6 52.5L266.1 65.3L266.5 63.0L266.9 13.5"/>
<path class="r" d="M241.8 10.2L242.2 9.9L242.7 18.7L243.1 62.8L243.5 19.2L244.0 29.5"/>
<path class="o" d="M233.7 36.0L234.1 22.1L234.5 17.7L235.0 50.9L235.4 51.1L235.8 50.3"/>
<path class="p" d="M214.0 201.7L214.4 195.2L214.9 169.4L215.3 94.5L215.7 39.2"/>
<path class="b" d="M217.8 36.1L218.3 23.4L218.7 43.2L219.1 41.7L219.6 12.2L220.0 62.5"/>
<path class="p" d="M259.4 24.8L259.9 45.0L260.3 12.2L260.7 13.8L261.2 38.3"/>
<path class="r" d="M211.7 202.5L212.5 205.6L213.0 202.7"/>
<path class="g" d="M256.5 43.7L256.9 30.4L257.4 52.0L257.8 43.3L258.2 57.6L258.7 57.3"/>
<path class="b" d="M49.1 32.0L49.5 32.2L50.0 26.4L50.4 45.5L50.8 53.4"/>
<path class="o" d="M227.0 45.7L227.4 14.0L227.8 48.4L228.3 13.7L228.7 30.5"/>
<path class="c" d="M55.8 138.5L56.2 165.4L56.7 187.3L57.1 194.4L57.5 198.0L58.0 200.8M237.8 62.1L238.2 20.8L238.6 48.9L239.1 8.9L239.5 42.5L239.9 16.1M57.0 172.8L57.4 190.0L57.9 193.8L58.3 199.1L58.7 201.0L59.6 202.2M59.1 200.7L59.5 203.5L60.4 205.1"/>
<path class="p" d="M56.5 188.9L56.9 196.7L57.4 200.1L57.8 201.7L59.1 202.1"/>
<path class="b" d="M248.4 57.3L248.8 43.7L249.3 52.5L249.7 33.5L250.1 9.2L250.6 35.7"/>
<path class="y" d="M48.9 51.6L49.3 48.2L49.8 38.2L50.2 66.2L50.6 59.6"/>
<path class="c" d="M239.1 10.0L239.5 21.7L240.0 55.1L240.4 41.0L240.8 72.0L241.3 33.0"/>
<path class="y" d="M212.0 203.2L212.9 204.2L214.2 197.7"/>
<path class="b" d="M244.7 36.4L245.1 32.0L245.6 69.0L246.0 26.3L246.4 49.2L246.9 66.5"/>
<path class="g" d="M240.0 36.7L240.5 8.9L240.9 11.0L241.3 77.3L241.8 35.3L242.2 72.3"/>
<path class="y" d="M56.3 191.5L56.7 195.9L57.2 198.9L57.6 201.2L58.5 201.6"/>
<path class="r" d="M254.0 33.8L254.4 16.5L254.8 24.6L255.3 34.8L255.7 32.7"/>
<path class="g" d="M262.0 59.2L262.4 16.3L262.9 66.3L263.3 46.4L263.7 24.3L264.2 29.9"/>
<path class="r" d="M244.4 52.2L244.9 52.3L245.3 25.4L245.7 56.2L246.2 66.4L246.6 24.0"/>
<path class="o" d="M257.1 16.2L257.5 62.3L257.9 16.8L258.4 69.6L258.8 56.0L259.2 19.7"/>
<path class="g" d="M260.3 51.3L260.7 31.0L261.1 20.3L261.6 18.4L262.0 59.2"/>
<path class="y" d="M52.8 26.0L53.2 69.3L53.7 31.8L54.1 88.9L54.5 90.0"/>
<path class="p" d="M229.7 46.7L230.1 13.4L230.5 66.9L231.0 62.6L231.4 59.0L231.8 11.3"/>
<path class="y" d="M245.7 23.5L246.2 25.9L246.6 52.4L247.0 54.3L247.5 11.3L247.9 37.2"/>
<path class="c" d="M215.2 85.6L215.7 44.1L216.1 20.4L216.5 29.9L217.0 63.9M273.0 167.3L273.4 185.1L273.9 192.7L274.3 200.1L274.7 200.6L275.2 205.2"/>
<path class="r" d="M255.7 32.7L256.1 44.4L256.6 28.0L257.0 16.5L257.4 35.4L257.9 19.9"/>
<path class="y" d="M52.0 21.2L52.4 15.7L52.8 61.1L53.3 61.7L53.7 76.1L54.1 85.7"/>
<path class="o" d="M44.1 63.6L44.5 14.7M265.3 65.8L265.8 13.2L266.2 53.0L266.7 44.2L267.1 57.2"/>
<path class="c" d="M264.7 36.0L265.2 22.9L265.6 56.4L266.0 32.6L266.5 16.6"/>
<path class="g" d="M227.0 44.1L227.5 38.7L227.9 72.1L228.3 19.6L228.8 58.1L229.2 60.0"/>
<path class="c" d="M211.9 203.3L213.2 201.0"/>
<path class="b" d="M51.1 24.8L51.5 54.5L51.9 59.6L52.4 41.0L52.8 12.4"/>
<path class="r" d="M262.9 49.7L263.3 54.2L263.7 11.6L264.2 58.0L264.6 53.9L265.0 20.9"/>
<path class="c" d="M47.3 21.9L47.7 56.1L48.1 41.7L48.6 11.2L49.0 21.8"/>
<path class="g" d="M235.3 47.5L235.7 48.1L236.2 66.7L236.6 75.8L237.0 46.9"/>
<path class="b" d="M230.6 61.4L231.0 34.2L231.5 68.7L231.9 79.3L232.3 73.6"/>
<path class="p" d="M215.8 45.0L216.2 9.6L216.6 52.1L217.1 22.5L217.5 63.9L217.9 67.3"/>
<path class="c" d="M52.8 18.7L53.2 41.6L53.6 43.2L54.1 60.8L54.5 88.5"/>
<path class="p" d="M270.1 37.9L270.6 52.2L271.0 39.6L271.4 49.6L271.9 41.7L272.3 71.7"/>
<path class="b" d="M276.0 199.1L276.5 201.7L277.3 204.5L278.6 206.0"/>
<path class="c" d="M237.7 49.2L238.1 36.2L238.6 40.8L239.0 20.4L239.4 40.7L239.9 63.1"/>
<path class="o" d="M242.8 15.6L243.2 52.4L243.7 40.6L244.1 44.6L244.5 58.2M60.1 202.1L60.5 205.3"/>
<path class="r" d="M235.7 68.2L236.2 66.9L236.6 61.6L237.0 73.2L237.5 38.4L237.9 65.7"/>
<path class="g" d="M225.7 17.6L226.1 36.0L226.6 10.7L227.0 41.2L227.4 39.9L227.9 12.5"/>
<path class="o" d="M274.0 153.8L274.4 179.1L274.8 189.5L275.3 196.1L275.7 198.1L276.1 201.4"/>
<path class="y" d="M52.2 40.8L52.7 18.1L53.1 48.1L53.5 49.3L54.0 50.8L54.4 56.0"/>
<path class="g" d="M260.5 69.5L261.0 7.2L261.4 49.8L261.8 48.0L262.3 38.5L262.7 35.6"/>
<path class="r" d="M214.0 202.4L214.4 198.2L214.9 188.9L215.3 150.0L215.7 107.3"/>
<path class="g" d="M52.2 43.4L52.7 66.7L53.1 51.2L53.5 34.5L54.0 83.8"/>
</g>
<path d="M44.2 43.9L44.4 50.0L44.6 39.7L44.8 42.1L45.3 45.9L45.5 38.8L45.7 49.0L45.9 47.8L46.2 46.1L46.4 40.7L46.6 39.0L46.8 28.9L47.2 41.7L47.5 43.0L47.7 46.8L47.9 31.3L48.1 34.3L48.3 44.5L48.5 45.0L48.8 36.0L49.2 51.7L49.4 38.9L49.6 35.4L49.8 47.6L50.3 35.5L50.5 38.8L50.7 42.1L50.9 44.2L51.1 45.5L51.4 35.9L51.6 39.9L51.8 40.2L52.0 46.2L52.2 38.5L52.7 47.3L52.9 48.0L53.1 53.8L53.3 50.2L53.8 47.1L54.0 51.9L54.2 43.9L54.4 61.6L54.6 76.6L54.8 86.2L55.1 95.3L55.5 118.1L55.7 133.8L55.9 150.4L56.1 158.6L56.4 166.3L56.6 178.2L56.8 185.6L57.0 188.0L57.4 199.3L57.7 196.7L57.9 200.1L58.1 199.1L58.7 203.8L59.2 199.2L59.6 202.8L60.0 204.3L60.7 199.7L61.1 200.6L61.4 204.4L62.0 199.1L62.9 205.6L63.3 199.2L64.0 202.7L64.2 202.2L64.4 199.0L65.3 199.4L65.5 204.1L66.3 203.1L67.0 198.8L67.2 200.6L67.6 203.8L68.7 198.7L69.0 202.1L69.6 201.5L69.8 204.1L70.0 201.4L70.3 198.2L71.3 204.5L71.8 200.0L72.2 201.0L72.9 203.1L73.3 201.3L73.7 204.7L74.4 203.0L74.6 201.1L75.5 201.7L75.9 203.1L76.3 203.9L76.8 199.5L77.2 203.4L77.6 199.9L78.1 206.5L78.7 201.0L79.2 203.9L79.6 202.0L80.5 201.0L80.7 203.3L81.1 203.7L82.0 198.3L82.2 204.1L82.6 200.0L83.1 199.4L83.5 204.3L84.6 203.7L84.8 198.5L85.0 195.1L85.5 203.6L86.1 199.0L86.3 204.3L87.2 201.5L87.8 203.3L88.3 200.3L88.9 203.0L89.4 198.2L89.8 202.8L90.2 201.4L90.7 202.8L91.8 199.8L92.0 203.5L92.4 203.8L92.8 198.3L93.1 204.0L93.7 200.3L94.4 199.2L94.8 201.6L95.2 202.4L95.7 198.6L96.1 198.6L97.0 204.0L97.2 198.7L97.6 204.6L98.7 200.0L98.9 203.9L99.1 202.0L99.4 205.6L100.0 200.9L100.4 203.5L101.7 204.6L102.0 201.3L102.4 199.1L102.6 203.9L103.5 197.1L103.7 203.3L104.6 198.3L104.8 203.2L105.2 197.3L105.6 202.9L106.5 200.2L107.0 206.0L107.4 203.4L107.8 200.9L108.0 199.3L108.7 203.6L109.8 205.5L110.0 199.4L110.4 203.4L110.9 201.2L111.7 204.5L111.9 199.9L112.2 206.2L112.8 199.1L113.2 199.8L113.7 203.2L114.8 205.1L115.0 201.2L115.2 203.5L115.6 201.5L116.5 203.1L116.7 200.7L117.4 201.0L117.6 205.1L118.0 201.3L118.9 203.2L119.1 201.4L119.3 204.6L120.6 199.4L120.8 204.8L121.1 199.6L121.9 204.0L122.6 202.0L122.8 198.4L123.5 204.5L123.7 198.3L124.1 204.7L124.3 200.6L125.2 201.0L125.4 203.1L126.7 201.7L126.9 203.5L127.4 200.9L127.6 204.4L128.0 203.3L128.9 198.9L129.5 203.7L130.0 200.4L130.2 201.1L130.8 203.2L131.3 199.4L131.9 200.6L132.6 200.0L132.8 205.8L133.0 203.4L133.4 199.6L134.1 201.6L135.0 197.7L135.4 202.1L135.8 198.6L136.0 200.8L136.3 203.2L137.1 204.3L137.8 198.5L138.4 203.2L138.9 198.5L139.1 200.6L139.3 204.7L140.2 202.7L140.4 198.7L141.0 202.6L141.7 199.1L142.3 200.7L142.6 204.5L143.4 203.8L143.9 200.5L144.3 202.8L145.0 199.0L145.6 202.1L145.8 201.2L146.5 202.8L146.7 199.9L147.8 200.7L148.0 204.2L148.4 198.1L148.6 200.3L149.5 205.3L149.9 199.5L150.4 202.9L150.6 199.8L151.5 200.7L151.9 205.1L152.3 203.0L152.8 197.4L153.4 204.7L153.9 201.1L154.1 202.8L154.9 197.7L155.4 201.5L155.8 203.2L156.2 201.0L156.7 204.7L157.3 200.7L158.0 203.1L158.2 200.8L158.8 202.0L159.3 204.2L159.5 200.6L160.4 204.7L160.8 198.9L161.0 200.6L161.5 202.7L162.1 201.0L162.8 203.2L163.4 199.7L163.6 203.1L164.1 203.4L164.9 198.7L165.1 198.6L165.4 204.7L166.4 204.1L166.9 200.1L167.5 197.5L167.8 203.0L168.2 201.4L168.4 204.8L169.3 197.9L169.5 202.3L170.6 200.0L170.8 202.7L171.4 202.1L171.9 200.7L172.5 204.2L172.7 200.0L173.2 202.8L173.4 199.8L174.5 204.8L174.9 202.0L175.1 203.7L175.4 200.4L176.0 205.2L176.9 197.9L177.5 198.5L178.0 204.3L178.2 200.1L178.6 204.9L179.7 200.7L179.9 204.6L180.1 201.8L180.3 204.0L181.4 203.2L181.9 198.7L182.1 203.5L183.0 199.0L183.2 201.7L183.6 197.0L184.5 202.1L184.7 204.0L185.6 198.6L186.0 204.5L186.4 198.9L186.9 202.5L187.3 197.7L187.9 204.3L188.4 200.8L188.8 202.6L189.5 203.7L189.7 199.8L190.3 198.1L190.8 201.4L191.6 201.9L191.9 204.7L192.3 204.9L192.5 199.4L193.6 198.8L193.8 201.1L194.0 200.1L194.5 203.2L195.5 200.8L196.0 203.7L196.2 202.8L196.4 199.2L197.3 200.9L197.5 203.2L198.4 205.4L198.6 202.1L199.7 205.1L199.9 201.6L200.5 204.2L201.0 197.9L201.6 202.5L201.8 199.6L202.3 197.9L202.7 202.8L203.1 203.0L203.4 198.5L204.4 200.8L204.7 205.0L205.3 200.6L205.5 205.3L206.4 203.8L206.8 200.1L207.1 204.6L207.5 202.0L208.1 201.8L208.4 197.8L209.2 204.9L209.9 200.2L210.1 197.9L210.5 203.0L211.2 200.6L211.6 204.5L212.3 198.0L212.7 206.1L213.1 201.0L213.6 204.2L214.0 201.2L214.4 198.1L214.7 196.2L214.9 185.4L215.1 169.7L215.3 145.6L215.5 107.9L216.0 56.1L216.2 65.7L216.4 51.7L216.6 54.2L216.8 52.2L217.0 54.5L217.5 50.9L217.7 51.7L217.9 55.6L218.1 40.6L218.3 44.0L218.8 51.8L219.0 40.6L219.2 39.1L219.4 57.7L219.6 40.1L219.9 55.9L220.1 45.8L220.3 48.4L220.7 45.4L221.0 53.8L221.2 48.4L221.4 52.6L221.6 46.0L221.8 56.4L222.0 40.6L222.5 48.5L222.7 43.9L222.9 39.1L223.1 42.2L223.3 44.7L223.6 52.9L224.0 38.3L224.2 46.7L224.4 44.7L224.6 48.4L224.9 42.2L225.1 37.6L225.3 50.8L225.5 43.6L225.9 44.3L226.2 49.5L226.4 47.2L226.6 37.6L226.8 57.0L227.0 51.4L227.2 43.3L227.7 57.1L227.9 44.2L228.1 48.7L228.3 58.3L228.8 48.0L229.0 52.1L229.2 48.8L229.4 47.2L229.6 41.0L229.9 42.3L230.1 44.8L230.3 50.7L230.5 52.3L230.7 36.8L231.2 50.4L231.4 42.0L231.6 43.2L231.8 48.9L232.2 39.0L232.5 55.6L232.7 50.0L232.9 48.9L233.1 48.1L233.3 57.4L233.5 49.2L233.8 44.6L234.2 49.5L234.4 49.1L234.6 45.4L234.8 48.2L235.1 36.6L235.5 47.3L235.7 46.1L235.9 56.0L236.2 47.7L236.4 40.4L236.6 48.7L236.8 36.8L237.0 44.7L237.2 50.2L237.7 42.0L237.9 45.5L238.1 50.2L238.3 46.5L238.8 58.5L239.0 36.9L239.2 46.9L239.4 46.0L239.6 56.4L239.8 52.5L240.3 41.2L240.5 43.4L240.7 41.3L240.9 48.6L241.1 49.0L241.4 44.9L241.6 45.3L241.8 52.6L242.2 46.7L242.4 43.1L242.7 52.7L242.9 46.1L243.1 53.1L243.3 39.5L243.5 48.8L243.8 43.3L244.2 39.7L244.4 48.3L244.6 47.0L244.8 39.9L245.3 45.6L245.5 51.0L245.7 46.8L245.9 42.8L246.1 50.4L246.4 40.0L246.6 48.6L246.8 55.3L247.0 47.1L247.4 38.1L247.7 40.6L247.9 48.2L248.1 44.9L248.3 40.5L248.7 47.9L249.0 38.4L249.2 38.7L249.4 46.2L249.6 43.3L249.8 51.0L250.0 49.6L250.3 44.1L250.7 44.1L250.9 49.8L251.1 38.9L251.4 42.0L251.6 45.0L251.8 42.1L252.0 53.8L252.2 46.4L252.7 45.1L252.9 43.8L253.1 38.8L253.3 45.3L253.5 50.8L253.7 44.2L254.2 38.3L254.4 35.6L254.6 39.8L254.8 46.9L255.0 39.4L255.3 49.2L255.7 44.3L255.9 55.6L256.1 43.6L256.3 36.5L256.8 31.3L257.0 52.0L257.2 44.5L257.4 43.2L257.6 45.2L257.9 38.2L258.1 36.1L258.3 46.3L258.5 50.1L258.7 43.5L259.2 40.0L259.4 43.0L259.6 40.7L259.8 42.3L260.0 35.5L260.5 49.1L260.7 47.4L260.9 47.7L261.1 34.5L261.3 42.9L261.6 48.3L261.8 46.8L262.2 45.6L262.4 38.8L262.6 39.6L262.9 40.2L263.1 46.3L263.3 39.1L263.5 45.0L263.7 40.8L264.2 32.7L264.4 48.5L264.6 42.9L264.8 41.0L265.0 35.1L265.5 43.3L265.7 48.0L265.9 39.4L266.1 45.7L266.3 44.3L266.8 41.7L267.0 37.0L267.2 41.3L267.4 36.1L267.6 39.3L267.9 45.9L268.1 40.9L268.3 40.4L268.5 40.7L268.7 44.3L269.2 43.3L269.4 43.1L269.6 41.2L269.8 44.3L270.2 39.9L270.5 45.8L270.7 48.6L270.9 46.3L271.1 54.4L271.3 46.4L271.5 57.1L272.0 75.1L272.2 81.4L272.4 94.2L272.6 111.9L272.8 124.4L273.1 139.3L273.5 162.3L273.7 171.8L273.9 178.9L274.2 186.2L274.4 189.6L274.6 192.9L274.8 196.3L275.0 198.7L275.5 197.4L275.7 200.7L276.3 202.1L276.8 199.7L277.2 203.3L277.8 199.8L278.1 203.4L278.3 200.2L279.4 200.2L279.6 202.8L280.4 197.0L280.7 203.3L281.8 204.4L282.0 199.7L282.2 198.8L282.4 205.6L283.5 203.8L283.9 198.7L284.4 197.5L284.8 204.4L285.2 206.3L285.9 199.5L286.1 199.3L286.7 202.3L287.2 201.1L287.8 198.9L288.7 203.9L288.9 201.2L289.4 199.1L289.6 205.1L290.0 199.8L290.9 206.0L291.3 199.2L291.7 203.0L292.4 205.1L292.8 199.9L293.3 203.5L293.9 200.5L294.3 204.6L294.8 199.1L295.2 203.6L295.9 201.1L296.3 204.5L296.5 202.1L297.2 200.8L297.6 204.1L298.3 198.5L298.7 205.7L299.3 198.4L299.6 203.0L300.2 201.0L300.4 204.2L301.7 199.0L301.9 203.0L302.6 199.7L302.8 204.5L303.0 202.2L303.2 201.0L304.3 199.7L305.0 205.5L305.6 204.4L305.9 199.8L306.1 206.6L306.9 198.4L307.2 201.5L307.6 200.2L308.0 204.2L308.5 201.2L309.3 204.7L309.8 200.4L310.2 199.8L310.6 203.7L311.1 198.3L311.7 204.1L312.2 199.3L312.8 201.8L313.0 200.9L313.9 200.1L314.8 203.2L315.0 200.0L315.2 201.0L315.8 203.9L316.1 198.9L316.3 202.7L317.4 205.8L317.6 201.1L318.4 199.2L318.9 202.2L319.5 204.8L319.8 200.3L320.2 199.4L320.8 201.9L321.3 205.0L321.5 199.6L322.1 201.0L322.4 204.2L323.2 199.1L323.9 202.6L324.1 201.8L324.3 197.8L325.2 199.4L325.8 205.1L326.5 204.9L326.9 197.1L327.4 198.6L327.8 205.0L328.4 203.8L328.7 198.8L329.5 201.2L330.0 204.3L330.4 202.1L330.6 199.5L331.0 204.5L331.3 199.9L332.1 203.1L332.3 198.5L333.4 200.8L333.9 202.4L334.3 199.0L334.5 204.7L335.2 204.8L335.8 200.8L336.5 200.1L336.9 205.0L337.6 204.9L337.8 201.2L338.4 205.5L338.6 200.6L339.1 205.3L339.9 199.5L340.4 205.5L340.8 200.9L341.2 203.2L341.9 199.3L342.1 205.2L342.6 201.6L343.2 203.4L343.6 197.9L344.1 201.1L344.5 205.6L345.2 199.8L345.6 202.5L346.5 199.1L346.9 203.8L347.3 204.6L347.8 200.4" stroke="#0072BD" stroke-width="0.8"/>
<path d="M44.2 43.1L44.4 45.7L44.6 43.4L44.8 45.3L45.0 38.4L45.5 47.5L45.7 44.5L45.9 41.5L46.1 42.4L46.3 37.9L46.8 48.1L47.0 35.2L47.2 44.1L47.4 47.7L47.6 39.9L47.9 38.7L48.1 42.5L48.3 31.8L48.5 34.6L48.9 39.2L49.2 32.0L49.4 30.8L49.6 44.2L49.8 45.2L50.0 36.2L50.2 49.5L50.7 32.8L50.9 42.7L51.1 38.7L51.3 46.5L51.8 52.3L52.0 34.3L52.2 35.8L52.4 39.3L52.6 44.9L52.9 42.0L53.1 44.4L53.3 49.1L53.5 41.9L53.9 55.6L54.2 47.6L54.4 58.6L54.6 61.4L54.8 64.6L55.0 73.7L55.5 86.6L55.7 105.7L55.9 121.4L56.1 132.0L56.3 149.7L56.5 159.8L57.0 180.1L57.2 184.1L57.4 186.1L57.6 192.6L57.8 195.2L58.1 192.2L58.3 197.5L58.5 200.7L58.9 200.4L59.1 201.4L59.8 199.6L60.0 199.1L60.9 202.0L61.8 200.7L62.0 203.6L62.4 199.1L62.8 203.9L63.5 203.2L63.9 196.4L64.4 203.5L64.8 200.2L65.2 203.9L65.9 200.7L66.1 203.8L66.5 202.1L67.4 204.5L67.8 200.0L68.3 198.2L68.5 203.0L69.1 205.6L69.6 202.3L70.4 199.7L70.7 203.7L71.3 199.2L71.7 203.1L72.2 204.0L72.6 199.6L73.0 202.9L73.7 200.8L74.3 201.7L74.6 203.0L75.2 200.0L75.7 201.6L76.7 203.5L77.0 198.6L77.2 202.8L77.4 198.7L78.7 204.0L78.9 199.4L79.1 202.9L79.6 198.8L80.4 202.8L80.9 200.2L81.5 199.4L81.9 203.1L82.4 203.1L82.6 200.4L83.5 204.9L83.9 200.1L84.3 205.5L85.0 198.3L85.4 204.1L85.6 200.3L86.1 199.4L86.9 201.8L87.2 201.0L87.8 204.0L88.0 201.2L88.2 204.5L89.5 200.8L90.0 205.4L90.4 201.4L90.9 198.1L91.1 205.6L91.9 199.8L92.4 199.2L92.8 203.1L93.0 201.1L93.5 205.0L94.3 199.5L95.0 202.2L95.2 201.4L95.8 205.1L96.1 203.5L96.5 200.0L97.1 197.7L97.8 204.5L98.5 199.2L98.7 204.5L99.1 205.6L100.0 200.5L100.2 199.4L100.4 201.2L101.1 200.6L101.3 205.4L102.1 201.7L102.8 205.2L103.0 204.7L103.2 200.7L104.3 205.6L104.5 200.9L105.2 199.4L105.4 204.2L106.3 198.4L106.7 203.1L107.1 198.6L107.8 202.7L108.0 203.2L108.9 198.2L109.1 204.9L109.3 200.3L110.4 203.5L110.6 201.1L111.0 197.3L111.3 202.9L112.1 199.3L112.6 202.8L113.4 198.9L113.9 202.1L114.1 204.1L114.7 201.9L115.2 199.7L115.8 203.6L116.3 204.2L116.7 201.7L117.1 197.8L117.3 201.5L118.6 204.1L118.9 197.0L119.1 198.3L119.7 205.5L120.4 197.1L120.6 202.8L121.0 202.3L121.9 199.4L122.8 201.2L123.0 205.3L123.2 205.1L123.9 198.8L124.5 202.8L124.9 198.5L125.4 202.6L125.6 201.0L126.0 197.8L126.5 203.1L127.5 200.6L128.0 202.7L128.2 198.9L128.4 201.5L129.7 203.8L129.9 200.0L130.2 204.6L130.4 199.1L131.2 199.7L131.7 201.9L132.3 203.7L133.0 199.9L133.4 197.4L133.6 203.1L134.5 201.1L134.9 204.6L135.1 200.8L135.4 205.3L136.2 204.8L136.7 199.6L137.3 201.7L137.8 199.4L138.2 203.0L138.8 204.3L139.5 202.0L139.7 205.5L140.1 202.0L140.8 200.2L141.4 199.6L141.9 203.5L142.5 203.3L142.7 198.8L143.2 200.9L143.4 202.9L144.3 202.9L144.5 202.2L145.1 203.0L145.4 200.5L146.4 204.2L146.9 202.1L147.3 200.5L147.7 205.0L148.4 203.0L148.8 198.3L149.5 205.8L149.9 200.4L150.3 200.3L150.6 204.8L151.7 199.0L151.9 202.7L152.7 197.9L153.0 202.4L153.6 204.2L153.8 201.0L154.0 201.7L154.3 199.9L155.6 203.4L155.8 198.2L156.2 201.8L156.9 205.7L157.7 201.7L157.9 204.9L158.2 201.7L158.4 200.7L159.0 204.4L159.3 199.5L160.1 198.9L160.6 204.6L161.2 199.3L161.9 202.1L162.1 198.9L162.3 203.1L163.4 203.2L163.8 200.9L164.5 199.9L164.7 202.7L165.1 200.0L166.0 204.7L166.2 206.0L166.9 200.8L167.3 205.0L167.9 199.7L168.4 203.0L168.8 199.3L169.5 200.7L169.9 204.6L170.1 204.1L170.8 199.2L171.4 203.1L171.8 196.2L172.5 204.8L172.7 200.2L173.1 199.8L173.8 202.8L174.7 202.5L174.9 200.1L175.5 204.1L176.0 198.8L176.2 204.2L176.4 199.8L177.3 201.7L177.5 207.1L178.4 200.2L178.8 201.9L179.2 200.0L179.7 203.4L180.1 203.9L180.7 197.9L181.2 200.5L181.6 205.3L182.1 199.6L182.3 206.6L183.6 203.0L183.8 201.7L184.2 204.9L184.4 199.3L185.5 197.0L186.0 202.3L186.4 200.5L186.6 206.7L187.5 199.5L187.7 206.2L188.3 200.4L189.0 202.7L189.4 203.8L189.9 200.6L190.1 200.5L190.7 202.6L191.2 200.5L191.6 205.3L192.3 198.4L192.9 201.6L193.1 202.3L193.8 203.7L194.2 206.2L194.9 199.6L195.7 204.2L195.9 198.7L196.4 201.4L196.6 203.8L197.0 199.5L197.7 203.2L198.1 197.4L198.8 206.3L199.2 199.0L199.6 202.4L200.1 203.0L200.3 200.9L201.2 200.0L201.8 203.4L202.0 206.6L202.2 200.4L203.1 204.3L203.3 199.1L204.2 198.9L204.6 201.5L205.1 201.5L205.9 205.7L206.4 198.5L206.8 200.1L207.0 201.5L207.7 205.9L208.5 203.9L209.0 199.7L209.2 200.3L209.4 203.8L210.1 203.7L210.7 201.0L211.1 201.4L211.8 204.2L212.5 201.1L212.7 203.7L213.5 203.6L214.0 197.5L214.2 201.3L214.4 196.5L214.6 194.8L214.8 184.2L215.1 166.3L215.5 104.7L215.7 77.9L215.9 67.8L216.1 51.5L216.4 59.9L216.6 54.0L216.8 56.2L217.2 50.3L217.4 42.3L217.7 40.9L217.9 53.2L218.1 54.3L218.3 39.6L218.5 55.8L219.0 37.7L219.2 49.3L219.4 42.7L219.6 46.4L219.8 50.2L220.1 48.6L220.5 45.1L220.7 48.2L220.9 51.7L221.1 54.2L221.4 44.5L221.6 52.2L221.8 44.5L222.0 50.6L222.2 46.4L222.7 46.4L222.9 39.3L223.1 55.5L223.3 59.7L223.5 57.7L223.7 45.1L224.2 53.9L224.4 47.0L224.6 56.6L224.8 48.8L225.0 43.6L225.5 52.5L225.7 41.9L225.9 49.4L226.1 50.7L226.3 53.2L226.6 47.4L226.8 40.3L227.2 50.2L227.4 45.2L227.7 52.7L227.9 48.4L228.1 42.5L228.3 37.3L228.5 48.4L228.7 39.2L229.2 46.9L229.4 48.8L229.6 44.7L229.8 45.3L230.3 51.1L230.5 41.5L230.7 44.8L230.9 46.3L231.1 42.5L231.3 51.9L231.8 43.6L232.0 53.4L232.2 49.7L232.4 49.1L232.6 45.5L232.9 53.7L233.1 36.0L233.3 51.6L233.7 44.2L233.9 51.3L234.2 50.1L234.4 43.4L234.6 48.8L234.8 42.6L235.0 47.1L235.3 45.4L235.7 40.2L235.9 44.8L236.1 46.1L236.3 50.5L236.6 55.8L237.0 44.3L237.2 45.5L237.4 46.1L237.6 54.9L237.9 44.4L238.1 55.1L238.3 42.5L238.5 39.5L238.9 52.0L239.2 38.6L239.4 50.3L239.6 47.7L239.8 50.8L240.2 37.5L240.5 51.0L240.7 41.8L240.9 40.8L241.1 43.0L241.3 46.6L241.5 46.4L241.8 51.2L242.2 49.2L242.4 46.4L242.6 45.3L242.9 43.7L243.1 55.2L243.3 43.0L243.5 50.1L243.7 47.1L244.2 45.3L244.4 43.5L244.6 44.7L244.8 48.3L245.0 49.1L245.2 42.4L245.7 44.6L245.9 47.9L246.1 49.1L246.3 37.7L246.8 45.0L247.0 35.6L247.2 37.8L247.4 40.0L247.6 45.2L247.8 38.8L248.1 43.3L248.5 51.5L248.7 46.0L248.9 37.5L249.1 43.3L249.4 44.2L249.6 37.9L249.8 46.8L250.2 39.4L250.5 48.7L250.7 43.2L250.9 43.5L251.1 52.3L251.3 48.0L251.8 41.5L252.0 49.8L252.2 47.0L252.4 43.5L252.6 51.4L252.8 54.0L253.3 42.5L253.5 47.2L253.7 38.8L253.9 37.9L254.1 41.1L254.4 43.9L254.6 40.2L254.8 48.4L255.0 45.8L255.4 40.1L255.7 51.1L255.9 41.6L256.1 48.8L256.3 41.7L256.7 43.7L257.0 49.6L257.2 49.8L257.4 43.7L257.6 40.1L257.8 44.9L258.3 48.1L258.5 41.4L258.7 47.3L258.9 37.8L259.1 46.9L259.4 46.0L259.6 39.6L259.8 50.6L260.0 40.4L260.2 34.7L260.7 43.9L260.9 40.2L261.1 34.6L261.3 43.2L261.5 52.8L261.7 45.8L262.2 46.2L262.4 48.1L262.6 42.8L262.8 38.2L263.0 37.5L263.5 46.4L263.7 42.6L263.9 38.1L264.1 40.0L264.3 45.1L264.6 47.0L264.8 42.7L265.2 40.3L265.4 32.1L265.7 41.9L265.9 47.9L266.1 41.3L266.3 50.6L266.5 35.0L267.0 44.0L267.2 45.4L267.4 44.5L267.6 40.9L267.8 41.1L268.0 41.1L268.3 41.8L268.7 43.8L268.9 37.7L269.1 42.8L269.3 45.1L269.6 36.1L270.0 48.9L270.2 40.6L270.4 41.8L270.6 44.0L270.9 39.8L271.1 37.5L271.3 46.6L271.5 47.4L271.9 56.8L272.2 55.6L272.4 65.6L272.6 75.8L272.8 87.4L273.0 97.3L273.5 126.0L273.7 143.1L273.9 151.0L274.1 165.4L274.3 175.2L274.6 180.0L275.0 187.9L275.2 191.0L275.4 196.6L275.6 197.5L275.9 198.2L276.7 202.9L276.9 199.2L277.2 201.6L277.6 200.2L278.5 199.4L278.7 204.7L279.3 203.5L279.5 198.8L280.2 197.9L280.9 200.6L281.5 203.4L281.9 197.1L282.4 200.8L282.8 204.9L283.7 201.4L283.9 204.2L284.3 197.0L285.0 204.6L285.2 202.8L285.8 199.4L286.3 203.2L286.5 201.1L287.1 200.5L287.8 202.6L288.5 198.6L288.7 203.7L289.3 199.3L289.8 201.9L290.2 199.1L290.8 201.7L291.3 204.6L291.5 200.9L292.1 202.1L292.8 199.5L293.0 199.8L293.2 202.4L294.7 202.7L295.0 199.0L295.6 202.6L295.8 201.3L296.7 198.0L296.9 202.7L297.4 203.4L297.8 199.1L298.0 201.0L298.4 205.7L299.1 205.2L300.0 199.2L300.6 201.3L300.8 202.8L301.3 204.7L301.7 199.4L302.3 204.1L303.0 200.5L303.2 199.6L303.9 202.1L304.1 202.5L304.7 200.3L305.2 204.0L305.4 200.3L306.5 201.4L306.7 203.3L307.6 202.3L307.8 199.8L308.2 202.8L308.9 199.3L309.1 205.3L309.9 201.5L310.2 200.6L310.4 203.1L311.3 201.9L311.9 197.8L312.1 202.2L313.0 197.9L313.4 203.0L313.6 204.7L314.1 203.1L314.3 200.2L315.4 203.2L315.6 200.6L316.5 201.3L316.7 198.8L317.1 202.2L318.0 199.3L318.2 200.9L318.9 205.4L319.1 204.6L319.5 200.7L320.2 203.2L320.6 198.4L321.0 200.0L321.5 203.1L322.3 203.5L322.8 200.4L323.6 202.6L323.8 197.7L324.5 199.5L324.7 202.7L325.1 207.1L325.4 200.1L326.2 198.3L326.5 201.4L327.8 204.4L328.0 201.7L328.4 204.0L328.8 196.5L329.5 205.3L329.7 198.0L330.1 200.2L330.6 204.1L331.2 205.1L331.4 201.2L332.7 203.9L333.0 199.0L333.6 203.4L333.8 198.3L334.5 200.6L334.7 203.3L335.6 199.5L335.8 204.9L336.2 202.2L336.4 197.4L337.5 199.2L337.7 201.6L338.4 205.5L338.8 203.1L339.0 199.7L339.5 202.9L340.1 202.6L340.3 199.1L341.4 199.7L341.9 204.1L342.3 204.7L343.0 200.0L343.4 203.9L343.8 200.4L344.7 204.3L344.9 201.3L345.8 200.4L346.0 202.0L346.2 200.0L346.4 203.2L347.3 202.2L347.7 199.8" stroke="#0072BD" stroke-width="0.8"/>
<path d="M44.2 40.9L44.4 46.1L44.6 34.9L44.8 37.7L45.1 41.3L45.5 37.7L45.7 38.8L45.9 48.7L46.1 47.3L46.4 37.2L46.6 37.9L46.8 37.2L47.0 44.3L47.2 32.9L47.7 33.9L47.9 46.9L48.1 41.9L48.3 34.4L48.5 37.0L48.8 47.3L49.2 50.3L49.4 40.3L49.6 38.9L49.8 36.5L50.1 34.8L50.3 40.2L50.7 31.6L50.9 44.8L51.1 44.1L51.4 50.2L51.6 46.3L51.8 44.5L52.0 40.3L52.2 36.1L52.7 39.9L52.9 45.4L53.1 35.8L53.3 48.1L53.5 46.6L54.0 49.7L54.2 49.6L54.4 46.4L54.6 60.8L54.8 55.8L55.1 72.0L55.5 92.5L55.7 100.5L55.9 113.7L56.1 128.8L56.4 140.0L56.6 151.2L56.8 167.3L57.0 174.6L57.4 188.1L57.7 190.7L57.9 195.8L58.1 202.2L58.3 199.5L58.5 196.8L59.0 201.4L59.4 199.4L59.6 201.7L60.3 198.7L60.7 205.2L61.8 199.7L62.0 203.8L62.4 202.7L62.7 200.5L63.5 200.3L63.7 201.4L64.4 201.5L64.8 200.9L65.0 203.3L65.9 199.6L66.1 204.5L66.6 200.4L67.2 200.3L67.6 202.7L68.1 200.3L68.7 203.2L69.6 203.4L69.8 198.1L70.0 204.1L70.3 198.8L71.1 205.3L71.8 199.5L72.2 203.6L72.4 200.3L73.3 204.1L73.5 201.2L74.2 203.6L74.6 199.7L75.7 204.7L75.9 199.3L76.1 203.2L77.0 197.8L77.4 199.8L77.6 204.5L78.7 204.4L78.9 200.1L79.2 199.8L79.6 204.4L80.7 203.8L80.9 199.0L81.3 199.9L81.5 203.6L82.6 201.1L82.8 203.3L83.3 199.0L83.5 203.9L84.4 201.3L84.6 203.0L85.2 202.2L85.5 200.0L86.8 203.6L87.0 197.7L87.4 204.4L87.8 198.6L88.1 199.8L88.7 202.3L89.6 200.8L89.8 198.6L90.2 202.8L90.9 199.6L91.5 199.4L91.7 203.5L92.2 198.8L92.8 204.4L93.1 200.8L93.7 206.6L94.4 199.2L94.8 205.3L95.2 199.0L95.4 204.4L96.3 204.3L96.7 198.3L97.4 204.3L97.6 200.4L98.3 202.1L98.5 199.6L99.1 200.0L100.0 203.4L100.7 198.9L100.9 203.3L101.1 205.0L101.5 199.0L102.6 200.0L102.8 203.4L103.3 201.3L103.5 203.6L104.3 200.9L104.6 199.3L105.4 200.8L105.9 196.9L106.1 205.5L106.5 201.8L107.2 200.3L107.6 202.7L108.7 199.3L108.9 204.8L109.6 202.8L109.8 198.8L110.2 199.7L110.4 205.3L111.5 200.1L111.9 203.6L112.2 203.9L112.6 199.0L113.2 200.2L113.7 204.6L114.1 202.5L114.3 199.9L115.4 199.5L115.9 201.3L116.3 204.7L116.9 199.5L117.2 197.8L117.4 200.0L118.7 198.8L118.9 202.9L119.1 199.0L119.3 202.7L120.4 201.6L120.6 200.8L121.5 205.1L121.9 198.4L122.6 204.1L122.8 197.6L123.0 205.2L123.7 199.2L124.3 202.5L125.0 199.5L125.4 203.2L125.8 200.7L126.1 205.2L126.7 200.4L127.6 202.6L127.8 200.2L128.0 203.5L128.7 199.3L129.1 200.7L129.5 206.0L130.2 201.2L130.6 203.0L131.3 203.8L131.7 197.8L132.1 205.0L132.4 200.6L133.0 206.1L133.4 200.8L134.5 202.4L135.0 201.3L135.6 200.4L135.8 203.0L136.5 200.2L136.7 203.9L137.8 199.3L138.0 203.6L138.2 199.8L138.7 202.8L139.5 204.1L139.7 200.9L140.2 200.3L140.8 201.6L141.5 204.0L141.7 200.4L142.3 199.7L142.8 205.7L143.4 199.2L143.9 202.6L144.1 200.6L144.7 204.3L145.4 200.9L145.8 203.0L146.0 201.3L146.7 203.1L147.3 202.4L148.0 200.1L148.2 203.3L148.4 198.6L149.1 202.1L149.9 199.8L150.4 201.6L150.8 204.4L151.2 201.4L151.7 203.9L152.3 199.4L153.0 203.0L153.6 200.8L153.9 199.6L154.1 202.9L154.3 200.7L155.2 205.4L155.4 200.6L156.0 202.9L156.5 200.5L157.3 204.1L158.0 200.2L158.2 198.7L158.6 203.5L159.3 198.9L159.7 206.3L160.4 200.0L160.8 202.9L161.7 199.3L161.9 206.3L162.3 199.6L163.0 206.0L163.4 200.2L163.8 204.7L164.5 200.9L164.7 202.2L165.4 203.7L165.6 201.6L166.0 202.6L166.2 199.1L167.3 202.9L168.0 198.8L168.4 202.3L168.8 199.1L169.5 200.7L169.7 203.3L170.4 202.7L170.6 198.4L171.4 198.8L171.9 204.0L172.1 199.1L173.0 205.6L173.2 204.0L173.4 200.1L174.3 204.8L174.9 199.9L175.8 203.7L176.0 199.2L176.2 200.9L176.7 204.3L177.3 200.3L177.5 202.0L178.2 198.7L178.4 203.5L179.3 200.4L179.5 203.9L180.6 199.9L180.8 203.4L181.2 198.1L181.6 203.6L182.1 204.2L182.5 199.4L183.4 201.4L183.8 203.2L184.5 200.2L184.7 204.8L185.3 199.7L186.0 205.7L186.6 199.7L186.9 202.5L187.7 206.0L187.9 200.3L188.2 200.0L188.6 202.7L189.2 198.3L189.5 201.6L190.5 202.3L190.8 199.4L191.2 201.1L191.6 206.7L192.1 198.7L192.7 202.3L193.4 198.9L193.8 204.4L194.0 204.0L194.5 199.2L195.3 203.2L196.0 198.2L196.2 203.5L196.8 197.8L197.3 203.2L197.9 199.4L198.1 203.4L198.4 199.8L199.0 200.4L199.5 203.8L200.5 197.8L201.0 203.9L201.4 204.6L201.8 200.5L202.3 202.9L202.5 198.8L203.6 202.7L203.8 201.5L204.0 204.4L204.2 199.5L205.1 203.1L205.7 199.8L206.4 202.0L206.6 198.4L207.7 200.0L207.9 203.6L208.4 202.7L208.8 200.8L209.0 203.5L209.9 198.3L210.3 198.8L211.0 204.4L211.2 202.4L211.4 200.2L212.3 203.4L212.7 199.6L213.8 204.0L214.0 198.5L214.2 197.0L214.4 197.6L214.7 191.5L214.9 177.8L215.1 148.7L215.3 114.1L215.5 88.1L216.0 55.4L216.2 56.0L216.4 49.8L216.6 46.9L216.8 53.2L217.0 51.6L217.5 48.9L217.7 47.5L217.9 55.7L218.1 41.3L218.3 49.6L218.8 44.6L219.0 59.8L219.2 52.0L219.4 53.7L219.6 57.5L219.9 39.2L220.1 42.7L220.3 52.3L220.5 41.1L220.9 49.0L221.2 47.8L221.4 48.9L221.6 58.9L221.8 52.8L222.0 45.5L222.3 36.8L222.7 51.2L222.9 46.5L223.1 46.5L223.3 38.3L223.6 47.7L224.0 41.2L224.2 47.8L224.4 40.5L224.6 45.6L224.9 47.8L225.1 52.8L225.3 42.6L225.5 54.9L225.7 41.1L226.2 53.7L226.4 41.9L226.6 50.1L226.8 48.5L227.0 53.1L227.2 49.3L227.7 49.5L227.9 44.4L228.1 45.8L228.3 40.6L228.5 48.7L228.8 41.7L229.2 45.9L229.4 54.3L229.6 43.9L229.9 42.0L230.1 42.3L230.3 42.6L230.5 58.1L230.9 35.2L231.2 51.6L231.4 54.0L231.6 44.3L231.8 48.4L232.2 39.4L232.5 48.4L232.7 48.2L232.9 57.3L233.1 45.0L233.3 46.7L233.5 49.6L234.0 44.8L234.2 41.9L234.4 40.7L234.6 42.3L234.8 43.5L235.1 43.0L235.5 47.4L235.7 36.6L235.9 47.5L236.1 46.3L236.4 41.7L236.6 41.3L236.8 46.4L237.2 56.3L237.5 47.9L237.7 54.0L237.9 43.2L238.1 49.4L238.3 49.9L238.8 56.6L239.0 50.0L239.2 53.9L239.4 42.5L239.6 41.6L239.8 52.0L240.1 49.9L240.5 45.6L240.7 47.3L240.9 39.4L241.1 43.9L241.4 46.9L241.6 40.3L241.8 40.1L242.2 47.4L242.4 52.3L242.7 39.0L242.9 44.1L243.1 50.9L243.3 42.5L243.5 43.9L243.7 49.2L244.2 46.8L244.4 46.1L244.6 39.2L244.8 52.5L245.1 39.0L245.5 48.3L245.7 45.6L245.9 44.8L246.1 45.1L246.4 47.6L246.6 46.3L246.8 44.4L247.2 48.5L247.4 45.4L247.7 35.5L247.9 49.2L248.1 44.0L248.3 45.8L248.5 42.9L248.7 52.9L249.2 45.3L249.4 33.7L249.6 49.5L249.8 47.5L250.3 45.6L250.5 47.3L250.7 40.7L250.9 39.3L251.1 45.5L251.3 40.6L251.8 46.9L252.0 36.3L252.2 38.3L252.4 41.4L252.7 43.8L252.9 50.9L253.1 44.1L253.3 49.3L253.5 40.8L254.0 49.0L254.2 37.9L254.4 41.8L254.6 48.9L254.8 44.3L255.0 48.7L255.3 37.9L255.7 44.2L255.9 42.8L256.1 33.8L256.3 43.3L256.6 50.0L256.8 34.3L257.2 42.6L257.4 40.8L257.6 47.2L257.9 43.1L258.1 44.4L258.3 43.0L258.7 36.4L258.9 42.5L259.2 38.9L259.4 34.9L259.6 42.8L259.8 43.0L260.3 35.4L260.5 43.0L260.7 42.2L260.9 41.5L261.1 42.2L261.3 48.2L261.8 54.1L262.0 40.9L262.2 49.3L262.4 44.6L262.6 48.1L262.9 46.1L263.1 39.4L263.3 47.0L263.7 46.8L263.9 39.8L264.2 36.9L264.4 37.1L264.6 39.8L264.8 41.6L265.0 39.7L265.5 43.1L265.7 46.8L265.9 45.0L266.1 45.6L266.3 45.4L266.5 33.9L267.0 47.5L267.2 39.5L267.4 31.4L267.6 45.6L267.9 41.1L268.1 45.0L268.3 43.9L268.5 42.5L268.7 38.5L269.2 36.5L269.4 45.7L269.6 41.0L269.8 43.4L270.0 38.5L270.2 41.6L270.7 52.0L270.9 49.1L271.1 50.0L271.3 46.2L271.5 59.8L272.0 69.1L272.2 71.9L272.4 79.6L272.6 98.7L272.8 109.6L273.1 120.3L273.5 151.5L273.7 160.5L273.9 171.4L274.1 181.4L274.4 186.2L274.6 189.8L274.8 195.0L275.0 197.9L275.2 198.6L275.5 200.5L275.7 197.2L276.5 198.7L277.0 203.8L277.4 201.7L277.6 198.9L278.3 200.2L278.9 204.9L279.4 200.0L279.8 201.6L280.0 205.1L280.2 200.7L281.1 204.0L281.5 200.2L282.2 204.6L282.8 198.9L283.5 202.9L283.7 201.8L284.1 203.0L284.8 201.6L285.0 204.1L285.9 201.3L286.5 199.6L287.0 203.6L287.2 205.1L287.4 201.3L288.5 200.1L288.7 205.6L289.1 200.0L289.6 205.3L290.2 200.9L290.4 205.1L291.1 199.8L291.3 202.4L292.2 204.1L292.8 199.3L293.3 203.2L293.5 198.8L294.6 203.2L295.0 200.2L295.2 204.0L295.6 198.8L296.1 200.2L296.7 202.3L297.2 204.1L297.6 200.8L298.7 202.4L298.9 197.9L299.6 199.3L300.0 204.3L300.2 201.8L300.6 203.6L301.5 203.7L301.7 200.7L302.2 199.6L302.4 204.5L303.5 205.8L303.9 197.8L304.5 199.8L304.8 202.8L305.2 199.0L305.4 201.9L306.1 199.6L306.3 204.2L307.2 205.7L307.4 200.4L308.0 203.2L308.7 198.2L309.1 197.8L309.8 201.8L310.4 200.5L310.6 204.0L311.3 204.2L311.9 201.2L312.1 200.8L312.6 205.2L313.2 203.9L313.9 197.6L314.8 205.3L315.0 201.1L315.4 201.5L315.8 203.4L316.1 204.0L316.3 198.8L317.1 205.1L317.4 203.9L318.0 202.6L318.4 198.4L319.5 204.1L320.0 200.5L320.2 199.4L320.8 201.4L321.5 200.2L321.7 203.0L322.1 198.9L322.4 202.8L323.2 204.7L323.7 200.7L324.7 200.4L325.0 206.4L325.2 199.8L325.8 202.9L326.5 203.8L326.7 199.9L327.3 200.8L327.8 206.1L328.2 200.7L328.9 204.5L329.7 204.3L330.0 200.2L330.2 200.4L330.4 202.6L331.3 202.4L331.5 199.8L332.3 198.8L333.0 203.4L333.6 204.1L333.9 200.9L334.1 197.0L334.7 203.7L335.4 204.4L335.8 203.0L336.0 197.8L336.3 204.0L337.1 201.9L337.3 200.0L338.4 201.4L338.9 203.7L339.3 203.3L339.5 201.1L340.6 202.5L340.8 200.2L341.0 200.3L341.7 204.1L342.3 200.5L342.5 202.4L343.4 202.4L343.6 199.4L344.3 200.1L344.5 201.3L345.2 200.0L345.8 201.7L346.0 200.7L346.2 205.0L347.1 203.1L347.3 199.8" stroke="#0072BD" stroke-width="0.8"/>
<path d="M58.5 200.8L59.4 201.6L60.3 206.5L61.1 204.4L62.0 203.0L62.9 205.8L63.7 201.2L64.6 202.3L65.5 203.5L66.3 204.8L67.2 203.2L68.1 203.3L69.0 202.0L69.8 203.7L70.7 201.4L71.6 202.0L72.4 204.9L73.3 202.8L74.2 202.2L75.0 201.4L75.9 201.9L76.8 205.2L77.6 204.1L78.5 201.6L79.4 205.0L80.2 201.4L81.1 202.0L82.0 203.4L82.8 201.8L83.7 202.3L84.6 201.4L85.5 202.1L86.3 201.7L87.2 203.9L88.1 203.5L88.9 201.5L89.8 202.9L90.7 203.9L91.5 202.1L92.4 203.6L93.3 200.5L94.1 203.2L95.0 201.7L95.9 202.9L96.7 201.1L97.6 203.1L98.5 201.7L99.4 202.0L100.2 202.5L101.1 202.9L102.0 204.4L102.8 203.4L103.7 203.7L104.6 203.3L105.4 201.8L106.3 199.0L107.2 200.7L108.0 202.6L108.9 200.8L109.8 200.4L110.6 202.7L111.5 202.7L112.4 203.5L113.2 202.2L114.1 202.1L115.0 202.3L115.9 203.5L116.7 204.0L117.6 203.1L118.5 203.1L119.3 202.5L120.2 202.6L121.1 204.2L121.9 204.1L122.8 203.3L123.7 199.9L124.5 204.1L125.4 202.4L126.3 202.7L127.1 203.0L128.0 205.5L128.9 204.6L129.8 205.5L130.6 202.7L131.5 198.5L132.4 202.9L133.2 203.6L134.1 200.0L135.0 203.5L135.8 202.2L136.7 204.5L137.6 204.9L138.4 202.6L139.3 202.3L140.2 199.6L141.0 200.4L141.9 202.3L142.8 203.3L143.6 200.9L144.5 203.1L145.4 204.5L146.3 200.6L147.1 205.9L148.0 199.8L148.9 201.5L149.7 202.1L150.6 201.6L151.5 203.0L152.3 201.5L153.2 200.6L154.1 203.1L154.9 201.7L155.8 200.9L156.7 201.2L157.5 202.7L158.4 201.9L159.3 205.2L160.2 202.0L161.0 202.2L161.9 204.5L162.8 203.7L163.6 205.0L164.5 202.2L165.4 200.4L166.2 201.0L167.1 205.0L168.0 202.5L168.8 202.4L169.7 204.2L170.6 201.2L171.4 204.1L172.3 205.2L173.2 202.3L174.0 205.1L174.9 205.5L175.8 200.1L176.7 202.6L177.5 202.8L178.4 201.9L179.3 201.7L180.1 200.2L181.0 203.2L181.9 204.9L182.7 204.5L183.6 202.4L184.5 201.7L185.3 202.1L186.2 201.0L187.1 205.2L187.9 201.8L188.8 202.0L189.7 202.8L190.6 201.3L191.4 202.3L192.3 201.0L193.2 204.0L194.0 201.8L194.9 205.6L195.8 203.8L196.6 202.2L197.5 202.4L198.4 199.1L199.2 199.1L200.1 201.5L201.0 200.7L201.8 203.0L202.7 202.0L203.6 200.6L204.4 199.3L205.3 203.1L206.2 203.0L207.1 202.9L207.9 200.8L208.8 202.7L209.7 202.7L210.5 204.7L211.4 203.1L212.3 202.4L213.1 201.7L214.0 200.8L214.9 170.1M276.0 199.6L276.9 201.4L277.8 203.1L278.6 203.4L279.5 203.7L280.4 202.0L281.2 201.0L282.1 204.3L283.0 202.0L283.8 201.5L284.7 200.7L285.6 201.8L286.4 202.2L287.3 201.8L288.2 203.3L289.1 202.9L289.9 202.3L290.8 206.8L291.7 202.2L292.5 203.1L293.4 200.0L294.3 204.1L295.1 203.5L296.0 203.9L296.9 201.8L297.7 200.2L298.6 203.0L299.5 203.5L300.3 202.3L301.2 200.1L302.1 202.9L302.9 204.3L303.8 203.1L304.7 201.4L305.6 198.8L306.4 202.0L307.3 203.2L308.2 203.0L309.0 202.8L309.9 203.1L310.8 201.3L311.6 202.8L312.5 202.6L313.4 201.6L314.2 204.5L315.1 204.2L316.0 203.3L316.8 202.9L317.7 201.1L318.6 203.0L319.5 203.0L320.3 205.4L321.2 203.0L322.1 201.4L322.9 202.6L323.8 200.6L324.7 204.0L325.5 200.4L326.4 201.9L327.3 200.6L328.1 201.9L329.0 200.1L329.9 201.1L330.7 201.3L331.6 203.2L332.5 203.1L333.3 201.6L334.2 205.6L335.1 201.7L336.0 201.6L336.8 200.8L337.7 203.0L338.6 203.8L339.4 203.2L340.3 200.6L341.2 201.1L342.0 200.4L342.9 202.0L343.8 202.0L344.6 203.9L345.5 202.3L346.4 203.9L347.2 203.1" stroke="#4DBEEE" stroke-width="0.45"/>
<path d="M58.1 203.3L59.0 201.1L59.9 200.8L60.7 204.1L61.6 201.8L62.5 200.4L63.3 201.7L64.2 202.6L65.1 200.6L66.0 202.4L66.8 203.5L67.7 202.3L68.6 205.5L69.4 202.8L70.3 202.6L71.2 201.3L72.0 204.1L72.9 199.0L73.8 202.4L74.6 201.1L75.5 203.3L76.4 204.4L77.2 202.6L78.1 202.8L79.0 202.9L79.8 202.8L80.7 202.1L81.6 202.8L82.5 203.3L83.3 201.0L84.2 204.9L85.1 201.7L85.9 199.7L86.8 203.9L87.7 201.6L88.5 201.8L89.4 200.9L90.3 200.4L91.1 203.2L92.0 205.3L92.9 202.0L93.7 201.2L94.6 200.4L95.5 199.5L96.4 203.8L97.2 203.2L98.1 203.2L99.0 204.3L99.8 203.3L100.7 204.4L101.6 202.9L102.4 204.0L103.3 201.8L104.2 202.0L105.0 202.8L105.9 203.8L106.8 201.7L107.6 203.0L108.5 202.3L109.4 203.2L110.2 202.6L111.1 201.1L112.0 201.2L112.9 203.6L113.7 202.5L114.6 204.9L115.5 200.8L116.3 201.5L117.2 202.1L118.1 200.5L118.9 202.3L119.8 200.6L120.7 201.9L121.5 201.1L122.4 202.1L123.3 201.1L124.1 203.0L125.0 200.8L125.9 201.7L126.8 202.8L127.6 203.9L128.5 201.6L129.4 201.1L130.2 203.4L131.1 198.9L132.0 204.4L132.8 204.3L133.7 201.4L134.6 203.0L135.4 203.0L136.3 203.8L137.2 203.5L138.0 205.5L138.9 202.1L139.8 200.4L140.6 200.8L141.5 202.0L142.4 202.5L143.3 202.8L144.1 205.0L145.0 202.2L145.9 200.6L146.7 202.3L147.6 203.0L148.5 203.0L149.3 204.0L150.2 200.5L151.1 201.5L151.9 202.2L152.8 201.9L153.7 205.3L154.5 203.0L155.4 204.0L156.3 200.4L157.2 202.2L158.0 201.6L158.9 203.4L159.8 202.9L160.6 202.7L161.5 204.9L162.4 200.9L163.2 203.2L164.1 204.8L165.0 202.5L165.8 199.9L166.7 203.3L167.6 202.7L168.4 202.4L169.3 200.2L170.2 202.4L171.0 200.7L171.9 204.5L172.8 201.5L173.7 202.1L174.5 204.1L175.4 202.9L176.3 202.5L177.1 203.8L178.0 201.6L178.9 202.8L179.7 204.7L180.6 203.4L181.5 201.0L182.3 198.4L183.2 200.9L184.1 201.8L184.9 200.8L185.8 201.5L186.7 206.3L187.6 205.3L188.4 200.4L189.3 201.2L190.2 201.9L191.0 197.9L191.9 201.6L192.8 201.9L193.6 201.5L194.5 203.7L195.4 203.5L196.2 203.6L197.1 204.7L198.0 201.9L198.8 204.3L199.7 203.9L200.6 201.0L201.4 204.7L202.3 202.9L203.2 202.2L204.1 201.9L204.9 204.1L205.8 203.7L206.7 198.9L207.5 202.7L208.4 200.4L209.3 200.9L210.1 200.2L211.0 202.0L211.9 201.5L212.7 202.1L213.6 201.3L214.5 195.3M276.1 200.7L277.0 202.0L277.9 203.2L278.7 203.7L279.6 202.6L280.5 201.3L281.3 202.1L282.2 202.4L283.1 201.8L283.9 202.0L284.8 202.7L285.7 204.7L286.5 203.2L287.4 201.7L288.3 202.8L289.1 202.2L290.0 203.0L290.9 200.9L291.8 202.6L292.6 199.8L293.5 202.9L294.4 203.3L295.2 202.7L296.1 204.1L297.0 204.8L297.8 203.0L298.7 202.9L299.6 203.8L300.4 202.9L301.3 202.3L302.2 204.2L303.0 203.6L303.9 202.2L304.8 201.9L305.6 204.4L306.5 203.3L307.4 203.2L308.3 200.2L309.1 202.6L310.0 198.4L310.9 203.5L311.7 204.0L312.6 202.4L313.5 201.5L314.3 204.0L315.2 203.9L316.1 203.7L316.9 205.3L317.8 201.7L318.7 203.0L319.5 203.2L320.4 202.0L321.3 202.8L322.2 200.9L323.0 203.1L323.9 200.4L324.8 204.6L325.6 202.3L326.5 204.0L327.4 204.9L328.2 200.8L329.1 201.7L330.0 205.1L330.8 200.9L331.7 203.8L332.6 201.6L333.4 201.3L334.3 202.0L335.2 204.9L336.0 203.3L336.9 201.6L337.8 204.0L338.7 205.0L339.5 203.2L340.4 201.5L341.3 201.1L342.1 203.8L343.0 204.8L343.9 202.7L344.7 200.7L345.6 203.0L346.5 199.5L347.3 202.3" stroke="#77AC30" stroke-width="0.45"/>
<path d="M58.6 200.6L59.5 201.4L60.4 200.6L61.2 203.8L62.1 203.6L63.0 201.6L63.8 201.4L64.7 200.7L65.6 202.5L66.4 203.7L67.3 203.2L68.2 203.0L69.1 203.7L69.9 205.6L70.8 203.5L71.7 203.9L72.5 201.5L73.4 203.7L74.3 200.3L75.1 204.3L76.0 202.6L76.9 204.4L77.7 201.4L78.6 202.1L79.5 201.3L80.3 201.3L81.2 199.5L82.1 204.2L83.0 202.0L83.8 203.2L84.7 202.6L85.6 201.8L86.4 202.1L87.3 205.7L88.2 203.2L89.0 199.9L89.9 201.9L90.8 200.9L91.6 203.5L92.5 203.6L93.4 202.0L94.2 200.8L95.1 204.1L96.0 202.1L96.8 200.8L97.7 200.7L98.6 203.2L99.5 202.7L100.3 204.7L101.2 204.2L102.1 201.9L102.9 203.2L103.8 203.6L104.7 205.1L105.5 202.2L106.4 201.7L107.3 202.2L108.1 206.4L109.0 200.2L109.9 204.7L110.7 202.6L111.6 202.6L112.5 197.9L113.4 201.3L114.2 203.7L115.1 199.2L116.0 199.7L116.8 203.0L117.7 205.0L118.6 203.4L119.4 202.7L120.3 199.8L121.2 202.3L122.0 203.0L122.9 203.8L123.8 201.0L124.6 202.0L125.5 203.7L126.4 200.5L127.2 200.5L128.1 203.9L129.0 201.7L129.9 205.0L130.7 200.9L131.6 201.9L132.5 200.9L133.3 201.6L134.2 202.1L135.1 200.4L135.9 201.5L136.8 203.3L137.7 201.5L138.5 204.1L139.4 202.1L140.3 203.9L141.1 201.8L142.0 204.0L142.9 202.1L143.8 204.0L144.6 200.4L145.5 202.4L146.4 201.9L147.2 204.8L148.1 202.5L149.0 202.5L149.8 202.0L150.7 201.4L151.6 202.0L152.4 203.1L153.3 202.5L154.2 203.9L155.0 203.1L155.9 202.6L156.8 200.2L157.6 205.1L158.5 203.6L159.4 203.7L160.3 201.5L161.1 201.4L162.0 203.5L162.9 201.6L163.7 198.7L164.6 202.3L165.5 201.7L166.3 201.8L167.2 201.7L168.1 203.2L168.9 201.4L169.8 204.2L170.7 202.6L171.5 204.0L172.4 200.8L173.3 201.5L174.2 203.2L175.0 203.4L175.9 202.2L176.8 205.7L177.6 203.9L178.5 202.8L179.4 202.4L180.2 201.8L181.1 203.2L182.0 200.0L182.8 201.6L183.7 203.7L184.6 204.0L185.4 202.9L186.3 202.8L187.2 200.9L188.0 201.6L188.9 200.7L189.8 204.7L190.7 203.3L191.5 203.6L192.4 200.9L193.3 204.3L194.1 204.8L195.0 201.9L195.9 202.0L196.7 201.5L197.6 204.1L198.5 201.5L199.3 204.0L200.2 201.6L201.1 203.0L201.9 203.5L202.8 201.1L203.7 202.2L204.6 202.1L205.4 204.4L206.3 203.0L207.2 204.8L208.0 203.8L208.9 201.9L209.8 202.3L210.6 202.4L211.5 203.5L212.4 200.5L213.2 202.8L214.1 202.2L215.0 170.3M276.0 201.3L276.9 200.6L277.7 202.0L278.6 202.3L279.5 203.7L280.3 200.2L281.2 203.0L282.1 202.0L282.9 202.1L283.8 203.3L284.7 202.7L285.5 202.3L286.4 202.5L287.3 202.3L288.1 202.4L289.0 203.6L289.9 202.7L290.7 203.5L291.6 201.1L292.5 202.6L293.4 200.5L294.2 200.8L295.1 202.3L296.0 202.0L296.8 200.5L297.7 201.6L298.6 204.6L299.4 201.1L300.3 201.4L301.2 204.5L302.0 204.5L302.9 201.9L303.8 203.1L304.6 202.2L305.5 203.2L306.4 201.9L307.3 202.6L308.1 202.1L309.0 202.8L309.9 203.3L310.7 201.5L311.6 204.7L312.5 202.9L313.3 199.6L314.2 202.4L315.1 202.6L315.9 201.4L316.8 203.0L317.7 202.0L318.5 204.7L319.4 201.3L320.3 203.2L321.1 203.2L322.0 202.6L322.9 202.4L323.8 202.8L324.6 201.8L325.5 203.5L326.4 203.3L327.2 202.5L328.1 204.8L329.0 201.3L329.8 203.9L330.7 202.2L331.6 202.4L332.4 202.0L333.3 199.5L334.2 203.5L335.0 202.6L335.9 206.5L336.8 199.3L337.7 200.5L338.5 201.2L339.4 203.1L340.3 204.5L341.1 201.5L342.0 204.3L342.9 202.7L343.7 204.4L344.6 201.8L345.5 200.4L346.3 203.3L347.2 201.3" stroke="#7E2F8E" stroke-width="0.45"/>
<path d="M58.7 201.5L59.6 201.3L60.4 204.9L61.3 203.3L62.2 204.2L63.0 205.9L63.9 201.0L64.8 202.1L65.6 205.0L66.5 201.5L67.4 199.8L68.2 202.7L69.1 200.9L70.0 200.4L70.8 203.3L71.7 204.7L72.6 203.4L73.5 202.8L74.3 202.2L75.2 203.0L76.1 201.8L76.9 203.5L77.8 202.8L78.7 201.7L79.5 202.9L80.4 201.2L81.3 201.4L82.1 202.1L83.0 203.1L83.9 201.9L84.7 200.9L85.6 202.7L86.5 202.9L87.3 200.5L88.2 203.6L89.1 201.3L90.0 205.3L90.8 201.5L91.7 203.3L92.6 203.1L93.4 203.1L94.3 201.4L95.2 201.6L96.0 202.3L96.9 206.6L97.8 204.8L98.6 203.0L99.5 204.1L100.4 200.0L101.2 201.1L102.1 201.5L103.0 203.8L103.9 204.7L104.7 204.2L105.6 202.3L106.5 202.2L107.3 202.3L108.2 204.6L109.1 199.8L109.9 201.5L110.8 201.2L111.7 206.4L112.5 201.7L113.4 202.1L114.3 202.1L115.1 207.5L116.0 203.4L116.9 202.1L117.7 203.3L118.6 201.5L119.5 202.6L120.4 202.0L121.2 202.1L122.1 200.7L123.0 200.7L123.8 205.5L124.7 201.0L125.6 202.0L126.4 200.4L127.3 201.4L128.2 203.1L129.0 204.9L129.9 200.6L130.8 201.1L131.6 200.9L132.5 201.8L133.4 205.1L134.3 200.1L135.1 203.4L136.0 201.8L136.9 204.2L137.7 203.4L138.6 204.8L139.5 200.9L140.3 204.8L141.2 202.5L142.1 203.8L142.9 201.6L143.8 202.7L144.7 201.1L145.5 201.2L146.4 204.3L147.3 202.2L148.1 201.8L149.0 202.7L149.9 203.6L150.8 202.4L151.6 200.3L152.5 203.4L153.4 203.2L154.2 201.4L155.1 205.2L156.0 202.2L156.8 204.2L157.7 199.3L158.6 206.0L159.4 203.6L160.3 203.8L161.2 203.4L162.0 205.1L162.9 205.1L163.8 205.5L164.7 203.9L165.5 201.1L166.4 203.3L167.3 199.8L168.1 201.8L169.0 204.0L169.9 201.4L170.7 203.8L171.6 200.1L172.5 200.4L173.3 203.2L174.2 202.0L175.1 201.0L175.9 202.7L176.8 201.4L177.7 202.1L178.5 203.2L179.4 202.7L180.3 204.4L181.2 201.8L182.0 204.1L182.9 204.1L183.8 202.0L184.6 204.7L185.5 202.1L186.4 203.7L187.2 201.8L188.1 201.3L189.0 200.3L189.8 201.6L190.7 204.6L191.6 201.3L192.4 201.0L193.3 203.7L194.2 203.5L195.1 205.0L195.9 201.9L196.8 201.9L197.7 202.5L198.5 200.3L199.4 199.5L200.3 203.3L201.1 204.4L202.0 202.5L202.9 204.7L203.7 204.0L204.6 201.8L205.5 203.2L206.3 202.4L207.2 200.3L208.1 202.7L208.9 201.4L209.8 202.2L210.7 200.6L211.6 200.9L212.4 202.9L213.3 200.2L214.2 200.2L215.0 190.5M276.8 200.9L277.6 200.1L278.5 202.0L279.4 202.9L280.2 200.2L281.1 200.6L282.0 204.7L282.8 202.9L283.7 201.0L284.6 203.2L285.5 203.4L286.3 198.3L287.2 203.6L288.1 202.4L288.9 201.0L289.8 203.1L290.7 204.1L291.5 202.7L292.4 203.2L293.3 202.0L294.1 202.0L295.0 203.7L295.9 203.0L296.7 204.2L297.6 201.5L298.5 202.7L299.3 202.0L300.2 199.9L301.1 206.2L302.0 202.1L302.8 203.8L303.7 199.8L304.6 204.9L305.4 202.3L306.3 202.0L307.2 203.2L308.0 202.4L308.9 200.3L309.8 204.2L310.6 201.8L311.5 201.3L312.4 203.7L313.2 200.5L314.1 198.5L315.0 202.5L315.9 206.2L316.7 202.8L317.6 202.9L318.5 202.7L319.3 202.5L320.2 201.9L321.1 202.2L321.9 205.0L322.8 202.6L323.7 202.3L324.5 202.6L325.4 206.0L326.3 201.3L327.1 202.0L328.0 200.6L328.9 199.3L329.7 201.6L330.6 200.2L331.5 200.7L332.4 202.4L333.2 204.9L334.1 202.9L335.0 202.7L335.8 204.7L336.7 202.6L337.6 202.4L338.4 205.3L339.3 202.3L340.2 203.4L341.0 203.2L341.9 201.7L342.8 203.4L343.6 202.6L344.5 202.4L345.4 202.0L346.3 204.4L347.1 202.1L348.0 202.0" stroke="#4DBEEE" stroke-width="0.45"/>
<path d="M44.2 54.9L44.4 51.5L44.7 38.6L44.9 50.1L45.1 35.8L45.3 34.1L45.5 60.5L45.7 37.2L46.2 48.3L46.4 56.8L46.6 48.3L46.8 36.0L47.0 23.4L47.5 52.4L47.7 46.5L47.9 27.5L48.1 36.2L48.3 43.8L48.6 51.5L49.0 29.4L49.2 39.2L49.4 37.8L49.6 49.3L49.9 48.5L50.1 39.1L50.3 58.7L50.5 31.2L51.0 52.6L51.2 35.4L51.4 27.8L51.6 56.1L51.8 50.7L52.3 61.7L52.5 34.5L52.7 58.6L52.9 30.3L53.1 31.2L53.3 54.1L53.8 34.7L54.0 53.5L54.2 69.3L54.4 79.4L54.6 75.7L54.9 93.3L55.1 113.9L55.3 111.1L55.5 132.8L55.9 163.7L56.2 174.3L56.4 180.1L56.6 186.8L56.8 192.0L57.0 196.3L57.5 201.8L57.7 203.1L57.9 204.1L59.0 206.7L59.2 206.5L61.2 207.8L62.0 207.0L62.9 207.8L66.8 207.5L67.0 207.0L69.4 206.4L70.9 207.7L71.8 207.0L73.3 207.8L75.7 206.8L76.1 207.8L79.0 207.5L79.8 206.9L81.4 207.7L82.9 206.9L84.2 207.8L85.5 206.8L88.3 206.9L89.0 207.7L90.7 207.7L90.9 207.0L92.4 207.4L93.3 206.6L96.6 206.8L97.6 207.6L99.6 206.8L100.7 207.7L101.8 207.6L102.8 206.9L104.4 206.9L105.5 207.8L107.6 207.5L107.8 206.8L110.0 206.9L111.3 207.5L114.6 207.6L115.0 206.7L117.6 207.5L117.8 206.8L119.4 207.5L121.3 206.9L123.7 206.8L123.9 207.7L127.2 207.6L127.6 206.7L128.7 207.7L129.1 206.5L132.4 206.8L133.0 207.7L134.6 206.7L136.7 207.7L137.2 207.7L138.0 206.9L140.6 206.6L141.5 207.7L143.0 207.6L144.5 206.7L146.7 207.8L148.0 206.6L149.5 206.9L151.5 207.4L154.1 207.4L154.7 206.7L156.3 206.7L157.8 207.4L158.2 207.5L160.2 207.0L162.1 207.8L163.9 206.7L164.7 207.6L165.4 206.7L167.3 206.5L168.6 207.7L170.8 206.9L171.5 207.6L173.9 207.5L174.7 207.0L176.7 206.8L177.5 207.7L179.7 206.6L181.7 208.1L182.3 207.6L183.6 206.7L186.4 206.7L186.7 207.5L189.7 207.6L190.1 206.9L191.2 206.7L192.1 207.4L194.7 207.7L196.4 206.7L197.7 207.6L199.7 206.8L202.3 206.8L203.0 207.8L204.5 206.7L205.3 207.6L206.4 206.6L208.4 207.8L209.0 206.6L211.2 207.4L213.2 207.6L214.5 205.6L214.7 203.6L214.9 199.3L215.1 187.5L215.3 168.0L215.5 139.0L216.0 88.9L216.2 69.2L216.4 46.6L216.6 43.8L216.8 57.2L217.3 60.5L217.5 39.2L217.7 63.6L217.9 49.4L218.2 58.3L218.4 57.0L218.6 53.6L218.8 46.8L219.0 36.6L219.2 50.1L219.7 38.6L219.9 44.9L220.1 47.6L220.3 42.4L220.8 56.8L221.0 46.9L221.2 41.2L221.4 63.9L221.6 45.6L221.8 56.4L222.1 60.3L222.3 51.1L222.7 56.3L222.9 50.0L223.1 59.5L223.4 63.8L223.6 46.8L223.8 56.3L224.2 50.8L224.4 40.6L224.7 42.5L224.9 46.2L225.1 45.6L225.3 40.1L225.5 47.4L225.8 61.3L226.2 37.9L226.4 50.0L226.6 58.7L226.8 36.8L227.3 39.3L227.5 50.7L227.7 54.3L227.9 42.6L228.1 33.8L228.4 41.2L228.6 53.7L228.8 39.5L229.0 35.5L229.2 47.7L229.7 38.5L229.9 55.3L230.1 38.6L230.3 58.4L230.7 34.5L231.0 47.8L231.2 35.5L231.4 60.7L231.6 32.5L231.8 43.8L232.0 35.0L232.3 50.6L232.7 46.3L232.9 57.1L233.1 43.4L233.4 38.8L233.6 53.3L233.8 51.3L234.0 55.4L234.4 41.9L234.7 48.1L234.9 59.5L235.1 46.5L235.3 43.9L235.5 49.9L235.7 42.4L236.2 45.1L236.4 39.7L236.6 57.8L236.8 44.1L237.0 37.0L237.3 51.9L237.7 47.5L237.9 55.6L238.1 53.8L238.3 58.6L238.6 40.3L238.8 43.7L239.2 33.5L239.4 53.9L239.6 49.2L239.9 53.0L240.1 48.5L240.3 55.2L240.5 33.2L241.0 51.3L241.2 54.3L241.4 34.9L241.6 40.6L241.8 47.5L242.3 41.2L242.5 34.0L242.7 34.7L242.9 55.2L243.1 44.7L243.3 47.2L243.6 34.2L244.0 50.5L244.2 48.1L244.4 57.0L244.6 37.3L244.9 55.5L245.1 55.8L245.3 40.7L245.5 31.2L245.9 53.3L246.2 38.7L246.4 35.5L246.6 40.7L246.8 54.4L247.0 52.0L247.2 31.8L247.7 53.4L247.9 52.6L248.1 52.8L248.3 37.7L248.6 55.9L248.8 35.1L249.2 35.5L249.4 54.4L249.6 54.7L249.9 51.0L250.1 45.1L250.3 37.3L250.5 51.5L250.7 33.2L251.2 51.6L251.4 41.8L251.6 55.0L251.8 44.3L252.2 52.8L252.5 32.8L252.7 52.2L252.9 35.7L253.1 50.1L253.3 53.2L253.8 43.3L254.0 34.2L254.2 32.6L254.4 53.1L254.6 51.8L254.8 55.6L255.1 35.8L255.3 39.5L255.7 38.3L255.9 52.0L256.2 33.4L256.4 48.2L256.6 37.9L256.8 51.4L257.2 46.9L257.5 49.9L257.7 55.5L257.9 49.5L258.1 41.5L258.3 31.3L258.5 33.8L259.0 48.5L259.2 50.6L259.4 40.7L259.6 43.4L259.8 54.9L260.1 30.1L260.5 48.3L260.7 43.3L260.9 39.8L261.1 33.9L261.4 37.4L261.6 46.2L261.8 46.1L262.2 48.3L262.4 33.8L262.7 40.4L262.9 37.0L263.1 54.1L263.3 49.1L263.5 32.8L264.0 42.1L264.2 44.7L264.4 40.4L264.6 46.8L264.8 34.1L265.3 36.2L265.5 44.2L265.7 33.5L265.9 48.0L266.1 51.0L266.4 48.5L266.6 50.2L266.8 35.9L267.0 46.6L267.4 31.2L267.7 51.5L267.9 48.4L268.1 51.0L268.3 50.9L268.5 39.3L268.7 45.0L269.2 43.5L269.4 45.8L269.6 39.3L269.8 36.7L270.0 52.8L270.5 43.4L270.7 41.6L270.9 47.9L271.1 55.6L271.4 59.8L271.6 72.9L271.8 88.7L272.0 92.0L272.4 115.4L272.7 134.6L272.9 147.9L273.1 160.4L273.3 172.3L273.5 181.5L274.0 192.1L274.2 196.5L274.4 199.7L274.6 201.7L274.8 203.6L275.0 204.1L277.6 207.5L278.3 207.0L280.9 207.6L282.0 207.5L283.5 206.6L284.2 207.5L284.8 206.8L288.7 207.3L288.9 206.8L290.5 206.7L291.3 207.8L293.5 206.8L295.7 207.7L296.1 206.9L296.5 207.9L299.8 207.5L301.1 206.8L302.8 206.8L303.5 207.7L305.4 207.5L305.7 206.6L309.6 206.9L310.0 207.8L312.0 207.7L313.7 206.9L316.1 207.6L316.7 206.8L318.7 206.6L319.3 207.4L320.2 206.9L322.6 207.6L323.0 206.7L323.7 207.3L328.7 206.7L328.9 207.5L330.2 206.6L330.6 207.5L332.6 207.7L334.5 206.8L335.2 206.7L336.5 207.6L339.3 207.6L339.5 206.6L342.8 207.6L343.4 206.7L344.3 207.4L346.5 206.8L347.1 207.2L347.4 207.2" stroke="#D95319" stroke-width="0.9"/>
<path d="M44.2 38.5L44.5 56.6L44.7 32.3L44.9 29.4L45.1 50.9L45.3 30.2L45.8 52.0L46.0 27.9L46.2 44.2L46.4 33.3L46.6 56.3L46.8 31.2L47.1 36.9L47.3 56.7L47.7 38.7L47.9 55.9L48.2 49.3L48.4 25.4L48.6 34.1L48.8 54.0L49.0 59.3L49.5 26.1L49.7 27.9L49.9 53.6L50.1 53.5L50.3 54.6L50.5 55.6L50.8 43.2L51.2 21.9L51.4 59.3L51.6 29.1L51.8 48.3L52.1 58.8L52.5 28.4L52.7 47.7L52.9 39.4L53.1 54.4L53.4 27.1L53.6 43.1L53.8 57.0L54.0 48.1L54.4 67.5L54.7 56.4L54.9 61.9L55.1 85.1L55.3 103.8L55.5 104.2L56.0 126.5L56.2 147.3L56.4 161.3L56.6 166.6L56.8 179.0L57.1 186.1L57.5 197.5L57.7 198.3L57.9 202.3L58.1 203.2L58.4 205.0L58.8 205.7L59.0 206.1L61.2 207.7L62.7 207.5L63.1 206.6L66.8 207.4L67.3 206.8L68.6 206.9L69.6 207.7L71.2 207.7L71.4 206.7L75.7 206.5L75.9 207.8L78.8 206.8L79.9 207.7L80.9 207.4L82.0 206.8L84.2 207.6L84.4 206.8L87.5 207.4L88.3 206.6L90.7 206.9L91.1 207.8L92.4 208.2L94.0 206.6L95.5 206.8L95.7 207.8L98.3 207.8L99.4 206.8L101.1 206.9L103.1 207.4L104.4 206.9L104.8 207.5L108.1 207.6L108.3 207.0L111.1 207.6L112.9 206.8L113.1 207.8L115.5 206.8L116.1 207.6L118.5 206.9L120.7 207.6L121.1 206.7L122.2 206.8L124.2 207.7L126.5 206.6L127.4 207.5L128.7 206.8L129.8 207.6L132.4 206.8L132.6 207.5L134.1 206.8L135.9 207.7L137.2 207.6L139.1 206.8L140.0 207.5L141.5 206.8L143.9 207.6L144.1 206.8L146.7 208.1L148.3 206.8L151.5 207.7L151.9 206.5L153.5 207.9L154.3 206.8L156.3 207.0L156.7 207.5L158.7 207.7L160.2 206.6L161.1 206.7L161.5 207.3L166.1 207.6L166.9 206.7L168.9 207.6L169.8 206.5L171.9 206.8L172.4 207.6L173.2 207.4L175.0 206.7L177.4 206.7L178.4 207.7L179.1 207.6L180.4 206.9L182.6 207.5L183.6 207.0L185.2 206.9L187.8 207.8L188.2 207.6L189.5 206.6L192.1 207.5L193.9 206.7L195.2 207.5L196.5 206.8L197.1 206.6L198.8 207.7L202.8 208.0L203.0 206.9L205.6 207.5L205.8 206.6L206.7 207.7L208.8 206.6L210.4 206.7L210.8 207.4L213.4 207.6L214.3 204.9L214.5 202.6L214.7 197.3L214.9 184.5L215.1 160.6L215.4 125.4L215.6 93.8L215.8 81.7L216.0 70.1L216.4 43.0L216.7 52.1L216.9 51.6L217.1 53.9L217.3 39.7L217.5 36.7L218.0 50.5L218.2 48.7L218.4 54.3L218.6 62.5L218.8 36.8L219.0 56.6L219.5 42.2L219.7 48.0L219.9 51.4L220.1 52.2L220.3 44.7L220.6 62.3L220.8 50.6L221.2 51.2L221.4 53.4L221.6 45.9L221.9 44.5L222.1 58.5L222.3 39.9L222.5 43.3L222.7 52.1L223.2 48.7L223.4 38.0L223.6 46.9L223.8 39.0L224.0 58.3L224.5 37.5L224.7 61.9L224.9 62.9L225.1 57.6L225.3 52.3L225.6 37.9L225.8 61.1L226.2 44.0L226.4 61.6L226.6 50.2L226.9 41.1L227.1 46.6L227.3 39.6L227.5 44.3L227.7 58.0L228.2 56.6L228.4 36.1L228.6 38.0L228.8 49.9L229.0 54.8L229.2 38.8L229.7 59.4L229.9 55.3L230.1 48.9L230.3 41.3L230.6 41.2L231.0 35.8L231.2 59.6L231.4 56.6L231.6 49.3L231.9 46.7L232.1 59.2L232.3 36.3L232.7 39.1L232.9 58.9L233.2 39.2L233.4 48.3L233.6 36.7L233.8 42.6L234.0 56.9L234.5 52.1L234.7 56.1L234.9 37.7L235.1 49.4L235.3 46.6L235.5 48.0L236.0 57.4L236.2 53.4L236.4 47.9L236.6 45.6L236.8 34.8L237.1 60.9L237.3 36.5L237.7 46.2L237.9 33.3L238.2 51.6L238.4 43.0L238.6 53.8L238.8 45.7L239.2 62.0L239.5 37.0L239.7 52.4L239.9 39.1L240.1 56.0L240.3 43.4L240.5 49.5L241.0 52.3L241.2 36.1L241.4 55.1L241.6 47.2L241.8 36.7L242.1 41.2L242.5 57.7L242.7 47.9L242.9 37.5L243.1 55.9L243.4 45.3L243.6 54.8L243.8 38.0L244.2 51.5L244.4 54.6L244.7 44.8L244.9 37.8L245.1 38.9L245.3 54.8L245.8 34.1L246.0 37.1L246.2 46.0L246.4 42.4L246.6 45.9L246.8 54.3L247.3 53.4L247.5 59.0L247.7 49.7L247.9 46.2L248.1 30.3L248.4 51.6L248.6 42.3L248.8 48.5L249.2 32.8L249.4 52.5L249.7 51.2L249.9 51.6L250.1 55.0L250.3 38.5L250.5 41.9L250.7 37.8L251.2 47.2L251.4 37.9L251.6 51.7L251.8 35.2L252.0 42.8L252.3 55.2L252.7 43.9L252.9 39.6L253.1 33.5L253.4 37.6L253.6 45.9L253.8 54.9L254.2 57.4L254.4 38.5L254.7 35.9L254.9 55.3L255.1 50.8L255.3 44.2L255.5 38.5L256.0 48.2L256.2 37.5L256.4 53.8L256.6 41.9L256.8 55.0L257.0 53.2L257.3 38.4L257.7 42.5L257.9 41.9L258.1 45.5L258.3 48.7L258.6 37.6L259.0 53.2L259.2 40.0L259.4 39.0L259.6 46.5L259.9 38.2L260.1 40.3L260.3 32.6L260.7 54.6L261.0 42.5L261.2 45.6L261.4 37.2L261.6 41.6L261.8 34.0L262.0 35.0L262.5 53.2L262.7 52.5L262.9 43.5L263.1 33.8L263.3 43.9L263.6 51.6L263.8 38.3L264.2 51.7L264.4 50.2L264.6 40.8L264.9 40.2L265.1 38.3L265.3 42.2L265.5 36.1L265.9 48.8L266.2 38.8L266.4 49.7L266.6 51.1L266.8 38.6L267.0 52.6L267.5 34.3L267.7 38.1L267.9 44.1L268.1 48.1L268.3 32.2L268.6 37.3L268.8 48.1L269.2 40.8L269.4 47.5L269.6 44.9L269.9 46.7L270.1 39.2L270.3 51.0L270.5 38.5L270.7 46.4L271.2 53.8L271.4 45.4L271.6 58.5L271.8 53.1L272.0 67.5L272.5 83.4L272.7 104.2L272.9 110.4L273.1 124.8L273.3 142.4L273.5 154.2L274.0 178.6L274.2 183.9L274.4 190.6L274.6 195.4L274.8 199.0L275.1 201.1L275.3 203.3L275.5 203.9L277.5 207.5L278.3 207.6L279.0 206.9L281.4 206.7L283.3 207.7L284.8 207.0L285.5 207.9L287.7 206.9L288.7 207.6L290.7 206.8L292.0 207.7L293.5 206.9L295.3 207.6L296.8 207.5L298.5 206.5L299.6 206.8L301.6 207.9L303.3 206.8L303.9 207.6L305.2 207.6L305.9 206.6L308.5 206.5L310.7 207.6L311.1 206.5L313.3 207.6L315.7 206.8L316.8 207.7L317.4 207.9L318.3 206.9L320.0 207.5L321.5 206.7L323.1 207.6L324.4 206.6L327.0 206.9L328.7 207.6L329.6 207.8L330.7 206.7L332.8 206.7L333.9 207.7L336.5 206.8L337.8 207.6L339.8 206.8L340.2 207.6L343.2 206.5L343.9 207.4L346.3 206.6L346.9 207.4L347.2 207.1L347.4 207.6" stroke="#D95319" stroke-width="0.9"/>
<path d="M44.1 49.3L44.3 23.6L44.8 49.9L45.0 24.8L45.2 45.4L45.4 39.2L45.6 56.7L45.8 57.3L46.1 33.8L46.3 50.4L46.7 47.3L46.9 46.7L47.1 57.3L47.4 17.9L47.6 26.4L47.8 56.1L48.2 33.1L48.5 44.8L48.7 44.7L48.9 29.1L49.1 43.0L49.3 44.0L49.5 43.8L50.0 52.5L50.2 27.1L50.4 49.2L50.6 34.6L50.8 44.3L51.1 57.5L51.3 39.5L51.7 30.2L51.9 60.9L52.1 52.9L52.4 50.9L52.6 47.8L52.8 48.7L53.0 27.2L53.4 49.4L53.7 58.0L53.9 65.2L54.1 61.5L54.3 88.7L54.5 87.7L55.0 129.4L55.2 131.3L55.4 152.1L55.6 165.1L55.8 169.7L56.1 181.8L56.5 192.2L56.7 197.9L56.9 200.5L57.1 202.2L57.4 204.0L57.6 205.0L58.9 207.2L59.5 207.6L61.5 206.7L62.3 206.8L62.8 207.9L65.2 207.7L67.6 206.9L68.2 206.6L70.4 207.7L71.3 207.8L71.9 206.6L74.9 207.0L75.2 207.7L79.3 207.4L79.9 206.8L80.6 207.9L81.7 206.6L85.1 206.5L85.8 207.7L86.2 207.7L88.0 206.8L89.3 206.6L90.4 207.9L92.5 206.8L93.8 207.5L95.6 206.7L96.7 207.7L98.4 207.0L98.6 207.7L101.7 207.5L102.7 206.8L104.3 206.9L106.6 207.6L109.3 206.4L109.9 207.6L111.0 207.5L112.5 206.4L113.2 207.7L113.4 206.8L116.4 206.8L118.4 207.8L119.7 207.6L121.2 206.9L122.1 206.9L124.2 207.5L126.4 206.5L127.9 207.5L128.6 207.6L130.3 206.8L131.2 207.4L131.8 206.7L134.9 206.8L135.5 207.5L139.0 207.4L139.4 206.9L140.3 206.8L142.5 207.5L143.1 206.7L144.9 207.4L146.8 206.9L149.0 207.6L149.4 206.6L150.3 207.4L152.7 207.7L154.6 206.8L155.1 206.8L157.2 207.6L158.3 206.9L159.2 207.8L162.7 207.5L163.5 207.0L165.7 206.8L165.9 207.6L167.0 206.6L169.6 207.6L170.7 207.0L171.6 207.5L175.3 206.4L175.5 207.5L176.6 207.5L177.4 206.6L179.4 206.9L180.0 207.8L183.7 207.7L184.8 206.9L185.7 206.7L185.9 207.5L189.8 206.9L190.9 208.0L193.3 206.9L193.7 207.4L194.6 206.7L195.5 207.4L199.4 207.4L199.6 206.7L202.2 206.8L202.6 207.4L203.9 206.8L204.1 207.6L206.5 207.4L207.6 206.9L209.8 207.5L211.1 206.7L213.3 207.5L214.3 204.2L214.6 200.0L215.0 173.5L215.2 143.2L215.4 104.2L215.7 76.8L215.9 65.7L216.1 56.2L216.3 62.0L216.7 42.4L217.0 60.7L217.2 47.2L217.4 38.3L217.6 51.9L217.8 40.5L218.0 38.1L218.3 59.1L218.7 41.6L218.9 52.9L219.1 58.5L219.3 32.8L219.8 38.7L220.0 58.5L220.2 50.9L220.4 49.6L220.6 43.6L220.9 60.5L221.1 54.8L221.3 60.8L221.5 51.4L221.7 41.6L222.2 43.1L222.4 47.2L222.6 63.0L222.8 54.5L223.3 45.9L223.5 55.5L223.7 39.6L223.9 41.9L224.1 37.9L224.3 42.1L224.8 49.9L225.0 41.0L225.2 48.5L225.4 53.5L225.6 37.6L225.9 51.2L226.1 35.5L226.3 44.9L226.5 60.1L226.9 43.9L227.2 50.6L227.4 42.1L227.6 53.7L227.8 60.9L228.0 47.2L228.2 37.6L228.7 49.4L228.9 53.4L229.1 57.7L229.3 36.0L229.8 35.1L230.0 53.7L230.2 56.7L230.4 46.3L230.6 48.9L230.9 47.2L231.1 41.8L231.3 48.3L231.7 57.5L231.9 40.9L232.2 43.1L232.4 44.9L232.6 35.9L232.8 41.3L233.0 57.3L233.2 50.0L233.7 50.4L233.9 51.5L234.1 50.5L234.3 37.7L234.5 51.2L235.0 39.1L235.2 33.2L235.4 48.0L235.6 56.0L235.8 57.4L236.3 36.0L236.5 55.0L236.7 47.0L236.9 37.0L237.1 37.1L237.4 40.1L237.6 35.0L237.8 36.9L238.0 54.5L238.2 34.7L238.7 52.9L238.9 52.2L239.1 52.3L239.3 55.2L239.5 50.5L239.8 58.3L240.2 42.2L240.4 51.3L240.6 54.4L240.8 59.0L241.1 35.4L241.3 59.9L241.7 38.0L241.9 53.7L242.1 60.7L242.4 36.2L242.6 41.0L242.8 39.6L243.2 41.7L243.4 39.7L243.7 49.6L243.9 41.5L244.1 52.3L244.3 52.3L244.5 36.4L244.7 52.9L245.2 50.5L245.4 35.2L245.6 44.1L245.8 47.1L246.3 53.5L246.5 41.9L246.7 37.1L246.9 40.4L247.1 46.9L247.4 35.3L247.6 43.3L247.8 56.7L248.2 46.9L248.4 51.2L248.7 35.9L248.9 41.0L249.1 47.6L249.3 42.4L249.5 39.4L250.0 57.0L250.2 52.2L250.4 34.2L250.6 51.3L250.8 56.7L251.0 36.4L251.5 50.8L251.7 49.6L251.9 40.1L252.1 35.5L252.3 50.6L252.8 53.6L253.0 44.3L253.2 37.8L253.4 55.6L253.7 36.7L253.9 47.3L254.1 50.1L254.3 51.7L254.7 51.7L255.0 43.9L255.2 49.2L255.4 38.8L255.6 40.9L255.8 47.9L256.3 49.3L256.5 38.5L256.7 45.7L256.9 52.1L257.1 48.1L257.3 38.8L257.8 39.2L258.0 49.6L258.2 46.7L258.4 47.3L258.6 54.4L258.9 47.6L259.1 53.5L259.3 49.2L259.5 36.8L259.9 49.4L260.2 42.6L260.4 33.6L260.6 43.9L260.8 44.6L261.0 32.7L261.5 47.0L261.7 53.9L261.9 33.6L262.1 38.5L262.3 52.7L262.6 53.3L262.8 36.5L263.2 50.0L263.4 45.3L263.6 49.0L263.9 34.1L264.1 41.8L264.3 41.5L264.7 33.5L264.9 48.9L265.2 40.2L265.4 36.8L265.6 44.1L265.8 35.6L266.2 48.5L266.5 31.0L266.7 37.7L266.9 43.3L267.1 39.2L267.3 45.0L267.5 41.3L267.8 45.2L268.2 42.5L268.4 34.2L268.6 41.0L268.9 45.6L269.1 49.5L269.3 41.9L269.7 35.7L269.9 51.3L270.2 45.6L270.4 49.9L270.6 41.2L270.8 56.6L271.2 58.8L271.5 65.5L271.7 73.5L271.9 81.7L272.1 98.3L272.3 116.6L272.5 131.6L273.0 156.1L273.2 166.1L273.4 176.3L273.6 185.4L273.8 191.7L274.1 195.2L274.5 201.5L274.7 202.5L274.9 203.8L275.1 204.3L278.0 207.5L279.5 207.6L280.6 206.6L281.9 207.5L282.5 207.0L284.3 206.6L285.4 208.0L287.3 206.8L288.8 207.5L290.3 206.6L292.3 207.6L293.4 207.6L295.8 206.7L297.3 206.7L298.2 207.8L300.1 207.5L301.4 206.8L303.8 207.7L304.9 206.6L305.8 207.6L307.1 206.9L308.2 207.7L309.7 206.8L313.1 206.9L313.4 207.6L314.0 207.5L315.3 206.7L317.7 206.9L319.4 207.6L321.8 206.7L322.9 207.6L323.4 206.9L324.0 207.6L326.2 207.6L328.8 206.7L329.4 207.6L329.7 206.6L333.6 206.7L334.0 207.6L335.1 206.7L337.9 207.8L338.3 207.6L339.2 206.7L342.9 207.5L343.3 206.5L345.7 207.4L346.8 207.1L347.2 207.5L347.9 206.8" stroke="#D95319" stroke-width="0.9"/>
<path d="M57.0 207.1L58.3 207.2L59.6 207.7L60.9 207.6L62.2 207.6L63.5 207.2L64.8 207.2L66.1 207.3L67.5 207.1L68.8 207.5L70.1 207.2L71.4 207.6L72.7 207.6L74.0 207.4L75.3 207.1L76.6 207.7L77.9 207.7L79.2 207.1L80.5 207.4L81.8 207.5L83.1 207.5L84.4 207.5L85.7 207.5L87.0 207.6L88.3 207.2L89.6 207.4L90.9 207.5L92.2 207.3L93.5 207.5L94.8 207.5L96.1 207.3L97.4 207.4L98.7 207.3L100.0 207.7L101.3 207.2L102.6 207.2L103.9 207.5L105.2 207.4L106.5 207.4L107.8 207.4L109.1 207.2L110.4 207.5L111.7 207.2L113.1 207.4L114.4 207.5L115.7 207.5L117.0 207.5L118.3 207.8L119.6 207.6L120.9 207.3L122.2 207.3L123.5 207.2L124.8 207.2L126.1 207.5L127.4 207.5L128.7 207.3L130.0 207.6L131.3 207.7L132.6 207.3L133.9 207.2L135.2 207.5L136.5 207.3L137.8 207.5L139.1 207.6L140.4 207.3L141.7 207.7L143.0 207.9L144.3 207.2L145.6 207.1L146.9 207.4L148.2 207.4L149.5 207.1L150.8 207.5L152.1 207.3L153.4 207.1L154.7 207.4L156.0 207.3L157.3 207.6L158.7 207.5L160.0 207.2L161.3 207.6L162.6 207.7L163.9 207.2L165.2 207.4L166.5 207.2L167.8 207.5L169.1 207.4L170.4 207.1L171.7 207.2L173.0 207.3L174.3 207.3L175.6 207.6L176.9 207.3L178.2 207.1L179.5 207.4L180.8 207.0L182.1 207.7L183.4 207.8L184.7 207.4L186.0 207.5L187.3 207.2L188.6 207.4L189.9 207.4L191.2 207.5L192.5 207.4L193.8 207.4L195.1 207.5L196.4 207.4L197.7 207.9L199.0 207.2L200.3 207.6L201.6 207.4L202.9 207.6L204.3 207.4L205.6 207.5L206.9 207.2L208.2 207.8L209.5 207.3L210.8 207.6L212.1 207.2L213.4 207.7M275.5 207.3L276.8 207.3L278.1 207.8L279.4 207.5L280.7 207.2L282.0 207.5L283.3 207.0L284.6 207.2L285.9 207.1L287.2 207.5L288.5 207.4L289.8 207.4L291.1 207.2L292.4 207.7L293.7 207.6L295.0 207.2L296.3 207.4L297.6 207.5L298.9 207.1L300.2 207.1L301.5 207.6L302.8 207.2L304.1 207.3L305.4 207.3L306.7 207.4L308.0 207.3L309.3 207.4L310.7 207.2L312.0 207.6L313.3 207.1L314.6 207.2L315.9 207.2L317.2 207.4L318.5 206.8L319.8 207.7L321.1 207.5L322.4 207.5L323.7 207.3L325.0 207.5L326.3 207.4L327.6 207.9L328.9 207.7L330.2 207.6L331.5 207.5L332.8 207.4L334.1 207.6L335.4 207.3L336.7 208.0L338.0 207.0L339.3 207.6L340.6 207.0L341.9 207.2L343.2 207.4L344.5 207.4L345.8 207.6L347.1 207.7L348.4 207.5" stroke="#D95319" stroke-width="1.9"/>
</g></g>
<g font-size="12.7" fill="#262626" stroke="#262626" stroke-width="0.3"><text x="44.00" y="225" text-anchor="middle">0</text><text x="87.43" y="225" text-anchor="middle">10</text><text x="130.86" y="225" text-anchor="middle">20</text><text x="174.29" y="225" text-anchor="middle">30</text><text x="217.71" y="225" text-anchor="middle">40</text><text x="261.14" y="225" text-anchor="middle">50</text><text x="304.57" y="225" text-anchor="middle">60</text><text x="348.00" y="225" text-anchor="middle">70</text><text x="38.9" y="212.90" text-anchor="end">0</text><text x="38.9" y="179.42" text-anchor="end">0.2</text><text x="38.9" y="145.93" text-anchor="end">0.4</text><text x="38.9" y="112.45" text-anchor="end">0.6</text><text x="38.9" y="78.97" text-anchor="end">0.8</text><text x="38.9" y="45.48" text-anchor="end">1</text><text x="38.9" y="12.00" text-anchor="end">1.2</text></g>
<text x="195.4" y="245.1" text-anchor="middle" font-size="13.8" fill="#262626" stroke="#262626" stroke-width="0.25" textLength="150" lengthAdjust="spacingAndGlyphs">Gate Sequence Shift [ns]</text>
<text transform="translate(12.1,108.0) rotate(-90)" x="0" y="0" text-anchor="middle" font-size="13.4" fill="#262626" stroke="#262626" stroke-width="0.25" textLength="129" lengthAdjust="spacingAndGlyphs">Normalized Intensity</text>
<g font-size="17" fill="#000" stroke="#000" stroke-width="0.25"><text x="88.0" y="36.7" textLength="79.3" lengthAdjust="spacingAndGlyphs">Rise Time:</text><text x="87.2" y="59.3" textLength="51.4" lengthAdjust="spacingAndGlyphs">378 ps</text><text x="87.9" y="97.8" textLength="73.5" lengthAdjust="spacingAndGlyphs">Fall Time:</text><text x="87.2" y="120.9" textLength="51.4" lengthAdjust="spacingAndGlyphs">617 ps</text><text x="87.6" y="161.1" textLength="99.3" lengthAdjust="spacingAndGlyphs">Gate Length:</text><text x="88.2" y="182.6" textLength="54.9" lengthAdjust="spacingAndGlyphs">13.1 ns</text></g>
</svg>
</body></html>
